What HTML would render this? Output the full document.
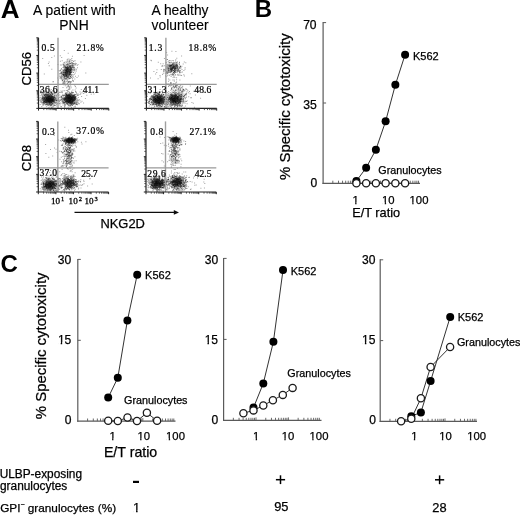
<!DOCTYPE html>
<html><head><meta charset="utf-8"><style>
html,body{margin:0;padding:0;background:#fff;}
svg{display:block;}
</style></head><body>
<svg width="520" height="515" viewBox="0 0 520 515">
<filter id="gb" x="0" y="0" width="100%" height="100%"><feGaussianBlur stdDeviation="0.35"/></filter>
<g filter="url(#gb)">
<rect width="520" height="515" fill="#fff"/>
<text x="0.70" y="17.58" font-size="26.00" font-family="Liberation Sans, sans-serif" font-weight="bold" text-anchor="start" >A</text>

<text x="254.80" y="16.58" font-size="24.00" font-family="Liberation Sans, sans-serif" font-weight="bold" text-anchor="start" >B</text>

<text x="0.46" y="271.95" font-size="24.00" font-family="Liberation Sans, sans-serif" font-weight="bold" text-anchor="start" >C</text>

<text x="33.05" y="14.58" font-size="13.91" font-family="Liberation Sans, sans-serif" font-weight="normal" text-anchor="start" stroke="#000" stroke-width="0.12">A patient with</text>

<text x="59.34" y="29.60" font-size="13.91" font-family="Liberation Sans, sans-serif" font-weight="normal" text-anchor="start" stroke="#000" stroke-width="0.12">PNH</text>

<text x="151.60" y="14.55" font-size="13.83" font-family="Liberation Sans, sans-serif" font-weight="normal" text-anchor="start" stroke="#000" stroke-width="0.12">A healthy</text>

<text x="151.62" y="29.80" font-size="13.83" font-family="Liberation Sans, sans-serif" font-weight="normal" text-anchor="start" stroke="#000" stroke-width="0.12">volunteer</text>

<text transform="translate(30.95,68.66) rotate(-90)" font-size="13.17" font-family="Liberation Sans, sans-serif" font-weight="normal" text-anchor="middle" stroke="#000" stroke-width="0.25">CD56</text>

<text transform="translate(30.95,158.18) rotate(-90)" font-size="13.17" font-family="Liberation Sans, sans-serif" font-weight="normal" text-anchor="middle" stroke="#000" stroke-width="0.25">CD8</text>

<filter id="bl" x="-10%" y="-10%" width="120%" height="120%"><feGaussianBlur stdDeviation="0.65"/></filter>
<g fill="#000" fill-opacity="0.36" filter="url(#bl)"><path d="M51.6 99.8h1v1h-1zm-1.3 -0.4h1v1h-1zm1.7 -3.5h1v1h-1zm-4.7 4.4h1v1h-1zm1 0.7h1v1h-1zm2.6 1.2h1v1h-1zm5.3 -6h1v1h-1zm-7.3 4.2h1v1h-1zm-4.7 -5.1h1v1h-1zm4.3 0.9h1v1h-1zm-1.9 4.6h1v1h-1zm1.9 -0.1h1v1h-1zm-4.3 -2.2h1v1h-1zm-2.3 1.1h1v1h-1zm9.1 2.2h1v1h-1zm5 -0.4h1v1h-1zm-13.5 -4.3h1v1h-1zm6.1 -0.2h1v1h-1zm-1.9 1.9h1v1h-1zm1.8 0.4h1v1h-1zm-5.3 -0.3h1v1h-1zm6.7 0.3h1v1h-1zm0.3 1.7h1v1h-1zm-2.3 -5.4h1v1h-1zm0.4 1.6h1v1h-1zm0.1 -0.3h1v1h-1zm2.2 2.7h1v1h-1zm1 -0.4h1v1h-1zm-1.4 5.1h1v1h-1zm-0.8 -2.5h1v1h-1zm1.2 -0.7h1v1h-1zm-4.4 -1.6h1v1h-1zm0.5 -0.7h1v1h-1zm5.6 -2.7h1v1h-1zm-2.5 2.3h1v1h-1zm-2.6 -1.1h1v1h-1zm2.9 6.4h1v1h-1zm6.2 -9.1h1v1h-1zm-10.3 5.8h1v1h-1zm2.9 -1.8h1v1h-1zm2.1 -3.7h1v1h-1zm1.7 2.7h1v1h-1zm-7.6 2.1h1v1h-1zm1.9 0.3h1v1h-1zm1.2 -1.3h1v1h-1zm-1.2 2.2h1v1h-1zm0.7 -3.4h1v1h-1zm-1.1 6.8h1v1h-1zm2.4 -3h1v1h-1zm-4 -7.2h1v1h-1zm4.1 5.4h1v1h-1zm4.1 -3.4h1v1h-1zm-2.1 7.8h1v1h-1zm-4.4 -3.5h1v1h-1zm2.7 0.6h1v1h-1zm-1.8 -0.4h1v1h-1zm2.4 -5.3h1v1h-1zm-3.5 2.3h1v1h-1zm0.9 3.3h1v1h-1zm1.3 -2.9h1v1h-1zm1.3 4.5h1v1h-1zm-1.6 -2.6h1v1h-1zm3.4 2.9h1v1h-1zm-0.9 -4.8h1v1h-1zm-3.8 3.6h1v1h-1zm4.7 -1h1v1h-1zm-3.3 -2.3h1v1h-1zm-1.7 1h1v1h-1zm3.5 -1.5h1v1h-1zm5.2 5.5h1v1h-1zm-10.5 -6.1h1v1h-1zm4.9 2.9h1v1h-1zm-3 -2h1v1h-1zm3 0.3h1v1h-1zm-4.2 -0.3h1v1h-1zm3.2 0.5h1v1h-1zm0 5.3h1v1h-1zm-2.2 -9.3h1v1h-1zm2.2 4.7h1v1h-1zm4.6 2.9h1v1h-1zm-5.9 -2.2h1v1h-1zm-0.7 -2.5h1v1h-1zm4.4 1.9h1v1h-1zm-2.1 -1.8h1v1h-1zm1.2 1.3h1v1h-1zm-1.3 -6.3h1v1h-1zm2.7 6.4h1v1h-1zm1 1.9h1v1h-1zm-3.8 -2.3h1v1h-1zm2.2 -1.3h1v1h-1zm0.3 5.3h1v1h-1zm2.8 -0.2h1v1h-1zm-6.1 -5.9h1v1h-1zm1.8 3.4h1v1h-1zm-5.5 1.4h1v1h-1zm4.7 -5.9h1v1h-1zm1.8 0.7h1v1h-1zm-1.6 -0.8h1v1h-1zm2.3 2.6h1v1h-1zm-2.1 4.4h1v1h-1zm4.1 2.9h1v1h-1zm-10.7 -5.1h1v1h-1zm2 0.1h1v1h-1zm-2.5 -1.5h1v1h-1zm11.2 -2.2h1v1h-1zm-7.1 -0.2h1v1h-1zm3.8 2.3h1v1h-1zm-2.2 -2.8h1v1h-1zm2.9 4.5h1v1h-1zm-5.9 1.7h1v1h-1zm2 -1.1h1v1h-1zm3.7 -1.9h1v1h-1zm-0.1 5.6h1v1h-1zm-1.5 -1.6h1v1h-1zm-0.3 -5.1h1v1h-1zm-2.2 3h1v1h-1zm7.4 -4.7h1v1h-1zm-7.5 5.5h1v1h-1zm-4.7 -4.5h1v1h-1zm10.5 1.6h1v1h-1zm-6.4 -0.5h1v1h-1zm-4.2 -0.3h1v1h-1zm6.3 0.5h1v1h-1zm4.1 0.9h1v1h-1zm-0.1 -6.2h1v1h-1zm3.6 7.2h1v1h-1zm-4 -0.3h1v1h-1zm-8.3 1.3h1v1h-1zm9.4 -4.5h1v1h-1zm-3.7 2.4h1v1h-1zm-1.9 -0.5h1v1h-1zm-6.9 3.1h1v1h-1zm3.6 -7.9h1v1h-1zm14.5 6h1v1h-1zm-13.7 0.2h1v1h-1zm-1.3 -2.2h1v1h-1zm5.5 1.4h1v1h-1zm9.6 3.2h1v1h-1zm-16.1 1.6h1v1h-1zm-0.7 -7.1h1v1h-1zm3.6 -2.8h1v1h-1zm7.5 2.5h1v1h-1zm-1.5 -2.5h1v1h-1zm-3.2 4h1v1h-1zm-2 -4.9h1v1h-1zm4.5 6.2h1v1h-1zm-3.1 0h1v1h-1zm2.4 -0.1h1v1h-1zm-5.1 4.5h1v1h-1zm26.3 -5.2h1v1h-1zm-2.5 0.4h1v1h-1zm-3.6 -3.2h1v1h-1zm6.7 2.5h1v1h-1zm-9.1 4.1h1v1h-1zm6.9 -6.8h1v1h-1zm3 1h1v1h-1zm-9 -1.9h1v1h-1zm2.6 7h1v1h-1zm1.2 -4h1v1h-1zm3.8 1h1v1h-1zm-0.4 -0.5h1v1h-1zm-2.2 0.9h1v1h-1zm-1.8 0h1v1h-1zm6.8 -0.8h1v1h-1zm-0.3 -0.1h1v1h-1zm-8.1 3.4h1v1h-1zm3.1 -4.3h1v1h-1zm1.4 -0.5h1v1h-1zm-1.9 4.5h1v1h-1zm5.7 -1.8h1v1h-1zm-2.8 -1h1v1h-1zm-6.3 3.1h1v1h-1zm3.6 -5h1v1h-1zm3.3 1h1v1h-1zm-2.3 -3.4h1v1h-1zm-2.8 5.2h1v1h-1zm1.6 2.1h1v1h-1zm2.6 -1.3h1v1h-1zm-3.9 -1.4h1v1h-1zm0 -1.5h1v1h-1zm1.5 -1.1h1v1h-1zm0.4 -1.6h1v1h-1zm-2.7 0.3h1v1h-1zm4.6 5.2h1v1h-1zm-0.2 -1h1v1h-1zm3.6 0.8h1v1h-1zm-5.3 -3h1v1h-1zm0.6 0.6h1v1h-1zm2.5 5.1h1v1h-1zm-2.3 0h1v1h-1zm-1.9 -4.2h1v1h-1zm3.1 -3.8h1v1h-1zm-0.8 3.4h1v1h-1zm-3.1 0.2h1v1h-1zm7.7 2.1h1v1h-1zm-4 -3.3h1v1h-1zm-0.1 -1.9h1v1h-1zm1.2 1.5h1v1h-1zm0.1 3.1h1v1h-1zm-3.1 -1.1h1v1h-1zm5.3 -5h1v1h-1zm-5.4 3.8h1v1h-1zm0.1 3.1h1v1h-1zm3.6 -3.4h1v1h-1zm-1.2 1.4h1v1h-1zm-1.6 -0.5h1v1h-1zm-1.7 2.1h1v1h-1zm4.1 -5.6h1v1h-1zm-0.4 5.6h1v1h-1zm-0.6 -3.7h1v1h-1zm-3.3 2.8h1v1h-1zm3.1 0.6h1v1h-1zm2 -0.9h1v1h-1zm1.7 3.7h1v1h-1zm-4.7 -6.7h1v1h-1zm-2.1 8h1v1h-1zm2.2 -5.7h1v1h-1zm0.4 -3.9h1v1h-1zm0.4 2.5h1v1h-1zm-5.8 3.9h1v1h-1zm3.5 -0.1h1v1h-1zm1.5 -4.3h1v1h-1zm1.8 3.3h1v1h-1zm-1.5 -4.9h1v1h-1zm-1.3 3.7h1v1h-1zm1.6 3.1h1v1h-1zm3.7 -5.4h1v1h-1zm0.1 -1.6h1v1h-1zm-1.1 2.3h1v1h-1zm-0.3 2.5h1v1h-1zm-3.1 -5.8h1v1h-1zm1 5.8h1v1h-1zm-5 -0.7h1v1h-1zm4 -4.1h1v1h-1zm0.1 4.5h1v1h-1zm-0.9 0.2h1v1h-1zm-4.3 -1.2h1v1h-1zm8.4 -0.6h1v1h-1zm-4.9 0.1h1v1h-1zm1.2 3.4h1v1h-1zm5.8 -2.7h1v1h-1zm-5.7 1.3h1v1h-1zm1.7 -0.4h1v1h-1zm0.2 0.5h1v1h-1zm-0.1 3.1h1v1h-1zm-2.2 -7.6h1v1h-1zm-7.8 11h1v1h-1zm11.2 -8.7h1v1h-1zm-4.4 4.5h1v1h-1zm-6.6 -5.5h1v1h-1zm13.8 2.8h1v1h-1zm-6.6 3.4h1v1h-1zm1.2 -3.9h1v1h-1zm-1.6 -2.2h1v1h-1zm6.5 0.5h1v1h-1zm-3.1 6.6h1v1h-1zm-0.5 -10.3h1v1h-1zm-4.2 9.3h1v1h-1zm-4.3 -8.5h1v1h-1zm6.5 8.2h1v1h-1zm-3.3 -1.3h1v1h-1zm8.9 -5.1h1v1h-1zm-5.7 1.8h1v1h-1zm0.5 -4.6h1v1h-1zm-1.8 4h1v1h-1zm3.9 4.9h1v1h-1zm-5.4 -8h1v1h-1zm0.9 3h1v1h-1zm2.8 -3.7h1v1h-1zm2.7 7.1h1v1h-1zm-2.7 -2.9h1v1h-1zm-2.6 1.2h1v1h-1zm4.4 1.6h1v1h-1zm-4.4 -1.2h1v1h-1zm5.8 -1.2h1v1h-1zm-1.9 2.4h1v1h-1zm-0.9 -4h1v1h-1zm-7.4 2.1h1v1h-1zm11.4 1.6h1v1h-1zm-7.4 -3h1v1h-1zm0.3 6h1v1h-1zm5.7 -5.7h1v1h-1zm-2.7 2.3h1v1h-1zm-1.6 4.8h1v1h-1zm-13.9 -9.2h1v1h-1zm16.7 2.4h1v1h-1zm-7.8 0.8h1v1h-1zm8 -4.1h1v1h-1zm1.4 7.8h1v1h-1zm-5.2 -7.2h1v1h-1zm1.4 3.3h1v1h-1zm12 -9.2h1v1h-1zm-14.8 8.4h1v1h-1zm2.5 -3.5h1v1h-1zm-7.4 5.1h1v1h-1zm6.1 0.9h1v1h-1zm-1.1 -25.2h1v1h-1zm-1.3 0.1h1v1h-1zm2.2 -5.8h1v1h-1zm-2.3 6h1v1h-1zm4 -1h1v1h-1zm-2.9 1.7h1v1h-1zm-1.8 -2.2h1v1h-1zm2.7 -3.2h1v1h-1zm1.7 2.8h1v1h-1zm-4.3 6.2h1v1h-1zm5.3 -10.1h1v1h-1zm2.6 -4.5h1v1h-1zm-3.1 7.6h1v1h-1zm-2.9 -1.6h1v1h-1zm-1.1 7.5h1v1h-1zm1.3 -8.2h1v1h-1zm3.8 2.9h1v1h-1zm-4.4 -2.3h1v1h-1zm-0.2 2.3h1v1h-1zm1.3 -0.4h1v1h-1zm-6.3 2.9h1v1h-1zm5.9 -8.6h1v1h-1zm1.6 7.9h1v1h-1zm-0.2 -6.5h1v1h-1zm-1.6 7.3h1v1h-1zm-2.8 -1.9h1v1h-1zm2.5 -2.3h1v1h-1zm-1.2 0.6h1v1h-1zm-6.6 7.5h1v1h-1zm13.3 -14.3h1v1h-1zm-4.4 7.6h1v1h-1zm-7.2 3.9h1v1h-1zm6.4 -9.3h1v1h-1zm1.3 2.8h1v1h-1zm1 1.4h1v1h-1zm-0.8 -8.4h1v1h-1zm2 10.3h1v1h-1zm-2.2 3.2h1v1h-1zm-1.7 -8.9h1v1h-1zm4.2 6.3h1v1h-1zm-3.1 -10.3h1v1h-1zm-5.6 9.4h1v1h-1zm5.8 -5h1v1h-1zm-0.4 4.5h1v1h-1zm1.9 -3.3h1v1h-1zm1.1 -6.4h1v1h-1zm-6.6 11.8h1v1h-1zm5.6 -4.1h1v1h-1zm-1 1.6h1v1h-1zm-0.3 -2.6h1v1h-1zm-2.1 0h1v1h-1zm-0.1 -1.4h1v1h-1zm-3.1 11.1h1v1h-1zm3 -6.7h1v1h-1zm-2.1 1h1v1h-1zm3.1 0.1h1v1h-1zm9.3 -9.7h1v1h-1zm-4.6 8.1h1v1h-1zm-0.6 3.8h1v1h-1zm-6.7 6.8h1v1h-1zm0.7 0.3h1v1h-1zm12.4 -6.2h1v1h-1zm-13.5 -7h1v1h-1zm7.7 -1.9h1v1h-1zm-5.7 3.3h1v1h-1zm-2 0.5h1v1h-1zm-1.3 -11.5h1v1h-1zm18.7 1.3h1v1h-1zm-12.6 12.2h1v1h-1zm1.5 -1.7h1v1h-1zm-1.4 -7.3h1v1h-1zm5.7 4.1h1v1h-1zm-6.8 5h1v1h-1zm3.3 -4.1h1v1h-1zm-5.2 -3.8h1v1h-1zm1.2 11.7h1v1h-1zm1.7 -8.7h1v1h-1zm-10.2 13.4h1v1h-1zm5.1 -12.8h1v1h-1zm8.9 -0.7h1v1h-1zm1.3 -8h1v1h-1zm-11.4 10.4h1v1h-1zm6.6 14.2h1v1h-1zm0.5 -4.7h1v1h-1zm-1.8 -3.5h1v1h-1zm3.6 4.6h1v1h-1zm0.9 10h1v1h-1zm-7.6 -16.6h1v1h-1zm0.5 1.2h1v1h-1zm0.9 6.1h1v1h-1zm4 1.5h1v1h-1zm3.9 -3.8h1v1h-1zm-0.7 3.7h1v1h-1zm-8.1 6.3h1v1h-1zm19.4 -35.4h1v1h-1zm-39.8 18.6h1v1h-1zm37.7 18.7h1v1h-1zm-11.1 7.2h1v1h-1z"/><path d="M51.4 99.4h1v1h-1zm-5.4 -1.7h1v1h-1zm0.6 5.1h1v1h-1zm3.5 -1.2h1v1h-1zm-3.3 -4.5h1v1h-1zm2.9 -1.7h1v1h-1zm-5.3 5.3h1v1h-1zm8.1 -1.1h1v1h-1zm-2.5 0.5h1v1h-1zm0 -1.6h1v1h-1zm-1.9 -0.4h1v1h-1zm2 0.7h1v1h-1zm-3.2 -0.2h1v1h-1zm3.5 -3.2h1v1h-1zm-1.3 4.9h1v1h-1zm-3.1 2.1h1v1h-1zm-3 -0.4h1v1h-1zm5.2 -4.6h1v1h-1zm-1.8 3.7h1v1h-1zm2.4 -2h1v1h-1zm0.6 -1.7h1v1h-1zm0.6 3.7h1v1h-1zm-6.1 -3.7h1v1h-1zm-1.6 -0.6h1v1h-1zm8.4 3.7h1v1h-1zm-0.9 3.9h1v1h-1zm0.3 -3.5h1v1h-1zm-0.8 -0.2h1v1h-1zm1 -7.9h1v1h-1zm-2 7.2h1v1h-1zm-1.9 0h1v1h-1zm6.3 0.4h1v1h-1zm-4.6 0.1h1v1h-1zm1 -1.6h1v1h-1zm-0.8 -0.1h1v1h-1zm0 -1.5h1v1h-1zm0.6 -1.7h1v1h-1zm1 2.8h1v1h-1zm-3.3 2.1h1v1h-1zm-3 2.4h1v1h-1zm4.7 -3.4h1v1h-1zm-1.2 2.9h1v1h-1zm1.5 -1.8h1v1h-1zm1.2 -3h1v1h-1zm-1.5 1.7h1v1h-1zm2.6 -0.9h1v1h-1zm-1.5 -1.1h1v1h-1zm-2 -6.4h1v1h-1zm1.1 7.3h1v1h-1zm1.9 0.3h1v1h-1zm-6.3 4h1v1h-1zm3.2 -2.1h1v1h-1zm0.5 -2.6h1v1h-1zm3 1.5h1v1h-1zm-1 0.5h1v1h-1zm-0.1 -1.4h1v1h-1zm0.2 1.9h1v1h-1zm-2.3 -1.4h1v1h-1zm1.5 2.2h1v1h-1zm-4.3 -0.8h1v1h-1zm6.2 -0.1h1v1h-1zm-3.4 -1.5h1v1h-1zm4.4 4.7h1v1h-1zm-5.2 -6.2h1v1h-1zm0.1 2.1h1v1h-1zm-0.7 -2.3h1v1h-1zm5.6 2.6h1v1h-1zm-5 0.1h1v1h-1zm6.2 0.5h1v1h-1zm-1 -1.2h1v1h-1zm-2.3 2.8h1v1h-1zm-3 -7.2h1v1h-1zm1.3 2.4h1v1h-1zm-2.4 -0.8h1v1h-1zm3.7 2.7h1v1h-1zm5 -2.9h1v1h-1zm-7.5 4.3h1v1h-1zm-0.8 1.4h1v1h-1zm0.6 -3.3h1v1h-1zm2 -2.9h1v1h-1zm2.1 5.1h1v1h-1zm-3.8 -6h1v1h-1zm1.6 6.2h1v1h-1zm-0.9 -0.7h1v1h-1zm5.4 -1.9h1v1h-1zm-6.4 -1.4h1v1h-1zm0.4 0.7h1v1h-1zm1.1 3.6h1v1h-1zm-3.4 -0.6h1v1h-1zm9.9 0.9h1v1h-1zm-8.7 -1.7h1v1h-1zm6 3h1v1h-1zm-9.4 -9.1h1v1h-1zm11.7 2.9h1v1h-1zm-5.4 5.2h1v1h-1zm-8.6 -0.4h1v1h-1zm11.4 2.3h1v1h-1zm-1.9 -2.9h1v1h-1zm0.6 -9.8h1v1h-1zm-4.5 4h1v1h-1zm9.8 4.6h1v1h-1zm-2.9 -6.1h1v1h-1zm0.9 1.1h1v1h-1zm4.6 6.3h1v1h-1zm-6 -1.7h1v1h-1zm2.1 2.4h1v1h-1zm-4.9 1.2h1v1h-1zm-5.1 0.9h1v1h-1zm1.1 -2.5h1v1h-1zm4.2 5.1h1v1h-1zm-5.6 -5.5h1v1h-1zm5.7 -10.4h1v1h-1zm5.7 7.5h1v1h-1zm-6.1 -4.1h1v1h-1zm-3.3 4h1v1h-1zm3 3.4h1v1h-1zm1.4 -2.5h1v1h-1zm-4.8 2.9h1v1h-1zm-4.5 -11h1v1h-1zm16.3 9.4h1v1h-1zm-8.8 1h1v1h-1zm7.7 -1h1v1h-1zm-9.7 -7.1h1v1h-1zm4.7 12h1v1h-1zm-8.8 0.1h1v1h-1zm-1.6 -3.3h1v1h-1zm8.2 -8.6h1v1h-1zm-4.2 -1.3h1v1h-1zm-0.9 0.2h1v1h-1zm-0.4 2.1h1v1h-1zm4.8 1.2h1v1h-1zm-7.6 -4.3h1v1h-1zm5.6 11.3h1v1h-1zm5.6 -1.6h1v1h-1zm-9.6 -6h1v1h-1zm13.5 11h1v1h-1zm-3.7 -15.3h1v1h-1zm-11 3.6h1v1h-1zm7.9 5.1h1v1h-1zm-7.6 -1.3h1v1h-1zm27.5 1.4h1v1h-1zm1.8 -1.7h1v1h-1zm-5.8 -0.5h1v1h-1zm7.2 2.2h1v1h-1zm-6.9 -3.2h1v1h-1zm2 4.5h1v1h-1zm2.8 -2.8h1v1h-1zm2.5 0.6h1v1h-1zm0.4 1.1h1v1h-1zm-5.2 -1.1h1v1h-1zm3.7 2.5h1v1h-1zm-0.2 -3.5h1v1h-1zm-1.1 5.5h1v1h-1zm-2.4 -2.7h1v1h-1zm2.7 -1.8h1v1h-1zm4.2 0.5h1v1h-1zm-5.8 -0.8h1v1h-1zm0.6 -1.9h1v1h-1zm3.4 1.2h1v1h-1zm-6.6 1.9h1v1h-1zm-0.7 1.3h1v1h-1zm0.4 2.6h1v1h-1zm-0.8 -5.3h1v1h-1zm-1.5 0h1v1h-1zm8.1 4.2h1v1h-1zm0.4 -5.3h1v1h-1zm-3.8 2.7h1v1h-1zm-0.6 0.5h1v1h-1zm3.1 -3.1h1v1h-1zm-2.3 3.9h1v1h-1zm1.6 -1.3h1v1h-1zm1.5 0.6h1v1h-1zm-8.7 -3.5h1v1h-1zm8.6 3.2h1v1h-1zm-0.5 -1.9h1v1h-1zm-3.3 1.2h1v1h-1zm0.4 1.1h1v1h-1zm2.6 -1.6h1v1h-1zm0.6 1.4h1v1h-1zm-5.6 0h1v1h-1zm4.5 -3.8h1v1h-1zm-0.9 3.6h1v1h-1zm-2.3 -1.5h1v1h-1zm2.8 6.9h1v1h-1zm0.2 -5.2h1v1h-1zm3.7 -4.6h1v1h-1zm-3.6 5.4h1v1h-1zm-1 -1.9h1v1h-1zm1.4 1h1v1h-1zm-4 -1.6h1v1h-1zm2.5 3.6h1v1h-1zm2 -2.6h1v1h-1zm-4.1 -0.9h1v1h-1zm4.9 0.4h1v1h-1zm-3.9 -0.8h1v1h-1zm-0.7 -2.7h1v1h-1zm5.3 2.9h1v1h-1zm-0.5 -0.5h1v1h-1zm-3.1 -2.1h1v1h-1zm2.6 1h1v1h-1zm-0.2 0.8h1v1h-1zm-0.1 6.1h1v1h-1zm-5.2 -3.1h1v1h-1zm0.5 2.9h1v1h-1zm1.9 -8.5h1v1h-1zm0.5 2.2h1v1h-1zm-1.1 3.4h1v1h-1zm-3.2 -1.4h1v1h-1zm-2.4 -3.8h1v1h-1zm4 2.9h1v1h-1zm5.3 0.3h1v1h-1zm-3.8 3.1h1v1h-1zm-1.4 -7.5h1v1h-1zm-3.8 1.5h1v1h-1zm1.7 -0.5h1v1h-1zm1.2 5.9h1v1h-1zm4.4 -4.7h1v1h-1zm1.9 5.7h1v1h-1zm-8.3 -0.3h1v1h-1zm5 -1.2h1v1h-1zm0.7 -1.5h1v1h-1zm-0.9 -4.3h1v1h-1zm0.2 2.5h1v1h-1zm3.1 1.9h1v1h-1zm-5.1 -2.4h1v1h-1zm5.7 6.5h1v1h-1zm-2.5 -2.1h1v1h-1zm-4.7 -3.8h1v1h-1zm1.3 1.6h1v1h-1zm1.1 -4.1h1v1h-1zm1.8 3.9h1v1h-1zm-2.8 -1h1v1h-1zm5.7 2.8h1v1h-1zm-6.9 -4.4h1v1h-1zm0 -3.3h1v1h-1zm5.6 7h1v1h-1zm0.1 0.1h1v1h-1zm-3.6 -1.7h1v1h-1zm1.1 2.5h1v1h-1zm-1.2 -4.1h1v1h-1zm1.9 2.2h1v1h-1zm0.1 0.9h1v1h-1zm-2.2 0.6h1v1h-1zm1.4 -2.8h1v1h-1zm1.4 -2.1h1v1h-1zm-1.4 5.3h1v1h-1zm-1.6 0.6h1v1h-1zm4.4 -1h1v1h-1zm-3.8 0h1v1h-1zm4.7 -0.4h1v1h-1zm-0.3 -0.1h1v1h-1zm-7.1 0.1h1v1h-1zm4.6 0.5h1v1h-1zm-7.5 -7.8h1v1h-1zm-3.3 7.9h1v1h-1zm15.9 -5.6h1v1h-1zm-6.3 2.1h1v1h-1zm6 4.6h1v1h-1zm-1.3 -9.1h1v1h-1zm4.8 1.3h1v1h-1zm-2.9 3.8h1v1h-1zm-11.3 0.9h1v1h-1zm5.4 5.2h1v1h-1zm0.2 -11.1h1v1h-1zm11.4 9.4h1v1h-1zm-14.6 0.2h1v1h-1zm7.5 -7.2h1v1h-1zm-1.6 3.2h1v1h-1zm-6.4 -2.8h1v1h-1zm3 7h1v1h-1zm9.2 1h1v1h-1zm-11.5 -2.6h1v1h-1zm10.8 -2.1h1v1h-1zm-5.5 -6.6h1v1h-1zm7.7 11.4h1v1h-1zm-20.4 -0.5h1v1h-1zm18 1.2h1v1h-1zm-7.9 1.2h1v1h-1zm-7.9 -9.7h1v1h-1zm8.5 -1.2h1v1h-1zm4.3 9.2h1v1h-1zm0.9 -3.8h1v1h-1zm-15.6 -7.9h1v1h-1zm0.5 5.3h1v1h-1zm6.2 -4.4h1v1h-1zm9.1 -3.2h1v1h-1zm-9.6 9.3h1v1h-1zm-4.6 7.4h1v1h-1zm6.6 -11h1v1h-1zm3.7 3.3h1v1h-1zm12.1 -5.3h1v1h-1zm-13.5 4.9h1v1h-1zm2 0.4h1v1h-1zm-6.9 -1h1v1h-1zm0.1 7h1v1h-1zm6.3 -5.1h1v1h-1zm-6.8 7.1h1v1h-1zm3.7 -12.5h1v1h-1zm-5.5 7.1h1v1h-1zm15.8 2.3h1v1h-1zm-8.2 -0.7h1v1h-1zm4.4 0.4h1v1h-1zm0 -5h1v1h-1zm-16.5 -5h1v1h-1zm13.6 10.1h1v1h-1zm-4 -1h1v1h-1zm1.8 -10h1v1h-1zm12.3 8.6h1v1h-1zm-19.9 -3h1v1h-1zm4.7 3.2h1v1h-1zm10.4 -7.1h1v1h-1zm-11.3 -26.6h1v1h-1zm3.8 2.2h1v1h-1zm-0.9 -1.8h1v1h-1zm-1.5 -3.5h1v1h-1zm5.2 2.7h1v1h-1zm-4.4 4.4h1v1h-1zm-2 3.2h1v1h-1zm3.2 -14.1h1v1h-1zm-7.3 13.1h1v1h-1zm4.7 -1.1h1v1h-1zm3.3 1.5h1v1h-1zm-1.6 -6.4h1v1h-1zm2.4 -0.9h1v1h-1zm3.8 -3.2h1v1h-1zm-6.7 5.3h1v1h-1zm4.5 -3h1v1h-1zm-3.5 4.9h1v1h-1zm-4 -1.7h1v1h-1zm-1.5 -4.3h1v1h-1zm0.6 13.2h1v1h-1zm2 -4.1h1v1h-1zm1.3 2.8h1v1h-1zm0.1 -12.1h1v1h-1zm4.2 4.5h1v1h-1zm-5.4 1.1h1v1h-1zm1.5 -2.5h1v1h-1zm3.4 8.2h1v1h-1zm-3.3 -6.1h1v1h-1zm-2.2 3.3h1v1h-1zm-4.5 -0.4h1v1h-1zm7 -0.9h1v1h-1zm2.3 -5.4h1v1h-1zm-1.5 3.8h1v1h-1zm-3.4 4.3h1v1h-1zm5.4 -7.3h1v1h-1zm0.6 -0.4h1v1h-1zm-4.2 7.8h1v1h-1zm1.1 -6.9h1v1h-1zm-7.2 9.3h1v1h-1zm9.6 -10.4h1v1h-1zm2.5 1.3h1v1h-1zm-2.6 -4.6h1v1h-1zm-2.4 0.8h1v1h-1zm-4.6 7.1h1v1h-1zm5.5 -1.2h1v1h-1zm-2.6 8.6h1v1h-1zm-4.8 -2.2h1v1h-1zm5.1 -6.8h1v1h-1zm-3.6 12.9h1v1h-1zm2.3 -8.2h1v1h-1zm-2.3 4.9h1v1h-1zm3.4 -5.1h1v1h-1zm2.7 -2.6h1v1h-1zm-4.2 3.2h1v1h-1zm6.2 -2.7h1v1h-1zm-3.2 -0.6h1v1h-1zm-1.4 3.8h1v1h-1zm-2.4 -3.8h1v1h-1zm2 -0.2h1v1h-1zm-0.7 -3.8h1v1h-1zm0 3h1v1h-1zm3.5 -2h1v1h-1zm-2.8 8h1v1h-1zm4.1 -3.8h1v1h-1zm-10.2 -2.3h1v1h-1zm3.2 2.3h1v1h-1zm6.3 -3.8h1v1h-1zm-4.7 7.6h1v1h-1zm2.6 -1.2h1v1h-1zm-6.8 -1.4h1v1h-1zm2.9 -1.9h1v1h-1zm0.7 -5.1h1v1h-1zm6.9 2.6h1v1h-1zm-2.9 0.2h1v1h-1zm1.9 -2.1h1v1h-1zm-3.3 9.7h1v1h-1zm-7.1 0.8h1v1h-1zm12.3 -14.3h1v1h-1zm-2.4 5.2h1v1h-1zm1.5 -6.6h1v1h-1zm-8.4 25h1v1h-1zm1.8 -6.2h1v1h-1zm4.9 8.1h1v1h-1zm-3.9 -9.6h1v1h-1zm1.9 7.2h1v1h-1zm1.3 -5.4h1v1h-1zm5.8 4.1h1v1h-1zm-3.7 7.1h1v1h-1zm0.1 -17.8h1v1h-1zm1.7 15.1h1v1h-1zm-2.7 -7.3h1v1h-1zm-2 -29.5h1v1h-1zm2.8 6.6h1v1h-1zm2 10.8h1v1h-1zm-8.7 -20.1h1v1h-1zm-2.6 6.9h1v1h-1zm11.1 5.9h1v1h-1zm-12.4 -2.1h1v1h-1zm11.2 10.6h1v1h-1zm0.2 -13.5h1v1h-1zm-0.6 2.6h1v1h-1zm-5 3.5h1v1h-1zm-13.1 17.6h1v1h-1zm-1.3 -24.6h1v1h-1zm22.5 40.9h1v1h-1zm2.6 -3.6h1v1h-1zm17 -0.8h1v1h-1z"/><path d="M47.8 100h1v1h-1zm-1.9 -1.7h1v1h-1zm3.7 0.9h1v1h-1zm-0.8 -3.4h1v1h-1zm-3.4 5.2h1v1h-1zm5.5 -6.4h1v1h-1zm-1.5 5.7h1v1h-1zm-3.4 0.7h1v1h-1zm2.9 -0.9h1v1h-1zm-0.9 -0.7h1v1h-1zm6.1 0.1h1v1h-1zm-6.8 -1.6h1v1h-1zm8 1.7h1v1h-1zm-7.4 -0.9h1v1h-1zm3.7 -6.1h1v1h-1zm-0.9 6.5h1v1h-1zm-5.1 -3.7h1v1h-1zm6.4 5.1h1v1h-1zm-0.3 1.7h1v1h-1zm1.8 -3.3h1v1h-1zm-6.8 -4.6h1v1h-1zm6.5 5.5h1v1h-1zm-3.9 -0.6h1v1h-1zm-4.1 -3.5h1v1h-1zm4.6 4h1v1h-1zm-0.1 -1.3h1v1h-1zm-2 2.9h1v1h-1zm1.1 3.5h1v1h-1zm-1.3 -4h1v1h-1zm0.3 -0.4h1v1h-1zm0.7 -5h1v1h-1zm-1.9 4.7h1v1h-1zm5 -3.3h1v1h-1zm-3.6 -2.2h1v1h-1zm2.7 6.4h1v1h-1zm-4 -5.4h1v1h-1zm3.6 4.8h1v1h-1zm-4.8 -4.1h1v1h-1zm5 3.3h1v1h-1zm-2.5 -7.1h1v1h-1zm-3.7 6.8h1v1h-1zm2.1 0.1h1v1h-1zm0.6 -0.2h1v1h-1zm1.5 -2.8h1v1h-1zm2.1 3.1h1v1h-1zm-6 -0.8h1v1h-1zm9.1 -1.2h1v1h-1zm-5.1 1.5h1v1h-1zm0.5 -0.5h1v1h-1zm4.1 0.4h1v1h-1zm-3.1 -0.7h1v1h-1zm-2.4 -1.8h1v1h-1zm1.1 4.8h1v1h-1zm-2.5 -3.4h1v1h-1zm-4.8 5.4h1v1h-1zm9 -6.3h1v1h-1zm-1 -0.9h1v1h-1zm1.2 5.8h1v1h-1zm-4.1 -2h1v1h-1zm-0.6 4.3h1v1h-1zm-2.3 -2.7h1v1h-1zm7.3 -8.3h1v1h-1zm-3.4 0.9h1v1h-1zm1.6 3.8h1v1h-1zm-3.6 -0.7h1v1h-1zm1.2 0.3h1v1h-1zm0.4 1.6h1v1h-1zm-1.4 -0.3h1v1h-1zm5.1 1h1v1h-1zm0.1 -3h1v1h-1zm-2.5 1.4h1v1h-1zm2.1 2h1v1h-1zm1.3 -4.2h1v1h-1zm-5.8 2.1h1v1h-1zm1.5 2.6h1v1h-1zm6.5 -0.4h1v1h-1zm-5.7 -4h1v1h-1zm-0.3 5.9h1v1h-1zm0.3 -1.6h1v1h-1zm-3.9 -7.2h1v1h-1zm-0.2 6.9h1v1h-1zm2 -2.2h1v1h-1zm3.7 1.8h1v1h-1zm1.4 -4.4h1v1h-1zm0.3 2.8h1v1h-1zm-7.6 2.1h1v1h-1zm5.7 1h1v1h-1zm-5.5 0.8h1v1h-1zm4.5 -0.8h1v1h-1zm0.6 -1.4h1v1h-1zm1.3 0.3h1v1h-1zm2.8 -1.8h1v1h-1zm-6.1 -2.1h1v1h-1zm-0.4 5.5h1v1h-1zm-1.4 -7.7h1v1h-1zm-1.4 3.8h1v1h-1zm0.3 0.6h1v1h-1zm5.6 -2.2h1v1h-1zm-5.3 4.9h1v1h-1zm8.1 -4.2h1v1h-1zm-7.4 4.5h1v1h-1zm2.8 -0.8h1v1h-1zm3 -2.2h1v1h-1zm-6.2 2h1v1h-1zm7 -6h1v1h-1zm-1.9 7.6h1v1h-1zm-6.7 -7.2h1v1h-1zm-2.4 5.7h1v1h-1zm2.8 -2.9h1v1h-1zm9 1.8h1v1h-1zm-3.4 -0.4h1v1h-1zm-6.2 5.1h1v1h-1zm2.1 -7.5h1v1h-1zm7.2 4.6h1v1h-1zm1.6 3.8h1v1h-1zm1.8 -1.3h1v1h-1zm-16.3 -6.7h1v1h-1zm4.3 3.2h1v1h-1zm6.3 0.6h1v1h-1zm-1.8 -3.9h1v1h-1zm2.8 10h1v1h-1zm-2.4 -8.2h1v1h-1zm2.7 0.5h1v1h-1zm-0.5 0.8h1v1h-1zm-3 -1h1v1h-1zm3.5 -2.9h1v1h-1zm-1.6 -2.3h1v1h-1zm-0.4 8.9h1v1h-1zm-6.5 -12.5h1v1h-1zm12.1 8.4h1v1h-1zm-9.3 0h1v1h-1zm1.8 -6.7h1v1h-1zm-6.1 8h1v1h-1zm9.8 -2.2h1v1h-1zm4.8 2h1v1h-1zm-16.5 4.1h1v1h-1zm8.1 -19.3h1v1h-1zm-3.9 13.6h1v1h-1zm6 2.7h1v1h-1zm0.9 1.1h1v1h-1zm2.7 1.4h1v1h-1zm0.2 0.1h1v1h-1zm-8 -3.2h1v1h-1zm6.2 -3.6h1v1h-1zm-0.5 1.6h1v1h-1zm2.8 -0.1h1v1h-1zm-14.4 1.1h1v1h-1zm6.5 1.8h1v1h-1zm7.3 -2.3h1v1h-1zm-12.3 3h1v1h-1zm14 -3.1h1v1h-1zm-10.3 0.5h1v1h-1zm6.5 -1.1h1v1h-1zm6 0.9h1v1h-1zm-15.1 0.8h1v1h-1zm12.6 5.1h1v1h-1zm-4.4 -8.4h1v1h-1zm21.2 0.3h1v1h-1zm-4.1 1.8h1v1h-1zm1.9 0.5h1v1h-1zm2 3.8h1v1h-1zm-0.2 -4h1v1h-1zm-4.4 -2.8h1v1h-1zm1.7 4.3h1v1h-1zm2.6 0.9h1v1h-1zm-0.9 1.3h1v1h-1zm-6.6 -2.3h1v1h-1zm5.6 -2.2h1v1h-1zm-0.8 1.5h1v1h-1zm0.6 -0.2h1v1h-1zm1.1 -1.5h1v1h-1zm4.1 4.6h1v1h-1zm0 -4.8h1v1h-1zm-6.8 3.1h1v1h-1zm1.1 0.3h1v1h-1zm4.6 -1.7h1v1h-1zm-6.5 1.8h1v1h-1zm7.4 -4.1h1v1h-1zm-7 -1h1v1h-1zm-1.2 -0.4h1v1h-1zm4.5 2.9h1v1h-1zm-0.3 -5.3h1v1h-1zm-0.8 10h1v1h-1zm3.3 -6.1h1v1h-1zm-1.6 -1.2h1v1h-1zm-7.1 3.9h1v1h-1zm8.7 -0.3h1v1h-1zm-4.9 -2.7h1v1h-1zm6.2 0.4h1v1h-1zm-3.1 7.5h1v1h-1zm-4.1 -7.8h1v1h-1zm6 5.3h1v1h-1zm-1.6 -7h1v1h-1zm-6.7 4.6h1v1h-1zm3.1 0.8h1v1h-1zm-0.5 -4.5h1v1h-1zm6.8 2.9h1v1h-1zm-4.1 -0.3h1v1h-1zm1.4 -0.8h1v1h-1zm-3.2 -0.8h1v1h-1zm1.5 0.6h1v1h-1zm-1.2 1.7h1v1h-1zm1.8 3.1h1v1h-1zm-0.9 -4.6h1v1h-1zm0.2 -0.7h1v1h-1zm1.4 6.5h1v1h-1zm-1.6 -5.1h1v1h-1zm-3.6 1.7h1v1h-1zm3.1 -1.1h1v1h-1zm-4.5 0.2h1v1h-1zm-0.1 3.1h1v1h-1zm4.1 -2.1h1v1h-1zm1.9 -2.7h1v1h-1zm5.5 1.1h1v1h-1zm-8.7 -2.4h1v1h-1zm2.5 -0.1h1v1h-1zm2.1 0.5h1v1h-1zm-3.9 2.5h1v1h-1zm1 -0.7h1v1h-1zm-0.9 3h1v1h-1zm4.4 -1.2h1v1h-1zm-3.9 -5.8h1v1h-1zm3.5 0.3h1v1h-1zm-5.2 3.6h1v1h-1zm0.2 -4.2h1v1h-1zm4.3 2.5h1v1h-1zm-4.3 4.1h1v1h-1zm5.7 -3h1v1h-1zm-3.7 2.9h1v1h-1zm-0.9 -3.8h1v1h-1zm2.5 2.4h1v1h-1zm-1.6 -4.2h1v1h-1zm2 1.5h1v1h-1zm-5.4 -2.9h1v1h-1zm1.8 7.3h1v1h-1zm6 -4.7h1v1h-1zm-9.5 5.4h1v1h-1zm10.1 -4.3h1v1h-1zm-8.5 0.4h1v1h-1zm-0.2 1.6h1v1h-1zm4.6 1.3h1v1h-1zm-0.1 -2.1h1v1h-1zm-1.7 0.8h1v1h-1zm4.7 4h1v1h-1zm-6 -5.5h1v1h-1zm8.1 -2.3h1v1h-1zm-2.3 0.3h1v1h-1zm-1.1 1.9h1v1h-1zm0.5 -2h1v1h-1zm-2.8 1.3h1v1h-1zm1.1 1.7h1v1h-1zm-1.9 0.2h1v1h-1zm0.5 -3.5h1v1h-1zm-3.8 1.5h1v1h-1zm-1.5 3h1v1h-1zm5.5 -3.9h1v1h-1zm2.3 5.4h1v1h-1zm-1.5 -3.3h1v1h-1zm-0.6 0.5h1v1h-1zm-2.8 -0.2h1v1h-1zm2.5 2.5h1v1h-1zm-8.9 -9.2h1v1h-1zm8.9 6h1v1h-1zm3.9 2.7h1v1h-1zm5.2 -0.9h1v1h-1zm-7.6 2.5h1v1h-1zm-7 0.6h1v1h-1zm0.2 -5.7h1v1h-1zm10 5.8h1v1h-1zm-7.5 -6.3h1v1h-1zm-1.2 7.3h1v1h-1zm3.3 -8.5h1v1h-1zm-4.9 6.1h1v1h-1zm4.9 -0.8h1v1h-1zm-1 -5.5h1v1h-1zm-2.8 3.4h1v1h-1zm6.1 -2.2h1v1h-1zm-3.3 -6.5h1v1h-1zm3.9 7.8h1v1h-1zm1 7h1v1h-1zm-1.2 -4h1v1h-1zm-7.5 -6h1v1h-1zm8.5 6.8h1v1h-1zm-10.1 -4.1h1v1h-1zm-2.1 6.9h1v1h-1zm16.5 -12.7h1v1h-1zm-7.5 6.9h1v1h-1zm-0.2 -4.1h1v1h-1zm-0.6 12.7h1v1h-1zm7.9 -19.6h1v1h-1zm-3 7.4h1v1h-1zm1.9 0.7h1v1h-1zm-6.3 6.7h1v1h-1zm6.1 -3.9h1v1h-1zm-13.2 -1.6h1v1h-1zm0.1 2.9h1v1h-1zm10.4 -2.3h1v1h-1zm-3.1 2h1v1h-1zm1.2 1.1h1v1h-1zm5.6 -1.7h1v1h-1zm-4.7 4.3h1v1h-1zm5.4 0.5h1v1h-1zm-13.4 -1.6h1v1h-1zm-0.1 -11.9h1v1h-1zm7.8 14.3h1v1h-1zm2.2 -5.8h1v1h-1zm3 3.1h1v1h-1zm-8.5 -7.1h1v1h-1zm3.1 5.2h1v1h-1zm0.4 -1.5h1v1h-1zm1.8 2.5h1v1h-1zm2.9 -0.5h1v1h-1zm-0.7 -6.4h1v1h-1zm-3.3 -3.2h1v1h-1zm-9.7 0.2h1v1h-1zm8.5 10.4h1v1h-1zm0.6 -8.5h1v1h-1zm-1 9.3h1v1h-1zm2.5 -4h1v1h-1zm-7.9 7.2h1v1h-1zm8.4 -38.3h1v1h-1zm-0.5 -2.7h1v1h-1zm-7.6 7h1v1h-1zm2 0.2h1v1h-1zm-3.7 -7.7h1v1h-1zm1.6 3.2h1v1h-1zm0.8 11.1h1v1h-1zm-0.2 -5.9h1v1h-1zm-3.6 4.1h1v1h-1zm1.6 -4.1h1v1h-1zm2.9 1.4h1v1h-1zm1 -4.7h1v1h-1zm-0.4 0.9h1v1h-1zm-1.8 4.2h1v1h-1zm2 0h1v1h-1zm-3 4.2h1v1h-1zm6.3 -8h1v1h-1zm-5.8 3.1h1v1h-1zm4.1 -6.5h1v1h-1zm-1.2 5.1h1v1h-1zm-0.2 -1.1h1v1h-1zm-0.5 2.2h1v1h-1zm4.7 -1h1v1h-1zm-5.2 3.3h1v1h-1zm-3.5 -1.1h1v1h-1zm6.7 -1.6h1v1h-1zm-1 -0.7h1v1h-1zm-3 -2.2h1v1h-1zm1.2 -3.2h1v1h-1zm9.5 3.9h1v1h-1zm-9.8 0.2h1v1h-1zm0.5 3.4h1v1h-1zm5.3 -14.1h1v1h-1zm-1.2 11.8h1v1h-1zm-3.1 -4.8h1v1h-1zm1 1.6h1v1h-1zm-3.1 -1h1v1h-1zm3.1 9h1v1h-1zm-1.4 -4.8h1v1h-1zm-0.1 -0.8h1v1h-1zm-1.9 1.1h1v1h-1zm-8.1 5.5h1v1h-1zm14.1 -14.9h1v1h-1zm-10.4 15.1h1v1h-1zm6.9 -8.3h1v1h-1zm1 6.2h1v1h-1zm-4.7 -10.1h1v1h-1zm4.3 2.2h1v1h-1zm-7.5 9.9h1v1h-1zm9.3 -10.2h1v1h-1zm-4.8 0.2h1v1h-1zm2.3 4.8h1v1h-1zm-2.1 -5.6h1v1h-1zm4.1 6.5h1v1h-1zm-5.6 -1.5h1v1h-1zm4.7 0.5h1v1h-1zm5.4 -5.6h1v1h-1zm-2.3 -1h1v1h-1zm-7 4.7h1v1h-1zm-0.3 -1.5h1v1h-1zm-0.5 9.2h1v1h-1zm4.1 -6.3h1v1h-1zm-0.6 -9.1h1v1h-1zm1.7 0.1h1v1h-1zm-1.4 12.8h1v1h-1zm-2.9 0.4h1v1h-1zm9.1 -2.4h1v1h-1zm0.3 -9.2h1v1h-1zm-5.9 -6h1v1h-1zm-3.1 13.3h1v1h-1zm-1.2 9h1v1h-1zm10.3 -10.2h1v1h-1zm-5.1 -4.7h1v1h-1zm-3.3 12.5h1v1h-1zm-1.8 -10.1h1v1h-1zm-2.5 9.5h1v1h-1zm2.8 -0.4h1v1h-1zm5.5 -6.1h1v1h-1zm-0.8 6.2h1v1h-1zm-5.5 -3h1v1h-1zm-5.1 -4.6h1v1h-1zm9.1 2.3h1v1h-1zm0 -5.8h1v1h-1zm-7.4 6.6h1v1h-1zm9.2 0.3h1v1h-1zm3.5 -8.4h1v1h-1zm-2.4 1.7h1v1h-1zm-5.3 4.1h1v1h-1zm-5.7 0h1v1h-1zm0.5 -1.2h1v1h-1zm8.3 3.6h1v1h-1zm-0.8 -7.1h1v1h-1zm1 -4.1h1v1h-1zm-0.4 19.1h1v1h-1zm5 -14.7h1v1h-1zm-4.8 5.5h1v1h-1zm-4.2 2.9h1v1h-1zm2.7 4.8h1v1h-1zm-6.3 11.1h1v1h-1zm1.7 -7.5h1v1h-1zm5.6 -1.2h1v1h-1zm-1.4 -13.3h1v1h-1zm1.8 13.3h1v1h-1zm-4 -3.5h1v1h-1zm4.5 -2.7h1v1h-1zm1.5 2h1v1h-1zm-1.4 9h1v1h-1zm-11.3 -22.6h1v1h-1zm8.5 0.7h1v1h-1zm-2.8 1.9h1v1h-1zm12.6 31.2h1v1h-1z"/><path d="M49.9 99.9h1v1h-1zm0.1 -2.6h1v1h-1zm-0.6 2.4h1v1h-1zm-0.8 2.1h1v1h-1zm-5.4 -8.8h1v1h-1zm6.3 4.1h1v1h-1zm-6.5 0.2h1v1h-1zm3.6 0.5h1v1h-1zm6 0h1v1h-1zm-0.2 -1.4h1v1h-1zm-3.9 4.5h1v1h-1zm-0.9 -1.2h1v1h-1zm6 -6.8h1v1h-1zm-2.3 3.2h1v1h-1zm1.4 0.4h1v1h-1zm-0.2 1.7h1v1h-1zm-4.6 -2.3h1v1h-1zm3.2 1.6h1v1h-1zm-0.6 0.7h1v1h-1zm-0.1 1.4h1v1h-1zm1.8 0.7h1v1h-1zm-4.5 -2.6h1v1h-1zm6.2 -2.9h1v1h-1zm-0.1 3.7h1v1h-1zm-7.8 0.1h1v1h-1zm2.3 1.4h1v1h-1zm3.9 3h1v1h-1zm2.2 -1.8h1v1h-1zm-1.1 -0.1h1v1h-1zm0.3 -0.4h1v1h-1zm-8.1 -7.9h1v1h-1zm0.1 9.6h1v1h-1zm7.5 -1.4h1v1h-1zm-1.9 -2.2h1v1h-1zm-5.7 -1.4h1v1h-1zm1.8 -3.2h1v1h-1zm3 0.5h1v1h-1zm-6.9 1.7h1v1h-1zm1.6 2.3h1v1h-1zm1.5 -3h1v1h-1zm0.6 3.3h1v1h-1zm4.5 -5.7h1v1h-1zm0.2 3.2h1v1h-1zm0.7 0.7h1v1h-1zm-4.2 0.9h1v1h-1zm-2.4 -0.1h1v1h-1zm2.3 2.5h1v1h-1zm4.6 -1h1v1h-1zm-2.2 -1h1v1h-1zm-3.6 -1.3h1v1h-1zm2.3 2.2h1v1h-1zm-4.5 -1.1h1v1h-1zm7.6 -0.3h1v1h-1zm-8.1 0.8h1v1h-1zm1 -4.5h1v1h-1zm1.3 4.5h1v1h-1zm0.1 0h1v1h-1zm0.4 -1.9h1v1h-1zm-1.8 5.2h1v1h-1zm9.9 -4.8h1v1h-1zm-8.3 2.6h1v1h-1zm4.3 0.4h1v1h-1zm-2.8 -3h1v1h-1zm1.4 1.4h1v1h-1zm-6.4 0.8h1v1h-1zm6.3 0.5h1v1h-1zm-1.3 1.9h1v1h-1zm-1 -4.4h1v1h-1zm0.4 2.7h1v1h-1zm7.8 -3.6h1v1h-1zm-4.6 1.2h1v1h-1zm0.7 -0.8h1v1h-1zm-2.8 0.2h1v1h-1zm1.1 2.8h1v1h-1zm-4.7 0.3h1v1h-1zm4.7 -6.7h1v1h-1zm-0.9 6.9h1v1h-1zm1.1 -1.4h1v1h-1zm-1.1 -2h1v1h-1zm3.1 1.5h1v1h-1zm-2.1 0.5h1v1h-1zm-3.8 -1.9h1v1h-1zm6.6 5.6h1v1h-1zm-6.2 -6h1v1h-1zm1.6 -0.5h1v1h-1zm1 -0.2h1v1h-1zm-0.9 0.7h1v1h-1zm-3.3 5.2h1v1h-1zm-0.1 -6.4h1v1h-1zm4.5 3.8h1v1h-1zm-0.2 -1.4h1v1h-1zm-1.2 2.4h1v1h-1zm-0.6 -4.2h1v1h-1zm1.9 2h1v1h-1zm-0.4 -2.4h1v1h-1zm1 1.9h1v1h-1zm-2.5 -3.6h1v1h-1zm-6.6 5.1h1v1h-1zm10.5 1.4h1v1h-1zm-8.7 1.2h1v1h-1zm11.6 1.6h1v1h-1zm-6.4 -4h1v1h-1zm3.5 -0.4h1v1h-1zm1.5 -3h1v1h-1zm-4.1 4.8h1v1h-1zm6.1 -1.2h1v1h-1zm-9 6.1h1v1h-1zm-1 -7.3h1v1h-1zm2.6 -6.3h1v1h-1zm-7.8 3.1h1v1h-1zm14.1 -4.1h1v1h-1zm-6.1 12.1h1v1h-1zm5.5 -7.7h1v1h-1zm-5.8 2.6h1v1h-1zm-0.9 -2.7h1v1h-1zm-6.1 -2.8h1v1h-1zm10.5 6.7h1v1h-1zm4.6 -7.6h1v1h-1zm2.7 0.8h1v1h-1zm-13.6 3.4h1v1h-1zm3.2 3.1h1v1h-1zm-0.6 3.3h1v1h-1zm-0.3 -8.4h1v1h-1zm8.9 -1.3h1v1h-1zm-5.1 11.3h1v1h-1zm-1.3 -1.2h1v1h-1zm2.6 -2.9h1v1h-1zm-8.5 0.2h1v1h-1zm4.9 7.1h1v1h-1zm0.4 -4.5h1v1h-1zm-2 0.5h1v1h-1zm4.5 3.3h1v1h-1zm5.4 -3.4h1v1h-1zm-7.6 -7.1h1v1h-1zm-7.5 -2.9h1v1h-1zm0.3 2.7h1v1h-1zm16.1 2.1h1v1h-1zm-11.1 6h1v1h-1zm4.5 -2h1v1h-1zm3 -4.2h1v1h-1zm0.1 -2.5h1v1h-1zm0.4 7.5h1v1h-1zm-9.3 -8.4h1v1h-1zm5.8 7.9h1v1h-1zm-7.9 1h1v1h-1zm25.7 -7.9h1v1h-1zm-0.5 3.1h1v1h-1zm0.6 -0.7h1v1h-1zm5 -0.8h1v1h-1zm-3.4 2h1v1h-1zm-0.7 -2.7h1v1h-1zm-3.4 4.8h1v1h-1zm5.8 -3.6h1v1h-1zm-3.8 4.6h1v1h-1zm0.3 -1.1h1v1h-1zm-1.5 0h1v1h-1zm5.8 -3.9h1v1h-1zm-3.3 -2.9h1v1h-1zm-2.5 2.5h1v1h-1zm-2.5 0.4h1v1h-1zm4.7 1.2h1v1h-1zm3.1 2.1h1v1h-1zm0.8 -0.3h1v1h-1zm-4.5 1.5h1v1h-1zm1.7 -6h1v1h-1zm-0.4 -1.5h1v1h-1zm0.7 4.4h1v1h-1zm-0.9 2.3h1v1h-1zm-2.5 0h1v1h-1zm-0.1 -1.6h1v1h-1zm-1.9 -0.8h1v1h-1zm6.1 -0.1h1v1h-1zm-4.6 -0.7h1v1h-1zm-0.6 2.7h1v1h-1zm1.4 -3.9h1v1h-1zm2.9 2.5h1v1h-1zm-0.9 2.8h1v1h-1zm-0.3 -0.8h1v1h-1zm-0.9 -6.7h1v1h-1zm-0.4 5.8h1v1h-1zm4.2 -2.6h1v1h-1zm-7.9 2.4h1v1h-1zm5.2 -1h1v1h-1zm-0.1 -1h1v1h-1zm-1 -0.4h1v1h-1zm2 1.9h1v1h-1zm-6.6 0.3h1v1h-1zm4.2 -3.4h1v1h-1zm-0.8 2.1h1v1h-1zm2.4 2.3h1v1h-1zm-2.6 -2.6h1v1h-1zm-1.5 3.1h1v1h-1zm-0.1 -0.2h1v1h-1zm3.5 -4.3h1v1h-1zm1.7 4.6h1v1h-1zm0.1 -3.8h1v1h-1zm-0.9 3.3h1v1h-1zm-1.2 1.2h1v1h-1zm-3.7 -9.3h1v1h-1zm7.4 7.5h1v1h-1zm-5.4 -1.4h1v1h-1zm3.1 -0.9h1v1h-1zm3.4 4.6h1v1h-1zm-9.1 -4.3h1v1h-1zm2.4 -0.1h1v1h-1zm-2 0.6h1v1h-1zm0.6 -1.5h1v1h-1zm6.6 2.3h1v1h-1zm-6.6 0h1v1h-1zm5.6 3.3h1v1h-1zm-1.2 -3.3h1v1h-1zm-4.7 1.3h1v1h-1zm-3.2 0.7h1v1h-1zm8.1 1.2h1v1h-1zm2.2 -1.4h1v1h-1zm-2.8 -0.6h1v1h-1zm-2.2 -1.3h1v1h-1zm0.3 -1.2h1v1h-1zm-3.1 -0.9h1v1h-1zm5.8 0.7h1v1h-1zm1.4 1.6h1v1h-1zm-2.2 -1.3h1v1h-1zm3.2 1.2h1v1h-1zm-2.7 2h1v1h-1zm-0.3 -4h1v1h-1zm-1.9 3.3h1v1h-1zm0.2 -3h1v1h-1zm0.1 1.9h1v1h-1zm-1.4 -3.1h1v1h-1zm6.5 -1.5h1v1h-1zm-5.3 5.3h1v1h-1zm-2.7 -5.5h1v1h-1zm3.9 -0.7h1v1h-1zm2.9 2.7h1v1h-1zm-6.2 -1.3h1v1h-1zm1.1 5.1h1v1h-1zm-0.4 0.4h1v1h-1zm5.2 -3.5h1v1h-1zm2.8 -0.8h1v1h-1zm-4.1 -1.9h1v1h-1zm-1.7 1.1h1v1h-1zm-6.9 -0.4h1v1h-1zm4.9 3.9h1v1h-1zm2.4 1.1h1v1h-1zm-5.7 -1.2h1v1h-1zm11 -1.3h1v1h-1zm1.3 3.6h1v1h-1zm-2 -3.6h1v1h-1zm-9.3 3.3h1v1h-1zm0.1 -8.1h1v1h-1zm4.6 4.7h1v1h-1zm3.3 -1.4h1v1h-1zm-3.1 3.6h1v1h-1zm0.4 -3.4h1v1h-1zm-1.7 8.6h1v1h-1zm8.5 -5.6h1v1h-1zm-6.4 1.3h1v1h-1zm-1.3 -4.5h1v1h-1zm7.3 5.9h1v1h-1zm-5.8 2.1h1v1h-1zm8.9 -10.3h1v1h-1zm-4.4 9.1h1v1h-1zm0.2 -11.3h1v1h-1zm-3.4 5.8h1v1h-1zm-7.4 1h1v1h-1zm-4.2 1.1h1v1h-1zm-0.9 -3.2h1v1h-1zm10.7 0.5h1v1h-1zm14.8 1.1h1v1h-1zm-21.1 -3.6h1v1h-1zm3.8 0h1v1h-1zm-3.1 3.9h1v1h-1zm6.7 0.2h1v1h-1zm-8.8 -0.4h1v1h-1zm5.2 7.2h1v1h-1zm6.7 -9h1v1h-1zm-8.2 4.5h1v1h-1zm2.5 -5h1v1h-1zm7.3 7.2h1v1h-1zm-3.3 -7.7h1v1h-1zm-1.4 5.9h1v1h-1zm0.9 3.7h1v1h-1zm-7.9 -35.9h1v1h-1zm3 1.3h1v1h-1zm2.4 4.1h1v1h-1zm-3.1 -7.1h1v1h-1zm-1.2 4.6h1v1h-1zm0.1 2.9h1v1h-1zm-1.8 -1.1h1v1h-1zm7.2 -6.6h1v1h-1zm-5.3 1.6h1v1h-1zm0.5 3.9h1v1h-1zm2.9 1.1h1v1h-1zm1.1 -4.1h1v1h-1zm-0.1 6.5h1v1h-1zm-3.1 -6.1h1v1h-1zm-2.5 4.5h1v1h-1zm5.3 -15.6h1v1h-1zm-1 8.2h1v1h-1zm-4.4 8.7h1v1h-1zm1.9 -0.8h1v1h-1zm-0.5 -2.6h1v1h-1zm1.6 -1.7h1v1h-1zm1.7 -0.1h1v1h-1zm-5.9 -1h1v1h-1zm3.9 -1h1v1h-1zm2.5 -4.2h1v1h-1zm5.3 3.9h1v1h-1zm-6.3 4.6h1v1h-1zm-3.3 0.5h1v1h-1zm3.3 -4.9h1v1h-1zm1.4 -2h1v1h-1zm-0.2 5.6h1v1h-1zm3.6 -8.7h1v1h-1zm-6.6 5h1v1h-1zm0.1 5h1v1h-1zm0.9 -4.1h1v1h-1zm1.5 2.8h1v1h-1zm-2.2 -3.9h1v1h-1zm1.5 -1.5h1v1h-1zm-1.9 2.8h1v1h-1zm-0.4 0.9h1v1h-1zm-0.1 -0.3h1v1h-1zm3 -4.3h1v1h-1zm0.6 -4.4h1v1h-1zm-7.9 18.8h1v1h-1zm2.1 1.7h1v1h-1zm8.8 -18.7h1v1h-1zm-6.9 3.2h1v1h-1zm-1.9 8.5h1v1h-1zm2.7 -2.4h1v1h-1zm-2.2 1.1h1v1h-1zm5.7 -4.4h1v1h-1zm-3.5 1.9h1v1h-1zm1.5 -0.8h1v1h-1zm1.2 0.8h1v1h-1zm-8.3 -2.6h1v1h-1zm-1.7 4.4h1v1h-1zm2 -0.9h1v1h-1zm4.6 4.4h1v1h-1zm2 -4.2h1v1h-1zm-5.3 1.8h1v1h-1zm7.8 -3.7h1v1h-1zm6.7 -3.1h1v1h-1zm-10.8 7.6h1v1h-1zm4.2 -5.9h1v1h-1zm-9.9 8.3h1v1h-1zm10 3.6h1v1h-1zm-4 -21.3h1v1h-1zm9.5 9.2h1v1h-1zm-13.1 1.7h1v1h-1zm10 -0.9h1v1h-1zm1.4 8.9h1v1h-1zm-11 -12.5h1v1h-1zm-0.8 4.8h1v1h-1zm6 3.2h1v1h-1zm1.3 10.5h1v1h-1zm-3.2 -1.1h1v1h-1zm4 3.8h1v1h-1zm-2.3 6.3h1v1h-1zm1 -5.8h1v1h-1zm3.6 -13.1h1v1h-1zm-0.9 5.5h1v1h-1zm-7.2 5.1h1v1h-1zm2.6 -8.9h1v1h-1zm-0.6 18.8h1v1h-1zm0.9 -6.4h1v1h-1zm-3 -27.1h1v1h-1zm-10.8 -6h1v1h-1zm13.9 11.8h1v1h-1zm-19.2 -5.9h1v1h-1zm0.1 3.8h1v1h-1zm-0.8 -2.4h1v1h-1zm16.3 1.3h1v1h-1zm-11.5 16.8h1v1h-1zm22.3 5.1h1v1h-1z"/><path d="M47.9 98.1h1v1h-1zm-4.1 -3.3h1v1h-1zm4.4 2.1h1v1h-1zm1 2.9h1v1h-1zm-3.8 -0.4h1v1h-1zm2.1 0.8h1v1h-1zm1.5 1.3h1v1h-1zm2.4 -3.4h1v1h-1zm1.2 -1.5h1v1h-1zm-2 5.9h1v1h-1zm-7.3 -1.8h1v1h-1zm5.2 0h1v1h-1zm-0.2 0.5h1v1h-1zm-5.3 0.1h1v1h-1zm8.3 -0.7h1v1h-1zm-6.1 -1h1v1h-1zm4.6 -5.6h1v1h-1zm-1.4 4.4h1v1h-1zm-2.7 -0.4h1v1h-1zm3.7 -0.8h1v1h-1zm-1.2 2h1v1h-1zm-2.3 1.3h1v1h-1zm3.6 0.9h1v1h-1zm1.2 -2.5h1v1h-1zm-0.6 -0.2h1v1h-1zm-1.5 0.7h1v1h-1zm-3.8 -1.8h1v1h-1zm3 0.5h1v1h-1zm-2.4 0.4h1v1h-1zm4.6 -0.6h1v1h-1zm5 0.2h1v1h-1zm-5.8 5.6h1v1h-1zm-2.9 -0.9h1v1h-1zm6.9 -4h1v1h-1zm-3.9 -1h1v1h-1zm1.1 -0.1h1v1h-1zm-3.4 6.4h1v1h-1zm-1.4 -3.9h1v1h-1zm5.4 -3h1v1h-1zm-7.5 4.9h1v1h-1zm6.3 -2.5h1v1h-1zm-5.5 -1.3h1v1h-1zm5.7 1.8h1v1h-1zm0.9 -3h1v1h-1zm-2.2 3.4h1v1h-1zm-0.1 -1.1h1v1h-1zm1.3 -0.9h1v1h-1zm-0.8 0.1h1v1h-1zm5.6 -4.4h1v1h-1zm-6.3 0.1h1v1h-1zm0.1 6.2h1v1h-1zm-2 -1.8h1v1h-1zm1.2 -0.7h1v1h-1zm-1 2.7h1v1h-1zm-2.8 0.1h1v1h-1zm8.1 -1.7h1v1h-1zm-9.8 -1h1v1h-1zm6.8 1.8h1v1h-1zm-5 1.4h1v1h-1zm1.7 -1.7h1v1h-1zm2.3 -4.8h1v1h-1zm3.2 10.1h1v1h-1zm-2.6 -7.5h1v1h-1zm0.5 0.2h1v1h-1zm-6.9 1.1h1v1h-1zm1.2 -2.2h1v1h-1zm6 0.7h1v1h-1zm-6.8 1.2h1v1h-1zm5.6 0h1v1h-1zm0.4 1.7h1v1h-1zm3.2 0.6h1v1h-1zm0.7 -1.7h1v1h-1zm0.2 -1.6h1v1h-1zm-4.1 6.4h1v1h-1zm0.8 -8.6h1v1h-1zm4.5 3.8h1v1h-1zm-5.3 0.4h1v1h-1zm-5.4 0.2h1v1h-1zm6.2 2.3h1v1h-1zm4.5 -0.7h1v1h-1zm-2 -1.2h1v1h-1zm-0.9 -5.6h1v1h-1zm2.7 6.3h1v1h-1zm-6.4 0.3h1v1h-1zm0.3 1.4h1v1h-1zm-4.1 -3.4h1v1h-1zm3.2 -1.8h1v1h-1zm-2.8 0.8h1v1h-1zm6.1 3h1v1h-1zm-0.2 0.9h1v1h-1zm1.1 -0.7h1v1h-1zm-0.7 0.7h1v1h-1zm-1.2 -5.3h1v1h-1zm1.7 -7.7h1v1h-1zm-0.2 10.1h1v1h-1zm2.3 -0.8h1v1h-1zm-4.6 -1.9h1v1h-1zm-3 4h1v1h-1zm4.6 -3.2h1v1h-1zm2.6 0.6h1v1h-1zm1.1 -6.3h1v1h-1zm-8.4 2.5h1v1h-1zm4.9 8.1h1v1h-1zm-9.2 -10.6h1v1h-1zm12 9.6h1v1h-1zm-4.1 -4.3h1v1h-1zm-0.8 -2.2h1v1h-1zm9.5 5.5h1v1h-1zm-6.4 1h1v1h-1zm-6.9 -0.9h1v1h-1zm4.9 1.5h1v1h-1zm-2.8 -7.9h1v1h-1zm-2.9 8.1h1v1h-1zm18.6 -4.3h1v1h-1zm-1.7 5h1v1h-1zm-6.8 -5.5h1v1h-1zm-10 -6.6h1v1h-1zm7.2 10.5h1v1h-1zm-3.6 -6.1h1v1h-1zm0.2 9.5h1v1h-1zm-1.5 -2.5h1v1h-1zm-1.4 -3.8h1v1h-1zm-2.3 -2.4h1v1h-1zm-2.6 2.1h1v1h-1zm7.6 1.8h1v1h-1zm-1.3 -0.9h1v1h-1zm3.1 3.4h1v1h-1zm-1 -3.8h1v1h-1zm-3.7 -1.5h1v1h-1zm-1.9 5.9h1v1h-1zm10 -6.5h1v1h-1zm-8.4 1.4h1v1h-1zm0.2 2.1h1v1h-1zm0 -4.6h1v1h-1zm4.5 -2.2h1v1h-1zm4 13.8h1v1h-1zm-7.9 -15.7h1v1h-1zm7.3 9.8h1v1h-1zm-4.3 3.5h1v1h-1zm2.3 0.5h1v1h-1zm-7.1 -2.8h1v1h-1zm11.7 -5h1v1h-1zm-1.7 2.7h1v1h-1zm-10 -0.4h1v1h-1zm4 -1.9h1v1h-1zm7.1 2.8h1v1h-1zm-8 3.8h1v1h-1zm4.6 -7.7h1v1h-1zm-1.6 4.8h1v1h-1zm-3.7 -5.3h1v1h-1zm0.5 2.9h1v1h-1zm0.2 -8h1v1h-1zm1.8 4.3h1v1h-1zm25.9 5.7h1v1h-1zm-6 -3.7h1v1h-1zm-1 4.7h1v1h-1zm-0.2 0h1v1h-1zm-1.7 0.7h1v1h-1zm8.7 -3.2h1v1h-1zm-5.4 4.4h1v1h-1zm-6.9 -4.8h1v1h-1zm7.9 2h1v1h-1zm-1.4 -1.6h1v1h-1zm1.9 -1.8h1v1h-1zm-0.8 1h1v1h-1zm3.7 -0.2h1v1h-1zm-4.5 -6.8h1v1h-1zm-0.8 5.1h1v1h-1zm0 4.7h1v1h-1zm6.4 -0.6h1v1h-1zm-7.8 -6.6h1v1h-1zm-6.5 0.7h1v1h-1zm14.1 5.6h1v1h-1zm-5.2 -2.9h1v1h-1zm-2.7 -3h1v1h-1zm5.1 6.9h1v1h-1zm0.4 -3.5h1v1h-1zm1.2 3.9h1v1h-1zm-3.1 -0.7h1v1h-1zm1.1 1.1h1v1h-1zm-3.4 -6.7h1v1h-1zm4.2 3.7h1v1h-1zm-3.6 0.2h1v1h-1zm0.5 -4.3h1v1h-1zm0.2 7.1h1v1h-1zm1.1 -5h1v1h-1zm1.7 1.6h1v1h-1zm-2.7 0.9h1v1h-1zm3.4 -4.7h1v1h-1zm-1 5.8h1v1h-1zm-6.7 -2.4h1v1h-1zm8.7 1.8h1v1h-1zm-4.2 -2.7h1v1h-1zm-1.5 -1.5h1v1h-1zm6.7 4.5h1v1h-1zm-9 4.7h1v1h-1zm5.5 -9.6h1v1h-1zm-3.5 -0.1h1v1h-1zm-0.4 4.8h1v1h-1zm1.2 -0.1h1v1h-1zm-0.7 -3.1h1v1h-1zm5.4 0.8h1v1h-1zm2.9 3.9h1v1h-1zm-5.5 -3.8h1v1h-1zm-5.4 6h1v1h-1zm5.9 -3.9h1v1h-1zm2 -4.1h1v1h-1zm-1.3 4.2h1v1h-1zm0.9 -2.4h1v1h-1zm-0.5 -0.2h1v1h-1zm-9.7 1.1h1v1h-1zm11.3 -0.4h1v1h-1zm-5.9 -1.9h1v1h-1zm2.4 1.4h1v1h-1zm-3.6 0.3h1v1h-1zm7.9 1.4h1v1h-1zm-3.1 -3.4h1v1h-1zm-0.4 2h1v1h-1zm-4.1 -3.2h1v1h-1zm7.6 3.7h1v1h-1zm-11.3 1h1v1h-1zm2.6 -1.7h1v1h-1zm2.3 -2.8h1v1h-1zm6.2 5.1h1v1h-1zm-3.8 -1.9h1v1h-1zm-1.5 -1h1v1h-1zm-0.2 2h1v1h-1zm2.3 -0.1h1v1h-1zm-4.8 -3.7h1v1h-1zm8.1 -0.5h1v1h-1zm-7.5 4.3h1v1h-1zm3.5 -1.7h1v1h-1zm-3.9 -1.9h1v1h-1zm-3.7 7.3h1v1h-1zm11.9 -7.9h1v1h-1zm-1.7 -0.5h1v1h-1zm-8.1 4.6h1v1h-1zm4.9 -7.6h1v1h-1zm5.6 7h1v1h-1zm-5.7 -2.4h1v1h-1zm-1 0.7h1v1h-1zm5.9 9.9h1v1h-1zm-1.3 -10.8h1v1h-1zm2.8 -4.9h1v1h-1zm-12.9 9.1h1v1h-1zm7.3 -4.4h1v1h-1zm-5 7.9h1v1h-1zm2.4 -3.5h1v1h-1zm1.6 -5.1h1v1h-1zm-1.3 8.6h1v1h-1zm2.1 -3.5h1v1h-1zm4.6 -3.3h1v1h-1zm-3.4 1.7h1v1h-1zm1 0.9h1v1h-1zm2.9 -1.3h1v1h-1zm0 1.5h1v1h-1zm-3.6 -6h1v1h-1zm-11.6 7.6h1v1h-1zm6.2 -4.7h1v1h-1zm3.5 1.8h1v1h-1zm6.4 -2h1v1h-1zm-14.2 2.6h1v1h-1zm13.9 7.7h1v1h-1zm-5 -13.5h1v1h-1zm2.8 9h1v1h-1zm-3.2 -8.7h1v1h-1zm-11.8 0.1h1v1h-1zm9.8 10.7h1v1h-1zm-9.7 -9.3h1v1h-1zm7.9 1.7h1v1h-1zm-0.1 -3.6h1v1h-1zm5 5.7h1v1h-1zm3.6 0.2h1v1h-1zm3.4 2.9h1v1h-1zm-4.3 2.4h1v1h-1zm-9.1 -7h1v1h-1zm4 1.3h1v1h-1zm1.5 6.9h1v1h-1zm-0.6 -4.9h1v1h-1zm-3.2 -5.2h1v1h-1zm5.5 6.2h1v1h-1zm4.2 1.2h1v1h-1zm-2.1 -4.1h1v1h-1zm-1.9 5.7h1v1h-1zm-4.1 -13.5h1v1h-1zm5.2 10.5h1v1h-1zm-6.2 0.7h1v1h-1zm3.2 -0.1h1v1h-1zm-6.6 -3.3h1v1h-1zm2.1 -0.2h1v1h-1zm8.2 1.7h1v1h-1zm4.2 -5.1h1v1h-1zm-4.5 1h1v1h-1zm0.3 0.2h1v1h-1zm-6.9 -27.3h1v1h-1zm2.8 4h1v1h-1zm-4.2 1.2h1v1h-1zm0.9 0.8h1v1h-1zm3.4 -5.5h1v1h-1zm-4 -2.4h1v1h-1zm2.6 3.4h1v1h-1zm0.7 -4h1v1h-1zm2.2 -1.2h1v1h-1zm0.9 2.5h1v1h-1zm-6.6 2.1h1v1h-1zm3 -0.1h1v1h-1zm6.5 -5.2h1v1h-1zm-8.5 3.1h1v1h-1zm5.2 7.6h1v1h-1zm-9.5 -2.5h1v1h-1zm4.2 -1.1h1v1h-1zm0.4 -1.2h1v1h-1zm0.2 5.3h1v1h-1zm-4.9 -6.2h1v1h-1zm7.3 -0.5h1v1h-1zm-1.9 -1.4h1v1h-1zm-3.1 2.9h1v1h-1zm1.7 -2.2h1v1h-1zm-1.8 8.7h1v1h-1zm6.8 -8.5h1v1h-1zm-2.6 9h1v1h-1zm1 -11.3h1v1h-1zm-2.4 5.9h1v1h-1zm-3.3 -3.2h1v1h-1zm0.8 4.1h1v1h-1zm5.9 -8.2h1v1h-1zm-5.6 7.5h1v1h-1zm4.1 1.7h1v1h-1zm-0.5 1.7h1v1h-1zm2.1 -3.8h1v1h-1zm-6.7 5.6h1v1h-1zm4.8 -7.6h1v1h-1zm1.7 2.1h1v1h-1zm-3.3 1.3h1v1h-1zm2.6 -2.7h1v1h-1zm-1.1 2.7h1v1h-1zm-3 -4.4h1v1h-1zm10.4 -5.7h1v1h-1zm-7.6 7.1h1v1h-1zm-2.8 4.9h1v1h-1zm3.5 -2.9h1v1h-1zm-4.4 4.3h1v1h-1zm3.1 -0.6h1v1h-1zm-4.7 -2.2h1v1h-1zm11.5 -4.2h1v1h-1zm-7.3 2.7h1v1h-1zm5.5 -0.5h1v1h-1zm-7.2 6.1h1v1h-1zm1.4 -1.2h1v1h-1zm6.9 -9h1v1h-1zm-1.6 -5.1h1v1h-1zm-9.8 9.1h1v1h-1zm12.8 4.2h1v1h-1zm-6.9 -11.4h1v1h-1zm2.4 5.2h1v1h-1zm-9.3 -5.1h1v1h-1zm6.9 13.9h1v1h-1zm-1.1 -7.3h1v1h-1zm7.8 1.4h1v1h-1zm-5 1.1h1v1h-1zm-0.1 -5.3h1v1h-1zm1.5 5.5h1v1h-1zm0.9 -11.8h1v1h-1zm-8.7 21.5h1v1h-1zm1.7 -9.6h1v1h-1zm5.5 -3.4h1v1h-1zm4.3 -7.8h1v1h-1zm-9 6.5h1v1h-1zm3 5.9h1v1h-1zm-6.3 -11.6h1v1h-1zm3.9 -1h1v1h-1zm-3.2 12.1h1v1h-1zm9.9 2.2h1v1h-1zm4.3 -12.9h1v1h-1zm-7.7 5.4h1v1h-1zm-5.6 -4.3h1v1h-1zm-2.2 15.1h1v1h-1zm3.8 -13.3h1v1h-1zm3.3 -6.3h1v1h-1zm-0.2 6.5h1v1h-1zm-2.9 20.3h1v1h-1zm1 -4.4h1v1h-1zm0.7 2.5h1v1h-1zm1.4 -7.2h1v1h-1zm0.1 3.4h1v1h-1zm-1.1 -4.3h1v1h-1zm-1.1 2.3h1v1h-1zm2.5 1.5h1v1h-1zm0.3 -3.4h1v1h-1zm-6.5 6.6h1v1h-1zm0.4 -12.4h1v1h-1zm3.2 4.2h1v1h-1zm-1.1 -8h1v1h-1zm2 14.1h1v1h-1zm-4.5 0.6h1v1h-1zm22 -10.2h1v1h-1zm-18.2 -12.1h1v1h-1zm-7.3 -5.3h1v1h-1zm8.1 43.8h1v1h-1zm9.9 -4.6h1v1h-1zm-7.5 1.5h1v1h-1zm5.8 -2.6h1v1h-1zm7.9 -1.1h1v1h-1zm2.3 2.5h1v1h-1zm-6.8 5.5h1v1h-1z"/><path d="M43.8 100.8h1v1h-1zm2.4 -1.4h1v1h-1zm-3.3 -1.3h1v1h-1zm7 0.6h1v1h-1zm0.3 -1.3h1v1h-1zm-3 -1.5h1v1h-1zm5.8 4.3h1v1h-1zm-4.2 1.2h1v1h-1zm2.6 -2.5h1v1h-1zm-6.8 -0.4h1v1h-1zm7.1 2.3h1v1h-1zm-1.1 -0.7h1v1h-1zm-1 -0.8h1v1h-1zm-0.3 -1.7h1v1h-1zm-1 4.7h1v1h-1zm2.8 -4.1h1v1h-1zm-0.9 -1.6h1v1h-1zm-1.5 5.3h1v1h-1zm-5.5 -5.6h1v1h-1zm4.8 2.4h1v1h-1zm-1.1 2.6h1v1h-1zm2.1 -5.2h1v1h-1zm-3 0.9h1v1h-1zm-0.1 3.4h1v1h-1zm0.2 -3.5h1v1h-1zm-3 4.3h1v1h-1zm1.5 -3.9h1v1h-1zm1.5 2.1h1v1h-1zm0.4 -0.9h1v1h-1zm3.8 0.8h1v1h-1zm-2.7 1.3h1v1h-1zm0.5 -4.7h1v1h-1zm1.6 5.3h1v1h-1zm-1.3 -1h1v1h-1zm3 -3.9h1v1h-1zm0.6 2h1v1h-1zm-2.1 -3.1h1v1h-1zm-4.1 3.7h1v1h-1zm4 1.3h1v1h-1zm-2.3 -3.1h1v1h-1zm4.3 1.8h1v1h-1zm0.4 -0.1h1v1h-1zm-5.6 1.9h1v1h-1zm1.8 -1.2h1v1h-1zm4.4 1.9h1v1h-1zm-4.3 -0.8h1v1h-1zm-4.2 -5.5h1v1h-1zm7.5 2.6h1v1h-1zm-3.6 -1.4h1v1h-1zm-2.2 2.9h1v1h-1zm0.5 -0.4h1v1h-1zm0.2 1.5h1v1h-1zm1.8 -1.5h1v1h-1zm-2.8 -2.7h1v1h-1zm1.8 5.1h1v1h-1zm5.2 -3.3h1v1h-1zm-2.9 -2.7h1v1h-1zm-0.5 7.4h1v1h-1zm0.9 -2h1v1h-1zm0 4.3h1v1h-1zm-2.2 -4h1v1h-1zm1.8 -4.3h1v1h-1zm1.7 3h1v1h-1zm-2.9 -1.5h1v1h-1zm0.9 0.9h1v1h-1zm0.9 -1.1h1v1h-1zm1.8 0.1h1v1h-1zm-0.3 -0.8h1v1h-1zm-3.1 4.2h1v1h-1zm-3.3 -1.5h1v1h-1zm5.1 -4.7h1v1h-1zm-2.1 4.4h1v1h-1zm3.5 -0.2h1v1h-1zm-6.6 -3h1v1h-1zm4.6 -0.7h1v1h-1zm1.8 -1.2h1v1h-1zm-3.6 8.3h1v1h-1zm-2.9 -5.8h1v1h-1zm9.4 -4h1v1h-1zm-7.4 7h1v1h-1zm-2.7 -5.1h1v1h-1zm4.6 2.7h1v1h-1zm2.8 2h1v1h-1zm-10.5 -0.5h1v1h-1zm9.6 1.6h1v1h-1zm-4.5 -3.6h1v1h-1zm-1.1 4.7h1v1h-1zm3.7 -4.3h1v1h-1zm-1 -4.2h1v1h-1zm-0.1 11h1v1h-1zm-1.9 -4.2h1v1h-1zm2.9 0.4h1v1h-1zm-2 0h1v1h-1zm-1 -4.9h1v1h-1zm0.8 3h1v1h-1zm-2.2 2.3h1v1h-1zm6.3 -3.4h1v1h-1zm-6.7 -0.4h1v1h-1zm1.5 2.9h1v1h-1zm0.6 -2.8h1v1h-1zm4.7 5h1v1h-1zm1.3 -11.7h1v1h-1zm3.7 4.6h1v1h-1zm-13.4 8.5h1v1h-1zm6.2 -15.4h1v1h-1zm-3.8 7.3h1v1h-1zm2.5 4.2h1v1h-1zm5 6.1h1v1h-1zm3.6 -6.6h1v1h-1zm-10 2.3h1v1h-1zm-4.9 4.6h1v1h-1zm13.1 -4.4h1v1h-1zm-2.2 -7.8h1v1h-1zm-7.3 5.6h1v1h-1zm5.6 0.6h1v1h-1zm-3.5 -0.9h1v1h-1zm3.6 0.8h1v1h-1zm-3.3 5.3h1v1h-1zm4.5 -8.6h1v1h-1zm-0.7 1h1v1h-1zm1.6 0.1h1v1h-1zm-10.6 4h1v1h-1zm7.6 -4.5h1v1h-1zm-1.6 -10.6h1v1h-1zm-2.5 10.2h1v1h-1zm6.7 3.5h1v1h-1zm-0.5 3.6h1v1h-1zm-5.5 -6h1v1h-1zm9.9 -6.7h1v1h-1zm-4.7 8.5h1v1h-1zm-5.6 -2.3h1v1h-1zm-6.1 2.8h1v1h-1zm11.6 -7.8h1v1h-1zm0.6 8h1v1h-1zm-1.4 -5.4h1v1h-1zm2.5 9.1h1v1h-1zm2.9 -6.4h1v1h-1zm-6.7 -2.6h1v1h-1zm0.2 -1h1v1h-1zm4.9 7.7h1v1h-1zm-6.9 -5.1h1v1h-1zm-0.3 -0.1h1v1h-1zm-0.2 2.2h1v1h-1zm4.8 2.1h1v1h-1zm1.7 -1.6h1v1h-1zm-1.7 0.3h1v1h-1zm-5.2 -2.5h1v1h-1zm11.6 0.6h1v1h-1zm-16.5 -0.2h1v1h-1zm5.2 0.2h1v1h-1zm22.1 1.6h1v1h-1zm-2.4 3.5h1v1h-1zm3.2 -5.5h1v1h-1zm-6.1 0.4h1v1h-1zm4.8 -4.4h1v1h-1zm4.3 1.8h1v1h-1zm-3 0.8h1v1h-1zm1.2 2.6h1v1h-1zm-0.9 -0.3h1v1h-1zm0.9 0h1v1h-1zm-3.2 -2.1h1v1h-1zm-0.3 0.1h1v1h-1zm-1.3 1h1v1h-1zm0 -2.5h1v1h-1zm3 1.9h1v1h-1zm-2.1 3.5h1v1h-1zm0.6 1.7h1v1h-1zm-2.8 -3.1h1v1h-1zm4 -0.2h1v1h-1zm-0.1 3.2h1v1h-1zm-0.1 -0.6h1v1h-1zm2.5 -3.1h1v1h-1zm0.5 2.9h1v1h-1zm-3.6 -2.8h1v1h-1zm2.5 5h1v1h-1zm-2.9 -2.5h1v1h-1zm4.6 -1.8h1v1h-1zm-2.2 -1.7h1v1h-1zm1.2 -0.9h1v1h-1zm-5.6 1.6h1v1h-1zm2.9 -0.6h1v1h-1zm0.1 -0.3h1v1h-1zm1.1 5.4h1v1h-1zm-2.4 -4.1h1v1h-1zm2.4 -3.4h1v1h-1zm3.5 -0.3h1v1h-1zm-5.1 5.7h1v1h-1zm4.7 -2.9h1v1h-1zm-4.7 2.4h1v1h-1zm3.7 0h1v1h-1zm-5 -2.2h1v1h-1zm2.1 -0.2h1v1h-1zm-0.7 3h1v1h-1zm-7.1 -4.2h1v1h-1zm11.9 4.4h1v1h-1zm-1.6 -1.3h1v1h-1zm-2.8 3h1v1h-1zm4.2 -2.6h1v1h-1zm-3.3 2.5h1v1h-1zm-2.5 -5.3h1v1h-1zm2.7 0.8h1v1h-1zm3.9 -0.8h1v1h-1zm-4.9 3.2h1v1h-1zm-1.3 -2.8h1v1h-1zm3.5 0.1h1v1h-1zm-0.4 -1.2h1v1h-1zm1.7 3.3h1v1h-1zm-4.1 -2.7h1v1h-1zm0.2 4.7h1v1h-1zm-2.3 -6.9h1v1h-1zm2 4.5h1v1h-1zm-2.6 1.9h1v1h-1zm7.8 -5.6h1v1h-1zm-6.9 -1.8h1v1h-1zm9.8 6.3h1v1h-1zm-3.7 -3.6h1v1h-1zm-3 -0.9h1v1h-1zm0.1 5.8h1v1h-1zm0.4 -4.4h1v1h-1zm-6.4 5.6h1v1h-1zm3 -1.7h1v1h-1zm3.8 1h1v1h-1zm-1.3 -3.6h1v1h-1zm-1.2 -1.8h1v1h-1zm3.5 0.5h1v1h-1zm-4.5 1.5h1v1h-1zm5.6 2.8h1v1h-1zm-0.6 -8.5h1v1h-1zm1.3 8.2h1v1h-1zm-3.9 -2.4h1v1h-1zm-3.7 1.4h1v1h-1zm6.5 -1.2h1v1h-1zm-4.6 2.6h1v1h-1zm4.1 -3.2h1v1h-1zm-3.8 -3.2h1v1h-1zm0.3 3.1h1v1h-1zm6.8 -4h1v1h-1zm-2.2 5.8h1v1h-1zm-7.1 -3.9h1v1h-1zm3.4 0.7h1v1h-1zm-2.5 1.5h1v1h-1zm2.8 -1.2h1v1h-1zm1.7 -0.2h1v1h-1zm-0.5 3h1v1h-1zm1.6 -0.2h1v1h-1zm-4 -1.2h1v1h-1zm3.3 3.9h1v1h-1zm0.3 -1.6h1v1h-1zm-9 -1.4h1v1h-1zm3.9 -0.6h1v1h-1zm-4.2 1.2h1v1h-1zm8 -4.3h1v1h-1zm3.9 4.4h1v1h-1zm-10.5 0.3h1v1h-1zm12.7 1.2h1v1h-1zm-3.4 -3.7h1v1h-1zm1.1 4.3h1v1h-1zm-4.1 -3.8h1v1h-1zm20.6 -4.3h1v1h-1zm-18.6 9.7h1v1h-1zm5 -1.9h1v1h-1zm-11.3 -3.1h1v1h-1zm5.1 2h1v1h-1zm6.1 3.8h1v1h-1zm-10.5 -2.3h1v1h-1zm8.5 -5.1h1v1h-1zm-2.9 -1.4h1v1h-1zm-0.3 -3.6h1v1h-1zm9.3 4.2h1v1h-1zm-14.1 6.1h1v1h-1zm0.3 -6.8h1v1h-1zm-5.8 5.5h1v1h-1zm6.2 -3.8h1v1h-1zm6.7 0.1h1v1h-1zm-8.1 3.5h1v1h-1zm2.1 -5.7h1v1h-1zm6.6 9.2h1v1h-1zm1.8 -9.3h1v1h-1zm-7.2 8.1h1v1h-1zm-3.1 -3h1v1h-1zm-1.8 2.4h1v1h-1zm7 -4.1h1v1h-1zm4 -1.5h1v1h-1zm-9 -1.5h1v1h-1zm-1.4 -2h1v1h-1zm4.6 7.7h1v1h-1zm2.7 -3.7h1v1h-1zm0.3 5.6h1v1h-1zm-3.4 3.1h1v1h-1zm-5.4 -6.8h1v1h-1zm3.7 -1.6h1v1h-1zm-1.5 2.6h1v1h-1zm-6.4 -1.4h1v1h-1zm7 -5.2h1v1h-1zm0.2 -2h1v1h-1zm1.1 3.4h1v1h-1zm-3.8 11.6h1v1h-1zm-1.1 -8.5h1v1h-1zm3.2 -6.2h1v1h-1zm-0.7 1.6h1v1h-1zm12 3.6h1v1h-1zm-12.6 4h1v1h-1zm4.3 -30.7h1v1h-1zm-4.3 1.7h1v1h-1zm1.3 -3.6h1v1h-1zm-3.5 5h1v1h-1zm5.5 -3.4h1v1h-1zm1.6 1h1v1h-1zm-7.4 1.3h1v1h-1zm8.3 -3.7h1v1h-1zm-1.5 -0.9h1v1h-1zm-4.1 6.2h1v1h-1zm4.1 -5.3h1v1h-1zm-0.1 -3.2h1v1h-1zm0.8 2.1h1v1h-1zm-4.4 2.1h1v1h-1zm5.2 -1.8h1v1h-1zm-2.8 6.2h1v1h-1zm-1.3 -6.8h1v1h-1zm-1 1.8h1v1h-1zm0.1 -0.1h1v1h-1zm4.8 -0.2h1v1h-1zm-2.2 0.2h1v1h-1zm4.3 -1.7h1v1h-1zm-2.8 2.5h1v1h-1zm0.1 0.2h1v1h-1zm-3.7 -5.8h1v1h-1zm2.9 6.2h1v1h-1zm-0.5 1.4h1v1h-1zm-4.8 -1.9h1v1h-1zm2.1 10.8h1v1h-1zm1.4 -12.4h1v1h-1zm-3.5 1.7h1v1h-1zm6 2h1v1h-1zm-9 3h1v1h-1zm8.6 -12.1h1v1h-1zm-5.5 12.8h1v1h-1zm-1.2 -0.1h1v1h-1zm9.5 -10.8h1v1h-1zm-2.9 6.8h1v1h-1zm-3.4 -9.8h1v1h-1zm1 4.3h1v1h-1zm-1.4 5.9h1v1h-1zm0.1 -1.4h1v1h-1zm1.8 0.7h1v1h-1zm0 -4.7h1v1h-1zm1 4.6h1v1h-1zm-1.6 0.8h1v1h-1zm-4.7 0.8h1v1h-1zm6.8 -8.3h1v1h-1zm-2.5 3.1h1v1h-1zm2.3 -6.3h1v1h-1zm-6.6 20.2h1v1h-1zm4.3 -10.3h1v1h-1zm2.1 -6.7h1v1h-1zm2 12.2h1v1h-1zm-11.4 -0.8h1v1h-1zm12.1 -5.6h1v1h-1zm-7 -7.1h1v1h-1zm3.9 5.3h1v1h-1zm-1.3 -9.7h1v1h-1zm-0.6 2.2h1v1h-1zm4 20.3h1v1h-1zm-1.9 -6.1h1v1h-1zm1.5 -2.6h1v1h-1zm-7.1 -7.8h1v1h-1zm2.2 0.5h1v1h-1zm2.1 3h1v1h-1zm-4 8h1v1h-1zm8.5 1.3h1v1h-1zm-4.9 -4h1v1h-1zm9.8 -8.6h1v1h-1zm-9.3 10.4h1v1h-1zm-4.4 5.3h1v1h-1zm11.6 -20.4h1v1h-1zm-5.5 17.6h1v1h-1zm0.9 -1.9h1v1h-1zm-0.3 7.5h1v1h-1zm-3 -14.4h1v1h-1zm1.4 16.5h1v1h-1zm4 -7.1h1v1h-1zm-2.1 -6.5h1v1h-1zm-6.3 8.2h1v1h-1zm5.4 6h1v1h-1zm-3.6 -2.2h1v1h-1zm7.2 -3.1h1v1h-1zm-7 -4.4h1v1h-1zm0.9 8.9h1v1h-1zm0.1 -10.2h1v1h-1zm5.3 26.3h1v1h-1zm-6.1 -11.4h1v1h-1zm3.8 -7.1h1v1h-1zm1.9 -16.1h1v1h-1zm-4.7 -0.6h1v1h-1zm-3.6 -3.7h1v1h-1zm14.6 12.8h1v1h-1zm-13.4 -9.9h1v1h-1zm-22.3 -7.5h1v1h-1zm-2.1 32.3h1v1h-1zm35.6 5.6h1v1h-1zm3.9 -4.4h1v1h-1zm0.6 1.7h1v1h-1z"/><path d="M49.4 98.7h1v1h-1zm-1.9 -0.1h1v1h-1zm-0.3 -2h1v1h-1zm-0.2 5h1v1h-1zm3.4 -0.6h1v1h-1zm-4.6 -3.4h1v1h-1zm6.3 -3.5h1v1h-1zm-7.7 5.3h1v1h-1zm8.1 0.7h1v1h-1zm-0.9 -0.9h1v1h-1zm-7.5 2.5h1v1h-1zm7.1 -1.7h1v1h-1zm-3.2 1.1h1v1h-1zm-3.2 1.4h1v1h-1zm1.5 -2.2h1v1h-1zm3.2 -1.2h1v1h-1zm-8.6 -1.4h1v1h-1zm2.8 0.3h1v1h-1zm7.8 -2.5h1v1h-1zm-3.4 3.7h1v1h-1zm3.2 -0.8h1v1h-1zm-1.7 1.3h1v1h-1zm3 -1.3h1v1h-1zm-10.5 -0.5h1v1h-1zm10.6 4.6h1v1h-1zm-7.6 -3.7h1v1h-1zm1.7 0.5h1v1h-1zm-2.7 -2h1v1h-1zm5.2 0.4h1v1h-1zm1.7 1.3h1v1h-1zm-0.8 0.9h1v1h-1zm-2.8 -3.3h1v1h-1zm2.4 0h1v1h-1zm-2.4 -0.9h1v1h-1zm0.5 9h1v1h-1zm-2.7 -5.5h1v1h-1zm5.7 0.8h1v1h-1zm2.7 0h1v1h-1zm-10.4 -1.3h1v1h-1zm9.5 2.8h1v1h-1zm-4.8 -3.4h1v1h-1zm0.2 0.5h1v1h-1zm1.8 -2.3h1v1h-1zm-2 2.5h1v1h-1zm2.2 1.6h1v1h-1zm-1.5 -4.9h1v1h-1zm2 3h1v1h-1zm-1.3 1.5h1v1h-1zm-0.4 -0.3h1v1h-1zm-1.1 -0.1h1v1h-1zm-4.6 -2.8h1v1h-1zm6.7 1.8h1v1h-1zm-4.3 -2.9h1v1h-1zm7.6 4.1h1v1h-1zm-4 4.1h1v1h-1zm-2.6 -4.2h1v1h-1zm4.5 -0.1h1v1h-1zm-0.3 -1.7h1v1h-1zm-6.6 3.1h1v1h-1zm4.2 -7.1h1v1h-1zm-0.2 8.5h1v1h-1zm-3.3 2.1h1v1h-1zm4.9 -7.3h1v1h-1zm-3.8 0.7h1v1h-1zm6.2 0.4h1v1h-1zm-3.2 2.7h1v1h-1zm2 -2.1h1v1h-1zm-3.3 -1.4h1v1h-1zm2 1.7h1v1h-1zm-4 1.4h1v1h-1zm2.5 -3.3h1v1h-1zm6.3 1.7h1v1h-1zm-7.6 0.1h1v1h-1zm-0.7 1.7h1v1h-1zm4.8 -0.3h1v1h-1zm-1.7 -3h1v1h-1zm-3.5 1h1v1h-1zm6.5 0.8h1v1h-1zm-5.8 -0.4h1v1h-1zm2.4 -4.1h1v1h-1zm1.7 5.8h1v1h-1zm-2.9 -1.8h1v1h-1zm0 -0.7h1v1h-1zm2.2 0.3h1v1h-1zm4.4 -5.6h1v1h-1zm-6.4 1.8h1v1h-1zm2.1 3.5h1v1h-1zm-4 0.6h1v1h-1zm0 -4.3h1v1h-1zm4.9 7.9h1v1h-1zm-7.6 -8.6h1v1h-1zm5.1 5.2h1v1h-1zm2.7 -0.1h1v1h-1zm-2 3h1v1h-1zm-2.4 -2h1v1h-1zm-2.2 -1.1h1v1h-1zm4.2 1.2h1v1h-1zm-2.6 2.2h1v1h-1zm4.3 -3.6h1v1h-1zm-0.1 -1.1h1v1h-1zm-3.2 -1.7h1v1h-1zm-0.1 -0.5h1v1h-1zm2.1 4h1v1h-1zm-0.5 -2h1v1h-1zm2 1.8h1v1h-1zm0.2 -2.8h1v1h-1zm-5.3 6.2h1v1h-1zm6.1 -1.5h1v1h-1zm-4.7 -5.9h1v1h-1zm2.5 5.6h1v1h-1zm-1.5 -1.4h1v1h-1zm-1.5 -2.3h1v1h-1zm0.3 2.7h1v1h-1zm4.2 0.6h1v1h-1zm1 -0.7h1v1h-1zm-7.4 1.9h1v1h-1zm9 3.8h1v1h-1zm2.6 -5h1v1h-1zm-9.9 0.9h1v1h-1zm1.7 -0.5h1v1h-1zm2.7 1.2h1v1h-1zm9.2 -1.9h1v1h-1zm-18.6 -4.6h1v1h-1zm8.9 3.3h1v1h-1zm2.8 -0.1h1v1h-1zm5.1 -3.8h1v1h-1zm-9.7 0.8h1v1h-1zm-9 4.3h1v1h-1zm11.6 3.7h1v1h-1zm2.5 -5.5h1v1h-1zm-2.4 -1.1h1v1h-1zm-7.3 -2.2h1v1h-1zm3.3 1h1v1h-1zm4.9 1h1v1h-1zm-8.5 4h1v1h-1zm-1.7 -9.3h1v1h-1zm3.7 10.3h1v1h-1zm8.6 -4.8h1v1h-1zm-11.9 -0.5h1v1h-1zm5.1 -3.6h1v1h-1zm5 9.8h1v1h-1zm7.1 0.7h1v1h-1zm-16.4 -4.2h1v1h-1zm12.5 0.9h1v1h-1zm-6.8 -2.4h1v1h-1zm9.9 1.5h1v1h-1zm-13.3 -5.7h1v1h-1zm5.4 10.1h1v1h-1zm-1.3 -0.1h1v1h-1zm1.4 -5.4h1v1h-1zm6.1 -4h1v1h-1zm-10.9 2.9h1v1h-1zm7.7 0.6h1v1h-1zm-8.3 5.3h1v1h-1zm-1 -7.4h1v1h-1zm2.7 1h1v1h-1zm2.2 -0.5h1v1h-1zm-0.8 2.5h1v1h-1zm-3.1 -1.2h1v1h-1zm-2.9 3.4h1v1h-1zm5.8 -4.9h1v1h-1zm7.6 6.2h1v1h-1zm-12.5 0.9h1v1h-1zm-0.1 -4.4h1v1h-1zm8.2 -5.6h1v1h-1zm-7.7 4.3h1v1h-1zm28.2 2.3h1v1h-1zm-6.7 1.1h1v1h-1zm4.3 1.4h1v1h-1zm-1.5 -6.3h1v1h-1zm3.8 -3.1h1v1h-1zm-1.4 11.3h1v1h-1zm2.7 -4.6h1v1h-1zm1 -0.2h1v1h-1zm-8 2.1h1v1h-1zm1.8 0.2h1v1h-1zm3.6 -0.3h1v1h-1zm-2.6 -3.1h1v1h-1zm-8.4 -1.4h1v1h-1zm10.6 1.5h1v1h-1zm-4.8 0h1v1h-1zm6.4 -2.3h1v1h-1zm-0.4 4.6h1v1h-1zm-6.3 0h1v1h-1zm6 -5.7h1v1h-1zm-6.7 6h1v1h-1zm1.3 -4h1v1h-1zm1.8 -0.3h1v1h-1zm6 1.6h1v1h-1zm-5.1 -0.4h1v1h-1zm1.5 3h1v1h-1zm-1.3 -0.5h1v1h-1zm4 -1.1h1v1h-1zm-7.6 -0.6h1v1h-1zm4.2 1.4h1v1h-1zm2.4 -4.1h1v1h-1zm-4.1 1.5h1v1h-1zm3.1 2h1v1h-1zm-3.6 -1.9h1v1h-1zm1.8 3.3h1v1h-1zm-0.1 -7.1h1v1h-1zm-1.7 4.7h1v1h-1zm1.7 -0.3h1v1h-1zm-3.2 3.5h1v1h-1zm6.4 -4.8h1v1h-1zm-6.5 7.2h1v1h-1zm3.8 -7.7h1v1h-1zm-0.6 -0.2h1v1h-1zm1 -1h1v1h-1zm-4.6 2.2h1v1h-1zm8.5 -0.5h1v1h-1zm-10.9 -1.5h1v1h-1zm3.5 4.7h1v1h-1zm2.1 0.6h1v1h-1zm-0.9 -0.5h1v1h-1zm3.1 -5.7h1v1h-1zm0 4h1v1h-1zm-2.6 0.7h1v1h-1zm-0.8 -3.7h1v1h-1zm6.8 4.1h1v1h-1zm-8.1 -2.6h1v1h-1zm3.1 1.5h1v1h-1zm-4.7 3.2h1v1h-1zm4.8 -3.7h1v1h-1zm-2.3 -4.4h1v1h-1zm2.7 4h1v1h-1zm-2.1 4.8h1v1h-1zm1.8 -4h1v1h-1zm-0.5 3.6h1v1h-1zm1.7 -3.5h1v1h-1zm-1.4 0h1v1h-1zm2.1 -1.8h1v1h-1zm-3 -1.8h1v1h-1zm-2.7 1h1v1h-1zm0.4 7.8h1v1h-1zm7.9 -5.4h1v1h-1zm-7.4 2.1h1v1h-1zm-2.7 -0.4h1v1h-1zm5.8 -2.1h1v1h-1zm-6.8 2h1v1h-1zm6.4 3h1v1h-1zm-2 -5.3h1v1h-1zm-0.7 -1.4h1v1h-1zm0.2 2.2h1v1h-1zm-2.4 0.2h1v1h-1zm3.3 1.7h1v1h-1zm1.6 -1h1v1h-1zm5.6 -0.9h1v1h-1zm-2 -1.7h1v1h-1zm-1 5.5h1v1h-1zm-3.1 -3.6h1v1h-1zm1.6 -1.6h1v1h-1zm0.4 3.8h1v1h-1zm-4.9 -4.3h1v1h-1zm3.6 6.4h1v1h-1zm0.3 -4.2h1v1h-1zm-4.2 -2.1h1v1h-1zm-0.7 5.1h1v1h-1zm2.2 -1h1v1h-1zm2.6 -1.2h1v1h-1zm-1.9 1.2h1v1h-1zm1.3 -2.4h1v1h-1zm5.5 -1.7h1v1h-1zm-4.8 4.5h1v1h-1zm-0.9 3h1v1h-1zm2.2 -6.5h1v1h-1zm-2.3 3.6h1v1h-1zm-2.1 -2h1v1h-1zm4.3 -1.2h1v1h-1zm0.8 2h1v1h-1zm-0.6 0.6h1v1h-1zm-2.3 -2.5h1v1h-1zm-1.2 -1.7h1v1h-1zm0.7 5.5h1v1h-1zm-0.6 -4h1v1h-1zm2.7 -0.3h1v1h-1zm-4.2 -1.5h1v1h-1zm2.1 2.5h1v1h-1zm-1.8 3h1v1h-1zm-2.5 -4.9h1v1h-1zm3.4 -1.8h1v1h-1zm3.1 12.2h1v1h-1zm-10.3 -10.8h1v1h-1zm11.1 1.2h1v1h-1zm1.7 1.4h1v1h-1zm-3.6 2.4h1v1h-1zm0.6 1h1v1h-1zm8.2 -3h1v1h-1zm-17.4 -6.9h1v1h-1zm1.2 12.4h1v1h-1zm12.4 -7.5h1v1h-1zm-8.5 3.2h1v1h-1zm-8.7 -3.3h1v1h-1zm15.9 1.1h1v1h-1zm-4.7 -0.7h1v1h-1zm-2.5 0.6h1v1h-1zm4.1 -3.1h1v1h-1zm-1.3 0.8h1v1h-1zm3.1 0h1v1h-1zm10.8 7h1v1h-1zm-9.3 0.3h1v1h-1zm-2.8 4.4h1v1h-1zm-4.6 -13.3h1v1h-1zm8.1 11.8h1v1h-1zm-10.2 -3.8h1v1h-1zm-7.1 1.4h1v1h-1zm9.3 0.1h1v1h-1zm8 -7.9h1v1h-1zm-1.1 -0.2h1v1h-1zm-4.5 0.1h1v1h-1zm2.9 6.3h1v1h-1zm0.3 -4.9h1v1h-1zm-0.3 -2h1v1h-1zm-14.1 3.6h1v1h-1zm10.2 1.7h1v1h-1zm8.1 3.9h1v1h-1zm-8.7 -7.3h1v1h-1zm5.4 7.1h1v1h-1zm-4.6 -8.3h1v1h-1zm-1 1.3h1v1h-1zm6.4 2.8h1v1h-1zm-10.9 1.9h1v1h-1zm0 0.7h1v1h-1zm8.8 -7.8h1v1h-1zm-6.9 5.3h1v1h-1zm3.1 -4.1h1v1h-1zm-2.4 4.6h1v1h-1zm-1.6 1.6h1v1h-1zm5.4 -2.4h1v1h-1zm4.8 -0.5h1v1h-1zm-6.1 -32h1v1h-1zm6.1 0.7h1v1h-1zm-8.6 2.1h1v1h-1zm1.6 -3.2h1v1h-1zm-6.3 5.4h1v1h-1zm7.1 -5.1h1v1h-1zm-0.4 2.9h1v1h-1zm4.1 1.2h1v1h-1zm-5 -1.1h1v1h-1zm3.3 -1.6h1v1h-1zm-0.7 3h1v1h-1zm0.7 -4.3h1v1h-1zm-5.1 5.5h1v1h-1zm3.1 -3.1h1v1h-1zm5.4 2.7h1v1h-1zm-10.5 2.3h1v1h-1zm7.4 -5.9h1v1h-1zm0.5 1.6h1v1h-1zm-3 -1.9h1v1h-1zm2.3 4.1h1v1h-1zm4.2 -2.6h1v1h-1zm-3.8 -3.3h1v1h-1zm3.4 -5.7h1v1h-1zm-11.8 13.1h1v1h-1zm4 -6.6h1v1h-1zm1.5 -2.4h1v1h-1zm2.3 5.5h1v1h-1zm-2.7 -4.6h1v1h-1zm4.4 -1.9h1v1h-1zm-6.2 7.2h1v1h-1zm4.1 3.1h1v1h-1zm-6.5 1.3h1v1h-1zm1.7 -5.2h1v1h-1zm2.4 -1.4h1v1h-1zm-4.5 6.8h1v1h-1zm4.9 -8.4h1v1h-1zm1.8 2.5h1v1h-1zm-3.1 2h1v1h-1zm6.7 -5.5h1v1h-1zm-7.6 0.9h1v1h-1zm2 4.2h1v1h-1zm4 -3.7h1v1h-1zm-1.4 3.2h1v1h-1zm-3.7 4.6h1v1h-1zm-1.4 -3.5h1v1h-1zm5 -6.9h1v1h-1zm0.7 0.3h1v1h-1zm-5.5 0.9h1v1h-1zm7.7 3.2h1v1h-1zm-11.3 -1.1h1v1h-1zm1.7 8.8h1v1h-1zm10.4 -13.8h1v1h-1zm-5.2 7.9h1v1h-1zm2.2 3.3h1v1h-1zm-1.9 -13.7h1v1h-1zm-2.8 9.3h1v1h-1zm-2 3.9h1v1h-1zm1.7 -1.8h1v1h-1zm-0.4 1.1h1v1h-1zm6.9 0.7h1v1h-1zm0.6 2.1h1v1h-1zm-1.3 -6h1v1h-1zm-1.4 -3.2h1v1h-1zm-2.6 1.7h1v1h-1zm0.1 8.9h1v1h-1zm-3.9 -2.5h1v1h-1zm3.3 -5.7h1v1h-1zm-2.8 -1.7h1v1h-1zm1.9 5.3h1v1h-1zm-3 -5.9h1v1h-1zm5.8 7.9h1v1h-1zm-6.8 4h1v1h-1zm4 -11.1h1v1h-1zm4.8 1h1v1h-1zm-8.2 7.1h1v1h-1zm-1.2 -4.4h1v1h-1zm4.8 -2.4h1v1h-1zm-5 9.5h1v1h-1zm10 -1.6h1v1h-1zm-3.9 -8.8h1v1h-1zm-0.3 4.9h1v1h-1zm-3.8 2h1v1h-1zm9.5 -6.3h1v1h-1zm-4.1 2.4h1v1h-1zm-1.2 10.2h1v1h-1zm1.3 8h1v1h-1zm2.5 9.5h1v1h-1zm-2.8 -21.6h1v1h-1zm2.5 8.5h1v1h-1zm-3.8 -4.4h1v1h-1zm-2.1 -0.1h1v1h-1zm4.2 6.5h1v1h-1zm-7.6 -15.2h1v1h-1zm-1.2 -7.9h1v1h-1zm12 -8.8h1v1h-1zm-20.6 13h1v1h-1zm7.8 5.6h1v1h-1zm4.7 -12.3h1v1h-1zm13.6 38.2h1v1h-1zm-4.6 -8.3h1v1h-1z"/></g>
<line x1="58.00" y1="37.80" x2="58.00" y2="108.40" stroke="#a0a0a0" stroke-width="1.4"/>
<line x1="38.50" y1="84.30" x2="108.80" y2="84.30" stroke="#999" stroke-width="1.3"/>
<line x1="38.50" y1="37.80" x2="38.50" y2="108.40" stroke="#222" stroke-width="1.2"/>
<line x1="38.50" y1="108.40" x2="108.80" y2="108.40" stroke="#222" stroke-width="1.2"/>
<line x1="36.30" y1="37.80" x2="38.50" y2="37.80" stroke="#222" stroke-width="1"/>
<line x1="38.50" y1="108.40" x2="38.50" y2="110.60" stroke="#222" stroke-width="1"/>
<line x1="36.80" y1="103.09" x2="38.50" y2="103.09" stroke="#333" stroke-width="0.8"/>
<line x1="43.79" y1="108.40" x2="43.79" y2="110.10" stroke="#333" stroke-width="0.8"/>
<line x1="36.80" y1="99.98" x2="38.50" y2="99.98" stroke="#333" stroke-width="0.8"/>
<line x1="46.89" y1="108.40" x2="46.89" y2="110.10" stroke="#333" stroke-width="0.8"/>
<line x1="36.80" y1="97.77" x2="38.50" y2="97.77" stroke="#333" stroke-width="0.8"/>
<line x1="49.08" y1="108.40" x2="49.08" y2="110.10" stroke="#333" stroke-width="0.8"/>
<line x1="36.80" y1="96.06" x2="38.50" y2="96.06" stroke="#333" stroke-width="0.8"/>
<line x1="50.78" y1="108.40" x2="50.78" y2="110.10" stroke="#333" stroke-width="0.8"/>
<line x1="36.80" y1="94.67" x2="38.50" y2="94.67" stroke="#333" stroke-width="0.8"/>
<line x1="52.18" y1="108.40" x2="52.18" y2="110.10" stroke="#333" stroke-width="0.8"/>
<line x1="36.80" y1="93.48" x2="38.50" y2="93.48" stroke="#333" stroke-width="0.8"/>
<line x1="53.35" y1="108.40" x2="53.35" y2="110.10" stroke="#333" stroke-width="0.8"/>
<line x1="36.80" y1="92.46" x2="38.50" y2="92.46" stroke="#333" stroke-width="0.8"/>
<line x1="54.37" y1="108.40" x2="54.37" y2="110.10" stroke="#333" stroke-width="0.8"/>
<line x1="36.80" y1="91.56" x2="38.50" y2="91.56" stroke="#333" stroke-width="0.8"/>
<line x1="55.27" y1="108.40" x2="55.27" y2="110.10" stroke="#333" stroke-width="0.8"/>
<line x1="36.30" y1="55.45" x2="38.50" y2="55.45" stroke="#222" stroke-width="1"/>
<line x1="56.08" y1="108.40" x2="56.08" y2="110.60" stroke="#222" stroke-width="1"/>
<line x1="36.80" y1="85.44" x2="38.50" y2="85.44" stroke="#333" stroke-width="0.8"/>
<line x1="61.37" y1="108.40" x2="61.37" y2="110.10" stroke="#333" stroke-width="0.8"/>
<line x1="36.80" y1="82.33" x2="38.50" y2="82.33" stroke="#333" stroke-width="0.8"/>
<line x1="64.46" y1="108.40" x2="64.46" y2="110.10" stroke="#333" stroke-width="0.8"/>
<line x1="36.80" y1="80.12" x2="38.50" y2="80.12" stroke="#333" stroke-width="0.8"/>
<line x1="66.66" y1="108.40" x2="66.66" y2="110.10" stroke="#333" stroke-width="0.8"/>
<line x1="36.80" y1="78.41" x2="38.50" y2="78.41" stroke="#333" stroke-width="0.8"/>
<line x1="68.36" y1="108.40" x2="68.36" y2="110.10" stroke="#333" stroke-width="0.8"/>
<line x1="36.80" y1="77.02" x2="38.50" y2="77.02" stroke="#333" stroke-width="0.8"/>
<line x1="69.75" y1="108.40" x2="69.75" y2="110.10" stroke="#333" stroke-width="0.8"/>
<line x1="36.80" y1="75.83" x2="38.50" y2="75.83" stroke="#333" stroke-width="0.8"/>
<line x1="70.93" y1="108.40" x2="70.93" y2="110.10" stroke="#333" stroke-width="0.8"/>
<line x1="36.80" y1="74.81" x2="38.50" y2="74.81" stroke="#333" stroke-width="0.8"/>
<line x1="71.95" y1="108.40" x2="71.95" y2="110.10" stroke="#333" stroke-width="0.8"/>
<line x1="36.80" y1="73.91" x2="38.50" y2="73.91" stroke="#333" stroke-width="0.8"/>
<line x1="72.85" y1="108.40" x2="72.85" y2="110.10" stroke="#333" stroke-width="0.8"/>
<line x1="36.30" y1="73.10" x2="38.50" y2="73.10" stroke="#222" stroke-width="1"/>
<line x1="73.65" y1="108.40" x2="73.65" y2="110.60" stroke="#222" stroke-width="1"/>
<line x1="36.80" y1="67.79" x2="38.50" y2="67.79" stroke="#333" stroke-width="0.8"/>
<line x1="78.94" y1="108.40" x2="78.94" y2="110.10" stroke="#333" stroke-width="0.8"/>
<line x1="36.80" y1="64.68" x2="38.50" y2="64.68" stroke="#333" stroke-width="0.8"/>
<line x1="82.04" y1="108.40" x2="82.04" y2="110.10" stroke="#333" stroke-width="0.8"/>
<line x1="36.80" y1="62.47" x2="38.50" y2="62.47" stroke="#333" stroke-width="0.8"/>
<line x1="84.23" y1="108.40" x2="84.23" y2="110.10" stroke="#333" stroke-width="0.8"/>
<line x1="36.80" y1="60.76" x2="38.50" y2="60.76" stroke="#333" stroke-width="0.8"/>
<line x1="85.93" y1="108.40" x2="85.93" y2="110.10" stroke="#333" stroke-width="0.8"/>
<line x1="36.80" y1="59.37" x2="38.50" y2="59.37" stroke="#333" stroke-width="0.8"/>
<line x1="87.33" y1="108.40" x2="87.33" y2="110.10" stroke="#333" stroke-width="0.8"/>
<line x1="36.80" y1="58.18" x2="38.50" y2="58.18" stroke="#333" stroke-width="0.8"/>
<line x1="88.50" y1="108.40" x2="88.50" y2="110.10" stroke="#333" stroke-width="0.8"/>
<line x1="36.80" y1="57.16" x2="38.50" y2="57.16" stroke="#333" stroke-width="0.8"/>
<line x1="89.52" y1="108.40" x2="89.52" y2="110.10" stroke="#333" stroke-width="0.8"/>
<line x1="36.80" y1="56.26" x2="38.50" y2="56.26" stroke="#333" stroke-width="0.8"/>
<line x1="90.42" y1="108.40" x2="90.42" y2="110.10" stroke="#333" stroke-width="0.8"/>
<line x1="36.30" y1="90.75" x2="38.50" y2="90.75" stroke="#222" stroke-width="1"/>
<line x1="91.22" y1="108.40" x2="91.22" y2="110.60" stroke="#222" stroke-width="1"/>
<line x1="36.80" y1="50.14" x2="38.50" y2="50.14" stroke="#333" stroke-width="0.8"/>
<line x1="96.52" y1="108.40" x2="96.52" y2="110.10" stroke="#333" stroke-width="0.8"/>
<line x1="36.80" y1="47.03" x2="38.50" y2="47.03" stroke="#333" stroke-width="0.8"/>
<line x1="99.61" y1="108.40" x2="99.61" y2="110.10" stroke="#333" stroke-width="0.8"/>
<line x1="36.80" y1="44.82" x2="38.50" y2="44.82" stroke="#333" stroke-width="0.8"/>
<line x1="101.81" y1="108.40" x2="101.81" y2="110.10" stroke="#333" stroke-width="0.8"/>
<line x1="36.80" y1="43.11" x2="38.50" y2="43.11" stroke="#333" stroke-width="0.8"/>
<line x1="103.51" y1="108.40" x2="103.51" y2="110.10" stroke="#333" stroke-width="0.8"/>
<line x1="36.80" y1="41.72" x2="38.50" y2="41.72" stroke="#333" stroke-width="0.8"/>
<line x1="104.90" y1="108.40" x2="104.90" y2="110.10" stroke="#333" stroke-width="0.8"/>
<line x1="36.80" y1="40.53" x2="38.50" y2="40.53" stroke="#333" stroke-width="0.8"/>
<line x1="106.08" y1="108.40" x2="106.08" y2="110.10" stroke="#333" stroke-width="0.8"/>
<line x1="36.80" y1="39.51" x2="38.50" y2="39.51" stroke="#333" stroke-width="0.8"/>
<line x1="107.10" y1="108.40" x2="107.10" y2="110.10" stroke="#333" stroke-width="0.8"/>
<line x1="36.80" y1="38.61" x2="38.50" y2="38.61" stroke="#333" stroke-width="0.8"/>
<line x1="108.00" y1="108.40" x2="108.00" y2="110.10" stroke="#333" stroke-width="0.8"/>
<line x1="36.30" y1="108.40" x2="38.50" y2="108.40" stroke="#222" stroke-width="1"/>
<line x1="108.80" y1="108.40" x2="108.80" y2="110.60" stroke="#222" stroke-width="1"/>
<text x="41.51" y="50.94" font-size="9.60" font-family="Liberation Serif, serif" font-weight="normal" text-anchor="start" textLength="13.30" lengthAdjust="spacing" stroke="#000" stroke-width="0.22">0.5</text>

<text x="76.52" y="50.56" font-size="9.60" font-family="Liberation Serif, serif" font-weight="normal" text-anchor="start" textLength="27.28" lengthAdjust="spacing" stroke="#000" stroke-width="0.22">21.8%</text>

<text x="39.82" y="92.99" font-size="9.60" font-family="Liberation Serif, serif" font-weight="normal" text-anchor="start" textLength="17.75" lengthAdjust="spacing" stroke="#000" stroke-width="0.22">36.6</text>

<text x="82.71" y="92.95" font-size="9.60" font-family="Liberation Serif, serif" font-weight="normal" text-anchor="start" textLength="16.41" lengthAdjust="spacing" stroke="#000" stroke-width="0.22">41.1</text>

<g fill="#000" fill-opacity="0.36" filter="url(#bl)"><path d="M150.7 97.6h1v1h-1zm6.2 0h1v1h-1zm1 2.5h1v1h-1zm2.8 -0.8h1v1h-1zm-3 3.2h1v1h-1zm-1.5 1.9h1v1h-1zm4 -4.6h1v1h-1zm-2.5 0.7h1v1h-1zm-2.2 -0.1h1v1h-1zm3.8 -1.2h1v1h-1zm-0.5 2.3h1v1h-1zm-1.9 -1.2h1v1h-1zm-0.6 2.2h1v1h-1zm-0.2 -2.1h1v1h-1zm0.2 1.9h1v1h-1zm4.2 -2.9h1v1h-1zm-3.4 -0.7h1v1h-1zm2.3 0.6h1v1h-1zm4.9 -0.1h1v1h-1zm-4 -0.1h1v1h-1zm-0.3 2.3h1v1h-1zm-1.2 -1.6h1v1h-1zm-2.1 -1.1h1v1h-1zm5.2 -0.6h1v1h-1zm-7.5 2.2h1v1h-1zm0.3 -2.4h1v1h-1zm3.7 3.2h1v1h-1zm4.8 -6.3h1v1h-1zm-10.2 5.3h1v1h-1zm3.1 -1.6h1v1h-1zm7.8 -1.3h1v1h-1zm-4.5 -0.2h1v1h-1zm-6.4 1.2h1v1h-1zm3 1.4h1v1h-1zm1.1 2h1v1h-1zm-2 -0.5h1v1h-1zm2.9 -0.7h1v1h-1zm-3.3 -2.1h1v1h-1zm4.5 -3.6h1v1h-1zm0.6 4.3h1v1h-1zm-0.9 -0.1h1v1h-1zm-5.4 0.6h1v1h-1zm6.6 0.9h1v1h-1zm-3.6 -5.1h1v1h-1zm-1.7 6.2h1v1h-1zm3.4 -1.1h1v1h-1zm-2.5 -0.9h1v1h-1zm-3.8 0.5h1v1h-1zm6.4 -2.6h1v1h-1zm3.5 3.4h1v1h-1zm-1.9 -2.1h1v1h-1zm-0.7 -6.9h1v1h-1zm-2.6 4.9h1v1h-1zm0.6 6.3h1v1h-1zm-2.6 -4.7h1v1h-1zm-2.6 4.3h1v1h-1zm6.3 -2.5h1v1h-1zm-0.6 -3h1v1h-1zm0.1 0.9h1v1h-1zm-3.3 4.3h1v1h-1zm3.5 0.5h1v1h-1zm3.8 -3.8h1v1h-1zm-1.9 2.5h1v1h-1zm-4.9 2.4h1v1h-1zm3.1 -2.7h1v1h-1zm0.6 -3.4h1v1h-1zm0.8 0.4h1v1h-1zm-5.9 -1h1v1h-1zm4.7 1.8h1v1h-1zm4.2 2.6h1v1h-1zm-2.2 -2.4h1v1h-1zm-8.1 -2.7h1v1h-1zm2 1.9h1v1h-1zm2.3 -3.2h1v1h-1zm0.5 3.8h1v1h-1zm0.3 0.4h1v1h-1zm-1.2 -1.9h1v1h-1zm3.2 6.1h1v1h-1zm-7.6 -1.1h1v1h-1zm9.6 0.4h1v1h-1zm0.7 -5.2h1v1h-1zm-3.3 -0.1h1v1h-1zm-0.7 3.6h1v1h-1zm-4.4 -4.2h1v1h-1zm0.9 0.2h1v1h-1zm3.7 0h1v1h-1zm0.8 4.8h1v1h-1zm1 -5.3h1v1h-1zm-1 3.2h1v1h-1zm0.6 1.3h1v1h-1zm0.9 -10.1h1v1h-1zm3 7.5h1v1h-1zm-3.6 1.7h1v1h-1zm-7.3 -4.1h1v1h-1zm8.4 5.4h1v1h-1zm-3 -4.4h1v1h-1zm-3.7 4h1v1h-1zm5.2 2.8h1v1h-1zm0.5 -7.5h1v1h-1zm-1.8 -2.9h1v1h-1zm1 8.9h1v1h-1zm-6.5 -3h1v1h-1zm0.3 1.6h1v1h-1zm-0.2 -4h1v1h-1zm-3.8 5.8h1v1h-1zm14.3 -1.2h1v1h-1zm-4.5 -1.4h1v1h-1zm-4.1 -0.6h1v1h-1zm5.5 5.8h1v1h-1zm-5.8 -10.2h1v1h-1zm2.8 -0.6h1v1h-1zm-2.1 0.7h1v1h-1zm0.4 8.7h1v1h-1zm6.6 -3.3h1v1h-1zm-3.7 3.9h1v1h-1zm-3.1 -3.6h1v1h-1zm-1.1 -5h1v1h-1zm6.1 3.1h1v1h-1zm-2.2 4.2h1v1h-1zm1.9 -0.5h1v1h-1zm-11.5 -1.9h1v1h-1zm16.4 2.8h1v1h-1zm-2.1 -0.7h1v1h-1zm-1.8 -5.2h1v1h-1zm-4.3 -0.5h1v1h-1zm9.4 3.8h1v1h-1zm-14.9 5.5h1v1h-1zm12.1 -7.7h1v1h-1zm-5.3 1h1v1h-1zm22.7 -1.5h1v1h-1zm-7.1 -0.7h1v1h-1zm5.5 2.2h1v1h-1zm-5.2 1.5h1v1h-1zm0.9 -3.1h1v1h-1zm-2.7 0.8h1v1h-1zm3.8 -3.8h1v1h-1zm-4.8 3.7h1v1h-1zm2.2 1.6h1v1h-1zm5 -2.5h1v1h-1zm-6.3 0.4h1v1h-1zm1.6 2.1h1v1h-1zm0.9 0.2h1v1h-1zm0.4 -5.2h1v1h-1zm-0.4 6.5h1v1h-1zm4.1 -7.9h1v1h-1zm-3.9 7h1v1h-1zm-0.3 -5.7h1v1h-1zm-0.7 6.5h1v1h-1zm0.4 -2h1v1h-1zm-8.7 -2h1v1h-1zm12.6 2.3h1v1h-1zm-4.6 -2.2h1v1h-1zm-0.4 2.2h1v1h-1zm0.5 1h1v1h-1zm1.2 -5.2h1v1h-1zm-1 4.4h1v1h-1zm4.3 -2.8h1v1h-1zm1.5 -1h1v1h-1zm-5.3 4.8h1v1h-1zm-5.8 0.1h1v1h-1zm8.3 -3.4h1v1h-1zm-0.7 -2.9h1v1h-1zm5.4 -0.9h1v1h-1zm-10.9 2h1v1h-1zm1.9 2.5h1v1h-1zm2 1.9h1v1h-1zm-1 -1.2h1v1h-1zm2 4.7h1v1h-1zm-0.5 -2.5h1v1h-1zm0.2 -2.8h1v1h-1zm5.8 -5.1h1v1h-1zm-5.5 3.6h1v1h-1zm4 2.7h1v1h-1zm-3.2 0.7h1v1h-1zm-4.3 0.4h1v1h-1zm4.5 -3.8h1v1h-1zm-7 0.8h1v1h-1zm4.6 -0.2h1v1h-1zm5.6 3.9h1v1h-1zm-7.6 -0.9h1v1h-1zm7.9 -2.3h1v1h-1zm-2.5 3.1h1v1h-1zm-1.3 -4h1v1h-1zm-3.6 -1.9h1v1h-1zm-2.3 3.8h1v1h-1zm6.7 -2.9h1v1h-1zm-0.8 0.1h1v1h-1zm4.9 0.9h1v1h-1zm-2.9 4.9h1v1h-1zm-3.3 -3.8h1v1h-1zm-1.1 2.8h1v1h-1zm2.2 0.8h1v1h-1zm-1.8 -3.4h1v1h-1zm-2.2 -1.1h1v1h-1zm-2.1 -2.4h1v1h-1zm9.1 1.3h1v1h-1zm-5.4 3.8h1v1h-1zm2.3 0.9h1v1h-1zm-0.6 0.8h1v1h-1zm-2.5 -5.2h1v1h-1zm-1.2 0.2h1v1h-1zm7.7 1.1h1v1h-1zm-5.4 0h1v1h-1zm0.9 -2.6h1v1h-1zm1 2.1h1v1h-1zm-1.3 3h1v1h-1zm-3.4 -2.9h1v1h-1zm2.3 -0.2h1v1h-1zm9 -5.4h1v1h-1zm-10.8 11.5h1v1h-1zm0.5 -9h1v1h-1zm8.3 6.7h1v1h-1zm-8.3 -3.9h1v1h-1zm5 3.5h1v1h-1zm0.8 -2.3h1v1h-1zm-1.6 4.1h1v1h-1zm-1.3 -3.6h1v1h-1zm10.5 -2.6h1v1h-1zm-7.9 6.9h1v1h-1zm-5.3 -3.6h1v1h-1zm-2.3 -1.4h1v1h-1zm1.1 -0.9h1v1h-1zm5.5 6h1v1h-1zm-5.1 -9.9h1v1h-1zm6.6 6.4h1v1h-1zm-7.8 -2.6h1v1h-1zm7.9 1.1h1v1h-1zm-3 -5.2h1v1h-1zm4.9 7h1v1h-1zm-1.5 1h1v1h-1zm-7.6 -6.7h1v1h-1zm3.1 3.9h1v1h-1zm0.1 5.9h1v1h-1zm-4.5 -8.8h1v1h-1zm3.2 1.8h1v1h-1zm4.1 -1.2h1v1h-1zm-6.4 -3.1h1v1h-1zm2.7 8.6h1v1h-1zm-2 -5.1h1v1h-1zm8.3 8.6h1v1h-1zm-2.1 -4.6h1v1h-1zm2.5 -1h1v1h-1zm-3.2 3.2h1v1h-1zm1.1 -5.3h1v1h-1zm-1.8 4.8h1v1h-1zm-5 -14.6h1v1h-1zm7.4 12.7h1v1h-1zm2 1.4h1v1h-1zm-12.5 -4.9h1v1h-1zm8.7 3.4h1v1h-1zm-12.5 -12.2h1v1h-1zm18.6 9.7h1v1h-1zm-3.9 3.8h1v1h-1zm-7.8 -7.5h1v1h-1zm6.1 1.5h1v1h-1zm0.2 9.2h1v1h-1zm-2.3 -8.5h1v1h-1zm2.2 6.7h1v1h-1zm-0.9 -5.3h1v1h-1zm-2.1 -30.7h1v1h-1zm-4 -0.1h1v1h-1zm1.3 -3.4h1v1h-1zm1.2 3.2h1v1h-1zm1.6 4.9h1v1h-1zm-2.9 -3.8h1v1h-1zm3 -1.7h1v1h-1zm-1.3 -0.6h1v1h-1zm1.3 -1.7h1v1h-1zm-6.9 6.4h1v1h-1zm3.3 -1.9h1v1h-1zm4.5 -2.5h1v1h-1zm-3.8 -1.4h1v1h-1zm-1.4 -0.2h1v1h-1zm3 1.2h1v1h-1zm-2.4 0.4h1v1h-1zm3.2 1.6h1v1h-1zm-5.9 0.6h1v1h-1zm-5 1h1v1h-1zm4.8 -1.6h1v1h-1zm8.5 -2.3h1v1h-1zm-3.2 0.7h1v1h-1zm-2.9 -1.7h1v1h-1zm0.2 5.3h1v1h-1zm2.8 -4h1v1h-1zm1 0.9h1v1h-1zm0.3 -0.5h1v1h-1zm-0.4 4.6h1v1h-1zm-4.9 -5.3h1v1h-1zm5.9 2.4h1v1h-1zm-3.5 -0.8h1v1h-1zm3.7 4.7h1v1h-1zm-2.9 -9.4h1v1h-1zm5.1 6.5h1v1h-1zm-6.7 -4.2h1v1h-1zm-0.2 6.5h1v1h-1zm3.3 -3.3h1v1h-1zm-5.1 3.6h1v1h-1zm1.8 -1.9h1v1h-1zm6.7 0.3h1v1h-1zm-5.8 -1.7h1v1h-1zm-0.5 0.5h1v1h-1zm-1 -3.3h1v1h-1zm3.9 3.1h1v1h-1zm3.6 5.1h1v1h-1zm-4.3 -3.9h1v1h-1zm-5.8 -0.4h1v1h-1zm-5.3 4.6h1v1h-1zm4.5 -0.7h1v1h-1zm4.7 -7.6h1v1h-1zm0.8 2.3h1v1h-1zm-2.4 3.8h1v1h-1zm-4.1 4.2h1v1h-1zm-3 -12.9h1v1h-1zm12.6 6.7h1v1h-1zm-2.3 -6.3h1v1h-1zm-6.8 -11.7h1v1h-1zm13.6 14.1h1v1h-1zm-0.7 1.2h1v1h-1zm-4.3 7.5h1v1h-1zm4.3 -3.4h1v1h-1zm-12.9 -2.9h1v1h-1zm9.7 1.2h1v1h-1zm-9.4 -10.5h1v1h-1zm5.2 0.9h1v1h-1zm-4.3 12.6h1v1h-1zm3.3 3.3h1v1h-1zm1.9 11.5h1v1h-1zm3 -1.6h1v1h-1zm2.7 2.5h1v1h-1zm-4.4 -7.6h1v1h-1zm8.7 10.6h1v1h-1zm-14.1 -8.1h1v1h-1zm9.2 0.8h1v1h-1zm-7.2 0.5h1v1h-1zm10.5 6.7h1v1h-1zm4.3 -2.8h1v1h-1zm-15.9 -9h1v1h-1zm2 4.8h1v1h-1zm11.8 5.1h1v1h-1zm-2.3 4.6h1v1h-1zm-2.2 -4.6h1v1h-1zm-7.2 -4.7h1v1h-1zm-6 -22.2h1v1h-1zm-4.6 6.7h1v1h-1zm17.4 0h1v1h-1zm-10.6 -7.9h1v1h-1zm6.1 18.3h1v1h-1zm5.8 14.8h1v1h-1z"/><path d="M161.6 99.2h1v1h-1zm-8 0.1h1v1h-1zm3.8 1h1v1h-1zm-1.2 3.2h1v1h-1zm4 -2.4h1v1h-1zm-2.4 0.8h1v1h-1zm0.9 0.7h1v1h-1zm-0.5 -6.9h1v1h-1zm1.8 4.7h1v1h-1zm-3.3 -1h1v1h-1zm-2 1.9h1v1h-1zm4.2 -1.5h1v1h-1zm-4.6 -0.4h1v1h-1zm2.5 -2.5h1v1h-1zm1.9 2.5h1v1h-1zm-3.7 -0.8h1v1h-1zm2.7 2h1v1h-1zm0.5 -3.8h1v1h-1zm0.7 1.1h1v1h-1zm3.2 -0.9h1v1h-1zm-9.4 10.2h1v1h-1zm6.5 -7.4h1v1h-1zm-5.1 2.4h1v1h-1zm4.9 0.9h1v1h-1zm-11.5 -3.9h1v1h-1zm11 -0.6h1v1h-1zm2.1 0.5h1v1h-1zm-5.5 -2.8h1v1h-1zm4.6 2.9h1v1h-1zm-3.2 -0.2h1v1h-1zm-4.3 2.9h1v1h-1zm8.8 -1.7h1v1h-1zm-4.8 -4.6h1v1h-1zm4.2 4.6h1v1h-1zm-8.1 0.9h1v1h-1zm4.8 -0.7h1v1h-1zm-2 -1.4h1v1h-1zm7.1 1h1v1h-1zm-6 -5.3h1v1h-1zm2.1 1.2h1v1h-1zm-3.3 5h1v1h-1zm5.4 -0.5h1v1h-1zm0.1 -0.6h1v1h-1zm-1.1 5.6h1v1h-1zm2.2 -5.5h1v1h-1zm-3.7 -1.2h1v1h-1zm-3.3 3.4h1v1h-1zm5.5 -1.4h1v1h-1zm1.4 -1.5h1v1h-1zm-3.2 -2.8h1v1h-1zm-1.7 3.3h1v1h-1zm-4.2 0.1h1v1h-1zm8.6 -2.1h1v1h-1zm-8.1 5.5h1v1h-1zm8.5 -5.1h1v1h-1zm0 5.3h1v1h-1zm3 -7.1h1v1h-1zm-5.2 5.4h1v1h-1zm-2.9 -6.7h1v1h-1zm0.7 5.3h1v1h-1zm2.8 -3.6h1v1h-1zm0.9 5.2h1v1h-1zm-5.2 -2.6h1v1h-1zm4.2 -0.4h1v1h-1zm-0.9 4.4h1v1h-1zm-4 -3.5h1v1h-1zm1.4 3.6h1v1h-1zm0.5 -7.5h1v1h-1zm1.5 3h1v1h-1zm1 1h1v1h-1zm1.9 2h1v1h-1zm-5.4 -6.5h1v1h-1zm4 6.2h1v1h-1zm-4 -2.4h1v1h-1zm7.2 2.9h1v1h-1zm-10.9 -6h1v1h-1zm8.4 -1.4h1v1h-1zm0.9 11.1h1v1h-1zm0.2 -5.8h1v1h-1zm-8.2 3.8h1v1h-1zm6.3 -4.3h1v1h-1zm-5 -0.7h1v1h-1zm3.5 3.4h1v1h-1zm-5.1 -2.6h1v1h-1zm7 -2.4h1v1h-1zm-0.3 2.4h1v1h-1zm0.2 4h1v1h-1zm-3.3 -4.7h1v1h-1zm2.4 0.2h1v1h-1zm-1 -1.6h1v1h-1zm-5.4 -2.3h1v1h-1zm-3.6 4.4h1v1h-1zm14.2 2.9h1v1h-1zm1.2 -6.3h1v1h-1zm-2.4 2.5h1v1h-1zm-7 0.6h1v1h-1zm5.5 -1h1v1h-1zm4.2 8h1v1h-1zm-8 -9.1h1v1h-1zm-0.8 4.9h1v1h-1zm11.7 3.4h1v1h-1zm-10.3 -5.2h1v1h-1zm-6.6 -9h1v1h-1zm4.3 1h1v1h-1zm-1 4.1h1v1h-1zm7.5 -0.6h1v1h-1zm-0.2 1.6h1v1h-1zm-3.2 2.3h1v1h-1zm9.9 -1.6h1v1h-1zm-18.1 -1.6h1v1h-1zm2.4 7.8h1v1h-1zm4.7 -4.1h1v1h-1zm-7.3 3.9h1v1h-1zm20.3 -11.8h1v1h-1zm-10.8 0.7h1v1h-1zm-6.3 8.9h1v1h-1zm5.5 -4.8h1v1h-1zm5.4 2.1h1v1h-1zm-3.8 4.4h1v1h-1zm5.8 1.8h1v1h-1zm2 -7h1v1h-1zm-10.4 4.4h1v1h-1zm2.5 -1.7h1v1h-1zm0.5 1.1h1v1h-1zm-13.2 -2.2h1v1h-1zm12 2.7h1v1h-1zm-6.4 -3.2h1v1h-1zm12.5 4.1h1v1h-1zm0.5 -0.8h1v1h-1zm-10.8 -4.9h1v1h-1zm2.1 7.6h1v1h-1zm1.9 -4h1v1h-1zm1.2 -1.8h1v1h-1zm-1 -3.8h1v1h-1zm-4 0.2h1v1h-1zm0.8 5.2h1v1h-1zm-4.7 -2.3h1v1h-1zm11 -2.9h1v1h-1zm-9.6 4.7h1v1h-1zm9.1 -7.5h1v1h-1zm1.1 6.2h1v1h-1zm-2.7 -4.9h1v1h-1zm-2.7 2.8h1v1h-1zm3.9 -1.4h1v1h-1zm-8.6 5.1h1v1h-1zm11 1.2h1v1h-1zm-7.4 -6.8h1v1h-1zm-0.1 7.4h1v1h-1zm-4 -2.2h1v1h-1zm5.2 -4.9h1v1h-1zm5.8 1.6h1v1h-1zm-1.6 -2.1h1v1h-1zm2 7.9h1v1h-1zm-1.9 2.3h1v1h-1zm-1.9 -8.2h1v1h-1zm17.4 0.1h1v1h-1zm-9.8 -2.2h1v1h-1zm3.2 2h1v1h-1zm0.6 1.3h1v1h-1zm-0.2 -2.4h1v1h-1zm4.5 4.5h1v1h-1zm-3.8 -0.6h1v1h-1zm3.8 -5.3h1v1h-1zm-4.1 7.5h1v1h-1zm-0.4 -3.4h1v1h-1zm6.6 0.3h1v1h-1zm-4.2 -3.9h1v1h-1zm-0.6 4.7h1v1h-1zm4.2 -3.4h1v1h-1zm-3.7 0.2h1v1h-1zm1.2 -0.2h1v1h-1zm3.7 4.4h1v1h-1zm-5.5 -1.5h1v1h-1zm1.5 -0.4h1v1h-1zm4.6 4.4h1v1h-1zm-6.1 -4.1h1v1h-1zm5.1 -0.5h1v1h-1zm-5.7 -3.3h1v1h-1zm1.1 2.8h1v1h-1zm5.1 -2.6h1v1h-1zm-2 4.8h1v1h-1zm0.4 -3.3h1v1h-1zm-4 -0.9h1v1h-1zm-2.7 5.5h1v1h-1zm4.3 -2.7h1v1h-1zm-1 -0.8h1v1h-1zm3.2 -1.3h1v1h-1zm-1.3 7.5h1v1h-1zm4.5 -6h1v1h-1zm-1.9 0.8h1v1h-1zm-5.6 -2h1v1h-1zm2.6 3.8h1v1h-1zm0.5 -0.9h1v1h-1zm-2.1 -4.9h1v1h-1zm1.1 7.1h1v1h-1zm0.5 -3.9h1v1h-1zm-3 -2.2h1v1h-1zm5 4.3h1v1h-1zm-4.4 0.1h1v1h-1zm3.1 -3.1h1v1h-1zm0.9 -0.8h1v1h-1zm-6.1 -2h1v1h-1zm2.4 1.5h1v1h-1zm4.6 4.3h1v1h-1zm-5.2 -2h1v1h-1zm0.3 -2.7h1v1h-1zm-0.7 4.2h1v1h-1zm4.8 -1.9h1v1h-1zm1 2h1v1h-1zm-5.5 -3.5h1v1h-1zm-2 1.9h1v1h-1zm3.5 1.5h1v1h-1zm2.9 -3.3h1v1h-1zm-3.4 1.2h1v1h-1zm1.1 -0.4h1v1h-1zm4.1 2.1h1v1h-1zm-1.5 0.2h1v1h-1zm-0.3 1.5h1v1h-1zm-5 -5.2h1v1h-1zm1.5 3.6h1v1h-1zm-3.3 -1.9h1v1h-1zm3.9 -3.5h1v1h-1zm1.1 4.5h1v1h-1zm2.6 -2h1v1h-1zm-3.9 4.4h1v1h-1zm2.2 0h1v1h-1zm-5 -6.1h1v1h-1zm4 3.8h1v1h-1zm0.3 -9.3h1v1h-1zm0.3 11.6h1v1h-1zm-1.7 -0.6h1v1h-1zm4.8 -0.2h1v1h-1zm-1.8 -3.3h1v1h-1zm1.4 0.6h1v1h-1zm1.8 1.8h1v1h-1zm-1.5 0.8h1v1h-1zm-2.7 -2.8h1v1h-1zm1.5 2.8h1v1h-1zm-2.8 -3.5h1v1h-1zm1.5 0.4h1v1h-1zm-3.9 1.3h1v1h-1zm4 -4.1h1v1h-1zm1.4 2.3h1v1h-1zm-6.4 4.1h1v1h-1zm-1.2 -3.7h1v1h-1zm6.8 1.4h1v1h-1zm-0.3 -0.3h1v1h-1zm-5.3 -1.1h1v1h-1zm-2.5 -0.6h1v1h-1zm3.6 1.3h1v1h-1zm5.7 -2.2h1v1h-1zm-6.4 1h1v1h-1zm0.3 -0.3h1v1h-1zm6.4 2.4h1v1h-1zm-5.4 -2.6h1v1h-1zm0.5 4.8h1v1h-1zm-1 -5.6h1v1h-1zm6.1 9.6h1v1h-1zm-1.8 -6.9h1v1h-1zm-3.5 0.3h1v1h-1zm6.9 -0.5h1v1h-1zm0.3 1.5h1v1h-1zm-2.5 3.3h1v1h-1zm-3 -3.6h1v1h-1zm2.8 4.5h1v1h-1zm0 -6.3h1v1h-1zm1.4 1.4h1v1h-1zm-9.4 -1.6h1v1h-1zm6.9 -3.5h1v1h-1zm-2.2 7.7h1v1h-1zm8 -5.9h1v1h-1zm-6.6 5.6h1v1h-1zm-3.8 -4.5h1v1h-1zm3.6 4.1h1v1h-1zm-3.9 1h1v1h-1zm5.6 -11.1h1v1h-1zm-0.9 4.2h1v1h-1zm4 5.8h1v1h-1zm-3 -3.3h1v1h-1zm-2.2 -0.9h1v1h-1zm7 -1.5h1v1h-1zm-8.9 6.1h1v1h-1zm-2.3 -3.9h1v1h-1zm1.4 -2.2h1v1h-1zm5.7 -1.7h1v1h-1zm-5.6 11.1h1v1h-1zm9.3 0.6h1v1h-1zm4.4 -11.3h1v1h-1zm-9.8 6.5h1v1h-1zm8.5 2.7h1v1h-1zm-19 -15.1h1v1h-1zm9.3 14.4h1v1h-1zm-3.8 -3.9h1v1h-1zm7.5 1.6h1v1h-1zm-9.2 -4.7h1v1h-1zm7.6 8.4h1v1h-1zm-6.9 -8h1v1h-1zm-1.3 0.4h1v1h-1zm2.3 5.3h1v1h-1zm-2 -2.2h1v1h-1zm5.1 -4.1h1v1h-1zm2.1 2.7h1v1h-1zm1.6 -1.3h1v1h-1zm-0.5 -3.5h1v1h-1zm-0.8 8.1h1v1h-1zm-2 4.9h1v1h-1zm6 -4.6h1v1h-1zm1.9 1.8h1v1h-1zm-7.9 -5.4h1v1h-1zm3.2 2.4h1v1h-1zm-11.7 -1.3h1v1h-1zm9.3 -3.3h1v1h-1zm1.3 1.5h1v1h-1zm-6.6 2.1h1v1h-1zm3.4 -4.4h1v1h-1zm2 3.8h1v1h-1zm5.3 7.8h1v1h-1zm0.3 -7.7h1v1h-1zm-6.6 -6.2h1v1h-1zm4.7 13h1v1h-1zm-3.8 -12.7h1v1h-1zm-4.6 4.4h1v1h-1zm-4.8 -4.6h1v1h-1zm7.7 5.8h1v1h-1zm-7.2 3.9h1v1h-1zm7.4 1.7h1v1h-1zm0.6 -3h1v1h-1zm-6.2 -1.6h1v1h-1zm6.1 -2.3h1v1h-1zm-1.3 6.1h1v1h-1zm-4.8 -5.1h1v1h-1zm4.6 0.2h1v1h-1zm8.6 -0.5h1v1h-1zm-2.1 5.7h1v1h-1zm-5.1 -37.3h1v1h-1zm-2.7 -0.4h1v1h-1zm-3.8 4.2h1v1h-1zm8 -5h1v1h-1zm-2.4 2.6h1v1h-1zm-4.7 -3.6h1v1h-1zm-1.4 4.9h1v1h-1zm5.9 -1.1h1v1h-1zm3 -2.9h1v1h-1zm0.5 6.4h1v1h-1zm-8 -11h1v1h-1zm5.8 5.1h1v1h-1zm-2.6 4.9h1v1h-1zm2.4 -5.2h1v1h-1zm-4.6 -4.7h1v1h-1zm8.5 14.7h1v1h-1zm1.4 -8.5h1v1h-1zm-14 3.6h1v1h-1zm14.7 -3.8h1v1h-1zm-7.1 0.6h1v1h-1zm-8.1 8.6h1v1h-1zm3.9 -9.1h1v1h-1zm6.9 1.5h1v1h-1zm-11.2 1.4h1v1h-1zm1.7 2.4h1v1h-1zm6.1 -4.3h1v1h-1zm0.5 -1h1v1h-1zm1.8 2.4h1v1h-1zm2.3 -2.2h1v1h-1zm-4 -1.2h1v1h-1zm1.6 3h1v1h-1zm-5.7 -2.6h1v1h-1zm1.6 -0.5h1v1h-1zm6.1 0.9h1v1h-1zm-5.4 2h1v1h-1zm3 -3.9h1v1h-1zm5.2 3.9h1v1h-1zm-2.8 4h1v1h-1zm-8.8 -5.3h1v1h-1zm7 7.3h1v1h-1zm0.5 -11.5h1v1h-1zm-5.6 3.7h1v1h-1zm-8.2 -0.1h1v1h-1zm12.3 0h1v1h-1zm-9 6.9h1v1h-1zm-0.9 -3.6h1v1h-1zm5.8 -3.5h1v1h-1zm6 1.9h1v1h-1zm4.5 -1h1v1h-1zm-7.9 -1.2h1v1h-1zm-2.6 3.8h1v1h-1zm8 -1.1h1v1h-1zm3.7 -2.6h1v1h-1zm-25.2 6.4h1v1h-1zm13.7 -7.6h1v1h-1zm-9.7 -1.2h1v1h-1zm17 1.1h1v1h-1zm-4.3 5.7h1v1h-1zm-4.4 1.4h1v1h-1zm5.8 5.6h1v1h-1zm6.6 17.3h1v1h-1zm-9.7 -9.8h1v1h-1zm3.4 2.1h1v1h-1zm7.2 5.1h1v1h-1zm-7.8 -5.4h1v1h-1zm1.8 5.8h1v1h-1zm-2.7 -9.1h1v1h-1zm4.3 0.9h1v1h-1zm2.6 5.4h1v1h-1zm4.8 4.4h1v1h-1zm-8.7 -6.5h1v1h-1zm1.9 2.3h1v1h-1zm-1.1 -4.4h1v1h-1zm6.2 13.1h1v1h-1zm-7.1 -8.6h1v1h-1zm3.8 -4.4h1v1h-1zm8.3 6.9h1v1h-1zm-15.1 -6.6h1v1h-1zm9 5.3h1v1h-1zm-11.6 -7.9h1v1h-1zm3.3 0.3h1v1h-1zm6.6 9h1v1h-1zm0.4 -5.4h1v1h-1zm-1.6 -15.4h1v1h-1zm-3.8 -12.3h1v1h-1zm3.2 4.1h1v1h-1zm3.4 26.2h1v1h-1zm-2.9 -27.2h1v1h-1zm-19.3 14.2h1v1h-1zm-6.3 -5.4h1v1h-1zm4.4 -9.3h1v1h-1zm37.1 32.7h1v1h-1zm-1 12.3h1v1h-1z"/><path d="M158.1 101.8h1v1h-1zm1.8 0.8h1v1h-1zm-8.1 -2.5h1v1h-1zm9.5 -1.1h1v1h-1zm-3 4.6h1v1h-1zm0.9 -4.8h1v1h-1zm-0.4 -4.2h1v1h-1zm1 4.3h1v1h-1zm-0.9 -0.7h1v1h-1zm-2.2 2.9h1v1h-1zm-0.9 1.1h1v1h-1zm-3 -2.4h1v1h-1zm5.6 -1.5h1v1h-1zm-1.6 0.7h1v1h-1zm2.7 2.9h1v1h-1zm-1.2 3.8h1v1h-1zm4.1 -5.3h1v1h-1zm-2.6 -3.8h1v1h-1zm-1.2 1h1v1h-1zm-4.2 6.9h1v1h-1zm2.3 -4.4h1v1h-1zm0.9 1h1v1h-1zm0.8 1h1v1h-1zm-5.1 -2.3h1v1h-1zm7 0.4h1v1h-1zm-0.4 -5h1v1h-1zm0.7 4.2h1v1h-1zm-3.8 0h1v1h-1zm0 2.6h1v1h-1zm1.2 2.9h1v1h-1zm-2.8 -3.5h1v1h-1zm-1.1 -2.4h1v1h-1zm4.6 -2.6h1v1h-1zm-2 2.6h1v1h-1zm3.9 -1.7h1v1h-1zm0 -0.9h1v1h-1zm-0.7 0.6h1v1h-1zm-2.8 0.2h1v1h-1zm2.3 1.3h1v1h-1zm-3.9 1.6h1v1h-1zm-2.5 -4h1v1h-1zm-0.9 7.4h1v1h-1zm3.6 -4.2h1v1h-1zm-2.5 -2h1v1h-1zm6.5 -1.1h1v1h-1zm-1.9 2.2h1v1h-1zm0.1 -2.5h1v1h-1zm-8.6 2.9h1v1h-1zm5.6 -0.3h1v1h-1zm8.4 -4.7h1v1h-1zm-8.5 4.1h1v1h-1zm-1.1 1.3h1v1h-1zm4.5 -5.2h1v1h-1zm-2.7 7.2h1v1h-1zm2.4 0.4h1v1h-1zm2.8 -2.2h1v1h-1zm-0.7 -1.9h1v1h-1zm-2.3 -2.3h1v1h-1zm1.2 3.6h1v1h-1zm1.6 3.1h1v1h-1zm-3.8 -4h1v1h-1zm-2.6 2.3h1v1h-1zm8.5 0.7h1v1h-1zm-5.3 1.8h1v1h-1zm3.5 -2.3h1v1h-1zm-4 -2.4h1v1h-1zm1.8 5.4h1v1h-1zm0 -5.9h1v1h-1zm-0.6 1.8h1v1h-1zm1.5 2.1h1v1h-1zm6 -2.1h1v1h-1zm-5.4 -3.2h1v1h-1zm3 3.7h1v1h-1zm-7 -0.2h1v1h-1zm6.4 1.6h1v1h-1zm-4.7 -5h1v1h-1zm1.4 1.5h1v1h-1zm0.2 -1.7h1v1h-1zm-2.9 0.3h1v1h-1zm4.4 2.3h1v1h-1zm-3.1 2.6h1v1h-1zm-1.5 -2.2h1v1h-1zm-0.4 -2.1h1v1h-1zm4.2 2.4h1v1h-1zm1.7 1.3h1v1h-1zm-1.6 -1.4h1v1h-1zm1.3 -2.5h1v1h-1zm-0.1 3.2h1v1h-1zm-12.8 1.2h1v1h-1zm8.1 -4.5h1v1h-1zm0.7 3.3h1v1h-1zm0.1 -1.6h1v1h-1zm0.8 -0.5h1v1h-1zm-5.5 6.5h1v1h-1zm5.8 -4.7h1v1h-1zm0.5 -0.6h1v1h-1zm1.8 -4.2h1v1h-1zm3.2 4.6h1v1h-1zm-9.5 -0.6h1v1h-1zm1.4 0.2h1v1h-1zm3.2 -1.6h1v1h-1zm4.3 4.6h1v1h-1zm-4.1 -4.5h1v1h-1zm-4.1 5.3h1v1h-1zm-2.8 -4.8h1v1h-1zm4.5 -0.2h1v1h-1zm3.6 0.4h1v1h-1zm-0.5 4.6h1v1h-1zm-4.6 -4.8h1v1h-1zm2.4 0.7h1v1h-1zm6.5 -1.7h1v1h-1zm-6.3 4.1h1v1h-1zm-11.1 -5.3h1v1h-1zm18 0.7h1v1h-1zm-9 9.1h1v1h-1zm1.7 1.7h1v1h-1zm-3.2 -4.1h1v1h-1zm20.7 -8.4h1v1h-1zm-16.6 2.5h1v1h-1zm0.9 7.6h1v1h-1zm-1.5 -4h1v1h-1zm2.6 -5h1v1h-1zm-5.4 5.2h1v1h-1zm8.2 -4.2h1v1h-1zm3.3 7h1v1h-1zm-6.2 1.7h1v1h-1zm-10.4 -1.3h1v1h-1zm7.3 -1.4h1v1h-1zm9.6 1.3h1v1h-1zm-2.9 -8.3h1v1h-1zm-2.7 7.9h1v1h-1zm2.4 2.1h1v1h-1zm-10.6 -13.7h1v1h-1zm0.4 -0.4h1v1h-1zm9.4 6.4h1v1h-1zm-11.6 2.2h1v1h-1zm2.5 -6.9h1v1h-1zm9.1 7.7h1v1h-1zm-9.9 0.7h1v1h-1zm4.4 -10.5h1v1h-1zm-3.8 9.9h1v1h-1zm6.9 2h1v1h-1zm5.7 -4.4h1v1h-1zm-11.6 0.2h1v1h-1zm8.1 0.5h1v1h-1zm-8.1 -5.3h1v1h-1zm10.1 2.1h1v1h-1zm-1.5 4.5h1v1h-1zm-8.6 -1.2h1v1h-1zm4.7 -1.4h1v1h-1zm-3.4 6.4h1v1h-1zm1.2 -9.3h1v1h-1zm3 6.2h1v1h-1zm-5.9 3.1h1v1h-1zm0.5 -3.1h1v1h-1zm1.6 -2.5h1v1h-1zm-1.5 2.9h1v1h-1zm22.2 -4.2h1v1h-1zm-2.2 0.6h1v1h-1zm-5.2 -0.5h1v1h-1zm6.8 -1.5h1v1h-1zm1.8 0.2h1v1h-1zm-8.9 3.1h1v1h-1zm2.7 -0.2h1v1h-1zm6.3 -0.5h1v1h-1zm2.1 -2.7h1v1h-1zm-5.7 0.6h1v1h-1zm-3.2 1.2h1v1h-1zm-1.8 2.8h1v1h-1zm2.2 -0.1h1v1h-1zm3.3 -1.9h1v1h-1zm2.6 0.9h1v1h-1zm-2.9 -4.1h1v1h-1zm-1 1.6h1v1h-1zm-3.6 0.7h1v1h-1zm0.6 -1.3h1v1h-1zm7.2 5.1h1v1h-1zm-2 -2.7h1v1h-1zm-0.2 -1h1v1h-1zm-0.9 1.4h1v1h-1zm-0.4 -2.1h1v1h-1zm0.7 3.6h1v1h-1zm1.9 -4.2h1v1h-1zm-3.5 3.2h1v1h-1zm-2.9 0.1h1v1h-1zm2.5 1.4h1v1h-1zm2.6 -4h1v1h-1zm-1.5 -1.1h1v1h-1zm-0.7 4.1h1v1h-1zm-7.5 0.7h1v1h-1zm10.3 -0.1h1v1h-1zm-1.6 -2.7h1v1h-1zm1.7 1.4h1v1h-1zm-1.9 -3.8h1v1h-1zm2.6 -0.1h1v1h-1zm-2.1 6.4h1v1h-1zm-2.9 -3.3h1v1h-1zm5.1 -0.2h1v1h-1zm-5.8 -0.8h1v1h-1zm2.3 2.8h1v1h-1zm-4.5 1.8h1v1h-1zm2.2 -4.8h1v1h-1zm4.9 2h1v1h-1zm-1.1 -4.5h1v1h-1zm-2.6 5.1h1v1h-1zm-3.5 -4.5h1v1h-1zm3.7 7.2h1v1h-1zm1.6 -3.2h1v1h-1zm1.2 -3.7h1v1h-1zm-7.6 2h1v1h-1zm3.2 0.1h1v1h-1zm8 -3.7h1v1h-1zm-6.9 7.6h1v1h-1zm2.1 -4.4h1v1h-1zm5.5 3.6h1v1h-1zm-8.5 -5.6h1v1h-1zm4.2 -1.2h1v1h-1zm3.1 5.3h1v1h-1zm-0.7 -3.4h1v1h-1zm-8.1 2h1v1h-1zm1.5 -1.7h1v1h-1zm4.7 1.3h1v1h-1zm-1.5 2h1v1h-1zm-3.7 -5.1h1v1h-1zm-0.4 3h1v1h-1zm6.3 0.9h1v1h-1zm-1.8 -0.6h1v1h-1zm2.3 -1.8h1v1h-1zm-2.9 -0.8h1v1h-1zm0.6 3.4h1v1h-1zm3.6 1h1v1h-1zm-6.1 -2h1v1h-1zm1.7 2.8h1v1h-1zm-0.5 -4.5h1v1h-1zm7.5 4.1h1v1h-1zm-9.9 -0.3h1v1h-1zm-2.2 -2.8h1v1h-1zm8.8 4.1h1v1h-1zm-12 -6.1h1v1h-1zm7.1 8.5h1v1h-1zm4.2 -7h1v1h-1zm-6.1 2.4h1v1h-1zm2.2 -3.1h1v1h-1zm2 0.5h1v1h-1zm4.5 1.9h1v1h-1zm-7.2 1.6h1v1h-1zm7.6 -4.1h1v1h-1zm-9.7 8.8h1v1h-1zm5.7 -5.3h1v1h-1zm-2.1 3.4h1v1h-1zm-1.8 -1.1h1v1h-1zm1.9 1.9h1v1h-1zm-1.7 -8.4h1v1h-1zm-1.6 3.9h1v1h-1zm3 2h1v1h-1zm-3.6 -6h1v1h-1zm0.1 4h1v1h-1zm15.9 1h1v1h-1zm-20 3.9h1v1h-1zm8.2 -6.1h1v1h-1zm-2.6 1.2h1v1h-1zm-0.7 -4.3h1v1h-1zm1.2 9h1v1h-1zm-1.8 -9.4h1v1h-1zm-0.4 7.7h1v1h-1zm6.6 -5.6h1v1h-1zm-8.6 1.8h1v1h-1zm7.9 0.9h1v1h-1zm-8.2 2.9h1v1h-1zm7.2 -3.8h1v1h-1zm-1.6 -1.9h1v1h-1zm6.1 4.4h1v1h-1zm1.2 -6.1h1v1h-1zm-15.8 6.4h1v1h-1zm-4.1 -7.8h1v1h-1zm25.1 -1.9h1v1h-1zm-10 6.9h1v1h-1zm0.4 4.7h1v1h-1zm1 -5.9h1v1h-1zm4.8 1.2h1v1h-1zm-8.5 -1.7h1v1h-1zm2.6 2.6h1v1h-1zm-5.7 0.3h1v1h-1zm6.9 -7.5h1v1h-1zm-7.5 6.9h1v1h-1zm0.7 5.2h1v1h-1zm3 -6.3h1v1h-1zm-2.9 -1.8h1v1h-1zm6.5 -3h1v1h-1zm-6.1 5.4h1v1h-1zm6 -4.8h1v1h-1zm-11.7 0.6h1v1h-1zm13.5 6.9h1v1h-1zm-7.3 -33.1h1v1h-1zm4.9 1.7h1v1h-1zm-0.2 -2.8h1v1h-1zm1 -0.7h1v1h-1zm-11.9 5.5h1v1h-1zm7.3 -4.9h1v1h-1zm-4.2 3.5h1v1h-1zm1.1 -5h1v1h-1zm5.6 3.1h1v1h-1zm-10.1 -0.4h1v1h-1zm11.3 -2.9h1v1h-1zm-4 -1.2h1v1h-1zm-7 -2h1v1h-1zm11.8 7.9h1v1h-1zm-7.5 -4.9h1v1h-1zm-2.6 -1.3h1v1h-1zm8 4.8h1v1h-1zm-1.8 -1.3h1v1h-1zm-1.3 0.8h1v1h-1zm-2.5 0.8h1v1h-1zm-2.7 -5.1h1v1h-1zm9.5 7h1v1h-1zm-2.6 -6.3h1v1h-1zm-7 3.1h1v1h-1zm8.8 -1.2h1v1h-1zm-2.5 1.9h1v1h-1zm-4.2 -2.6h1v1h-1zm-1.7 1h1v1h-1zm2.3 1.6h1v1h-1zm-1.9 -2.7h1v1h-1zm4.8 6.7h1v1h-1zm-1.6 -3.9h1v1h-1zm1.7 -1.3h1v1h-1zm2.2 1.1h1v1h-1zm-2.5 -0.8h1v1h-1zm-2.1 -1.3h1v1h-1zm1.5 7.3h1v1h-1zm-3.3 -8.6h1v1h-1zm-0.3 5.8h1v1h-1zm3.1 -5.4h1v1h-1zm-3.5 2.4h1v1h-1zm6.5 3.8h1v1h-1zm-5.3 -6.6h1v1h-1zm4.8 2.2h1v1h-1zm-3.4 3.7h1v1h-1zm-0.1 -3.4h1v1h-1zm-0.5 3.5h1v1h-1zm2.8 -6.2h1v1h-1zm1.5 -2.1h1v1h-1zm-10.3 2.7h1v1h-1zm12.5 -1.5h1v1h-1zm2.6 -1.9h1v1h-1zm-4.9 5.7h1v1h-1zm-2.3 -3.1h1v1h-1zm7.7 5.3h1v1h-1zm-6.5 -9.5h1v1h-1zm-6.6 12.6h1v1h-1zm4.9 1.2h1v1h-1zm6.5 -3.8h1v1h-1zm-12.6 -0.6h1v1h-1zm1.8 -10.6h1v1h-1zm4 11.9h1v1h-1zm12.3 3.4h1v1h-1zm-6 -4.8h1v1h-1zm-1.8 -7.1h1v1h-1zm-8.2 7h1v1h-1zm1.6 -7.5h1v1h-1zm1.8 8h1v1h-1zm1.4 -6.5h1v1h-1zm1.4 -1.4h1v1h-1zm3.7 7.3h1v1h-1zm-7.1 4.9h1v1h-1zm1.7 -10.7h1v1h-1zm7.4 8.2h1v1h-1zm-3 -5h1v1h-1zm3 7.7h1v1h-1zm-3.4 -9.2h1v1h-1zm1.4 19.3h1v1h-1zm5.9 11.5h1v1h-1zm-10.7 -16.5h1v1h-1zm6.9 6.7h1v1h-1zm1.4 5.6h1v1h-1zm-9 -5h1v1h-1zm-3.3 -1.6h1v1h-1zm10.4 6.4h1v1h-1zm-5.6 -1.9h1v1h-1zm10.5 -0.1h1v1h-1zm-7.3 -2.9h1v1h-1zm0.4 2.1h1v1h-1zm-4.2 -4.4h1v1h-1zm2.7 1.2h1v1h-1zm5.9 7.7h1v1h-1zm2.2 -2.8h1v1h-1zm-7 -3.1h1v1h-1zm-0.9 -1.4h1v1h-1zm7.7 4.4h1v1h-1zm-12 -2.8h1v1h-1zm15.2 1.5h1v1h-1zm-1 5.3h1v1h-1zm-10.2 -5.1h1v1h-1zm0.9 -10h1v1h-1zm-0.7 -15.1h1v1h-1zm-4 -13.5h1v1h-1zm-1.4 14.3h1v1h-1zm3.4 0.9h1v1h-1zm-13.9 9.1h1v1h-1zm-5.9 10.9h1v1h-1zm-3.2 -26.1h1v1h-1zm41 42.3h1v1h-1zm-5.6 -5.6h1v1h-1zm13.7 -8.9h1v1h-1zm-9.9 5.6h1v1h-1z"/><path d="M155.2 101.1h1v1h-1zm4.6 -1.8h1v1h-1zm-1.5 -2.2h1v1h-1zm1.1 3.2h1v1h-1zm0 -0.1h1v1h-1zm-0.6 -6.9h1v1h-1zm-2.9 1.9h1v1h-1zm2.2 7.1h1v1h-1zm0.5 -4.4h1v1h-1zm-2.4 -1h1v1h-1zm0.6 2.7h1v1h-1zm2.5 -1.7h1v1h-1zm1.2 2.7h1v1h-1zm-8.7 -1.9h1v1h-1zm4.9 1.2h1v1h-1zm-1.7 1.2h1v1h-1zm0.2 1h1v1h-1zm10.4 -4.4h1v1h-1zm-9.9 3h1v1h-1zm4.2 -2.5h1v1h-1zm0.8 -1.3h1v1h-1zm-1.8 1h1v1h-1zm-0.6 1.5h1v1h-1zm-3.9 -2.7h1v1h-1zm7 -1.1h1v1h-1zm-4.5 0.5h1v1h-1zm3.4 2.9h1v1h-1zm1.3 0.5h1v1h-1zm0.2 3.1h1v1h-1zm-3 -0.9h1v1h-1zm-1.8 -2.1h1v1h-1zm1.5 2.4h1v1h-1zm-1.8 -1.4h1v1h-1zm-1.8 -1.2h1v1h-1zm2.8 -1.2h1v1h-1zm2 -1.1h1v1h-1zm4 4h1v1h-1zm-5.4 -1.9h1v1h-1zm1 -1.1h1v1h-1zm-0.6 3.2h1v1h-1zm0.1 -1.9h1v1h-1zm2.8 4.3h1v1h-1zm0.7 -4.9h1v1h-1zm2.2 1.9h1v1h-1zm-2.6 -0.4h1v1h-1zm-0.4 1.7h1v1h-1zm-0.6 -2.1h1v1h-1zm-6.2 -1.9h1v1h-1zm0.9 0.6h1v1h-1zm-3.9 -2.1h1v1h-1zm6.2 5.8h1v1h-1zm-4.6 -5.5h1v1h-1zm3.6 2.3h1v1h-1zm-5.6 -0.2h1v1h-1zm10 0.7h1v1h-1zm-4.3 -3.6h1v1h-1zm2.5 3.7h1v1h-1zm-1.2 1.4h1v1h-1zm6.2 -2.4h1v1h-1zm-10.4 -2.1h1v1h-1zm3.6 3.2h1v1h-1zm-1.8 -0.6h1v1h-1zm-0.8 0.8h1v1h-1zm4.9 -0.1h1v1h-1zm-3.5 2.3h1v1h-1zm-2 -3.2h1v1h-1zm2.7 -2.1h1v1h-1zm4.4 0.2h1v1h-1zm-2.8 -0.2h1v1h-1zm-1.4 -2.2h1v1h-1zm-3.8 4.3h1v1h-1zm7.5 -1.7h1v1h-1zm-6 1.5h1v1h-1zm1.8 3h1v1h-1zm-2 -1.1h1v1h-1zm4.9 0h1v1h-1zm-2.1 -3.4h1v1h-1zm2.9 1.4h1v1h-1zm1.5 0.3h1v1h-1zm-3.6 -1.1h1v1h-1zm-2.1 -2.2h1v1h-1zm1.5 1.1h1v1h-1zm-3.4 -0.7h1v1h-1zm3.9 7.1h1v1h-1zm1.1 -4.1h1v1h-1zm-1.8 1h1v1h-1zm2.8 -3.9h1v1h-1zm-4.7 7.2h1v1h-1zm4.8 -4.6h1v1h-1zm-1.9 3.8h1v1h-1zm-0.4 -0.7h1v1h-1zm0 -3.9h1v1h-1zm0.1 2.6h1v1h-1zm-5.3 -0.7h1v1h-1zm2.4 -1.6h1v1h-1zm2.3 2.6h1v1h-1zm4.4 1.5h1v1h-1zm-3.4 -3.4h1v1h-1zm1.7 0h1v1h-1zm-1.4 -5h1v1h-1zm-5.2 3.4h1v1h-1zm-1.5 6.6h1v1h-1zm7.3 -7.9h1v1h-1zm-0.4 -0.6h1v1h-1zm-3.3 4.4h1v1h-1zm7.2 -2.2h1v1h-1zm-3.4 2.1h1v1h-1zm5.3 -6.9h1v1h-1zm-8.5 0.6h1v1h-1zm1.6 11.4h1v1h-1zm2.7 -9.5h1v1h-1zm0.6 2.7h1v1h-1zm-12.2 -0.1h1v1h-1zm-2.1 -4.6h1v1h-1zm13.2 13.4h1v1h-1zm5.9 -3.3h1v1h-1zm-4.1 -3h1v1h-1zm-0.4 5.1h1v1h-1zm2.3 1.1h1v1h-1zm-0.7 -3.5h1v1h-1zm-9.7 -9.5h1v1h-1zm-0.9 5h1v1h-1zm-0.3 -2.1h1v1h-1zm-4.1 6.5h1v1h-1zm5.8 -1.8h1v1h-1zm3.7 -7.6h1v1h-1zm-0.5 6.1h1v1h-1zm-2.1 2.5h1v1h-1zm3.5 -6.1h1v1h-1zm5.7 0h1v1h-1zm-11.3 6.9h1v1h-1zm3.7 -10.7h1v1h-1zm7.8 10.2h1v1h-1zm-3.9 -3.5h1v1h-1zm-4.6 1.6h1v1h-1zm3.4 -11.8h1v1h-1zm-5 9h1v1h-1zm10.1 -2.8h1v1h-1zm-2.6 -5.3h1v1h-1zm-1.3 16.3h1v1h-1zm-4.8 -3.1h1v1h-1zm-5.1 -1.1h1v1h-1zm7.8 -3h1v1h-1zm-4.6 2.2h1v1h-1zm7.3 -4.1h1v1h-1zm1.8 6.8h1v1h-1zm-3.7 1.2h1v1h-1zm-6 -0.8h1v1h-1zm0.9 -3.8h1v1h-1zm0.4 -3.6h1v1h-1zm-0.4 3.5h1v1h-1zm3.6 -7h1v1h-1zm1.3 6.9h1v1h-1zm-0.5 -1.8h1v1h-1zm-2.4 0.8h1v1h-1zm2 -1.9h1v1h-1zm-3.6 -4.5h1v1h-1zm10.8 5.6h1v1h-1zm-9.9 5.6h1v1h-1zm3.4 -0.8h1v1h-1zm3.2 -5.8h1v1h-1zm4.2 9.4h1v1h-1zm-9.7 -11.5h1v1h-1zm-0.6 -0.4h1v1h-1zm16.8 6.5h1v1h-1zm1.6 1.4h1v1h-1zm-2.5 -6.8h1v1h-1zm-1.1 1h1v1h-1zm-0.7 5.9h1v1h-1zm6.3 -2.8h1v1h-1zm-5.6 -0.5h1v1h-1zm2.2 0.7h1v1h-1zm1 -0.2h1v1h-1zm3.2 -2.2h1v1h-1zm-0.6 -1.8h1v1h-1zm6.5 4.5h1v1h-1zm-4.9 -0.1h1v1h-1zm-1.7 -2.7h1v1h-1zm-1.5 1.1h1v1h-1zm-2.1 3h1v1h-1zm1.8 -1.1h1v1h-1zm0.7 -1h1v1h-1zm-0.1 -3.6h1v1h-1zm-0.7 3.5h1v1h-1zm1.4 -1.8h1v1h-1zm-4.1 3.3h1v1h-1zm1.5 -4.8h1v1h-1zm0.6 2.3h1v1h-1zm0.6 -3.2h1v1h-1zm-3.6 2h1v1h-1zm5.3 -1.4h1v1h-1zm-0.9 6.7h1v1h-1zm2.8 -2.7h1v1h-1zm0.2 2.3h1v1h-1zm-4.4 -2.2h1v1h-1zm2.1 -2.6h1v1h-1zm1.2 1.6h1v1h-1zm-0.9 0.5h1v1h-1zm-1 -5.3h1v1h-1zm4.2 0.8h1v1h-1zm-5.6 3.9h1v1h-1zm0.7 0.7h1v1h-1zm0.9 -0.5h1v1h-1zm-2.2 -2.4h1v1h-1zm-1.1 4.7h1v1h-1zm-0.3 -0.1h1v1h-1zm-1.3 -8.4h1v1h-1zm-0.5 4.7h1v1h-1zm2.8 -0.1h1v1h-1zm5.7 0.7h1v1h-1zm-5.3 0.5h1v1h-1zm-3.1 1.9h1v1h-1zm7.7 -4.6h1v1h-1zm-1.3 4h1v1h-1zm-1 -0.9h1v1h-1zm-1.1 1.9h1v1h-1zm0.1 1h1v1h-1zm-1.1 -5.4h1v1h-1zm-3.6 3.3h1v1h-1zm2.4 -2.3h1v1h-1zm4.8 0.9h1v1h-1zm-1.6 0.4h1v1h-1zm-0.4 0h1v1h-1zm2.1 -2.8h1v1h-1zm-4.7 0.6h1v1h-1zm0.7 0.4h1v1h-1zm-1.9 1.4h1v1h-1zm2.8 -0.8h1v1h-1zm-2.9 1.3h1v1h-1zm-0.2 0.6h1v1h-1zm7.8 -0.2h1v1h-1zm-0.1 0.8h1v1h-1zm-1.1 1.5h1v1h-1zm0.4 -5.3h1v1h-1zm-5.4 4.3h1v1h-1zm3.3 -6.4h1v1h-1zm-0.7 5.1h1v1h-1zm6.9 2.2h1v1h-1zm-3.7 -8h1v1h-1zm-7.8 3.7h1v1h-1zm5.4 -2.1h1v1h-1zm-4.3 2h1v1h-1zm2.6 -2.3h1v1h-1zm0.6 3.9h1v1h-1zm-0.5 5.6h1v1h-1zm-3.7 -6.9h1v1h-1zm5.9 1.5h1v1h-1zm-1.8 0.4h1v1h-1zm-3.6 3.7h1v1h-1zm8.7 -4.3h1v1h-1zm-3.8 5.2h1v1h-1zm1.3 -1h1v1h-1zm-0.2 -6.4h1v1h-1zm-3.4 0.5h1v1h-1zm0.8 -3.5h1v1h-1zm1 6.3h1v1h-1zm1.7 -2.7h1v1h-1zm-0.8 3.6h1v1h-1zm-4.5 -6.5h1v1h-1zm8.2 2h1v1h-1zm-5.8 -0.1h1v1h-1zm-5.8 0.5h1v1h-1zm4.4 0.6h1v1h-1zm-3.8 -2h1v1h-1zm5.6 6.7h1v1h-1zm6.6 2.5h1v1h-1zm-6.7 -9.8h1v1h-1zm-4.5 -0.7h1v1h-1zm2.4 1.2h1v1h-1zm6.6 6.4h1v1h-1zm-3.1 5.2h1v1h-1zm-3.4 -2.5h1v1h-1zm6.6 -9h1v1h-1zm-3.7 3.8h1v1h-1zm1 6.8h1v1h-1zm-8.9 -6.5h1v1h-1zm-5.1 -5.2h1v1h-1zm10.8 4.3h1v1h-1zm-4.3 -1h1v1h-1zm14.7 -2.5h1v1h-1zm-10.9 -0.3h1v1h-1zm-6.4 1.5h1v1h-1zm2.5 7.9h1v1h-1zm11.4 -3.6h1v1h-1zm-5.6 0.9h1v1h-1zm3.7 -6.7h1v1h-1zm-4 3.3h1v1h-1zm1.9 6.8h1v1h-1zm-8.8 -2.3h1v1h-1zm9.6 -6.7h1v1h-1zm-3.6 -8.4h1v1h-1zm-2.7 11.6h1v1h-1zm7.5 1.5h1v1h-1zm-4.3 -3.1h1v1h-1zm6.8 -0.3h1v1h-1zm-9.5 5.2h1v1h-1zm-2.2 -5.1h1v1h-1zm3.9 -7.6h1v1h-1zm-3.8 15.9h1v1h-1zm-0.5 -7.6h1v1h-1zm14 -1.6h1v1h-1zm-3.5 7.6h1v1h-1zm-0.5 -1.7h1v1h-1zm-6.4 -3.8h1v1h-1zm-3.1 -1h1v1h-1zm10.5 5.3h1v1h-1zm4.5 -3.5h1v1h-1zm-1.4 2.2h1v1h-1zm-8.6 4.8h1v1h-1zm1.3 -10.6h1v1h-1zm9 2.2h1v1h-1zm-10.6 -2.9h1v1h-1zm-6.2 8.3h1v1h-1zm11.8 -2.4h1v1h-1zm-8.3 -1.9h1v1h-1zm-4.7 2.3h1v1h-1zm8.3 -8.1h1v1h-1zm8.1 3.1h1v1h-1zm-6.4 2.4h1v1h-1zm2.1 6h1v1h-1zm-6.1 -12.8h1v1h-1zm0.3 5h1v1h-1zm-4.8 -25.7h1v1h-1zm2 -2.5h1v1h-1zm-1.6 -6.6h1v1h-1zm6.3 2.8h1v1h-1zm-10.1 5h1v1h-1zm2 5.3h1v1h-1zm8 -9.7h1v1h-1zm-1.7 6.4h1v1h-1zm2 -6.3h1v1h-1zm-11.6 5.6h1v1h-1zm6.2 -6.8h1v1h-1zm-1.3 10h1v1h-1zm5.9 -6.2h1v1h-1zm-3.4 -0.9h1v1h-1zm4 4.2h1v1h-1zm-3.1 -7.8h1v1h-1zm-0.3 3.3h1v1h-1zm1 -4.3h1v1h-1zm4 4.1h1v1h-1zm-7.2 0.2h1v1h-1zm2.5 -0.7h1v1h-1zm-1.7 1.7h1v1h-1zm-0.3 0.5h1v1h-1zm-1.8 3.3h1v1h-1zm3.9 -5.4h1v1h-1zm2.1 -0.1h1v1h-1zm0.8 0.4h1v1h-1zm-4.8 5.5h1v1h-1zm4.8 -1.2h1v1h-1zm0.6 -7.6h1v1h-1zm-4.4 1.3h1v1h-1zm-1.3 3.8h1v1h-1zm-2.5 3.6h1v1h-1zm5.6 -0.4h1v1h-1zm-6.9 -5.2h1v1h-1zm3.9 3h1v1h-1zm3.3 0.1h1v1h-1zm-1.2 4.9h1v1h-1zm-0.2 -8.1h1v1h-1zm-3.8 1.2h1v1h-1zm4.4 6.3h1v1h-1zm-1.3 -4.6h1v1h-1zm-8.4 3.3h1v1h-1zm11.1 -9.9h1v1h-1zm1.7 2.9h1v1h-1zm4.3 0.2h1v1h-1zm-5.5 0.8h1v1h-1zm-2.8 8h1v1h-1zm8.7 0h1v1h-1zm-5.3 -8.7h1v1h-1zm-6.5 -4.6h1v1h-1zm10.5 8.8h1v1h-1zm-8.7 0.6h1v1h-1zm3.8 -0.2h1v1h-1zm-5.3 4.4h1v1h-1zm8.1 -7h1v1h-1zm7.6 0.7h1v1h-1zm-13.1 -1.2h1v1h-1zm-7.8 2.1h1v1h-1zm11.9 -4.3h1v1h-1zm-9.1 0.8h1v1h-1zm11.1 4.6h1v1h-1zm-6.6 0h1v1h-1zm4.7 14h1v1h-1zm4.4 9.1h1v1h-1zm1.7 -7.4h1v1h-1zm1.2 2.7h1v1h-1zm-11.9 -1.3h1v1h-1zm4.1 -3.6h1v1h-1zm-2 1.5h1v1h-1zm11.3 4.6h1v1h-1zm0.2 -23.1h1v1h-1zm-3.1 1.8h1v1h-1zm-14.4 -14.4h1v1h-1zm9.6 9.7h1v1h-1zm-26.7 13.1h1v1h-1zm5.1 -4h1v1h-1zm27.2 28h1v1h-1zm17.8 -3.7h1v1h-1zm-2.5 -7.7h1v1h-1zm-4.8 12.7h1v1h-1zm-3 -17.2h1v1h-1zm0.3 11.7h1v1h-1z"/><path d="M159.8 98h1v1h-1zm-5.1 2.5h1v1h-1zm7.6 0.4h1v1h-1zm-0.6 1.4h1v1h-1zm-4.6 -4.6h1v1h-1zm-0.2 -2.1h1v1h-1zm4.5 1.9h1v1h-1zm-5.8 2.1h1v1h-1zm0.7 0.6h1v1h-1zm4 2.2h1v1h-1zm1.8 -7h1v1h-1zm-3.9 4.2h1v1h-1zm1.5 -2.1h1v1h-1zm4.1 2.5h1v1h-1zm-3.3 -1.6h1v1h-1zm-2.3 1h1v1h-1zm-2.8 1.2h1v1h-1zm6.7 0.7h1v1h-1zm-8.2 -0.3h1v1h-1zm5.4 1h1v1h-1zm3.7 -4.5h1v1h-1zm0.9 8.2h1v1h-1zm-6.6 -5.4h1v1h-1zm-1.1 -0.8h1v1h-1zm-0.7 -0.2h1v1h-1zm0.8 0.3h1v1h-1zm5.5 0.9h1v1h-1zm-4 2.2h1v1h-1zm-4.6 -4.8h1v1h-1zm6.4 2.9h1v1h-1zm-6.8 -1.2h1v1h-1zm8.7 -0.8h1v1h-1zm-1.9 -3.9h1v1h-1zm-3.5 6h1v1h-1zm-0.8 -2.8h1v1h-1zm5.8 -1.8h1v1h-1zm-6.9 9.6h1v1h-1zm4.4 -7.9h1v1h-1zm-0.6 1.9h1v1h-1zm-3 -1.3h1v1h-1zm3.2 -4.7h1v1h-1zm-3.5 5.2h1v1h-1zm4.4 -0.1h1v1h-1zm-2.9 0h1v1h-1zm0.1 -2.7h1v1h-1zm3.8 4.1h1v1h-1zm-0.1 -2.2h1v1h-1zm2.8 0.5h1v1h-1zm-5.7 2.6h1v1h-1zm1.4 -3.2h1v1h-1zm-8.6 0.1h1v1h-1zm11.6 2.5h1v1h-1zm-5.1 -0.9h1v1h-1zm-2.7 -1.8h1v1h-1zm0.8 -2.6h1v1h-1zm9.4 3h1v1h-1zm-12.7 -2.3h1v1h-1zm3.2 5.8h1v1h-1zm-3.5 -5.2h1v1h-1zm8 1.2h1v1h-1zm-8 1h1v1h-1zm5.7 -0.4h1v1h-1zm4.9 3.7h1v1h-1zm2.2 -1.1h1v1h-1zm-2.8 -2.6h1v1h-1zm-0.1 1.4h1v1h-1zm-6.5 -1.3h1v1h-1zm0.7 2.3h1v1h-1zm1.6 -5.5h1v1h-1zm3.9 7.3h1v1h-1zm-8.5 -5.4h1v1h-1zm10.6 1.4h1v1h-1zm-3.5 -1.1h1v1h-1zm-4.9 0.1h1v1h-1zm5.5 0.4h1v1h-1zm-5.3 -1.8h1v1h-1zm4.5 4.9h1v1h-1zm-0.1 -5h1v1h-1zm-2.8 4.1h1v1h-1zm1.7 -0.6h1v1h-1zm0.7 -1.6h1v1h-1zm3.8 2.4h1v1h-1zm-11.5 -3.7h1v1h-1zm4.5 7.3h1v1h-1zm-2 -7.6h1v1h-1zm7.5 2.9h1v1h-1zm-2.6 1.2h1v1h-1zm4.6 -2.6h1v1h-1zm-7.9 2.7h1v1h-1zm5.4 -3h1v1h-1zm-2.2 2.2h1v1h-1zm5.9 -0.6h1v1h-1zm-2.9 1.9h1v1h-1zm8.2 -2.5h1v1h-1zm-1.9 4.9h1v1h-1zm-0.3 -6.5h1v1h-1zm-12.6 -0.9h1v1h-1zm15.3 1.2h1v1h-1zm-10.6 0.7h1v1h-1zm6.6 -0.7h1v1h-1zm-11 -1.8h1v1h-1zm5.2 1.3h1v1h-1zm1.2 9.1h1v1h-1zm-1.6 -0.6h1v1h-1zm-9.9 -12.5h1v1h-1zm10.7 5.7h1v1h-1zm-0.4 1.2h1v1h-1zm-2.4 4.2h1v1h-1zm-1.6 1.8h1v1h-1zm-1.1 -9h1v1h-1zm15.6 5.4h1v1h-1zm-13.8 1.8h1v1h-1zm8.4 -11.7h1v1h-1zm-2.1 7.7h1v1h-1zm-12.8 3.7h1v1h-1zm5.3 -4h1v1h-1zm3.7 0.7h1v1h-1zm-5.3 -7.8h1v1h-1zm10.2 4.2h1v1h-1zm-6.1 -0.8h1v1h-1zm-4.9 -1.4h1v1h-1zm5.3 5h1v1h-1zm-3.8 -5.3h1v1h-1zm3.7 7.7h1v1h-1zm2.3 -3h1v1h-1zm-3.2 3.1h1v1h-1zm14.7 2.9h1v1h-1zm-23.2 -3.6h1v1h-1zm17.1 -2h1v1h-1zm-8 -6.7h1v1h-1zm1.1 10.1h1v1h-1zm2.5 -0.2h1v1h-1zm1.5 -4.1h1v1h-1zm-7.6 -2.9h1v1h-1zm6.3 5.2h1v1h-1zm-2.1 -3.7h1v1h-1zm-2.6 -0.7h1v1h-1zm-0.1 9.7h1v1h-1zm4 -5.7h1v1h-1zm-12.1 5h1v1h-1zm3.9 -7.9h1v1h-1zm-4.7 5.1h1v1h-1zm6.7 -5.8h1v1h-1zm-3.9 4.6h1v1h-1zm3.8 -4.1h1v1h-1zm6.4 5.8h1v1h-1zm-11.7 -4.6h1v1h-1zm8.4 -1.4h1v1h-1zm-2.2 6.1h1v1h-1zm16.3 -1.5h1v1h-1zm5.5 -0.5h1v1h-1zm-5.6 -0.2h1v1h-1zm3.4 -3.2h1v1h-1zm-4.5 0h1v1h-1zm3.2 -1.4h1v1h-1zm2.1 1.2h1v1h-1zm-3.1 1.4h1v1h-1zm-2.3 5.4h1v1h-1zm2.9 -6.5h1v1h-1zm0.3 -1.1h1v1h-1zm-2 2.1h1v1h-1zm8.7 -0.4h1v1h-1zm-5.3 -1.7h1v1h-1zm-0.1 -2.4h1v1h-1zm-0.3 6.1h1v1h-1zm-0.7 -1.3h1v1h-1zm2 1.5h1v1h-1zm-4.9 -6h1v1h-1zm1.2 7h1v1h-1zm5.7 -0.3h1v1h-1zm-4.5 0.1h1v1h-1zm0.2 -1.5h1v1h-1zm-3 -5.1h1v1h-1zm11.2 6.3h1v1h-1zm-11.6 -4.3h1v1h-1zm2.7 1.4h1v1h-1zm-1.5 -0.2h1v1h-1zm3 0.7h1v1h-1zm3.5 -5h1v1h-1zm-9.8 -2.7h1v1h-1zm3 9.5h1v1h-1zm0.7 -3.4h1v1h-1zm-0.3 2.4h1v1h-1zm1.1 -3.6h1v1h-1zm-2.1 -0.3h1v1h-1zm3.5 3h1v1h-1zm0.4 -0.4h1v1h-1zm0.8 6.5h1v1h-1zm-4.3 -8.5h1v1h-1zm-0.8 1.5h1v1h-1zm4.5 5.8h1v1h-1zm6.6 -4.8h1v1h-1zm-4.9 0.7h1v1h-1zm-3.5 -0.2h1v1h-1zm-5.5 0.5h1v1h-1zm2.8 -2.5h1v1h-1zm3.8 2.5h1v1h-1zm-1.6 -0.4h1v1h-1zm4.8 -3.2h1v1h-1zm-7.4 -2.5h1v1h-1zm1.7 5.1h1v1h-1zm3.1 2.5h1v1h-1zm-2.8 -2.4h1v1h-1zm-0.6 2.3h1v1h-1zm2.2 -0.2h1v1h-1zm-1.7 1h1v1h-1zm-2.1 -3.3h1v1h-1zm6.3 3.4h1v1h-1zm-3 -2.1h1v1h-1zm-1.5 -0.4h1v1h-1zm0.3 0.1h1v1h-1zm2.5 -3.1h1v1h-1zm0.6 1.7h1v1h-1zm-3.1 2.4h1v1h-1zm7.8 -4.5h1v1h-1zm-4.8 0.1h1v1h-1zm0.1 4.9h1v1h-1zm0.1 0.6h1v1h-1zm4.4 -3.5h1v1h-1zm-4 -0.6h1v1h-1zm3.3 -1.4h1v1h-1zm-4.2 2.5h1v1h-1zm-1.7 2.8h1v1h-1zm0.9 1.5h1v1h-1zm1.7 -4.2h1v1h-1zm1 0.5h1v1h-1zm-2.6 -1.9h1v1h-1zm-2.5 -0.3h1v1h-1zm1.4 4.5h1v1h-1zm2.6 -3.3h1v1h-1zm6.3 6h1v1h-1zm-1.8 -2.9h1v1h-1zm-5.7 -6.2h1v1h-1zm-1.3 4.4h1v1h-1zm1.2 0h1v1h-1zm-6.9 -5.5h1v1h-1zm8.1 2.4h1v1h-1zm-2 1.1h1v1h-1zm2.4 -3.9h1v1h-1zm1.7 5.2h1v1h-1zm-7.9 -1.2h1v1h-1zm7 7.1h1v1h-1zm-3.1 -9.2h1v1h-1zm5.2 7.7h1v1h-1zm-1.5 -5.3h1v1h-1zm-6.9 6.1h1v1h-1zm8.5 -9.8h1v1h-1zm-2.5 7.5h1v1h-1zm4.3 -1.8h1v1h-1zm2.6 -1.4h1v1h-1zm-1.1 -2.3h1v1h-1zm-1 -0.3h1v1h-1zm-6.8 7.6h1v1h-1zm0 2.4h1v1h-1zm1.3 -8h1v1h-1zm2.7 4.5h1v1h-1zm8.6 0.6h1v1h-1zm-12.6 -5.6h1v1h-1zm-6.3 8.7h1v1h-1zm7.9 -11.1h1v1h-1zm-5.5 -0.9h1v1h-1zm5 6.8h1v1h-1zm0 -15.6h1v1h-1zm-7.8 18.5h1v1h-1zm10.7 -16.5h1v1h-1zm-8.9 11.7h1v1h-1zm9.8 0h1v1h-1zm-8.9 0.8h1v1h-1zm-3.3 -8h1v1h-1zm14.9 12.7h1v1h-1zm3.5 0.8h1v1h-1zm-13.1 -4.5h1v1h-1zm1.7 -0.8h1v1h-1zm2.3 0.7h1v1h-1zm-3.3 1h1v1h-1zm-5.4 -3.7h1v1h-1zm16.1 -2.3h1v1h-1zm-14.8 5h1v1h-1zm7.9 -3.9h1v1h-1zm0.8 5.5h1v1h-1zm1.4 -7h1v1h-1zm2.7 10.4h1v1h-1zm-5.2 -0.6h1v1h-1zm3.8 -0.4h1v1h-1zm-2.4 -4.7h1v1h-1zm-3.1 -8.9h1v1h-1zm-3.2 8.6h1v1h-1zm5.9 5.1h1v1h-1zm-2.8 -0.6h1v1h-1zm-5.5 -7.9h1v1h-1zm-6.1 0h1v1h-1zm16.9 1.2h1v1h-1zm4 -2.5h1v1h-1zm-10.8 3.5h1v1h-1zm-2.3 2.2h1v1h-1zm-2.9 -7.8h1v1h-1zm18.3 8h1v1h-1zm-7.8 -6.4h1v1h-1zm-1.5 6.7h1v1h-1zm-2.2 -5h1v1h-1zm-1.9 -30h1v1h-1zm-1.4 -1h1v1h-1zm0.9 3.7h1v1h-1zm5.7 -0.7h1v1h-1zm-5.3 -5.8h1v1h-1zm-6.7 3.8h1v1h-1zm10.6 -1.1h1v1h-1zm-3.3 10h1v1h-1zm-2.1 -5.5h1v1h-1zm6.5 -4.1h1v1h-1zm-7 2h1v1h-1zm3.4 1.1h1v1h-1zm0.3 -2.9h1v1h-1zm-0.4 3.8h1v1h-1zm6 0.4h1v1h-1zm-9.5 -1.3h1v1h-1zm-2 -3.7h1v1h-1zm2.3 6.4h1v1h-1zm3.5 0.1h1v1h-1zm-0.6 -2.2h1v1h-1zm1.1 -0.3h1v1h-1zm-5.5 -0.6h1v1h-1zm4.9 -0.3h1v1h-1zm-2.2 -1.6h1v1h-1zm-0.7 2.1h1v1h-1zm-1.9 -3.5h1v1h-1zm-2.9 6.5h1v1h-1zm8.2 -1.5h1v1h-1zm-2.9 -0.4h1v1h-1zm2.1 -4.4h1v1h-1zm0.5 2.9h1v1h-1zm-1.1 -3.3h1v1h-1zm-4.8 5.2h1v1h-1zm4.1 -4.5h1v1h-1zm-5.8 2.1h1v1h-1zm8.2 2.1h1v1h-1zm-1.5 -2.1h1v1h-1zm-2.2 2.3h1v1h-1zm6.3 -3.7h1v1h-1zm-4.8 6.9h1v1h-1zm-1 -6.2h1v1h-1zm8 -2h1v1h-1zm-16.6 5.7h1v1h-1zm11 1h1v1h-1zm1.1 -11.3h1v1h-1zm7.6 3.1h1v1h-1zm-12.3 -1.8h1v1h-1zm0.5 2.9h1v1h-1zm-4.6 -0.8h1v1h-1zm10.6 10.7h1v1h-1zm-3.8 -2.2h1v1h-1zm12.2 -10.1h1v1h-1zm-9.6 5.5h1v1h-1zm-8.6 -3.1h1v1h-1zm10.2 3.5h1v1h-1zm-5.5 5.2h1v1h-1zm0.8 3.7h1v1h-1zm15.6 19.1h1v1h-1zm-9.6 -5.7h1v1h-1zm3.3 -0.1h1v1h-1zm3.8 -1.9h1v1h-1zm3.3 2.6h1v1h-1zm-18.1 -8.9h1v1h-1zm-4.6 1.2h1v1h-1zm15.9 2.3h1v1h-1zm-6.4 -1.8h1v1h-1zm-6.6 1h1v1h-1zm12.7 5.4h1v1h-1zm-6.8 -0.3h1v1h-1zm5.4 3.4h1v1h-1zm-6.8 -6.5h1v1h-1zm4.6 -0.8h1v1h-1zm7.8 7h1v1h-1zm-4.6 -5.7h1v1h-1zm1 1.2h1v1h-1zm0.5 0.9h1v1h-1zm-4.1 2.8h1v1h-1zm-3.3 -10.4h1v1h-1zm6.8 17.3h1v1h-1zm1.6 -2h1v1h-1zm-8.7 -13.9h1v1h-1zm-7.3 -2.6h1v1h-1zm23.3 -7.5h1v1h-1zm-9.4 -1.6h1v1h-1zm-5.8 10h1v1h-1zm7.8 -6.1h1v1h-1zm-7.6 -17.8h1v1h-1zm9.1 36.3h1v1h-1zm-0.7 -0.5h1v1h-1z"/><path d="M160.5 100.8h1v1h-1zm-0.7 -3.1h1v1h-1zm1.9 -2.6h1v1h-1zm-3.6 5.9h1v1h-1zm-5.4 -5.2h1v1h-1zm9.3 8.1h1v1h-1zm-8.5 -2.4h1v1h-1zm2.9 -2.4h1v1h-1zm-2.5 -2.9h1v1h-1zm7.1 -2.2h1v1h-1zm-2.1 5h1v1h-1zm-2 0.2h1v1h-1zm2.3 0.9h1v1h-1zm-2.7 2.7h1v1h-1zm0.4 -3.5h1v1h-1zm2.5 0h1v1h-1zm-5.1 -0.7h1v1h-1zm-0.2 -1.1h1v1h-1zm2.3 4.7h1v1h-1zm1.1 -1.1h1v1h-1zm-0.7 3.9h1v1h-1zm6.4 -8.3h1v1h-1zm-4.6 3.3h1v1h-1zm-1.7 1.3h1v1h-1zm-0.2 -2h1v1h-1zm1.6 -1.6h1v1h-1zm1.8 -2.5h1v1h-1zm-3.7 2h1v1h-1zm6 7.6h1v1h-1zm-6.1 -7.2h1v1h-1zm-3.4 0.3h1v1h-1zm2.7 0.5h1v1h-1zm5 -2.7h1v1h-1zm-3.6 2h1v1h-1zm2.5 4.9h1v1h-1zm-6.5 0.4h1v1h-1zm6.6 -3.1h1v1h-1zm-0.3 -3.3h1v1h-1zm1 4.2h1v1h-1zm-1.7 -2.9h1v1h-1zm3.7 4.7h1v1h-1zm-8.9 -3.2h1v1h-1zm4.4 -1.9h1v1h-1zm3 2.9h1v1h-1zm-2.4 -1.8h1v1h-1zm-1.2 2.4h1v1h-1zm-3.4 -3.5h1v1h-1zm5 0.3h1v1h-1zm0.3 3.5h1v1h-1zm-2.5 -2.1h1v1h-1zm2.3 0.9h1v1h-1zm-1.7 -1h1v1h-1zm-0.3 2.5h1v1h-1zm3 -5.1h1v1h-1zm-1.5 4.1h1v1h-1zm-5.7 -2.1h1v1h-1zm-1.4 -3.4h1v1h-1zm7 6.2h1v1h-1zm2.9 2.5h1v1h-1zm-3.6 -5.9h1v1h-1zm-0.3 0h1v1h-1zm-1.2 1.3h1v1h-1zm1.9 1.2h1v1h-1zm-2.1 0.5h1v1h-1zm6.6 -2.4h1v1h-1zm-3.1 3.1h1v1h-1zm0.6 -0.9h1v1h-1zm-9.5 -2.9h1v1h-1zm2.8 0.8h1v1h-1zm7.1 0.4h1v1h-1zm-1.4 0.3h1v1h-1zm-0.1 0.2h1v1h-1zm-1 4.2h1v1h-1zm0.9 -5h1v1h-1zm-2.5 0.1h1v1h-1zm-0.9 1h1v1h-1zm1.6 -0.7h1v1h-1zm5.1 -3.4h1v1h-1zm-6.5 6.2h1v1h-1zm-2 -4.9h1v1h-1zm4 -0.2h1v1h-1zm-0.4 4h1v1h-1zm-1.6 2h1v1h-1zm-2 0.2h1v1h-1zm4.8 -3.2h1v1h-1zm-0.8 -0.5h1v1h-1zm-0.3 -3.3h1v1h-1zm1.8 7.6h1v1h-1zm2.2 -1.6h1v1h-1zm-1.5 -1.1h1v1h-1zm0.2 0.6h1v1h-1zm-3.7 -2.8h1v1h-1zm3.5 -0.2h1v1h-1zm-1.2 -3.2h1v1h-1zm1.6 3.4h1v1h-1zm-1.3 -0.4h1v1h-1zm-1.7 -3.1h1v1h-1zm5.7 7.6h1v1h-1zm-7.6 -4.5h1v1h-1zm2.6 3.7h1v1h-1zm-7.1 -3.3h1v1h-1zm5.7 3.3h1v1h-1zm5.6 -0.2h1v1h-1zm-6.7 -1.5h1v1h-1zm0.5 -2h1v1h-1zm-0.5 4h1v1h-1zm5.5 -0.9h1v1h-1zm-3.6 0h1v1h-1zm-0.8 -4h1v1h-1zm-1.7 2.6h1v1h-1zm1.8 1.6h1v1h-1zm1.4 -1.9h1v1h-1zm-6 -2.4h1v1h-1zm3.7 -2.7h1v1h-1zm-0.8 3.4h1v1h-1zm7.4 -1.7h1v1h-1zm5.9 -2h1v1h-1zm-3.4 6.8h1v1h-1zm-9.1 -3.1h1v1h-1zm0.3 0.3h1v1h-1zm7 -4.3h1v1h-1zm-11.5 10.8h1v1h-1zm-0.5 -5.7h1v1h-1zm-3.7 2.9h1v1h-1zm11.8 -10.7h1v1h-1zm-5.3 12.4h1v1h-1zm0 2.8h1v1h-1zm12.3 -4.9h1v1h-1zm-3.2 -0.2h1v1h-1zm-6 -8.5h1v1h-1zm-1.7 1.8h1v1h-1zm-4.3 -3.7h1v1h-1zm0.8 6.7h1v1h-1zm-1.4 4h1v1h-1zm5.8 -9.5h1v1h-1zm-5 3.7h1v1h-1zm11.3 5.1h1v1h-1zm-1.7 -5.7h1v1h-1zm-7.2 3.1h1v1h-1zm4.1 6.2h1v1h-1zm-2.1 -2.5h1v1h-1zm-1 -6.4h1v1h-1zm4.5 2.9h1v1h-1zm-1.8 -2.3h1v1h-1zm10.6 2.8h1v1h-1zm-10.5 2.8h1v1h-1zm1.2 0.5h1v1h-1zm-1.5 -2.2h1v1h-1zm-7.3 -1.9h1v1h-1zm8.6 3.7h1v1h-1zm-2.7 -1.5h1v1h-1zm-1 -3.6h1v1h-1zm-4.7 2.7h1v1h-1zm8.8 -5.7h1v1h-1zm-2.2 5.5h1v1h-1zm-7.8 1.6h1v1h-1zm6.4 -0.8h1v1h-1zm3.7 0.5h1v1h-1zm0.2 5.9h1v1h-1zm-4.3 -6.4h1v1h-1zm1.4 -0.4h1v1h-1zm2 -7.3h1v1h-1zm3.4 5.5h1v1h-1zm1.6 -0.9h1v1h-1zm-11.5 0.4h1v1h-1zm18.2 3.4h1v1h-1zm3.3 -1.2h1v1h-1zm0.3 -1h1v1h-1zm9.8 -2.4h1v1h-1zm-9.9 2.5h1v1h-1zm-1.6 5h1v1h-1zm5 -0.5h1v1h-1zm0.6 -3.6h1v1h-1zm-4 0.7h1v1h-1zm0.3 -6.3h1v1h-1zm-3.7 2.1h1v1h-1zm2.3 1.2h1v1h-1zm1.1 4.6h1v1h-1zm2.3 -3.3h1v1h-1zm1.4 -4.9h1v1h-1zm-1.6 6.5h1v1h-1zm-2 -0.5h1v1h-1zm-4.2 -1.2h1v1h-1zm7 1.4h1v1h-1zm7.4 -4.9h1v1h-1zm-14.3 8.5h1v1h-1zm6.9 -4.3h1v1h-1zm-3.8 -0.9h1v1h-1zm-0.9 0.1h1v1h-1zm5.7 -5.3h1v1h-1zm-1.9 6.5h1v1h-1zm-0.2 -3.9h1v1h-1zm-1.8 3.4h1v1h-1zm-1.7 -2h1v1h-1zm-3.6 3.2h1v1h-1zm5 -8.1h1v1h-1zm-0.7 6.7h1v1h-1zm5.1 0.2h1v1h-1zm-1.7 3.4h1v1h-1zm-0.2 -3h1v1h-1zm-5.1 3.7h1v1h-1zm3.5 -5.3h1v1h-1zm-0.5 -0.5h1v1h-1zm2.1 1.4h1v1h-1zm-0.1 0.7h1v1h-1zm2.3 -1.2h1v1h-1zm-10.1 -2.8h1v1h-1zm8.5 4.6h1v1h-1zm1.5 -4.7h1v1h-1zm-8.8 5.6h1v1h-1zm8 -0.6h1v1h-1zm-5.8 -3.4h1v1h-1zm-0.7 5.2h1v1h-1zm6.6 -4.2h1v1h-1zm3.8 -0.1h1v1h-1zm-8.3 -1h1v1h-1zm2.1 -1.4h1v1h-1zm2.3 2.3h1v1h-1zm0.9 4.5h1v1h-1zm-3.1 -3.8h1v1h-1zm0.9 -7h1v1h-1zm5.9 5h1v1h-1zm-3.7 3.7h1v1h-1zm-2.6 1.3h1v1h-1zm-1.7 -1.3h1v1h-1zm1.8 3.7h1v1h-1zm1.6 -7.8h1v1h-1zm1.6 0.7h1v1h-1zm0.1 5.2h1v1h-1zm-5.7 -4h1v1h-1zm5.1 0.3h1v1h-1zm-4.5 -0.5h1v1h-1zm4.4 -1.1h1v1h-1zm-3.8 -1.4h1v1h-1zm-2.8 10.2h1v1h-1zm1 -7.1h1v1h-1zm8.8 2.3h1v1h-1zm-6.5 -1.8h1v1h-1zm-2.1 -7.3h1v1h-1zm1.8 5h1v1h-1zm3.1 -0.2h1v1h-1zm-2.4 2.1h1v1h-1zm-4.6 1.4h1v1h-1zm-2.3 0.8h1v1h-1zm2.2 -1.1h1v1h-1zm3.7 -1.8h1v1h-1zm0.8 -0.4h1v1h-1zm-3.6 4.4h1v1h-1zm-0.8 4.4h1v1h-1zm4.1 -13.5h1v1h-1zm5.6 6.3h1v1h-1zm-7.1 2.5h1v1h-1zm0.4 -6.9h1v1h-1zm7.5 -4h1v1h-1zm-1.4 9.9h1v1h-1zm-10.2 -1.1h1v1h-1zm-6.4 -2.5h1v1h-1zm10.3 3.2h1v1h-1zm-5.4 -0.7h1v1h-1zm2 4.3h1v1h-1zm3.3 -9.2h1v1h-1zm-4.7 0.1h1v1h-1zm11.4 0.4h1v1h-1zm1.7 3.3h1v1h-1zm-2.4 3.2h1v1h-1zm-7.2 -9.8h1v1h-1zm2.1 9.1h1v1h-1zm-4.2 -3.4h1v1h-1zm2.2 -2h1v1h-1zm1.5 11.4h1v1h-1zm1.1 -12.7h1v1h-1zm-4.8 -0.1h1v1h-1zm2.6 -0.2h1v1h-1zm11.3 12.9h1v1h-1zm-9.7 -8h1v1h-1zm6.6 -2.3h1v1h-1zm-5.8 4h1v1h-1zm-1.5 1.4h1v1h-1zm5.5 1.9h1v1h-1zm0.6 -5.9h1v1h-1zm-6.7 -1.4h1v1h-1zm5.6 5.9h1v1h-1zm-5.9 -2.1h1v1h-1zm-2 -2.8h1v1h-1zm3.3 0.1h1v1h-1zm-1.9 2.2h1v1h-1zm0 -1.4h1v1h-1zm0 -9h1v1h-1zm0.8 4.5h1v1h-1zm6.8 11.5h1v1h-1zm2.1 -4.9h1v1h-1zm-2.3 -5.4h1v1h-1zm-10.5 2h1v1h-1zm-4.1 1h1v1h-1zm15.1 1.5h1v1h-1zm-7.1 4.7h1v1h-1zm-0.3 -7.7h1v1h-1zm12.1 4.8h1v1h-1zm1.1 -7h1v1h-1zm-14.5 -0.7h1v1h-1zm3.1 -27.2h1v1h-1zm-3.1 -4.7h1v1h-1zm-0.9 3.3h1v1h-1zm4.3 3.1h1v1h-1zm-4.6 -1.4h1v1h-1zm0.7 0.1h1v1h-1zm-2.1 2.5h1v1h-1zm-0.2 -0.9h1v1h-1zm4.6 1.9h1v1h-1zm-2.3 -2.3h1v1h-1zm4.9 -1.4h1v1h-1zm-3.4 0.5h1v1h-1zm-3.7 2.9h1v1h-1zm2.7 -6.3h1v1h-1zm1.2 0.4h1v1h-1zm-1.1 4.6h1v1h-1zm2.1 -4.2h1v1h-1zm-3 1.1h1v1h-1zm5.7 -1.8h1v1h-1zm-1.8 7.1h1v1h-1zm-1.9 -3.6h1v1h-1zm-1.2 0.5h1v1h-1zm4.9 -5.8h1v1h-1zm-6.7 5.4h1v1h-1zm2.9 0.9h1v1h-1zm-2.2 -1.9h1v1h-1zm4.3 3.1h1v1h-1zm-5.4 -5.8h1v1h-1zm4 -0.4h1v1h-1zm2.8 4.7h1v1h-1zm-2.3 -2.7h1v1h-1zm-1.8 4.8h1v1h-1zm1.7 -3.3h1v1h-1zm-4.3 3.1h1v1h-1zm-0.3 -0.9h1v1h-1zm1.6 -0.4h1v1h-1zm10.5 3h1v1h-1zm2.8 -1.6h1v1h-1zm-16.4 1.5h1v1h-1zm5.2 -3.4h1v1h-1zm7.1 -0.6h1v1h-1zm-0.3 -3.7h1v1h-1zm-9.2 -1.5h1v1h-1zm-3.1 8.8h1v1h-1zm-0.2 1.7h1v1h-1zm10.8 -5.2h1v1h-1zm-1.9 -0.1h1v1h-1zm-3.7 1.3h1v1h-1zm-8.3 -0.2h1v1h-1zm2.5 2.4h1v1h-1zm2.2 7.4h1v1h-1zm2.1 11.3h1v1h-1zm10.2 -5.4h1v1h-1zm-5.7 -0.6h1v1h-1zm5.6 6h1v1h-1zm-4.5 -4.7h1v1h-1zm3.1 1.7h1v1h-1zm-7.5 -3.3h1v1h-1zm21.8 7.2h1v1h-1zm-10.7 3.1h1v1h-1zm-2.4 -5.7h1v1h-1zm-10.2 -2.7h1v1h-1zm-6 -27.3h1v1h-1zm11.5 -7.2h1v1h-1zm-16.7 -4.1h1v1h-1zm3 18.3h1v1h-1zm-13.1 20.9h1v1h-1zm34.4 13.9h1v1h-1zm12.5 -9.7h1v1h-1zm-10.6 10.9h1v1h-1z"/><path d="M158.8 101.8h1v1h-1zm-2.2 -2.5h1v1h-1zm9.6 3.7h1v1h-1zm-9.1 -2.9h1v1h-1zm-0.8 1h1v1h-1zm3.1 3.1h1v1h-1zm-3.9 -3.4h1v1h-1zm3.2 -2.1h1v1h-1zm-2.8 1.9h1v1h-1zm2.1 -2.5h1v1h-1zm1.7 5.2h1v1h-1zm1.8 -5.2h1v1h-1zm-6.2 4.5h1v1h-1zm0.8 -8.1h1v1h-1zm2.5 1.7h1v1h-1zm1.5 -0.2h1v1h-1zm-4.1 2.9h1v1h-1zm-2 3h1v1h-1zm6.7 -3.4h1v1h-1zm-3.1 3.4h1v1h-1zm-2.1 -0.1h1v1h-1zm2.6 -1.6h1v1h-1zm2 0.8h1v1h-1zm-1.1 0.6h1v1h-1zm-2.8 -6.2h1v1h-1zm-4.5 -0.3h1v1h-1zm8.9 0.6h1v1h-1zm-1.5 3h1v1h-1zm-3 0.2h1v1h-1zm-2.3 1.4h1v1h-1zm6.8 0.4h1v1h-1zm-1.2 -3.9h1v1h-1zm-1 1.4h1v1h-1zm-0.9 0.7h1v1h-1zm1.7 -0.6h1v1h-1zm-1.6 1.8h1v1h-1zm4.9 -0.6h1v1h-1zm-4.3 -1.4h1v1h-1zm-1.9 1.5h1v1h-1zm2.1 -3.1h1v1h-1zm1.3 3.4h1v1h-1zm-2.5 -2.7h1v1h-1zm1.6 2.1h1v1h-1zm-4.9 -0.4h1v1h-1zm7.1 -0.3h1v1h-1zm-3 -2.1h1v1h-1zm1.3 4h1v1h-1zm-3.5 -1.7h1v1h-1zm1.1 1.6h1v1h-1zm-1.9 -3.1h1v1h-1zm1.4 3.5h1v1h-1zm3.5 -2.6h1v1h-1zm-1 -2.7h1v1h-1zm-0.4 8.3h1v1h-1zm-2 -6.2h1v1h-1zm4.7 2.5h1v1h-1zm-6.1 -5.7h1v1h-1zm7.5 7.7h1v1h-1zm0.9 -2.4h1v1h-1zm-5.4 -4.8h1v1h-1zm-3.7 2.5h1v1h-1zm-1.4 3.7h1v1h-1zm1.7 -1.7h1v1h-1zm0.8 -0.8h1v1h-1zm-0.7 -3h1v1h-1zm3.3 3.6h1v1h-1zm2.3 -2.9h1v1h-1zm-6.7 3.4h1v1h-1zm1.4 0.3h1v1h-1zm2.8 0.1h1v1h-1zm2.6 -3.3h1v1h-1zm6.2 4.1h1v1h-1zm-5.4 0h1v1h-1zm-4 -2.8h1v1h-1zm0.3 3.7h1v1h-1zm-2 -0.7h1v1h-1zm4 -2.2h1v1h-1zm-1.6 -0.2h1v1h-1zm3.1 -2.7h1v1h-1zm-1.6 4h1v1h-1zm-8.2 0.7h1v1h-1zm8.3 -1.2h1v1h-1zm-8.2 3.2h1v1h-1zm9.8 -2h1v1h-1zm-0.7 -0.7h1v1h-1zm-3 -0.5h1v1h-1zm-2.3 3h1v1h-1zm8.4 -6.6h1v1h-1zm-1.9 2.3h1v1h-1zm-7.8 1.4h1v1h-1zm3.4 3.3h1v1h-1zm-2.1 -0.4h1v1h-1zm6.5 -0.9h1v1h-1zm-4.9 -4.4h1v1h-1zm-0.4 -3.6h1v1h-1zm-1.5 -0.4h1v1h-1zm0.3 9h1v1h-1zm-0.6 -4.7h1v1h-1zm2.1 -3.8h1v1h-1zm3.1 4.7h1v1h-1zm-8.3 5.3h1v1h-1zm14.2 0.1h1v1h-1zm1.7 -4.4h1v1h-1zm-5.8 -5.3h1v1h-1zm10 2.3h1v1h-1zm-13.1 2h1v1h-1zm-9 0.1h1v1h-1zm5.9 0h1v1h-1zm4.6 -2.2h1v1h-1zm8.7 4.1h1v1h-1zm-15.6 -3.7h1v1h-1zm12.6 10.3h1v1h-1zm-14.5 -5.2h1v1h-1zm1.4 -2.8h1v1h-1zm8.8 4.1h1v1h-1zm1.9 -9h1v1h-1zm2.1 7.1h1v1h-1zm1.3 -1.4h1v1h-1zm-13.7 -5.2h1v1h-1zm5.7 -0.4h1v1h-1zm-3 -1.6h1v1h-1zm5.3 2.9h1v1h-1zm-4.1 1.5h1v1h-1zm-4.6 4.5h1v1h-1zm-3.9 0.5h1v1h-1zm8 -2.4h1v1h-1zm2.6 1.1h1v1h-1zm-0.6 -1.7h1v1h-1zm1.1 1.3h1v1h-1zm5.7 3.4h1v1h-1zm-10.9 -9.7h1v1h-1zm11.3 9.1h1v1h-1zm-8.8 -4.9h1v1h-1zm7.1 5.8h1v1h-1zm-1.9 -3.7h1v1h-1zm-12.6 -0.2h1v1h-1zm16.5 -1h1v1h-1zm-4.5 -5.1h1v1h-1zm1.6 6.7h1v1h-1zm-12.5 -2.1h1v1h-1zm9.4 -4h1v1h-1zm-5.8 3.9h1v1h-1zm17.7 -2.4h1v1h-1zm-11.7 2.9h1v1h-1zm-2.8 -5h1v1h-1zm16 3.9h1v1h-1zm-4 7.3h1v1h-1zm6.1 -2.5h1v1h-1zm0.4 -7.8h1v1h-1zm0.7 2.8h1v1h-1zm5.3 1.8h1v1h-1zm-7.2 -4.6h1v1h-1zm-5.1 4.1h1v1h-1zm3.3 -0.9h1v1h-1zm-1.5 -3.3h1v1h-1zm2 3.4h1v1h-1zm2.5 -2.6h1v1h-1zm-5.8 2.4h1v1h-1zm3.4 2.1h1v1h-1zm-1.7 0.5h1v1h-1zm-1.6 -2.2h1v1h-1zm2.1 4.8h1v1h-1zm5.3 -5.5h1v1h-1zm-6.6 1h1v1h-1zm4.5 -1h1v1h-1zm-1.7 -4.4h1v1h-1zm-0.1 6.9h1v1h-1zm0.6 -5.4h1v1h-1zm2.3 -0.4h1v1h-1zm-5.5 5.1h1v1h-1zm6.2 -3.1h1v1h-1zm-2.2 5.6h1v1h-1zm-3.8 0.9h1v1h-1zm-0.7 -3.5h1v1h-1zm7.4 -0.9h1v1h-1zm-0.9 1h1v1h-1zm2.1 1.4h1v1h-1zm-0.9 -3.9h1v1h-1zm-6.2 -2.5h1v1h-1zm0.1 4.8h1v1h-1zm-4.9 2.9h1v1h-1zm6.9 -2.1h1v1h-1zm-1.8 -2.3h1v1h-1zm-1.2 -3.2h1v1h-1zm2.9 1.8h1v1h-1zm1.5 3.8h1v1h-1zm-1.7 -2.7h1v1h-1zm0.2 -0.9h1v1h-1zm-1.9 5.1h1v1h-1zm2.8 -1.6h1v1h-1zm-0.9 0h1v1h-1zm5.1 0.6h1v1h-1zm-12.3 -3.7h1v1h-1zm7.6 -1.2h1v1h-1zm-5.1 1.7h1v1h-1zm11 3.9h1v1h-1zm-2.9 -3.5h1v1h-1zm-2.4 1.8h1v1h-1zm4.2 -1.5h1v1h-1zm-3.4 1.5h1v1h-1zm0.8 -1.5h1v1h-1zm-5.3 -1.3h1v1h-1zm4.4 2.9h1v1h-1zm-2.9 0.7h1v1h-1zm1.6 -7.1h1v1h-1zm6.4 2.9h1v1h-1zm-7.5 7.3h1v1h-1zm7.7 -4h1v1h-1zm-6.6 0.8h1v1h-1zm-3.5 0.6h1v1h-1zm8.6 0.6h1v1h-1zm3.5 -0.4h1v1h-1zm-10.8 -1.7h1v1h-1zm4.1 2.2h1v1h-1zm2.2 -5.5h1v1h-1zm-3.4 5.3h1v1h-1zm4.8 1.5h1v1h-1zm-7 -4h1v1h-1zm3.3 -1.7h1v1h-1zm-2.8 1.9h1v1h-1zm2.3 0.6h1v1h-1zm-1.7 -3.2h1v1h-1zm-0.6 3.7h1v1h-1zm3.3 -3.8h1v1h-1zm0.2 -1h1v1h-1zm-3.7 2.6h1v1h-1zm0.9 -0.1h1v1h-1zm2.6 -1.6h1v1h-1zm3.1 0.7h1v1h-1zm-6.5 -0.7h1v1h-1zm4.9 -1.3h1v1h-1zm1 7h1v1h-1zm-9.7 -3.4h1v1h-1zm6.1 -2.9h1v1h-1zm-1.3 -0.5h1v1h-1zm-4.5 6.6h1v1h-1zm10.6 -2.3h1v1h-1zm-6.9 -4.9h1v1h-1zm5.8 -7.2h1v1h-1zm-5.9 12.9h1v1h-1zm-8.3 -3.5h1v1h-1zm11.6 1.6h1v1h-1zm-5.4 -0.3h1v1h-1zm1.2 0.1h1v1h-1zm-1 -6.8h1v1h-1zm-6.3 2.2h1v1h-1zm11.4 3.9h1v1h-1zm-2.7 1.3h1v1h-1zm3.1 -0.4h1v1h-1zm-2 2.9h1v1h-1zm5.6 -2.9h1v1h-1zm-0.7 -0.3h1v1h-1zm-2.6 7.8h1v1h-1zm-1.4 -9.8h1v1h-1zm0.9 -0.3h1v1h-1zm-5.7 11.1h1v1h-1zm11.5 -8.8h1v1h-1zm-5.4 -2.3h1v1h-1zm2.5 -0.1h1v1h-1zm-4 -3.6h1v1h-1zm1.7 8.6h1v1h-1zm2.7 -3.6h1v1h-1zm-8 -3.9h1v1h-1zm1 6.2h1v1h-1zm0.9 -7h1v1h-1zm0 7.4h1v1h-1zm-2.9 -0.8h1v1h-1zm-4.6 6.4h1v1h-1zm7.2 -14.5h1v1h-1zm-5.1 1.4h1v1h-1zm5.4 4.7h1v1h-1zm2.4 6.2h1v1h-1zm4.2 -7.3h1v1h-1zm-8.4 -1h1v1h-1zm1.9 5.8h1v1h-1zm0.3 -6h1v1h-1zm0.2 7.2h1v1h-1zm0.9 -9.7h1v1h-1zm1 10.2h1v1h-1zm-2 -2.3h1v1h-1zm-0.9 -24.4h1v1h-1zm5.2 -8.6h1v1h-1zm-8.3 3.5h1v1h-1zm-1.9 -2.8h1v1h-1zm3.6 -1.5h1v1h-1zm4.4 -3.7h1v1h-1zm-7.9 2.7h1v1h-1zm3.4 2.6h1v1h-1zm-5 -1.4h1v1h-1zm5.8 5.3h1v1h-1zm-1.1 -3.4h1v1h-1zm2.8 1.7h1v1h-1zm-2.8 0.7h1v1h-1zm3.3 -4.5h1v1h-1zm-3.6 1h1v1h-1zm-0.7 1.6h1v1h-1zm4.9 -0.2h1v1h-1zm0 1.1h1v1h-1zm0.7 -4.4h1v1h-1zm-9 0.8h1v1h-1zm6.4 4.6h1v1h-1zm-0.8 3.2h1v1h-1zm0.5 -6.7h1v1h-1zm-2.7 -1.9h1v1h-1zm1.8 4.2h1v1h-1zm8.5 5.2h1v1h-1zm-5.4 -10.2h1v1h-1zm-19.2 4.6h1v1h-1zm20.1 -7.4h1v1h-1zm-0.5 15.3h1v1h-1zm-13.7 -11.6h1v1h-1zm14.2 1h1v1h-1zm-1.6 1h1v1h-1zm-0.6 1.4h1v1h-1zm3.4 0.6h1v1h-1zm1.6 10h1v1h-1zm-2.6 -18.4h1v1h-1zm3.7 6.3h1v1h-1zm-7.7 -1.4h1v1h-1zm7 5.3h1v1h-1zm-5.2 -6h1v1h-1zm-0.6 7.5h1v1h-1zm-3.4 -7.5h1v1h-1zm4.9 -0.9h1v1h-1zm1.5 0.5h1v1h-1zm1.1 23.6h1v1h-1zm-8.1 -6.7h1v1h-1zm9.9 7.4h1v1h-1zm-0.8 3.6h1v1h-1zm-7.9 -4h1v1h-1zm8.3 1h1v1h-1zm4.6 4.9h1v1h-1zm-11.3 -8.5h1v1h-1zm2.4 0.1h1v1h-1zm5.7 7.7h1v1h-1zm-10.7 -11h1v1h-1zm4.3 2.3h1v1h-1zm-6.5 0.7h1v1h-1zm9.9 5.3h1v1h-1zm3.2 -35.8h1v1h-1zm2.7 5.9h1v1h-1zm-5.9 9.2h1v1h-1zm1.4 1.9h1v1h-1zm-21.7 5.7h1v1h-1zm8.8 -13.4h1v1h-1zm-15.5 -4.6h1v1h-1zm15.6 23.1h1v1h-1zm24.5 13.9h1v1h-1zm-3.7 -7.1h1v1h-1z"/></g>
<line x1="165.90" y1="37.80" x2="165.90" y2="108.40" stroke="#a0a0a0" stroke-width="1.4"/>
<line x1="146.40" y1="84.30" x2="216.70" y2="84.30" stroke="#999" stroke-width="1.3"/>
<line x1="146.40" y1="37.80" x2="146.40" y2="108.40" stroke="#222" stroke-width="1.2"/>
<line x1="146.40" y1="108.40" x2="216.70" y2="108.40" stroke="#222" stroke-width="1.2"/>
<line x1="144.20" y1="37.80" x2="146.40" y2="37.80" stroke="#222" stroke-width="1"/>
<line x1="146.40" y1="108.40" x2="146.40" y2="110.60" stroke="#222" stroke-width="1"/>
<line x1="144.70" y1="103.09" x2="146.40" y2="103.09" stroke="#333" stroke-width="0.8"/>
<line x1="151.69" y1="108.40" x2="151.69" y2="110.10" stroke="#333" stroke-width="0.8"/>
<line x1="144.70" y1="99.98" x2="146.40" y2="99.98" stroke="#333" stroke-width="0.8"/>
<line x1="154.79" y1="108.40" x2="154.79" y2="110.10" stroke="#333" stroke-width="0.8"/>
<line x1="144.70" y1="97.77" x2="146.40" y2="97.77" stroke="#333" stroke-width="0.8"/>
<line x1="156.98" y1="108.40" x2="156.98" y2="110.10" stroke="#333" stroke-width="0.8"/>
<line x1="144.70" y1="96.06" x2="146.40" y2="96.06" stroke="#333" stroke-width="0.8"/>
<line x1="158.68" y1="108.40" x2="158.68" y2="110.10" stroke="#333" stroke-width="0.8"/>
<line x1="144.70" y1="94.67" x2="146.40" y2="94.67" stroke="#333" stroke-width="0.8"/>
<line x1="160.08" y1="108.40" x2="160.08" y2="110.10" stroke="#333" stroke-width="0.8"/>
<line x1="144.70" y1="93.48" x2="146.40" y2="93.48" stroke="#333" stroke-width="0.8"/>
<line x1="161.25" y1="108.40" x2="161.25" y2="110.10" stroke="#333" stroke-width="0.8"/>
<line x1="144.70" y1="92.46" x2="146.40" y2="92.46" stroke="#333" stroke-width="0.8"/>
<line x1="162.27" y1="108.40" x2="162.27" y2="110.10" stroke="#333" stroke-width="0.8"/>
<line x1="144.70" y1="91.56" x2="146.40" y2="91.56" stroke="#333" stroke-width="0.8"/>
<line x1="163.17" y1="108.40" x2="163.17" y2="110.10" stroke="#333" stroke-width="0.8"/>
<line x1="144.20" y1="55.45" x2="146.40" y2="55.45" stroke="#222" stroke-width="1"/>
<line x1="163.97" y1="108.40" x2="163.97" y2="110.60" stroke="#222" stroke-width="1"/>
<line x1="144.70" y1="85.44" x2="146.40" y2="85.44" stroke="#333" stroke-width="0.8"/>
<line x1="169.27" y1="108.40" x2="169.27" y2="110.10" stroke="#333" stroke-width="0.8"/>
<line x1="144.70" y1="82.33" x2="146.40" y2="82.33" stroke="#333" stroke-width="0.8"/>
<line x1="172.36" y1="108.40" x2="172.36" y2="110.10" stroke="#333" stroke-width="0.8"/>
<line x1="144.70" y1="80.12" x2="146.40" y2="80.12" stroke="#333" stroke-width="0.8"/>
<line x1="174.56" y1="108.40" x2="174.56" y2="110.10" stroke="#333" stroke-width="0.8"/>
<line x1="144.70" y1="78.41" x2="146.40" y2="78.41" stroke="#333" stroke-width="0.8"/>
<line x1="176.26" y1="108.40" x2="176.26" y2="110.10" stroke="#333" stroke-width="0.8"/>
<line x1="144.70" y1="77.02" x2="146.40" y2="77.02" stroke="#333" stroke-width="0.8"/>
<line x1="177.65" y1="108.40" x2="177.65" y2="110.10" stroke="#333" stroke-width="0.8"/>
<line x1="144.70" y1="75.83" x2="146.40" y2="75.83" stroke="#333" stroke-width="0.8"/>
<line x1="178.83" y1="108.40" x2="178.83" y2="110.10" stroke="#333" stroke-width="0.8"/>
<line x1="144.70" y1="74.81" x2="146.40" y2="74.81" stroke="#333" stroke-width="0.8"/>
<line x1="179.85" y1="108.40" x2="179.85" y2="110.10" stroke="#333" stroke-width="0.8"/>
<line x1="144.70" y1="73.91" x2="146.40" y2="73.91" stroke="#333" stroke-width="0.8"/>
<line x1="180.75" y1="108.40" x2="180.75" y2="110.10" stroke="#333" stroke-width="0.8"/>
<line x1="144.20" y1="73.10" x2="146.40" y2="73.10" stroke="#222" stroke-width="1"/>
<line x1="181.55" y1="108.40" x2="181.55" y2="110.60" stroke="#222" stroke-width="1"/>
<line x1="144.70" y1="67.79" x2="146.40" y2="67.79" stroke="#333" stroke-width="0.8"/>
<line x1="186.84" y1="108.40" x2="186.84" y2="110.10" stroke="#333" stroke-width="0.8"/>
<line x1="144.70" y1="64.68" x2="146.40" y2="64.68" stroke="#333" stroke-width="0.8"/>
<line x1="189.94" y1="108.40" x2="189.94" y2="110.10" stroke="#333" stroke-width="0.8"/>
<line x1="144.70" y1="62.47" x2="146.40" y2="62.47" stroke="#333" stroke-width="0.8"/>
<line x1="192.13" y1="108.40" x2="192.13" y2="110.10" stroke="#333" stroke-width="0.8"/>
<line x1="144.70" y1="60.76" x2="146.40" y2="60.76" stroke="#333" stroke-width="0.8"/>
<line x1="193.83" y1="108.40" x2="193.83" y2="110.10" stroke="#333" stroke-width="0.8"/>
<line x1="144.70" y1="59.37" x2="146.40" y2="59.37" stroke="#333" stroke-width="0.8"/>
<line x1="195.23" y1="108.40" x2="195.23" y2="110.10" stroke="#333" stroke-width="0.8"/>
<line x1="144.70" y1="58.18" x2="146.40" y2="58.18" stroke="#333" stroke-width="0.8"/>
<line x1="196.40" y1="108.40" x2="196.40" y2="110.10" stroke="#333" stroke-width="0.8"/>
<line x1="144.70" y1="57.16" x2="146.40" y2="57.16" stroke="#333" stroke-width="0.8"/>
<line x1="197.42" y1="108.40" x2="197.42" y2="110.10" stroke="#333" stroke-width="0.8"/>
<line x1="144.70" y1="56.26" x2="146.40" y2="56.26" stroke="#333" stroke-width="0.8"/>
<line x1="198.32" y1="108.40" x2="198.32" y2="110.10" stroke="#333" stroke-width="0.8"/>
<line x1="144.20" y1="90.75" x2="146.40" y2="90.75" stroke="#222" stroke-width="1"/>
<line x1="199.12" y1="108.40" x2="199.12" y2="110.60" stroke="#222" stroke-width="1"/>
<line x1="144.70" y1="50.14" x2="146.40" y2="50.14" stroke="#333" stroke-width="0.8"/>
<line x1="204.42" y1="108.40" x2="204.42" y2="110.10" stroke="#333" stroke-width="0.8"/>
<line x1="144.70" y1="47.03" x2="146.40" y2="47.03" stroke="#333" stroke-width="0.8"/>
<line x1="207.51" y1="108.40" x2="207.51" y2="110.10" stroke="#333" stroke-width="0.8"/>
<line x1="144.70" y1="44.82" x2="146.40" y2="44.82" stroke="#333" stroke-width="0.8"/>
<line x1="209.71" y1="108.40" x2="209.71" y2="110.10" stroke="#333" stroke-width="0.8"/>
<line x1="144.70" y1="43.11" x2="146.40" y2="43.11" stroke="#333" stroke-width="0.8"/>
<line x1="211.41" y1="108.40" x2="211.41" y2="110.10" stroke="#333" stroke-width="0.8"/>
<line x1="144.70" y1="41.72" x2="146.40" y2="41.72" stroke="#333" stroke-width="0.8"/>
<line x1="212.80" y1="108.40" x2="212.80" y2="110.10" stroke="#333" stroke-width="0.8"/>
<line x1="144.70" y1="40.53" x2="146.40" y2="40.53" stroke="#333" stroke-width="0.8"/>
<line x1="213.98" y1="108.40" x2="213.98" y2="110.10" stroke="#333" stroke-width="0.8"/>
<line x1="144.70" y1="39.51" x2="146.40" y2="39.51" stroke="#333" stroke-width="0.8"/>
<line x1="215.00" y1="108.40" x2="215.00" y2="110.10" stroke="#333" stroke-width="0.8"/>
<line x1="144.70" y1="38.61" x2="146.40" y2="38.61" stroke="#333" stroke-width="0.8"/>
<line x1="215.90" y1="108.40" x2="215.90" y2="110.10" stroke="#333" stroke-width="0.8"/>
<line x1="144.20" y1="108.40" x2="146.40" y2="108.40" stroke="#222" stroke-width="1"/>
<line x1="216.70" y1="108.40" x2="216.70" y2="110.60" stroke="#222" stroke-width="1"/>
<text x="148.66" y="50.62" font-size="9.60" font-family="Liberation Serif, serif" font-weight="normal" text-anchor="start" textLength="13.54" lengthAdjust="spacing" stroke="#000" stroke-width="0.22">1.3</text>

<text x="188.57" y="50.61" font-size="9.60" font-family="Liberation Serif, serif" font-weight="normal" text-anchor="start" textLength="27.75" lengthAdjust="spacing" stroke="#000" stroke-width="0.22">18.8%</text>

<text x="147.49" y="92.95" font-size="9.60" font-family="Liberation Serif, serif" font-weight="normal" text-anchor="start" textLength="19.03" lengthAdjust="spacing" stroke="#000" stroke-width="0.22">31.3</text>

<text x="194.27" y="92.92" font-size="9.60" font-family="Liberation Serif, serif" font-weight="normal" text-anchor="start" textLength="17.07" lengthAdjust="spacing" stroke="#000" stroke-width="0.22">48.6</text>

<g fill="#000" fill-opacity="0.36" filter="url(#bl)"><path d="M49.6 186.9h1v1h-1zm-2.8 -4.3h1v1h-1zm-3.4 6.9h1v1h-1zm6.5 -5.6h1v1h-1zm-1.9 0.6h1v1h-1zm-1.1 -3.3h1v1h-1zm5.5 -1.6h1v1h-1zm4.8 4.5h1v1h-1zm-10.4 -0.4h1v1h-1zm3 -5.4h1v1h-1zm-2.9 3h1v1h-1zm4.2 -1.5h1v1h-1zm-4.4 0.8h1v1h-1zm9.1 4.4h1v1h-1zm-6.1 0.3h1v1h-1zm-1.2 -1.9h1v1h-1zm0.9 0.4h1v1h-1zm7.3 -1.2h1v1h-1zm-2.9 -1.2h1v1h-1zm-7.3 1.9h1v1h-1zm1.6 2.5h1v1h-1zm2.5 -2.2h1v1h-1zm-4.8 0h1v1h-1zm0.6 -2.7h1v1h-1zm5.3 0.7h1v1h-1zm-8.1 2.7h1v1h-1zm1.5 -0.3h1v1h-1zm-0.3 4.9h1v1h-1zm8.1 -6.5h1v1h-1zm-3.6 4.5h1v1h-1zm-1.6 -4.8h1v1h-1zm-0.7 1.9h1v1h-1zm1.5 -5.8h1v1h-1zm3.6 9.5h1v1h-1zm-6.6 -3.1h1v1h-1zm2.5 -3.2h1v1h-1zm3.2 5.4h1v1h-1zm-5.6 -6.3h1v1h-1zm13.5 5.5h1v1h-1zm-8.9 0.2h1v1h-1zm0.5 -3.3h1v1h-1zm-0.5 -2.1h1v1h-1zm0.4 3.2h1v1h-1zm1.4 -0.8h1v1h-1zm-5.5 -0.9h1v1h-1zm4.4 3.7h1v1h-1zm-5.2 -0.6h1v1h-1zm2.7 -3h1v1h-1zm4.4 5.6h1v1h-1zm-8.4 -1.5h1v1h-1zm2.6 3h1v1h-1zm1 -3.1h1v1h-1zm-2 -1.3h1v1h-1zm8.1 2h1v1h-1zm-8.3 -3.1h1v1h-1zm0.7 -2.7h1v1h-1zm5.8 1.8h1v1h-1zm-5.6 0.4h1v1h-1zm2.8 -0.2h1v1h-1zm-4.3 -1h1v1h-1zm5 0h1v1h-1zm-4.2 4.7h1v1h-1zm-3.6 -2.5h1v1h-1zm8 0.2h1v1h-1zm-3.6 -0.4h1v1h-1zm4.1 0.4h1v1h-1zm-3.6 -0.5h1v1h-1zm5.5 -0.5h1v1h-1zm-2.3 -2.5h1v1h-1zm0 0.8h1v1h-1zm-3.1 0.9h1v1h-1zm1.7 0.5h1v1h-1zm-1.2 -2h1v1h-1zm3.8 3.3h1v1h-1zm-2.4 0.5h1v1h-1zm-3.4 -3.3h1v1h-1zm4.6 0.7h1v1h-1zm-0.6 3.5h1v1h-1zm-6.8 -1.4h1v1h-1zm6.2 -3.6h1v1h-1zm2.4 4.6h1v1h-1zm-1.1 0.1h1v1h-1zm-0.8 -0.9h1v1h-1zm5.5 -1.8h1v1h-1zm-11.8 -4.1h1v1h-1zm6.1 1.5h1v1h-1zm-6.4 2.4h1v1h-1zm3.3 4.4h1v1h-1zm0.1 -8.1h1v1h-1zm10.6 4.3h1v1h-1zm-6.1 -0.8h1v1h-1zm-1.5 2.9h1v1h-1zm-3.8 -2.2h1v1h-1zm5.8 -1.9h1v1h-1zm-6 6.7h1v1h-1zm2.1 -2.5h1v1h-1zm7 2.9h1v1h-1zm-6.1 -11.2h1v1h-1zm3.9 0.9h1v1h-1zm0.7 0.7h1v1h-1zm-5 5.2h1v1h-1zm4.4 3.9h1v1h-1zm-4.5 -1.1h1v1h-1zm8.8 -5.9h1v1h-1zm-6.2 3.3h1v1h-1zm0.2 -10.1h1v1h-1zm1.4 16h1v1h-1zm-4.3 -8.7h1v1h-1zm3.2 4.1h1v1h-1zm-8.7 -3.4h1v1h-1zm-2.7 5.9h1v1h-1zm7.2 -5.1h1v1h-1zm-2.2 -2.7h1v1h-1zm11.9 5h1v1h-1zm-5.5 -8.3h1v1h-1zm0.3 8h1v1h-1zm-6.4 -2h1v1h-1zm-2.6 5.3h1v1h-1zm12 -7.9h1v1h-1zm2.2 3.3h1v1h-1zm-10.5 -3.3h1v1h-1zm0.5 -1.9h1v1h-1zm3.9 1.1h1v1h-1zm20.5 -0.6h1v1h-1zm1.4 2.5h1v1h-1zm-4.2 -3.4h1v1h-1zm7.4 5.1h1v1h-1zm-6.9 0.5h1v1h-1zm-4.5 -1.6h1v1h-1zm5.1 4.3h1v1h-1zm0.3 -5.9h1v1h-1zm1.8 1.7h1v1h-1zm-1.5 -2.2h1v1h-1zm-5.1 3.7h1v1h-1zm6.7 -3h1v1h-1zm-8.7 2.3h1v1h-1zm4.3 4.3h1v1h-1zm0.4 -4.7h1v1h-1zm6.6 -1.5h1v1h-1zm-6.3 0.7h1v1h-1zm2.5 0.8h1v1h-1zm2.9 -4.1h1v1h-1zm0.9 4.7h1v1h-1zm-12.1 -2h1v1h-1zm7 -0.9h1v1h-1zm2.5 1.5h1v1h-1zm-2.6 0h1v1h-1zm1.6 -0.3h1v1h-1zm-2.7 0.5h1v1h-1zm4.4 2.1h1v1h-1zm-3.3 -3.8h1v1h-1zm-3.9 -1.5h1v1h-1zm6.7 3.8h1v1h-1zm-5.8 3.4h1v1h-1zm6.1 -9.9h1v1h-1zm1.3 5h1v1h-1zm-1.6 1.1h1v1h-1zm-0.2 -1.2h1v1h-1zm-2.5 2.4h1v1h-1zm1.3 4.1h1v1h-1zm-3.9 -7.2h1v1h-1zm-1.2 -0.5h1v1h-1zm2.5 2h1v1h-1zm-1.6 3.9h1v1h-1zm3 0.2h1v1h-1zm-1.9 0.7h1v1h-1zm1.9 0.7h1v1h-1zm3.3 -5.7h1v1h-1zm-4.8 1.7h1v1h-1zm0.2 2.8h1v1h-1zm-3.5 -2.9h1v1h-1zm4.1 1.3h1v1h-1zm7.4 1.5h1v1h-1zm-2.9 -4.2h1v1h-1zm1.2 -0.9h1v1h-1zm-6.1 -1.2h1v1h-1zm-5.4 3h1v1h-1zm-0.8 -3h1v1h-1zm9.8 4.6h1v1h-1zm-12.7 0.5h1v1h-1zm12 -3.3h1v1h-1zm-4.1 1h1v1h-1zm2.3 -3.6h1v1h-1zm5 5.8h1v1h-1zm-10.2 -9.4h1v1h-1zm3.1 6.2h1v1h-1zm7.7 7.1h1v1h-1zm-15 -7.4h1v1h-1zm7.1 2.3h1v1h-1zm1.8 -4.5h1v1h-1zm7.1 0h1v1h-1zm-7.8 8.9h1v1h-1zm1.8 -3.3h1v1h-1zm-5.7 5h1v1h-1zm0.8 -9.3h1v1h-1zm-3.7 2.8h1v1h-1zm6.2 3.5h1v1h-1zm-1.1 -3.9h1v1h-1zm6.9 -6.2h1v1h-1zm-1.4 7.7h1v1h-1zm-0.5 -3.7h1v1h-1zm-14.8 2.8h1v1h-1zm12.9 4.1h1v1h-1zm-5 -10.8h1v1h-1zm10 3h1v1h-1zm-0.3 1.2h1v1h-1zm-6.2 6.6h1v1h-1zm-1.5 1.4h1v1h-1zm5 -6.1h1v1h-1zm-6.9 -1.8h1v1h-1zm5.8 6.1h1v1h-1zm10 -2.5h1v1h-1zm-15.9 -8.4h1v1h-1zm0.3 7.1h1v1h-1zm-6.6 -4.5h1v1h-1zm15.8 3.8h1v1h-1zm2.7 -1.5h1v1h-1zm-5.7 -0.5h1v1h-1zm-1.5 3.3h1v1h-1zm3.2 -2.1h1v1h-1zm-0.8 -3.7h1v1h-1zm-1 -37.1h1v1h-1zm0.2 -1.4h1v1h-1zm6.1 -1.8h1v1h-1zm-4.9 0.5h1v1h-1zm-4.7 2.9h1v1h-1zm3.4 -1.2h1v1h-1zm1.1 -0.5h1v1h-1zm-2 0.5h1v1h-1zm-2.8 0.6h1v1h-1zm5.8 -1.4h1v1h-1zm-3.8 1.1h1v1h-1zm-7.4 -1.1h1v1h-1zm11 2.5h1v1h-1zm-2.5 -0.1h1v1h-1zm-1 -0.4h1v1h-1zm-1.6 -1h1v1h-1zm5.6 -0.2h1v1h-1zm-4.6 -0.5h1v1h-1zm5.1 2.1h1v1h-1zm-6.4 -0.9h1v1h-1zm-1.1 -0.1h1v1h-1zm0.7 0h1v1h-1zm1.8 -0.7h1v1h-1zm-0.9 -2.5h1v1h-1zm3.7 3.7h1v1h-1zm-5.9 -0.1h1v1h-1zm2.8 0.8h1v1h-1zm3.3 -2.2h1v1h-1zm0.1 -2.8h1v1h-1zm-2.2 2.1h1v1h-1zm0.3 1h1v1h-1zm0.6 1.6h1v1h-1zm4 -0.4h1v1h-1zm-3.5 0.4h1v1h-1zm-2 1.3h1v1h-1zm-0.6 -1.7h1v1h-1zm0.2 -3.3h1v1h-1zm0.6 2h1v1h-1zm-2 -0.7h1v1h-1zm-3.7 0.6h1v1h-1zm8.2 1.6h1v1h-1zm-2.5 -1.3h1v1h-1zm0.8 1.4h1v1h-1zm-0.7 -2h1v1h-1zm1.3 1.6h1v1h-1zm2.1 -1.4h1v1h-1zm-2.9 0.7h1v1h-1zm-1.4 -1.4h1v1h-1zm-1 -1h1v1h-1zm2.3 2.7h1v1h-1zm1.5 -2.6h1v1h-1zm-0.9 3.4h1v1h-1zm-2 -2h1v1h-1zm-5.6 -2.2h1v1h-1zm9.5 3.6h1v1h-1zm-2.4 -1.1h1v1h-1zm1.7 0.3h1v1h-1zm-6 0.2h1v1h-1zm6 -1.2h1v1h-1zm-5.4 5.4h1v1h-1zm3.9 -3.9h1v1h-1zm3.6 -0.4h1v1h-1zm1.1 0h1v1h-1zm-3.6 -0.6h1v1h-1zm1.9 0h1v1h-1zm-1.4 -0.7h1v1h-1zm1.5 0.7h1v1h-1zm-6.1 1.4h1v1h-1zm-3 -0.4h1v1h-1zm6.6 -1.5h1v1h-1zm0.9 1h1v1h-1zm-2 -1h1v1h-1zm-0.2 0.7h1v1h-1zm-0.4 1.6h1v1h-1zm-1.5 -1.5h1v1h-1zm1.9 -0.7h1v1h-1zm-0.6 1.3h1v1h-1zm1.6 -1.7h1v1h-1zm1.2 1.8h1v1h-1zm-5.8 -2.4h1v1h-1zm5.3 -0.1h1v1h-1zm-2.6 2.5h1v1h-1zm4.4 -0.7h1v1h-1zm-4.1 -0.1h1v1h-1zm3.4 -1h1v1h-1zm-6.9 -0.4h1v1h-1zm4.4 2.6h1v1h-1zm2.1 -2h1v1h-1zm-5.3 -0.2h1v1h-1zm2.8 3.7h1v1h-1zm0 -1.3h1v1h-1zm2.6 -0.1h1v1h-1zm-0.7 -3.6h1v1h-1zm-2.2 2.1h1v1h-1zm-4.8 1.3h1v1h-1zm6.5 -0.6h1v1h-1zm-2 -1.8h1v1h-1zm2.7 0.8h1v1h-1zm-2.1 -0.7h1v1h-1zm-2 1.8h1v1h-1zm0.8 8.9h1v1h-1zm0.2 9h1v1h-1zm0.3 -1.5h1v1h-1zm3 -7.6h1v1h-1zm-2.9 -5.7h1v1h-1zm-1 -3h1v1h-1zm-0.3 20.3h1v1h-1zm1.4 -5.5h1v1h-1zm0.8 6.9h1v1h-1zm-1.3 -2h1v1h-1zm-1.5 8h1v1h-1zm5.8 -14.5h1v1h-1zm-3.6 -4.4h1v1h-1zm-0.5 13.3h1v1h-1zm1.9 -5.9h1v1h-1zm-1.5 -11.5h1v1h-1zm0.4 7.6h1v1h-1zm-3.2 9.5h1v1h-1zm0.6 -1.4h1v1h-1zm0.3 -9.8h1v1h-1zm0.3 -5.2h1v1h-1zm1.4 15.4h1v1h-1zm-3.5 -0.9h1v1h-1zm10.5 -13.9h1v1h-1zm-9.7 4.2h1v1h-1zm5.4 1.8h1v1h-1zm-1.8 -5.6h1v1h-1zm-4 7h1v1h-1zm1.1 -1.6h1v1h-1zm3.6 2.5h1v1h-1zm-4.8 6.8h1v1h-1zm10.2 -15.4h1v1h-1zm-3.9 8.6h1v1h-1zm-8.2 0.6h1v1h-1zm4.4 -25.6h1v1h-1zm-0.1 13.8h1v1h-1zm-0.2 11.5h1v1h-1zm6.6 -4.5h1v1h-1zm-10.4 -0.6h1v1h-1zm0.4 -23.2h1v1h-1zm3.7 20.4h1v1h-1zm2.4 4.1h1v1h-1zm-3 4.8h1v1h-1zm-0.8 11.4h1v1h-1zm0.6 -6.8h1v1h-1zm1.6 -4.4h1v1h-1zm3.6 1.2h1v1h-1zm-6.7 -10.4h1v1h-1zm1.9 2.6h1v1h-1zm5 -1.1h1v1h-1zm-3.6 3.6h1v1h-1zm-2.4 1.9h1v1h-1zm3.4 6.7h1v1h-1zm5.9 -13.9h1v1h-1zm-2.3 -3.8h1v1h-1zm-8.8 0.4h1v1h-1zm7.2 -6.7h1v1h-1zm3 5.8h1v1h-1zm-3.8 -1.8h1v1h-1zm-17.1 33.9h1v1h-1zm18.5 1.5h1v1h-1zm6 8.7h1v1h-1zm-5.1 -8.5h1v1h-1zm-3.3 1.7h1v1h-1z"/><path d="M47.2 185.3h1v1h-1zm4 -0.4h1v1h-1zm-4.3 -0.9h1v1h-1zm-1.2 0.2h1v1h-1zm0.5 -1.5h1v1h-1zm-0.8 0.7h1v1h-1zm10.3 -2.2h1v1h-1zm-3.7 6.5h1v1h-1zm-6 -3.3h1v1h-1zm1.4 1.2h1v1h-1zm-3 -5.2h1v1h-1zm11.5 10.5h1v1h-1zm-3.6 -7.2h1v1h-1zm-5.3 2.6h1v1h-1zm4.7 -2.6h1v1h-1zm3.2 -3.8h1v1h-1zm-3.2 1.6h1v1h-1zm-1.9 6.9h1v1h-1zm2.7 -4.1h1v1h-1zm-4.9 3.1h1v1h-1zm3.2 1h1v1h-1zm-3.6 -6.5h1v1h-1zm8.4 2.1h1v1h-1zm-0.3 4.3h1v1h-1zm-7.3 -5.5h1v1h-1zm3.7 -0.8h1v1h-1zm-2.6 4.6h1v1h-1zm-1.9 -1h1v1h-1zm-1.2 0.4h1v1h-1zm7.3 -0.3h1v1h-1zm-2.2 -1.8h1v1h-1zm-2.7 3.5h1v1h-1zm6.6 -6.1h1v1h-1zm-10.7 4.6h1v1h-1zm8.8 -0.1h1v1h-1zm-3.9 -3.6h1v1h-1zm-3.4 2.5h1v1h-1zm6.3 1.8h1v1h-1zm-1.4 -2.6h1v1h-1zm-9 3.5h1v1h-1zm11.6 -2h1v1h-1zm-5.8 3h1v1h-1zm2.8 -5.2h1v1h-1zm3 3.2h1v1h-1zm-5.4 -1.4h1v1h-1zm0.6 0.9h1v1h-1zm5.4 1.6h1v1h-1zm-2.8 -3.4h1v1h-1zm-0.4 1.7h1v1h-1zm4 -3.7h1v1h-1zm-4.3 0h1v1h-1zm-3.2 6.3h1v1h-1zm1.8 -2.6h1v1h-1zm-3.6 -2.1h1v1h-1zm7.5 1.7h1v1h-1zm-6.4 -1.1h1v1h-1zm5.7 2.1h1v1h-1zm0.3 -3.1h1v1h-1zm-4.4 -1.1h1v1h-1zm-1.2 4.1h1v1h-1zm3.5 -2.5h1v1h-1zm1.3 -1.5h1v1h-1zm1.5 2.4h1v1h-1zm-4.4 -1.2h1v1h-1zm1.3 -1.2h1v1h-1zm1.7 5.3h1v1h-1zm0.8 -4.1h1v1h-1zm-1.1 0.5h1v1h-1zm4.3 2.4h1v1h-1zm-7.5 1.6h1v1h-1zm6.3 0h1v1h-1zm-4.2 -5h1v1h-1zm-2.1 0.5h1v1h-1zm0 -4h1v1h-1zm6.6 3.6h1v1h-1zm-8.2 1.2h1v1h-1zm6.9 -3.9h1v1h-1zm-7.6 2.2h1v1h-1zm4.4 -1.7h1v1h-1zm-4.2 1.8h1v1h-1zm-0.1 0.3h1v1h-1zm1.1 4.1h1v1h-1zm-5.8 -0.6h1v1h-1zm3.9 1.2h1v1h-1zm2 -2.7h1v1h-1zm3 -2.1h1v1h-1zm-2.9 5.9h1v1h-1zm4.3 -5.6h1v1h-1zm-6.3 0.1h1v1h-1zm5.3 1.4h1v1h-1zm11.5 -3.3h1v1h-1zm-9.6 7.7h1v1h-1zm7.3 -6.8h1v1h-1zm-11.1 6.1h1v1h-1zm9.6 -0.7h1v1h-1zm-7.3 0h1v1h-1zm3.5 -7.3h1v1h-1zm-11.5 4.1h1v1h-1zm5.3 2.8h1v1h-1zm0.9 -9.6h1v1h-1zm12.8 4.8h1v1h-1zm-9.4 -1.4h1v1h-1zm-6 5.6h1v1h-1zm3.3 -3.7h1v1h-1zm-0.5 4.9h1v1h-1zm-1.7 -9.6h1v1h-1zm8.7 1.1h1v1h-1zm1.1 6.1h1v1h-1zm-9.3 -3.4h1v1h-1zm4.4 -3.5h1v1h-1zm-9.1 7.6h1v1h-1zm5.8 -4.1h1v1h-1zm6 3.4h1v1h-1zm-4.3 -4h1v1h-1zm-6.1 3.3h1v1h-1zm14.9 -1h1v1h-1zm-10.2 1.7h1v1h-1zm5.4 -0.4h1v1h-1zm1.1 -5.1h1v1h-1zm-3.2 2.8h1v1h-1zm-10.2 8.1h1v1h-1zm16.2 -6.5h1v1h-1zm-10.7 -0.2h1v1h-1zm-1.2 0.2h1v1h-1zm1.1 2.2h1v1h-1zm2.4 3.9h1v1h-1zm4.6 -10.7h1v1h-1zm-6.6 -4.2h1v1h-1zm9.3 5.2h1v1h-1zm-13.1 7.9h1v1h-1zm-1.1 -5.1h1v1h-1zm1.1 2.7h1v1h-1zm18 -10.8h1v1h-1zm-13.4 11.4h1v1h-1zm8.1 -8.9h1v1h-1zm-12.1 7.9h1v1h-1zm5.4 -2.4h1v1h-1zm13.3 0.1h1v1h-1zm3.8 2h1v1h-1zm-20 -6.7h1v1h-1zm7.7 4.4h1v1h-1zm-0.1 6.6h1v1h-1zm-8 -4.8h1v1h-1zm14.2 -4.2h1v1h-1zm-7.6 2.7h1v1h-1zm2.2 -3.4h1v1h-1zm-13.7 6h1v1h-1zm-1.9 -6.1h1v1h-1zm5.5 -0.5h1v1h-1zm23.5 7.8h1v1h-1zm2.1 -2.3h1v1h-1zm-1.7 0.1h1v1h-1zm0.8 0.3h1v1h-1zm-11.6 -4h1v1h-1zm9.7 3.5h1v1h-1zm0.1 -4.3h1v1h-1zm0.8 1h1v1h-1zm3.4 0.1h1v1h-1zm-6.8 2.4h1v1h-1zm3.3 -1.9h1v1h-1zm-0.6 -1.2h1v1h-1zm1.5 4h1v1h-1zm-5.5 -4h1v1h-1zm6.8 1.3h1v1h-1zm-4.2 1.3h1v1h-1zm-0.4 0.4h1v1h-1zm-1.9 -3h1v1h-1zm0.1 3.6h1v1h-1zm-1.3 -2.4h1v1h-1zm-4.8 -4.4h1v1h-1zm12.9 2.5h1v1h-1zm-5.6 2.1h1v1h-1zm3 1.9h1v1h-1zm-0.3 -2.7h1v1h-1zm-4.3 3.2h1v1h-1zm7.2 0.5h1v1h-1zm3.2 -1.7h1v1h-1zm-10.6 -0.4h1v1h-1zm-0.6 -3.6h1v1h-1zm6.2 6.4h1v1h-1zm-3.8 -3.6h1v1h-1zm0.7 -0.2h1v1h-1zm-0.4 0.3h1v1h-1zm0 2.1h1v1h-1zm1.1 -5.6h1v1h-1zm2.6 3.5h1v1h-1zm-7.6 -0.7h1v1h-1zm1 -1.5h1v1h-1zm2.5 1.6h1v1h-1zm-1.3 2h1v1h-1zm6.5 -2.2h1v1h-1zm-4.3 1.4h1v1h-1zm1.8 -4.2h1v1h-1zm-0.3 2.5h1v1h-1zm-1.5 -1.2h1v1h-1zm4.6 2.5h1v1h-1zm-5.4 -2.8h1v1h-1zm8.1 1.2h1v1h-1zm-5.8 3.8h1v1h-1zm-2.9 -2.4h1v1h-1zm0.4 3.1h1v1h-1zm0.4 -4.1h1v1h-1zm5.9 -1h1v1h-1zm0.1 5.2h1v1h-1zm-2.5 -4.7h1v1h-1zm-2.8 1h1v1h-1zm-1.7 7.1h1v1h-1zm5.1 -4h1v1h-1zm-1.2 -1.3h1v1h-1zm-2.2 -5.5h1v1h-1zm3 0h1v1h-1zm-3 -0.1h1v1h-1zm-3.7 5.7h1v1h-1zm0.4 -4.9h1v1h-1zm-2.2 5.4h1v1h-1zm7 -4.7h1v1h-1zm-2.3 6.9h1v1h-1zm1.8 -6.3h1v1h-1zm7.3 1.8h1v1h-1zm-1 -3.1h1v1h-1zm-10.2 5h1v1h-1zm1.7 -5.9h1v1h-1zm2.3 3.1h1v1h-1zm-2.3 -1.8h1v1h-1zm5.9 -2.6h1v1h-1zm1.4 6.3h1v1h-1zm-8.6 6.1h1v1h-1zm1.8 -5.9h1v1h-1zm-1.8 -9.3h1v1h-1zm7.1 6h1v1h-1zm2.1 0.6h1v1h-1zm-7.3 5.2h1v1h-1zm11.1 1.5h1v1h-1zm-9.5 -2.7h1v1h-1zm0.2 -4.1h1v1h-1zm-1.4 0.9h1v1h-1zm4.7 -2.7h1v1h-1zm-1.3 -2h1v1h-1zm-3.2 9.5h1v1h-1zm-2.6 0.1h1v1h-1zm-1.1 -4.5h1v1h-1zm4.2 0h1v1h-1zm-2.2 6.3h1v1h-1zm0.5 -3.8h1v1h-1zm-5.6 0.2h1v1h-1zm0.8 5.6h1v1h-1zm4.7 -6.9h1v1h-1zm6.3 0.3h1v1h-1zm-7.1 2.3h1v1h-1zm-1.4 -6.7h1v1h-1zm2.8 4.2h1v1h-1zm0.3 1.4h1v1h-1zm1.1 -0.7h1v1h-1zm-2 -45h1v1h-1zm-2.1 1.2h1v1h-1zm8.5 0.3h1v1h-1zm0.2 -1.2h1v1h-1zm-7.5 -0.3h1v1h-1zm6.9 0.3h1v1h-1zm1.1 -1h1v1h-1zm-5.4 1.9h1v1h-1zm3.5 -2.1h1v1h-1zm1 1.3h1v1h-1zm2.1 -0.8h1v1h-1zm-4.4 -0.9h1v1h-1zm5.7 2.3h1v1h-1zm-7.3 -0.3h1v1h-1zm4.8 0.9h1v1h-1zm-2 0h1v1h-1zm-2.3 -0.5h1v1h-1zm-4.2 -0.2h1v1h-1zm1.4 0.5h1v1h-1zm6 -0.1h1v1h-1zm1.9 -2.1h1v1h-1zm-2.8 4h1v1h-1zm-2.1 0h1v1h-1zm0.2 -5.1h1v1h-1zm3.2 3.7h1v1h-1zm-1.5 0.4h1v1h-1zm-3 -2.3h1v1h-1zm0 1.5h1v1h-1zm-2 0.3h1v1h-1zm10 -1.2h1v1h-1zm-6.6 0.8h1v1h-1zm1.8 -1.3h1v1h-1zm-2.2 1.2h1v1h-1zm7.2 -0.9h1v1h-1zm-6 0.6h1v1h-1zm-2 -0.2h1v1h-1zm-2.2 -0.6h1v1h-1zm4.5 0.5h1v1h-1zm-3.4 2.5h1v1h-1zm-1.6 -2.7h1v1h-1zm2.2 -1.4h1v1h-1zm-3.2 2h1v1h-1zm3.5 0h1v1h-1zm-0.4 0.2h1v1h-1zm-2.6 -1.1h1v1h-1zm0.8 0.4h1v1h-1zm8.8 0.9h1v1h-1zm-9.6 2.6h1v1h-1zm3.6 -6.5h1v1h-1zm-1 3h1v1h-1zm0.6 0.8h1v1h-1zm2.3 0.4h1v1h-1zm-1.9 0.2h1v1h-1zm-1.1 -1.4h1v1h-1zm3.5 1.5h1v1h-1zm2.7 -1.2h1v1h-1zm-7 1.5h1v1h-1zm7.2 -0.5h1v1h-1zm-5.2 -1.2h1v1h-1zm-2 0.1h1v1h-1zm5.1 -1.7h1v1h-1zm-8.5 3.3h1v1h-1zm8 0.2h1v1h-1zm-9.9 -1.8h1v1h-1zm10.3 0.7h1v1h-1zm-4.1 -1.9h1v1h-1zm6.3 1.8h1v1h-1zm-8.2 0.4h1v1h-1zm5 0.8h1v1h-1zm-3.7 -2.3h1v1h-1zm-0.4 0.8h1v1h-1zm5.8 -2.5h1v1h-1zm-5.8 1.6h1v1h-1zm5.5 3.6h1v1h-1zm-2.5 -3.1h1v1h-1zm-5.5 1.3h1v1h-1zm4.4 -1.3h1v1h-1zm-2.1 1.5h1v1h-1zm3.4 -1.5h1v1h-1zm-0.8 -0.3h1v1h-1zm-1.5 0.4h1v1h-1zm0.4 0.9h1v1h-1zm-1.9 -2h1v1h-1zm6 0.8h1v1h-1zm-3.3 13.5h1v1h-1zm-0.7 -21h1v1h-1zm0.4 23.5h1v1h-1zm3.4 13.2h1v1h-1zm-1 -8.1h1v1h-1zm-6 -6.1h1v1h-1zm5.7 2.6h1v1h-1zm-10 8.9h1v1h-1zm12.5 -16.4h1v1h-1zm-2.3 -4.2h1v1h-1zm-9.4 -0.3h1v1h-1zm6.1 -1.1h1v1h-1zm2.8 4.8h1v1h-1zm-5.8 0h1v1h-1zm3.9 1.1h1v1h-1zm3.4 14.8h1v1h-1zm0 -11.8h1v1h-1zm-3 0h1v1h-1zm-1 2h1v1h-1zm-1.5 6h1v1h-1zm3.9 -12h1v1h-1zm-8.8 20.2h1v1h-1zm3.3 -9h1v1h-1zm2.1 -1.8h1v1h-1zm1.4 -16h1v1h-1zm-0.8 -1.1h1v1h-1zm-1.5 19h1v1h-1zm-2.7 -13.4h1v1h-1zm5.8 13.5h1v1h-1zm-2.9 1.7h1v1h-1zm2.2 -4.8h1v1h-1zm-7.8 8.6h1v1h-1zm6.9 -14h1v1h-1zm0.6 10.6h1v1h-1zm-2.9 -15.2h1v1h-1zm1 15.5h1v1h-1zm4.3 -4.5h1v1h-1zm-0.9 12.5h1v1h-1zm-1.4 -16.2h1v1h-1zm4.5 -3.8h1v1h-1zm-3 -0.7h1v1h-1zm1.7 15.7h1v1h-1zm-5.3 -0.8h1v1h-1zm-1.1 -10.8h1v1h-1zm2.5 4.7h1v1h-1zm0.5 9.6h1v1h-1zm-5.3 -5.9h1v1h-1zm2.8 -20.3h1v1h-1zm-4.1 -4.2h1v1h-1zm3.8 3.6h1v1h-1zm-0.4 2.1h1v1h-1zm3.4 -4.2h1v1h-1zm-23.2 4.4h1v1h-1zm16 17.4h1v1h-1zm28.2 17.3h1v1h-1z"/><path d="M54.9 185.1h1v1h-1zm-1.8 -0.4h1v1h-1zm-4 -0.9h1v1h-1zm4.5 0.2h1v1h-1zm-9.2 0.7h1v1h-1zm5.2 0.4h1v1h-1zm2.5 -0.3h1v1h-1zm-3.1 -2.6h1v1h-1zm7.3 3.5h1v1h-1zm-4.8 -1.3h1v1h-1zm0.4 1h1v1h-1zm2.4 2.1h1v1h-1zm-2.8 -5.6h1v1h-1zm-2.7 4.3h1v1h-1zm4 -3.1h1v1h-1zm1.4 -2.6h1v1h-1zm-3.4 9.3h1v1h-1zm-3.4 -0.6h1v1h-1zm5.4 -7.7h1v1h-1zm-1.2 6h1v1h-1zm-6.7 -2.5h1v1h-1zm1 -1.6h1v1h-1zm6.9 -0.8h1v1h-1zm-8.6 0.5h1v1h-1zm6.1 2.3h1v1h-1zm-0.7 1.2h1v1h-1zm-1.2 -1.9h1v1h-1zm0 -1.2h1v1h-1zm3.2 -2.3h1v1h-1zm-1.5 5.1h1v1h-1zm3.8 -7.2h1v1h-1zm-3.6 3h1v1h-1zm-3.7 1.5h1v1h-1zm7.1 -0.2h1v1h-1zm-6.1 6.7h1v1h-1zm0.3 -5.4h1v1h-1zm-5.2 -1.3h1v1h-1zm5.1 2.8h1v1h-1zm5.5 1.8h1v1h-1zm0.1 -8.8h1v1h-1zm-3.3 2.4h1v1h-1zm2.1 4.9h1v1h-1zm-3.1 -3.7h1v1h-1zm4.6 2.1h1v1h-1zm-5.2 0h1v1h-1zm-2.8 1h1v1h-1zm7.9 -1.5h1v1h-1zm-7.9 0.4h1v1h-1zm8.1 -1.1h1v1h-1zm-1.7 2.3h1v1h-1zm-6.1 2.1h1v1h-1zm0.2 -2.6h1v1h-1zm6.7 4.2h1v1h-1zm-3.3 -4.9h1v1h-1zm0.1 -2h1v1h-1zm-2.1 -0.1h1v1h-1zm1.3 -2.4h1v1h-1zm-4.6 0.8h1v1h-1zm8.3 1.2h1v1h-1zm-7.8 3.3h1v1h-1zm4.7 -2.1h1v1h-1zm-2.5 -1.1h1v1h-1zm2 6.2h1v1h-1zm0.4 -6h1v1h-1zm1.7 2.2h1v1h-1zm-5.5 -0.4h1v1h-1zm0.6 2.3h1v1h-1zm5.8 -5.3h1v1h-1zm-0.5 4.7h1v1h-1zm0.2 0.7h1v1h-1zm-0.7 -0.9h1v1h-1zm-0.2 0.3h1v1h-1zm-1.3 -1.8h1v1h-1zm0.3 4.5h1v1h-1zm-3.2 -5h1v1h-1zm-0.5 -0.3h1v1h-1zm2.2 0.6h1v1h-1zm0.2 2.3h1v1h-1zm0.1 -7.5h1v1h-1zm2.2 6.4h1v1h-1zm-2 -2.3h1v1h-1zm-0.3 -5h1v1h-1zm-4.4 5.2h1v1h-1zm3.9 5.3h1v1h-1zm-6.9 -6.2h1v1h-1zm4.4 -1.3h1v1h-1zm12.9 4.6h1v1h-1zm-12.9 0.9h1v1h-1zm12.7 2h1v1h-1zm-16.5 0.5h1v1h-1zm18.6 -1.8h1v1h-1zm-12.5 -0.2h1v1h-1zm3 -3.9h1v1h-1zm-5.1 -5.8h1v1h-1zm3.6 7.3h1v1h-1zm8.9 2.2h1v1h-1zm-8.5 -1.4h1v1h-1zm0.7 1.9h1v1h-1zm-3.3 -2.5h1v1h-1zm-4.8 -7.2h1v1h-1zm13.1 3.6h1v1h-1zm2.2 6.5h1v1h-1zm-8.8 -1.2h1v1h-1zm10 -1.3h1v1h-1zm-7.7 3.1h1v1h-1zm1.1 -2.3h1v1h-1zm-0.1 -1.8h1v1h-1zm0.3 1.3h1v1h-1zm4.3 -3.2h1v1h-1zm-8.3 -3.7h1v1h-1zm-1.3 5.9h1v1h-1zm6.7 -1.2h1v1h-1zm-7.2 4.4h1v1h-1zm-6.1 2.7h1v1h-1zm18.2 -10.8h1v1h-1zm-14.1 5.6h1v1h-1zm12.9 0.1h1v1h-1zm-8.4 -13.3h1v1h-1zm-4.3 7.4h1v1h-1zm0.9 4.3h1v1h-1zm4.4 0h1v1h-1zm1.8 4h1v1h-1zm1.9 -2.9h1v1h-1zm6.6 1.4h1v1h-1zm-16.8 -2.8h1v1h-1zm-1.7 3.9h1v1h-1zm5 -4.2h1v1h-1zm4.4 0.1h1v1h-1zm-5.9 -1.2h1v1h-1zm10.8 1.2h1v1h-1zm7 5.6h1v1h-1zm-8.5 1.4h1v1h-1zm3.4 -7.6h1v1h-1zm-7.8 -1.6h1v1h-1zm4.2 6.1h1v1h-1zm-11.3 -4.6h1v1h-1zm10.8 1.9h1v1h-1zm-4.8 -3.6h1v1h-1zm3.7 0.1h1v1h-1zm-3.6 -0.2h1v1h-1zm2.7 5.9h1v1h-1zm-3.3 -8.1h1v1h-1zm-1.4 2h1v1h-1zm6.7 5.4h1v1h-1zm-9.8 0.1h1v1h-1zm-2.8 -2.5h1v1h-1zm6.5 -0.1h1v1h-1zm4.8 0.5h1v1h-1zm3.8 -1.3h1v1h-1zm-5.3 -1.7h1v1h-1zm-8.7 6.8h1v1h-1zm6.2 -3.6h1v1h-1zm18.3 -5.9h1v1h-1zm1.2 5.2h1v1h-1zm-2.2 -1.4h1v1h-1zm-1.1 -0.4h1v1h-1zm3.5 5.2h1v1h-1zm-0.1 -4.7h1v1h-1zm-1.8 5.9h1v1h-1zm6.6 -6.9h1v1h-1zm-4.1 4.3h1v1h-1zm0 -4h1v1h-1zm-0.6 0.5h1v1h-1zm2.3 -3.6h1v1h-1zm-6.4 12.3h1v1h-1zm5.1 -13.6h1v1h-1zm-1.9 7h1v1h-1zm3.9 -2.8h1v1h-1zm-2.7 2.2h1v1h-1zm-4.8 -4.9h1v1h-1zm1.7 3.2h1v1h-1zm12.2 -0.5h1v1h-1zm-12.8 -3.4h1v1h-1zm4.5 5h1v1h-1zm1.5 2.6h1v1h-1zm1.7 -10.1h1v1h-1zm-0.8 9.8h1v1h-1zm-2.9 4.4h1v1h-1zm1.9 -5.5h1v1h-1zm-7.1 -2.4h1v1h-1zm3.4 1.2h1v1h-1zm0.1 -3.6h1v1h-1zm-0.9 -0.4h1v1h-1zm9.5 5.7h1v1h-1zm-8.7 -1.7h1v1h-1zm0.1 1.8h1v1h-1zm5.1 -1.8h1v1h-1zm-3.8 -1.4h1v1h-1zm7.8 3.9h1v1h-1zm-6.2 -7.8h1v1h-1zm-3.6 3.6h1v1h-1zm1.2 2.1h1v1h-1zm0.5 -4.3h1v1h-1zm-1 7.7h1v1h-1zm5.6 -4.4h1v1h-1zm-5.8 -2.3h1v1h-1zm3.7 4h1v1h-1zm0.8 -4.2h1v1h-1zm-7.2 -0.3h1v1h-1zm4.4 3.9h1v1h-1zm0.3 2.4h1v1h-1zm1.4 -2.7h1v1h-1zm-2.8 1.4h1v1h-1zm8.7 -3.4h1v1h-1zm-10.2 3.5h1v1h-1zm2.9 -2.3h1v1h-1zm-3.1 -0.4h1v1h-1zm3.1 -0.5h1v1h-1zm-6.9 2.5h1v1h-1zm10.9 0.1h1v1h-1zm-7.7 -2.1h1v1h-1zm7.8 -2.4h1v1h-1zm-1.5 7.9h1v1h-1zm1.2 -8.7h1v1h-1zm-7.3 -2.3h1v1h-1zm-0.9 7.1h1v1h-1zm5.1 3.2h1v1h-1zm-8.3 0.5h1v1h-1zm8.8 -3.2h1v1h-1zm-8 -1.8h1v1h-1zm9.3 0.3h1v1h-1zm-10.4 -8.4h1v1h-1zm14.1 10.6h1v1h-1zm-20.4 3.5h1v1h-1zm23 0.4h1v1h-1zm-12.2 -11.2h1v1h-1zm7.5 5.5h1v1h-1zm-5.2 -6.6h1v1h-1zm0.1 12.8h1v1h-1zm2.4 -7.9h1v1h-1zm-2 0h1v1h-1zm6.2 1.3h1v1h-1zm-4 -2.8h1v1h-1zm3.8 2.9h1v1h-1zm-11.5 -3.3h1v1h-1zm20.5 3.9h1v1h-1zm-15.1 4.5h1v1h-1zm4.4 -8.2h1v1h-1zm1.8 4.2h1v1h-1zm-14.3 1.4h1v1h-1zm2.1 -12h1v1h-1zm4.5 7.4h1v1h-1zm1.4 5h1v1h-1zm1.8 -5.4h1v1h-1zm7.1 3.5h1v1h-1zm-8 -2.3h1v1h-1zm-1.6 -3.4h1v1h-1zm5.3 -2.2h1v1h-1zm-8 9.8h1v1h-1zm3.4 -3.7h1v1h-1zm8.5 4.5h1v1h-1zm-16.4 -6.8h1v1h-1zm11.4 0.1h1v1h-1zm-6.7 5.4h1v1h-1zm-3 -2.3h1v1h-1zm3.7 0.8h1v1h-1zm2.6 -0.7h1v1h-1zm-0.2 -0.6h1v1h-1zm-9.1 6.9h1v1h-1zm21.4 -1.5h1v1h-1zm-23.1 0.3h1v1h-1zm15.6 -7.7h1v1h-1zm-7.7 -3.1h1v1h-1zm-5 6.7h1v1h-1zm9.9 -2.6h1v1h-1zm-0.6 -39.7h1v1h-1zm-2.2 -3.6h1v1h-1zm-0.4 4.2h1v1h-1zm4.5 -2.2h1v1h-1zm0.6 -0.1h1v1h-1zm-2.3 -0.8h1v1h-1zm1.2 1.7h1v1h-1zm-3.8 0.9h1v1h-1zm2.7 -2.5h1v1h-1zm2.8 -0.3h1v1h-1zm-6.4 2.3h1v1h-1zm1.5 -1.7h1v1h-1zm-0.2 0.1h1v1h-1zm0.1 0.4h1v1h-1zm-0.5 -1.8h1v1h-1zm5.1 2.4h1v1h-1zm-4.8 -1.7h1v1h-1zm2.4 3.3h1v1h-1zm4.3 -2.6h1v1h-1zm-3.1 2.7h1v1h-1zm1.8 -1.8h1v1h-1zm-4.5 0h1v1h-1zm1.2 -0.1h1v1h-1zm-0.2 -0.6h1v1h-1zm0.8 0.1h1v1h-1zm-6.1 0.9h1v1h-1zm8 -1.6h1v1h-1zm-1.9 -0.4h1v1h-1zm3.5 -0.2h1v1h-1zm-7.4 1.8h1v1h-1zm-0.1 1.4h1v1h-1zm-2.5 -2.4h1v1h-1zm4 0.3h1v1h-1zm0.4 -1.5h1v1h-1zm5.7 -3h1v1h-1zm-4.2 5.4h1v1h-1zm4.1 0.4h1v1h-1zm-2.4 -1.6h1v1h-1zm-3.4 0.8h1v1h-1zm1.4 -0.2h1v1h-1zm-4.1 0.8h1v1h-1zm1.5 -1.2h1v1h-1zm3.6 0.8h1v1h-1zm-4.7 -0.3h1v1h-1zm6.4 -0.5h1v1h-1zm2.9 -0.6h1v1h-1zm-4.9 -0.5h1v1h-1zm-1.8 -0.1h1v1h-1zm4.7 2.1h1v1h-1zm-1.9 -1.7h1v1h-1zm2.3 1.8h1v1h-1zm-6.2 0.4h1v1h-1zm3.1 0.6h1v1h-1zm-4 -0.7h1v1h-1zm4.7 -3.6h1v1h-1zm1.5 2.3h1v1h-1zm-2 1h1v1h-1zm-1.9 -2.2h1v1h-1zm2.6 -0.1h1v1h-1zm0.2 3.1h1v1h-1zm-1.6 -1.8h1v1h-1zm-3.5 1.8h1v1h-1zm6.2 -2.4h1v1h-1zm-2 1.4h1v1h-1zm-5.7 1.4h1v1h-1zm2 -0.8h1v1h-1zm7 -0.3h1v1h-1zm-4.7 -1.7h1v1h-1zm-3.2 1h1v1h-1zm2.6 0.1h1v1h-1zm-3.2 0.8h1v1h-1zm1 0h1v1h-1zm-2.1 -0.9h1v1h-1zm5.3 0.2h1v1h-1zm-1.2 -1h1v1h-1zm-3 2h1v1h-1zm0.4 1.2h1v1h-1zm2.3 -3h1v1h-1zm-0.3 1.1h1v1h-1zm2.2 -2.6h1v1h-1zm-0.5 1.4h1v1h-1zm-0.7 -0.8h1v1h-1zm0.7 24.2h1v1h-1zm0.6 -15.5h1v1h-1zm-2.6 -5.7h1v1h-1zm-1 19.7h1v1h-1zm2.7 -13.8h1v1h-1zm0.4 7.7h1v1h-1zm2.2 16.2h1v1h-1zm-3.2 -15.5h1v1h-1zm2.3 5.7h1v1h-1zm0.3 -5h1v1h-1zm-4.8 -2.3h1v1h-1zm3.5 7.2h1v1h-1zm0.7 8.9h1v1h-1zm-3.6 -5.8h1v1h-1zm3.7 -18.9h1v1h-1zm-4.2 11.9h1v1h-1zm5 9.2h1v1h-1zm-9.5 -22.2h1v1h-1zm6.1 18.1h1v1h-1zm2 -10.9h1v1h-1zm-5.6 -5.8h1v1h-1zm4.2 11.5h1v1h-1zm-5.8 -9.5h1v1h-1zm7.6 2.9h1v1h-1zm-3 12.9h1v1h-1zm2 -9.7h1v1h-1zm2.4 6.4h1v1h-1zm-2 -4.8h1v1h-1zm-0.7 -7.4h1v1h-1zm-4.2 0.6h1v1h-1zm0.8 4.9h1v1h-1zm0.6 5.5h1v1h-1zm2.9 -9.7h1v1h-1zm-0.6 4.2h1v1h-1zm2.7 0h1v1h-1zm-2.1 10.3h1v1h-1zm4.6 -1.4h1v1h-1zm-5.6 -10.2h1v1h-1zm6.3 4h1v1h-1zm-3 4.1h1v1h-1zm-3 -8.4h1v1h-1zm-4.2 4h1v1h-1zm6.1 -4.8h1v1h-1zm-3.4 11.8h1v1h-1zm0 -14.2h1v1h-1zm-1.4 0.6h1v1h-1zm4.9 3.3h1v1h-1zm-1.7 -11h1v1h-1zm12.2 0.1h1v1h-1zm-9.1 -1.1h1v1h-1zm-2.7 1.8h1v1h-1zm0 -1.2h1v1h-1zm-8.4 -0.6h1v1h-1zm11.9 9.6h1v1h-1zm-2.8 -4.1h1v1h-1zm21.9 37.3h1v1h-1zm-17.2 -7.5h1v1h-1z"/><path d="M49 183h1v1h-1zm1.8 5.2h1v1h-1zm-3.7 -7.5h1v1h-1zm4.4 4.2h1v1h-1zm-0.9 1.1h1v1h-1zm-2.4 -3.4h1v1h-1zm-1.8 1.9h1v1h-1zm3.4 -1.9h1v1h-1zm0.3 2.7h1v1h-1zm-4.5 0.4h1v1h-1zm5.6 -1.6h1v1h-1zm-3 -1.1h1v1h-1zm0 1.3h1v1h-1zm3.9 2.4h1v1h-1zm1.7 -3.2h1v1h-1zm-2.7 2.4h1v1h-1zm-2 -1.3h1v1h-1zm0.3 5.1h1v1h-1zm-0.3 -6.3h1v1h-1zm4.6 5.1h1v1h-1zm-4.9 -3h1v1h-1zm3.5 -3.1h1v1h-1zm-2.8 5.7h1v1h-1zm-3.3 -0.6h1v1h-1zm2.6 2h1v1h-1zm4.9 -1.8h1v1h-1zm-1.6 -5.2h1v1h-1zm0.8 1.5h1v1h-1zm-3.8 3h1v1h-1zm-0.8 -0.5h1v1h-1zm-1 1.7h1v1h-1zm2.4 -4.4h1v1h-1zm2.3 -2.5h1v1h-1zm1.6 1.5h1v1h-1zm-6.8 1.8h1v1h-1zm-0.7 4.3h1v1h-1zm3.7 -3.1h1v1h-1zm3.5 -2.6h1v1h-1zm-6.5 7.1h1v1h-1zm4.3 -5.7h1v1h-1zm-3.9 2h1v1h-1zm6.1 -5h1v1h-1zm0.6 3.3h1v1h-1zm-0.3 -2h1v1h-1zm-2.3 -0.2h1v1h-1zm2.3 2.4h1v1h-1zm-6.7 2.3h1v1h-1zm4 -2.9h1v1h-1zm4.8 -1.4h1v1h-1zm-5.8 3.7h1v1h-1zm4.5 -2.6h1v1h-1zm-7.1 -0.1h1v1h-1zm7.2 0.4h1v1h-1zm-3.3 2.5h1v1h-1zm-3.4 -1.8h1v1h-1zm0.7 -0.2h1v1h-1zm1.3 -1.1h1v1h-1zm-0.9 2.2h1v1h-1zm7.9 -3.5h1v1h-1zm-7.2 4.1h1v1h-1zm-6.9 -3.8h1v1h-1zm8.2 1h1v1h-1zm-4.7 2.5h1v1h-1zm-0.1 -0.8h1v1h-1zm6.6 1.2h1v1h-1zm0.7 -1.2h1v1h-1zm-0.2 1.8h1v1h-1zm-10.1 -0.3h1v1h-1zm5.3 -5.9h1v1h-1zm-3.4 2.5h1v1h-1zm1.2 4.2h1v1h-1zm2.3 -3.9h1v1h-1zm4.6 -0.4h1v1h-1zm-2.4 -1.2h1v1h-1zm-4.6 1.9h1v1h-1zm3.4 0h1v1h-1zm0.6 3.3h1v1h-1zm-2.1 -4h1v1h-1zm6.5 0.8h1v1h-1zm-5.5 0.1h1v1h-1zm2.5 1.4h1v1h-1zm-1 -6.1h1v1h-1zm-5.9 5.5h1v1h-1zm7.9 -7.4h1v1h-1zm0.1 -1.1h1v1h-1zm-4.8 2.2h1v1h-1zm-1.4 2h1v1h-1zm2 1.9h1v1h-1zm-1.7 3.2h1v1h-1zm-1.6 0.3h1v1h-1zm2 3.9h1v1h-1zm-2.1 -13.2h1v1h-1zm11.6 10.3h1v1h-1zm-9.9 -8.8h1v1h-1zm3.1 6h1v1h-1zm5.4 -4.3h1v1h-1zm-5 2.8h1v1h-1zm-5.9 3.7h1v1h-1zm2 -9.6h1v1h-1zm4 6.5h1v1h-1zm-3.8 0.8h1v1h-1zm4.9 0h1v1h-1zm0.7 -1.1h1v1h-1zm-8 4.2h1v1h-1zm11.1 -1.9h1v1h-1zm-6.1 -1.5h1v1h-1zm1.5 2h1v1h-1zm1.4 -2h1v1h-1zm3.3 3.7h1v1h-1zm0.3 -11.1h1v1h-1zm-1.7 13.9h1v1h-1zm-1.9 -3.2h1v1h-1zm2.3 -4.3h1v1h-1zm-7.7 -5.5h1v1h-1zm-3.7 3.1h1v1h-1zm11.6 2.9h1v1h-1zm1.4 0.3h1v1h-1zm-6 -3.1h1v1h-1zm-3.2 1.3h1v1h-1zm5.5 -2.4h1v1h-1zm0.3 9.2h1v1h-1zm0.7 -1.8h1v1h-1zm-2 -5h1v1h-1zm1.9 3.9h1v1h-1zm4.4 -1.5h1v1h-1zm-0.2 -3.3h1v1h-1zm-14.9 -8.3h1v1h-1zm12.2 8.8h1v1h-1zm-0.4 -0.5h1v1h-1zm-10.8 3h1v1h-1zm21 3.2h1v1h-1zm4 -1.8h1v1h-1zm-1 -5.7h1v1h-1zm1.6 -0.7h1v1h-1zm-0.9 6.3h1v1h-1zm-0.7 -0.8h1v1h-1zm-0.7 -0.6h1v1h-1zm1.1 -2.2h1v1h-1zm1.3 -2.1h1v1h-1zm3.6 3.8h1v1h-1zm1.7 -0.1h1v1h-1zm-9.5 4.3h1v1h-1zm2 -2.6h1v1h-1zm0.3 1.9h1v1h-1zm4 -5.5h1v1h-1zm-5.3 2.8h1v1h-1zm3.5 -1.4h1v1h-1zm-4.7 2.2h1v1h-1zm4 -4h1v1h-1zm0.8 1.1h1v1h-1zm-3.1 4.6h1v1h-1zm0.8 -4.4h1v1h-1zm1.8 4.1h1v1h-1zm3.9 -5h1v1h-1zm-3.7 4.2h1v1h-1zm-2.8 -4h1v1h-1zm5.4 -0.3h1v1h-1zm3.1 2.3h1v1h-1zm-2.7 -4.2h1v1h-1zm-3.7 6.8h1v1h-1zm4.1 -1h1v1h-1zm3.6 -4.8h1v1h-1zm-2.8 3.2h1v1h-1zm-1.7 -0.5h1v1h-1zm-3 2.6h1v1h-1zm1.1 -4.2h1v1h-1zm3.3 2.5h1v1h-1zm-4.8 -0.5h1v1h-1zm-2.9 -1.7h1v1h-1zm7 0.8h1v1h-1zm-6.4 2.7h1v1h-1zm5 -2.8h1v1h-1zm-2.9 -2.1h1v1h-1zm2.6 6.5h1v1h-1zm-8.1 -5.4h1v1h-1zm5.1 -2.4h1v1h-1zm0.5 2.4h1v1h-1zm-0.4 -2.2h1v1h-1zm1.1 2.2h1v1h-1zm-0.1 5.3h1v1h-1zm0 -6.8h1v1h-1zm1.5 2.4h1v1h-1zm-0.3 -1.7h1v1h-1zm-3.8 0.9h1v1h-1zm1.1 -4.5h1v1h-1zm-2.2 9.8h1v1h-1zm1.4 1h1v1h-1zm4.1 -2.7h1v1h-1zm-3.7 -2.2h1v1h-1zm1.9 1.6h1v1h-1zm-10.6 0.1h1v1h-1zm17.9 -4.8h1v1h-1zm-12.5 4h1v1h-1zm7.6 -1.5h1v1h-1zm-3.5 -1.4h1v1h-1zm3.1 -3h1v1h-1zm1.5 4.6h1v1h-1zm-5.8 -0.6h1v1h-1zm1.3 -0.4h1v1h-1zm-5.8 -4h1v1h-1zm9.6 2h1v1h-1zm-9.4 1.1h1v1h-1zm3.5 5.4h1v1h-1zm3.6 -0.5h1v1h-1zm2.1 -4.5h1v1h-1zm0.2 3.9h1v1h-1zm-0.9 -4h1v1h-1zm1.7 7.3h1v1h-1zm-7.4 -6.3h1v1h-1zm10.3 -0.5h1v1h-1zm-12.3 -3.6h1v1h-1zm12.1 6.8h1v1h-1zm-5 -2.2h1v1h-1zm-5.7 5.5h1v1h-1zm-1.8 -4.4h1v1h-1zm7.4 -2.6h1v1h-1zm-5 0.3h1v1h-1zm16.4 3.3h1v1h-1zm-11.1 1.6h1v1h-1zm3.3 -1.3h1v1h-1zm-3.7 -2.4h1v1h-1zm4.7 -10.5h1v1h-1zm-7.7 9.6h1v1h-1zm2.6 -41.9h1v1h-1zm3.2 -0.9h1v1h-1zm-2.3 -0.7h1v1h-1zm-2.4 0.9h1v1h-1zm1.7 0.9h1v1h-1zm-2.2 0.3h1v1h-1zm7.9 1.8h1v1h-1zm-2.2 -2.7h1v1h-1zm-0.5 0h1v1h-1zm-1.1 0.6h1v1h-1zm-4.5 -0.3h1v1h-1zm4.9 1.2h1v1h-1zm-1 -1.9h1v1h-1zm-3.4 0.5h1v1h-1zm2.8 0.8h1v1h-1zm4.1 0.1h1v1h-1zm-2.8 1.2h1v1h-1zm-1.5 -3.7h1v1h-1zm0.5 -1.1h1v1h-1zm-1.6 1.7h1v1h-1zm0.5 2.7h1v1h-1zm1.2 0.1h1v1h-1zm-3.1 -0.7h1v1h-1zm6.2 -0.9h1v1h-1zm-2.1 -0.7h1v1h-1zm2.1 1.2h1v1h-1zm-5.5 -0.5h1v1h-1zm-0.1 0.2h1v1h-1zm5.4 1.5h1v1h-1zm-2.4 -2.3h1v1h-1zm2.9 2.5h1v1h-1zm-6 -1.8h1v1h-1zm-1.1 0.2h1v1h-1zm0.8 -1.8h1v1h-1zm5.1 0.6h1v1h-1zm-6.2 -0.5h1v1h-1zm4.3 2.2h1v1h-1zm3.1 -0.8h1v1h-1zm-5.2 -0.8h1v1h-1zm-5.7 -0.5h1v1h-1zm6.3 4.7h1v1h-1zm2.6 -4.1h1v1h-1zm1.1 3.1h1v1h-1zm-3.5 -1.8h1v1h-1zm-3.6 -0.6h1v1h-1zm2.1 0h1v1h-1zm0.5 -2.1h1v1h-1zm0.8 4.3h1v1h-1zm4.6 -3.8h1v1h-1zm-2.5 2.2h1v1h-1zm-0.3 -1.9h1v1h-1zm-8.3 2.4h1v1h-1zm8.9 -0.1h1v1h-1zm-6.6 -3.8h1v1h-1zm-2.8 3h1v1h-1zm8.4 0h1v1h-1zm-0.5 -0.4h1v1h-1zm-1.6 0.6h1v1h-1zm-1.9 0h1v1h-1zm1.4 0.9h1v1h-1zm2.8 -3.6h1v1h-1zm-3.4 3.3h1v1h-1zm7.1 -1.5h1v1h-1zm-3.9 1.4h1v1h-1zm2 -1h1v1h-1zm-7.5 -0.6h1v1h-1zm-0.1 -2.5h1v1h-1zm5.7 1.8h1v1h-1zm-3.5 0.9h1v1h-1zm-1.5 -0.7h1v1h-1zm-2.7 -1.3h1v1h-1zm7.5 3.5h1v1h-1zm-5 0.4h1v1h-1zm2.7 -1h1v1h-1zm-1.2 -0.7h1v1h-1zm2.2 -1.2h1v1h-1zm-0.6 2.9h1v1h-1zm-1.7 -1.2h1v1h-1zm1.4 -0.5h1v1h-1zm-3 0.9h1v1h-1zm4.6 1.3h1v1h-1zm-3 -1.3h1v1h-1zm1.3 -0.8h1v1h-1zm3.8 0.7h1v1h-1zm-10 -4h1v1h-1zm7.1 2.3h1v1h-1zm-0.9 1h1v1h-1zm-1.4 -1.7h1v1h-1zm1.6 0.4h1v1h-1zm2 17.1h1v1h-1zm-0.3 -5.4h1v1h-1zm-4.7 12.9h1v1h-1zm3 -14.5h1v1h-1zm2.3 -5.4h1v1h-1zm-3.1 11.2h1v1h-1zm2.5 1.2h1v1h-1zm-4.6 -15.4h1v1h-1zm1.4 11.3h1v1h-1zm1.4 6.3h1v1h-1zm0.5 1.1h1v1h-1zm-3.6 7.8h1v1h-1zm-2.3 -4.3h1v1h-1zm7.1 -13.9h1v1h-1zm-0.5 -1.5h1v1h-1zm-3.5 0.1h1v1h-1zm5.7 -1.2h1v1h-1zm-4.3 -5.8h1v1h-1zm0.6 6.9h1v1h-1zm-0.8 5.9h1v1h-1zm-1.1 2.1h1v1h-1zm-0.5 11.4h1v1h-1zm-0.5 -26.9h1v1h-1zm1.5 28.8h1v1h-1zm-0.7 -12h1v1h-1zm4.3 7.1h1v1h-1zm-7.9 -11.6h1v1h-1zm6.3 -7.5h1v1h-1zm-0.9 10.7h1v1h-1zm-0.3 -0.7h1v1h-1zm0.1 -12.3h1v1h-1zm0.8 12.4h1v1h-1zm0.3 -14.3h1v1h-1zm-0.3 12.1h1v1h-1zm0 -0.1h1v1h-1zm1.2 -0.7h1v1h-1zm-5.6 0h1v1h-1zm1.9 -0.8h1v1h-1zm-2.1 6.9h1v1h-1zm0.8 -11.3h1v1h-1zm-1.7 1.6h1v1h-1zm-0.4 11.3h1v1h-1zm4.3 -1h1v1h-1zm1.1 -5.1h1v1h-1zm2.7 -10.2h1v1h-1zm0.2 15.6h1v1h-1zm-3.4 -2.3h1v1h-1zm3.6 -2h1v1h-1zm-5.3 5.2h1v1h-1zm4.9 -0.6h1v1h-1zm2.5 9h1v1h-1zm-5.9 -16h1v1h-1zm6.1 9h1v1h-1zm-9.2 -9.4h1v1h-1zm-3.5 -6.5h1v1h-1zm15.2 -5.6h1v1h-1zm0.1 -0.1h1v1h-1zm-5.3 6.1h1v1h-1zm-5 -2h1v1h-1zm6 -4.7h1v1h-1zm-13.8 1.2h1v1h-1zm1.2 11.2h1v1h-1zm-3.8 -2.1h1v1h-1zm-7.2 8h1v1h-1zm12.8 -5.1h1v1h-1zm-4.4 0.4h1v1h-1zm30.4 33.4h1v1h-1zm-10.6 0.1h1v1h-1zm11.5 -10.3h1v1h-1zm-10.5 6.4h1v1h-1zm6.1 -6.6h1v1h-1z"/><path d="M52.5 181.1h1v1h-1zm-3 3.3h1v1h-1zm-5 3h1v1h-1zm11.3 -3.2h1v1h-1zm-4.4 1.4h1v1h-1zm-3.7 0.2h1v1h-1zm-0.1 -1.4h1v1h-1zm-0.3 1.9h1v1h-1zm1.7 -2.6h1v1h-1zm-0.9 0.9h1v1h-1zm1.4 3.2h1v1h-1zm0.1 -3h1v1h-1zm-3.5 -2.4h1v1h-1zm5 2.3h1v1h-1zm-2.1 -1.9h1v1h-1zm3 3.6h1v1h-1zm-3.1 -5.2h1v1h-1zm-2.2 2.8h1v1h-1zm6.6 -2.4h1v1h-1zm-0.7 -0.8h1v1h-1zm1.1 3.4h1v1h-1zm-8 -2.2h1v1h-1zm4.7 -3.2h1v1h-1zm-7.3 3.4h1v1h-1zm10.7 2.1h1v1h-1zm-12.6 -0.3h1v1h-1zm7.9 0.9h1v1h-1zm0.6 3.7h1v1h-1zm6.2 -12.3h1v1h-1zm-7.4 9.1h1v1h-1zm-1.3 -0.6h1v1h-1zm6.5 2.2h1v1h-1zm-4.7 -0.8h1v1h-1zm0.4 -2.7h1v1h-1zm-4 2.8h1v1h-1zm9 -1.9h1v1h-1zm-1.1 -2.2h1v1h-1zm-1.7 -1.6h1v1h-1zm-3.4 1.7h1v1h-1zm3.7 1.4h1v1h-1zm-1.9 4.5h1v1h-1zm-1.1 -6.2h1v1h-1zm0.8 -2.4h1v1h-1zm3.8 7.1h1v1h-1zm-2.3 -1.2h1v1h-1zm-0.3 -3.5h1v1h-1zm-3.8 1.8h1v1h-1zm6 6.2h1v1h-1zm-1.6 -3.7h1v1h-1zm-4 0.4h1v1h-1zm-2.5 -3h1v1h-1zm5.3 0h1v1h-1zm2.2 -1.4h1v1h-1zm1 6.5h1v1h-1zm-9.1 -1.2h1v1h-1zm4.2 -3.2h1v1h-1zm5 -6h1v1h-1zm-1.5 3.3h1v1h-1zm1.4 0.9h1v1h-1zm-3.3 0.3h1v1h-1zm7.7 1.6h1v1h-1zm-13.8 1.6h1v1h-1zm8.4 -4.2h1v1h-1zm-6.7 1.9h1v1h-1zm2.5 4.1h1v1h-1zm1.7 -3.8h1v1h-1zm0.6 1.7h1v1h-1zm-0.6 -0.9h1v1h-1zm-2.1 2.8h1v1h-1zm4.4 -9h1v1h-1zm-2.8 4.3h1v1h-1zm-1.3 2.2h1v1h-1zm-2.9 2.3h1v1h-1zm3.2 -6.1h1v1h-1zm-2.8 1h1v1h-1zm6 0.4h1v1h-1zm-2.3 1.1h1v1h-1zm3.1 -3h1v1h-1zm-9.5 4.7h1v1h-1zm7.1 1.3h1v1h-1zm-3.7 -3.1h1v1h-1zm2.3 0h1v1h-1zm4.3 0.4h1v1h-1zm-9.2 2.2h1v1h-1zm6.4 -2.6h1v1h-1zm0.2 -2.5h1v1h-1zm1.8 1.9h1v1h-1zm7.4 1.3h1v1h-1zm-14.5 0.7h1v1h-1zm5 0.4h1v1h-1zm-4.1 -2.6h1v1h-1zm4 6.6h1v1h-1zm-7.8 -8.2h1v1h-1zm6.5 5.8h1v1h-1zm8.7 -8.6h1v1h-1zm-5.1 3.7h1v1h-1zm-7.8 -3.5h1v1h-1zm8.8 5h1v1h-1zm3.5 2.9h1v1h-1zm-10.2 -11.4h1v1h-1zm3 10h1v1h-1zm-0.5 -2.4h1v1h-1zm-4.4 6.8h1v1h-1zm11 0.2h1v1h-1zm-8.9 -15h1v1h-1zm5.3 13.3h1v1h-1zm-5.1 -2.3h1v1h-1zm-2.7 0.2h1v1h-1zm1.4 3.8h1v1h-1zm6.1 -11.9h1v1h-1zm-8.5 7.7h1v1h-1zm5.4 -0.2h1v1h-1zm-1.1 3.8h1v1h-1zm4.1 -7h1v1h-1zm-1.3 3.9h1v1h-1zm-2 -5.1h1v1h-1zm-0.2 0.3h1v1h-1zm-2 5.1h1v1h-1zm6.4 -6.2h1v1h-1zm-9.3 2.2h1v1h-1zm3.2 -0.9h1v1h-1zm3.5 -11.7h1v1h-1zm9.2 1.4h1v1h-1zm-7.5 4.2h1v1h-1zm9.4 7.5h1v1h-1zm-12.7 0.7h1v1h-1zm-6.3 -3.1h1v1h-1zm4.3 -0.4h1v1h-1zm-4.9 6.4h1v1h-1zm3.4 -1.8h1v1h-1zm2.5 -3.5h1v1h-1zm-5.2 5.4h1v1h-1zm8.1 2.2h1v1h-1zm-6.8 0.2h1v1h-1zm-0.5 -3.9h1v1h-1zm27 -1.4h1v1h-1zm-1.8 -1.5h1v1h-1zm3.5 -2.3h1v1h-1zm-2.7 0.8h1v1h-1zm-4.1 6.8h1v1h-1zm2 -4h1v1h-1zm4.1 3.9h1v1h-1zm0 -5.7h1v1h-1zm-1.4 4.7h1v1h-1zm0.9 -9.5h1v1h-1zm4.8 4.4h1v1h-1zm-8.4 4.8h1v1h-1zm2.3 2.9h1v1h-1zm0.4 -6.3h1v1h-1zm4.9 -3.2h1v1h-1zm-4.3 3.1h1v1h-1zm-4.6 3.2h1v1h-1zm5.2 -1.7h1v1h-1zm-4.9 -2.8h1v1h-1zm10.9 1.6h1v1h-1zm-5.7 2.4h1v1h-1zm-0.8 -4.6h1v1h-1zm-5.5 -0.1h1v1h-1zm2.9 0.1h1v1h-1zm0.3 2.4h1v1h-1zm1.4 -3.5h1v1h-1zm-6.5 3.4h1v1h-1zm11 -0.2h1v1h-1zm-3.6 2.5h1v1h-1zm-6.5 -5.7h1v1h-1zm6.4 3.4h1v1h-1zm-1.2 -1.5h1v1h-1zm-1.5 1.3h1v1h-1zm0.5 3.1h1v1h-1zm2.7 -1.6h1v1h-1zm-3.6 -4.5h1v1h-1zm3.3 4.2h1v1h-1zm3.6 0.4h1v1h-1zm-2 2.2h1v1h-1zm-4.1 -2.9h1v1h-1zm2.7 1.2h1v1h-1zm-1.1 0.9h1v1h-1zm-0.9 -2.2h1v1h-1zm-0.9 1.6h1v1h-1zm1.2 -2.6h1v1h-1zm-0.6 -3.3h1v1h-1zm-2.1 2.4h1v1h-1zm4.6 0.8h1v1h-1zm-8 -2.4h1v1h-1zm2.6 1.6h1v1h-1zm0.1 -1.6h1v1h-1zm5.9 6.7h1v1h-1zm-3 -4.2h1v1h-1zm-10.4 0.2h1v1h-1zm9 3.9h1v1h-1zm2 -5.2h1v1h-1zm-2.2 -0.2h1v1h-1zm-3 1.2h1v1h-1zm7.8 0.6h1v1h-1zm-0.4 -1.2h1v1h-1zm2 -7.6h1v1h-1zm2.6 9.9h1v1h-1zm-6.7 -5.1h1v1h-1zm4.6 8.4h1v1h-1zm0.2 -0.8h1v1h-1zm-2.4 -6.9h1v1h-1zm-13.5 4.3h1v1h-1zm11.7 0.1h1v1h-1zm-12 5.4h1v1h-1zm9.5 -5.6h1v1h-1zm-3.2 -5.8h1v1h-1zm9.3 5.3h1v1h-1zm-7.5 -2.6h1v1h-1zm-0.3 -1h1v1h-1zm-1.6 9.4h1v1h-1zm-0.6 -10.2h1v1h-1zm6.9 -0.7h1v1h-1zm-9.8 7h1v1h-1zm10.6 -0.6h1v1h-1zm-4.9 -8.6h1v1h-1zm1.4 10h1v1h-1zm-6 0.3h1v1h-1zm8.5 -0.2h1v1h-1zm0.5 -3.7h1v1h-1zm-2.3 -0.5h1v1h-1zm-4.2 6.3h1v1h-1zm8.5 -13.9h1v1h-1zm0.8 9h1v1h-1zm-7.9 -5.5h1v1h-1zm3.1 4.5h1v1h-1zm7.9 0.7h1v1h-1zm-6.5 -0.5h1v1h-1zm0.1 -2.7h1v1h-1zm3.3 -0.1h1v1h-1zm-6.6 -1.8h1v1h-1zm11.6 2h1v1h-1zm-13.5 0.6h1v1h-1zm11.5 -41.5h1v1h-1zm-3.1 2.8h1v1h-1zm-4.2 -3.4h1v1h-1zm2.8 1.7h1v1h-1zm-1.5 -0.5h1v1h-1zm-0.3 0.5h1v1h-1zm-3.1 0.1h1v1h-1zm5.1 -3.9h1v1h-1zm-0.7 3.8h1v1h-1zm-0.8 0.8h1v1h-1zm1.6 -1.2h1v1h-1zm-4 1.8h1v1h-1zm3.5 -3.8h1v1h-1zm-1 2.9h1v1h-1zm1.1 -1.6h1v1h-1zm-3.6 1.9h1v1h-1zm3.8 -0.3h1v1h-1zm-5.3 -1.5h1v1h-1zm6.5 3.2h1v1h-1zm-6.3 -3.1h1v1h-1zm1.4 0.7h1v1h-1zm3.1 0.9h1v1h-1zm-2.9 0.3h1v1h-1zm-0.9 -1.3h1v1h-1zm1.8 -0.3h1v1h-1zm-1.6 0.7h1v1h-1zm3.7 -1.7h1v1h-1zm-3.6 -0.2h1v1h-1zm2.3 -0.1h1v1h-1zm-4.6 -0.5h1v1h-1zm5.8 2.1h1v1h-1zm-5.4 -0.2h1v1h-1zm1.6 -0.1h1v1h-1zm0.8 0.8h1v1h-1zm-4 -1.8h1v1h-1zm7 1.4h1v1h-1zm0.5 0.7h1v1h-1zm-1.6 -3h1v1h-1zm-1.9 3.2h1v1h-1zm6.3 0.2h1v1h-1zm-3.9 -3.3h1v1h-1zm-0.1 1.4h1v1h-1zm-5.1 -0.2h1v1h-1zm5.5 2.4h1v1h-1zm-1.8 -1.3h1v1h-1zm4.9 -0.2h1v1h-1zm-2.9 -0.3h1v1h-1zm1.1 -1.6h1v1h-1zm-5.4 3.2h1v1h-1zm0.8 1.6h1v1h-1zm2.7 -2.8h1v1h-1zm-0.2 -0.6h1v1h-1zm-2.7 3.4h1v1h-1zm3.5 -5.5h1v1h-1zm-3.3 5.3h1v1h-1zm3.3 -2.2h1v1h-1zm-0.8 0.7h1v1h-1zm1 -3.5h1v1h-1zm-1.3 2.4h1v1h-1zm-0.2 -2h1v1h-1zm3.2 3.5h1v1h-1zm-1.6 -2.3h1v1h-1zm-1.6 -0.3h1v1h-1zm1.4 2.8h1v1h-1zm-1.3 -3h1v1h-1zm-0.5 -0.2h1v1h-1zm4.4 1.8h1v1h-1zm-5 0.8h1v1h-1zm0.1 0.4h1v1h-1zm-0.1 -2h1v1h-1zm1.4 1.6h1v1h-1zm3.1 -1.8h1v1h-1zm-3.5 -0.4h1v1h-1zm-1.7 -0.2h1v1h-1zm3.3 1h1v1h-1zm-5.8 0.1h1v1h-1zm3.3 -0.2h1v1h-1zm3 0.4h1v1h-1zm-7.4 -1h1v1h-1zm10 2.5h1v1h-1zm-8.5 -1.4h1v1h-1zm5.8 -0.2h1v1h-1zm-4.7 8.6h1v1h-1zm4.8 3.9h1v1h-1zm-2.4 14.2h1v1h-1zm-1.9 -14.9h1v1h-1zm-3.5 -0.8h1v1h-1zm3.3 9.4h1v1h-1zm-3.8 -6.9h1v1h-1zm4.4 -8.8h1v1h-1zm-2.3 19.3h1v1h-1zm1.7 -10.5h1v1h-1zm0.6 -2.9h1v1h-1zm-2.5 -1.4h1v1h-1zm-5.9 9.4h1v1h-1zm11.5 -2h1v1h-1zm-6.6 8.1h1v1h-1zm1.6 1.5h1v1h-1zm3.7 -7h1v1h-1zm0.9 3.4h1v1h-1zm-2.4 -20.3h1v1h-1zm-2.9 13.6h1v1h-1zm8.2 -11.3h1v1h-1zm-10.9 -1.5h1v1h-1zm8.6 16.8h1v1h-1zm-3.9 -15h1v1h-1zm1.9 4.9h1v1h-1zm-3.3 13.8h1v1h-1zm-0.1 -13.3h1v1h-1zm-2.6 10h1v1h-1zm9.8 -2.7h1v1h-1zm-6.2 2.9h1v1h-1zm-1 4.9h1v1h-1zm0.8 -4.9h1v1h-1zm4 -2.7h1v1h-1zm-3.9 -9.9h1v1h-1zm0.9 -3.4h1v1h-1zm1.4 0.5h1v1h-1zm0.3 2.7h1v1h-1zm-4.5 0.5h1v1h-1zm-2.8 -8.2h1v1h-1zm2.1 18.1h1v1h-1zm2.8 -5.2h1v1h-1zm0.7 -7.3h1v1h-1zm4.7 3.6h1v1h-1zm3.3 11h1v1h-1zm-7.1 -9.9h1v1h-1zm-0.9 12.3h1v1h-1zm3.7 -20.2h1v1h-1zm-3.4 2.9h1v1h-1zm1.8 9.7h1v1h-1zm5.1 -16.5h1v1h-1zm2.5 2.6h1v1h-1zm-11.9 1.4h1v1h-1zm6.2 -2.7h1v1h-1zm9.9 3.5h1v1h-1zm-12.8 -2.5h1v1h-1zm16.7 0.3h1v1h-1zm-16.5 0.3h1v1h-1zm-8.1 15.2h1v1h-1zm-6.8 -9.2h1v1h-1zm-4 1.4h1v1h-1zm39.5 29.1h1v1h-1zm-22.9 5h1v1h-1z"/><path d="M45.7 186.5h1v1h-1zm2.8 -6.3h1v1h-1zm-2.8 5.6h1v1h-1zm3.5 -2.2h1v1h-1zm4.6 1.2h1v1h-1zm-1.7 -0.6h1v1h-1zm1.2 -2.2h1v1h-1zm-4.3 -1.5h1v1h-1zm3.4 2.7h1v1h-1zm-5.4 3.9h1v1h-1zm4.7 -4.7h1v1h-1zm-2.1 4.3h1v1h-1zm0.1 -2.6h1v1h-1zm0.3 0.9h1v1h-1zm1.9 -2.6h1v1h-1zm-4 2.5h1v1h-1zm0 1.2h1v1h-1zm1.7 -5.6h1v1h-1zm-2.3 6.1h1v1h-1zm-3.1 -4.8h1v1h-1zm7.8 2.1h1v1h-1zm-1.5 1.1h1v1h-1zm1.6 -2.3h1v1h-1zm-2.8 -0.6h1v1h-1zm-4.9 2.4h1v1h-1zm10.3 -0.3h1v1h-1zm-3.3 1.9h1v1h-1zm-0.9 -3.3h1v1h-1zm7.2 1.9h1v1h-1zm-6.7 -1.1h1v1h-1zm-1.6 4.1h1v1h-1zm-1.8 -8.3h1v1h-1zm1.8 2.7h1v1h-1zm7 1.6h1v1h-1zm-9 -0.6h1v1h-1zm6.2 3.1h1v1h-1zm-1.4 -2.4h1v1h-1zm-4.8 3.3h1v1h-1zm4.3 -2.1h1v1h-1zm-2.6 -1.9h1v1h-1zm0.6 3h1v1h-1zm4.4 -7.7h1v1h-1zm-3.7 4.2h1v1h-1zm2.7 4.3h1v1h-1zm-7 -2h1v1h-1zm6.8 5h1v1h-1zm2.1 -3.5h1v1h-1zm-4.5 0.9h1v1h-1zm-5.7 -2.8h1v1h-1zm5.7 1.7h1v1h-1zm-4.7 0.7h1v1h-1zm5.5 -1.5h1v1h-1zm-3.4 2.7h1v1h-1zm2.2 -2.2h1v1h-1zm-1.5 -3.7h1v1h-1zm-0.3 -3.9h1v1h-1zm1.5 5.3h1v1h-1zm-3.8 1.1h1v1h-1zm0.2 -7.1h1v1h-1zm3.6 6.2h1v1h-1zm-1.8 0.4h1v1h-1zm-3.5 0.1h1v1h-1zm4.8 5.6h1v1h-1zm4.1 -4.9h1v1h-1zm0.6 2.4h1v1h-1zm-5 -2.5h1v1h-1zm4.7 -1.4h1v1h-1zm1.1 1.3h1v1h-1zm-5.2 -4.5h1v1h-1zm-4.2 4.2h1v1h-1zm1.8 3.3h1v1h-1zm-0.4 0.4h1v1h-1zm7.4 -4.4h1v1h-1zm-4.2 1.2h1v1h-1zm4.9 0.7h1v1h-1zm-7.8 -1.1h1v1h-1zm3.2 0.5h1v1h-1zm-0.2 -0.4h1v1h-1zm-0.2 -0.6h1v1h-1zm5.9 4.8h1v1h-1zm-1.9 1.6h1v1h-1zm3.8 -12.9h1v1h-1zm-6.8 2.4h1v1h-1zm-0.8 7h1v1h-1zm-1.2 -1.2h1v1h-1zm9.7 -4.5h1v1h-1zm-11 6.2h1v1h-1zm-3.4 0.8h1v1h-1zm20 -8.7h1v1h-1zm-6.8 -0.6h1v1h-1zm-11.2 1.3h1v1h-1zm17.7 2.4h1v1h-1zm-3.7 -2.5h1v1h-1zm-14.7 -0.4h1v1h-1zm3.5 9.4h1v1h-1zm-1.6 -9.6h1v1h-1zm4.3 7.7h1v1h-1zm1.4 -0.8h1v1h-1zm2.2 1.4h1v1h-1zm-10.5 -5.2h1v1h-1zm7.8 -0.7h1v1h-1zm-4.5 -1.2h1v1h-1zm-4 9h1v1h-1zm-1 -7.3h1v1h-1zm7.8 4.1h1v1h-1zm-0.7 3.8h1v1h-1zm-9.8 -6.7h1v1h-1zm8 3.5h1v1h-1zm-4.7 -0.8h1v1h-1zm3.6 -3.4h1v1h-1zm5.1 4.9h1v1h-1zm-1.1 1.4h1v1h-1zm-5.5 -11.3h1v1h-1zm6.7 4.9h1v1h-1zm-6.2 2.3h1v1h-1zm8 1.3h1v1h-1zm2.5 -5.4h1v1h-1zm-13.7 6.2h1v1h-1zm2.4 -7.5h1v1h-1zm5.2 6.6h1v1h-1zm-7.4 -6.2h1v1h-1zm4.4 -2.6h1v1h-1zm8.9 11.9h1v1h-1zm-4 -6.9h1v1h-1zm17 -1.4h1v1h-1zm1.5 -1.4h1v1h-1zm0.2 9.4h1v1h-1zm-4.9 -10.8h1v1h-1zm3 2.3h1v1h-1zm1.1 2h1v1h-1zm-1.4 3h1v1h-1zm2.2 2.1h1v1h-1zm0.5 -3.4h1v1h-1zm-4.5 -8h1v1h-1zm6.5 10.6h1v1h-1zm-4.8 -1.8h1v1h-1zm-0.3 2.4h1v1h-1zm-2 -6.6h1v1h-1zm3.6 4.6h1v1h-1zm-3.9 -3.2h1v1h-1zm3.2 4h1v1h-1zm-1.2 -4h1v1h-1zm-5.3 -5.2h1v1h-1zm3.3 7h1v1h-1zm-2.2 2h1v1h-1zm8 0.5h1v1h-1zm0.1 -5.5h1v1h-1zm-5.4 1.7h1v1h-1zm4.3 -2.4h1v1h-1zm-1.3 0.3h1v1h-1zm-3.9 1.6h1v1h-1zm6.6 1h1v1h-1zm-2 2.1h1v1h-1zm-4.1 -1.4h1v1h-1zm4.6 -0.2h1v1h-1zm-3.6 -2.6h1v1h-1zm0.5 1.2h1v1h-1zm-1.7 2.6h1v1h-1zm1.3 0.7h1v1h-1zm0.5 2.1h1v1h-1zm-2.3 -4.7h1v1h-1zm-1.8 -2.1h1v1h-1zm0.8 2.8h1v1h-1zm5 0.1h1v1h-1zm2.7 0.8h1v1h-1zm1.6 4.9h1v1h-1zm-3.8 -5h1v1h-1zm-4.1 -10.8h1v1h-1zm4.3 11h1v1h-1zm-7.7 -1.7h1v1h-1zm4.4 2.4h1v1h-1zm-2.1 2.6h1v1h-1zm5.3 -11.9h1v1h-1zm-6.2 2.7h1v1h-1zm8.4 3.4h1v1h-1zm-8.4 -5.1h1v1h-1zm2.9 7.5h1v1h-1zm6.6 -6.5h1v1h-1zm-13.1 -3.2h1v1h-1zm7.6 5.9h1v1h-1zm2.7 2.6h1v1h-1zm2.8 0.9h1v1h-1zm-7.2 0.5h1v1h-1zm3.9 -2.2h1v1h-1zm5 -0.7h1v1h-1zm-1.9 1.4h1v1h-1zm-0.7 4.2h1v1h-1zm-9.8 1.8h1v1h-1zm7.9 -1.3h1v1h-1zm0.9 -10.9h1v1h-1zm-2.8 7.4h1v1h-1zm10.8 -3.6h1v1h-1zm-12.2 4.1h1v1h-1zm1 -1.9h1v1h-1zm-5.3 -2.8h1v1h-1zm7.9 -0.6h1v1h-1zm3.7 1h1v1h-1zm-14 6.1h1v1h-1zm11.6 -7.2h1v1h-1zm-2.5 2.3h1v1h-1zm-5.1 -6.7h1v1h-1zm1.5 9.7h1v1h-1zm2.7 -4.8h1v1h-1zm-8.2 7.2h1v1h-1zm11.9 -3.1h1v1h-1zm-2.2 -3.7h1v1h-1zm-0.5 3.9h1v1h-1zm-0.9 -4.9h1v1h-1zm-4.3 -0.1h1v1h-1zm2.8 -1.5h1v1h-1zm1.2 1.2h1v1h-1zm0.1 9.8h1v1h-1zm3.5 -49.3h1v1h-1zm-2.5 -0.6h1v1h-1zm0 0.1h1v1h-1zm-1.5 -0.2h1v1h-1zm0.2 0.5h1v1h-1zm2 -1h1v1h-1zm-3.5 0.2h1v1h-1zm5.6 1.5h1v1h-1zm-6.8 0h1v1h-1zm7.9 -1.4h1v1h-1zm-5.9 0.3h1v1h-1zm3.3 -0.2h1v1h-1zm0.7 2.3h1v1h-1zm0.9 -2.3h1v1h-1zm-2.5 1.5h1v1h-1zm2.3 1.4h1v1h-1zm-1.7 0.1h1v1h-1zm1.2 -1.3h1v1h-1zm-5.3 -0.6h1v1h-1zm1.3 -2h1v1h-1zm3.5 1.2h1v1h-1zm-0.1 -0.6h1v1h-1zm-0.4 2.2h1v1h-1zm0.2 -1.9h1v1h-1zm-7.6 0.8h1v1h-1zm0.7 -2.5h1v1h-1zm4.5 2.3h1v1h-1zm3.8 -0.3h1v1h-1zm-3.3 2.7h1v1h-1zm-1.4 -3.3h1v1h-1zm-3.5 0.7h1v1h-1zm7.1 0.2h1v1h-1zm-3.8 1.4h1v1h-1zm4.5 -1h1v1h-1zm2.4 -1.3h1v1h-1zm-6.5 2.1h1v1h-1zm2.5 0.1h1v1h-1zm-2.5 0h1v1h-1zm-1.5 1.1h1v1h-1zm-0.1 -1.1h1v1h-1zm4.5 -0.6h1v1h-1zm-3.3 -0.7h1v1h-1zm-1.3 1.3h1v1h-1zm1.8 0h1v1h-1zm3 -1.1h1v1h-1zm-0.1 -0.9h1v1h-1zm1.2 0.4h1v1h-1zm-5.1 -0.1h1v1h-1zm1.1 1.9h1v1h-1zm3.9 -0.7h1v1h-1zm-1.7 0.5h1v1h-1zm-1.5 1.1h1v1h-1zm0.3 -1.4h1v1h-1zm0.3 -1.4h1v1h-1zm0.3 1.9h1v1h-1zm2.8 -1.8h1v1h-1zm-4.2 2.1h1v1h-1zm2.4 -2.3h1v1h-1zm-2.8 2.5h1v1h-1zm0.9 -3.2h1v1h-1zm-0.6 1.6h1v1h-1zm-2.9 -0.5h1v1h-1zm2.8 1.2h1v1h-1zm-1.6 -0.9h1v1h-1zm2.1 0.5h1v1h-1zm1 2.2h1v1h-1zm-1.4 -1.2h1v1h-1zm0 -1.6h1v1h-1zm-1.7 -1.2h1v1h-1zm5.4 4.7h1v1h-1zm-4.5 -4.4h1v1h-1zm0.7 1h1v1h-1zm3.3 -0.6h1v1h-1zm-4 -2h1v1h-1zm3.7 2.6h1v1h-1zm0.4 1h1v1h-1zm-3.2 -0.2h1v1h-1zm4 -0.2h1v1h-1zm-1.3 0.7h1v1h-1zm-2.6 -1h1v1h-1zm1.8 3h1v1h-1zm-2.1 -4h1v1h-1zm3.4 2.4h1v1h-1zm-1.3 -1.1h1v1h-1zm1.7 1.5h1v1h-1zm-2.1 -3h1v1h-1zm-0.1 2.1h1v1h-1zm-3.1 -2h1v1h-1zm0.8 0.3h1v1h-1zm-2.1 0.2h1v1h-1zm6.7 -0.2h1v1h-1zm-1.6 -1.8h1v1h-1zm-7 16.1h1v1h-1zm5.7 -5.6h1v1h-1zm0.7 12.8h1v1h-1zm0.4 8.6h1v1h-1zm-5 -21h1v1h-1zm4.6 -4.2h1v1h-1zm-6.7 6.7h1v1h-1zm2.2 4.3h1v1h-1zm5.6 -21.5h1v1h-1zm-1.8 22.2h1v1h-1zm1.6 -0.9h1v1h-1zm-1.5 -16.6h1v1h-1zm0.9 11.4h1v1h-1zm-4.3 8.3h1v1h-1zm-3.8 -2.2h1v1h-1zm4.4 -2h1v1h-1zm2.9 12.3h1v1h-1zm-7.1 -1.5h1v1h-1zm11.2 -16.4h1v1h-1zm-3.1 6.3h1v1h-1zm-8.7 -2.4h1v1h-1zm4.8 -3.7h1v1h-1zm-0.6 2h1v1h-1zm-0.4 0.9h1v1h-1zm2.9 11.2h1v1h-1zm-0.4 -2.2h1v1h-1zm-0.9 -12.8h1v1h-1zm1.2 4.5h1v1h-1zm-6 -0.2h1v1h-1zm5.6 -7.4h1v1h-1zm-3.8 6.1h1v1h-1zm-2.9 14.6h1v1h-1zm8.2 2.9h1v1h-1zm-7.2 -5.1h1v1h-1zm5.4 -11.4h1v1h-1zm-1.5 -2.4h1v1h-1zm3.5 9.2h1v1h-1zm-7.1 -11.2h1v1h-1zm0.5 13.2h1v1h-1zm5.7 -8.5h1v1h-1zm2.7 -7.4h1v1h-1zm-2.8 18.2h1v1h-1zm-3 -2.2h1v1h-1zm-3.2 -11.5h1v1h-1zm5.6 -0.8h1v1h-1zm2 15.9h1v1h-1zm-1.5 -25.1h1v1h-1zm-3.9 4.4h1v1h-1zm4 -6h1v1h-1zm-0.4 5.3h1v1h-1zm6.6 2.1h1v1h-1zm-11.5 -5.1h1v1h-1zm7.5 1h1v1h-1zm1.1 3.8h1v1h-1zm-26.8 8.5h1v1h-1z"/><path d="M48.3 189.4h1v1h-1zm1 -6.8h1v1h-1zm-0.4 2.9h1v1h-1zm-1.1 -0.2h1v1h-1zm4.9 -2.2h1v1h-1zm0.4 1.5h1v1h-1zm-4.8 -1.2h1v1h-1zm7.3 2.6h1v1h-1zm-6.1 0.2h1v1h-1zm2.9 -2.3h1v1h-1zm-2.5 6h1v1h-1zm-2.4 -4h1v1h-1zm7.1 -2.7h1v1h-1zm-0.9 0.5h1v1h-1zm0.4 1.2h1v1h-1zm-11.1 0.8h1v1h-1zm8.2 -1.8h1v1h-1zm-1.6 -0.4h1v1h-1zm0.1 2.3h1v1h-1zm-0.9 0.5h1v1h-1zm-2.9 0.4h1v1h-1zm7.1 -2.2h1v1h-1zm-3.6 -3.6h1v1h-1zm-0.3 1.8h1v1h-1zm2.4 -1.6h1v1h-1zm4.3 2.5h1v1h-1zm-6.4 -2.1h1v1h-1zm6.1 4.9h1v1h-1zm-9.3 -2.6h1v1h-1zm0.8 0.4h1v1h-1zm6.2 2.3h1v1h-1zm-1.5 1.2h1v1h-1zm-5.9 -4.2h1v1h-1zm2.9 -1.5h1v1h-1zm2.6 3.5h1v1h-1zm-0.3 -3.6h1v1h-1zm-2.8 2.2h1v1h-1zm-2.1 -2.2h1v1h-1zm0.5 2.6h1v1h-1zm3.3 4.2h1v1h-1zm5.7 -3h1v1h-1zm-9.6 -1.4h1v1h-1zm-3.3 -1.5h1v1h-1zm5.1 0.1h1v1h-1zm4.9 1.2h1v1h-1zm-1.9 1.1h1v1h-1zm-1.4 -0.9h1v1h-1zm-1.8 -3.2h1v1h-1zm3.1 4.7h1v1h-1zm-5 -0.3h1v1h-1zm1.5 -0.4h1v1h-1zm2.6 -1.3h1v1h-1zm4.9 -0.4h1v1h-1zm-5.8 -0.2h1v1h-1zm-1.5 1.2h1v1h-1zm1.7 0.3h1v1h-1zm-4.6 1.2h1v1h-1zm6.9 -4.4h1v1h-1zm-0.3 3.2h1v1h-1zm-2.6 -4.3h1v1h-1zm5.1 2.2h1v1h-1zm-3.1 1.4h1v1h-1zm0.2 -2.6h1v1h-1zm4.6 -0.5h1v1h-1zm-4.4 4.3h1v1h-1zm-3 -1.7h1v1h-1zm4.2 3.4h1v1h-1zm0 -3.4h1v1h-1zm0.9 -0.1h1v1h-1zm6.5 -0.2h1v1h-1zm-9.7 2.8h1v1h-1zm-4.5 -1h1v1h-1zm8 0.7h1v1h-1zm-6 -6.1h1v1h-1zm0.7 0.5h1v1h-1zm-2.6 3.6h1v1h-1zm2.8 3.8h1v1h-1zm2 -6.8h1v1h-1zm-2.6 1.3h1v1h-1zm1.6 1.1h1v1h-1zm1.4 0h1v1h-1zm0.4 2.5h1v1h-1zm-5 2.4h1v1h-1zm-2.8 -5.6h1v1h-1zm10.1 1.5h1v1h-1zm2 0.8h1v1h-1zm-2.9 -1.7h1v1h-1zm-2 1.7h1v1h-1zm-2 -2.2h1v1h-1zm2.3 5.6h1v1h-1zm-3.9 -4.8h1v1h-1zm7.4 -0.4h1v1h-1zm-3 6.2h1v1h-1zm12.6 -6.3h1v1h-1zm-18.2 3.4h1v1h-1zm-3.9 -7.1h1v1h-1zm7.2 3.2h1v1h-1zm0.4 -3.1h1v1h-1zm8.6 8.5h1v1h-1zm-4.5 -5.4h1v1h-1zm5.7 -4.3h1v1h-1zm-3.2 3.5h1v1h-1zm-6.3 0.4h1v1h-1zm-4 0.3h1v1h-1zm6.6 4.4h1v1h-1zm6.3 -8.6h1v1h-1zm-5.1 5.6h1v1h-1zm-1.4 0.3h1v1h-1zm-7.3 -0.8h1v1h-1zm-1.7 6.4h1v1h-1zm15.2 -7.4h1v1h-1zm-1.3 -11.1h1v1h-1zm-3.1 14.2h1v1h-1zm-5 -1.3h1v1h-1zm3.4 -0.5h1v1h-1zm-9.3 -7h1v1h-1zm5.4 7.7h1v1h-1zm10.2 -4.7h1v1h-1zm-4.6 4.9h1v1h-1zm-7.5 4h1v1h-1zm-1 -6.1h1v1h-1zm10.9 -1.9h1v1h-1zm-7 3.9h1v1h-1zm-6.2 4.1h1v1h-1zm10.5 -7.3h1v1h-1zm4.1 7.9h1v1h-1zm-16.7 -12.4h1v1h-1zm20.6 4.5h1v1h-1zm-9.7 -2.9h1v1h-1zm2.5 5.5h1v1h-1zm-9.1 2.5h1v1h-1zm1.8 -2h1v1h-1zm7.2 -3.8h1v1h-1zm-11.2 3.8h1v1h-1zm3.1 -3.2h1v1h-1zm11.4 4.8h1v1h-1zm-7.3 -2.3h1v1h-1zm-0.2 -2.6h1v1h-1zm22.6 2.6h1v1h-1zm-4.8 -3.9h1v1h-1zm2.9 -4.2h1v1h-1zm-5.4 7h1v1h-1zm3.9 1.8h1v1h-1zm-2.6 -2.1h1v1h-1zm0.6 2.4h1v1h-1zm3.6 2.1h1v1h-1zm1.9 -3.6h1v1h-1zm-1.7 -3.2h1v1h-1zm-5.9 0.6h1v1h-1zm5.4 2.4h1v1h-1zm-2 -0.6h1v1h-1zm-2.8 0.8h1v1h-1zm7.7 4.9h1v1h-1zm-6.3 -8.9h1v1h-1zm-0.2 4.5h1v1h-1zm4.1 -3.6h1v1h-1zm1.7 5.4h1v1h-1zm-5.4 -1.4h1v1h-1zm7.4 0.4h1v1h-1zm-7 -9.4h1v1h-1zm7.2 6.5h1v1h-1zm-10 1.7h1v1h-1zm4.2 2.1h1v1h-1zm-4.5 -3.5h1v1h-1zm0 2.7h1v1h-1zm3.7 1.4h1v1h-1zm-2.5 -3.5h1v1h-1zm7.1 0.8h1v1h-1zm-3.7 3.4h1v1h-1zm-4.2 0.4h1v1h-1zm8.7 -4.6h1v1h-1zm-6.6 0.7h1v1h-1zm-2.6 1.5h1v1h-1zm8.3 -3.6h1v1h-1zm-5.3 3.9h1v1h-1zm-2.2 -2.9h1v1h-1zm5.4 3.8h1v1h-1zm-4.1 -1.8h1v1h-1zm0.7 -6.7h1v1h-1zm2.5 3.4h1v1h-1zm-3.9 -3.3h1v1h-1zm6.7 3.1h1v1h-1zm-1.9 -4.4h1v1h-1zm-4.8 8.6h1v1h-1zm0.7 -3.1h1v1h-1zm4.4 0h1v1h-1zm2.8 3.5h1v1h-1zm-6.6 -5.3h1v1h-1zm6.5 -0.1h1v1h-1zm-6.8 3h1v1h-1zm2.9 -0.9h1v1h-1zm-3.5 0.9h1v1h-1zm4.6 -0.4h1v1h-1zm-0.5 2.4h1v1h-1zm-9.5 2.9h1v1h-1zm4.6 -1.7h1v1h-1zm1.4 1.9h1v1h-1zm-0.3 0.5h1v1h-1zm-6.3 -4.5h1v1h-1zm16.1 -0.1h1v1h-1zm-15 1h1v1h-1zm4.6 -7h1v1h-1zm14.2 1.8h1v1h-1zm-4.5 6.5h1v1h-1zm-4.7 -6h1v1h-1zm0.1 2.4h1v1h-1zm5.3 2h1v1h-1zm-2.2 0.9h1v1h-1zm-4 -6.5h1v1h-1zm-1 -3.1h1v1h-1zm4.1 -0.7h1v1h-1zm-3 16h1v1h-1zm-2.5 -12.2h1v1h-1zm9.2 7.5h1v1h-1zm0.3 -1.7h1v1h-1zm-4.9 -2.6h1v1h-1zm-12.4 -3.1h1v1h-1zm13.1 0.3h1v1h-1zm-2.2 3.5h1v1h-1zm4.9 4h1v1h-1zm-6.4 -3.5h1v1h-1zm3.2 -0.5h1v1h-1zm-5.3 1.9h1v1h-1zm-2.5 -2.4h1v1h-1zm17.3 2.1h1v1h-1zm-7 2.2h1v1h-1zm-4 -0.6h1v1h-1zm-5 -5h1v1h-1zm3.9 -4.6h1v1h-1zm6.3 8.3h1v1h-1zm-9.2 -8.4h1v1h-1zm2.6 10.8h1v1h-1zm0.8 -4h1v1h-1zm-8.3 4.1h1v1h-1zm7.4 -0.1h1v1h-1zm-5.3 -11.8h1v1h-1zm-0.3 -1.7h1v1h-1zm3.2 -31.8h1v1h-1zm-1.5 -0.3h1v1h-1zm3.8 -1h1v1h-1zm1.2 -0.2h1v1h-1zm-4.8 -0.6h1v1h-1zm-0.8 3.8h1v1h-1zm3.3 -3.5h1v1h-1zm-0.9 0.1h1v1h-1zm2.9 0.8h1v1h-1zm1.9 -1.4h1v1h-1zm-1.3 1.8h1v1h-1zm-5.8 -1.7h1v1h-1zm5.4 0.1h1v1h-1zm-6.1 0.7h1v1h-1zm0 -1.5h1v1h-1zm8.5 1.1h1v1h-1zm-3.8 0.3h1v1h-1zm-0.7 -0.1h1v1h-1zm1.3 0.3h1v1h-1zm2 0.4h1v1h-1zm-4 -2.8h1v1h-1zm4.5 2.5h1v1h-1zm3.4 -2.3h1v1h-1zm-8.3 2.8h1v1h-1zm1.1 -3.5h1v1h-1zm2.9 0.6h1v1h-1zm2.5 3.9h1v1h-1zm-3.8 -1h1v1h-1zm-0.4 -0.5h1v1h-1zm3.2 2.5h1v1h-1zm-4.8 -2.4h1v1h-1zm0.9 -2.3h1v1h-1zm-2.5 2.3h1v1h-1zm2.4 -1.9h1v1h-1zm4.5 0.1h1v1h-1zm-5.4 0.1h1v1h-1zm3.2 3.1h1v1h-1zm-3.8 -0.5h1v1h-1zm3.7 -1.2h1v1h-1zm-5.4 1.8h1v1h-1zm4.9 -1.3h1v1h-1zm0.5 -1.8h1v1h-1zm-8.4 1.8h1v1h-1zm4.9 0.9h1v1h-1zm-2.6 0.2h1v1h-1zm5.7 -1.8h1v1h-1zm3.5 0.1h1v1h-1zm-2.9 0h1v1h-1zm-1.2 1h1v1h-1zm1.8 -0.1h1v1h-1zm2.1 -2.1h1v1h-1zm-0.8 2.3h1v1h-1zm-5.4 0.4h1v1h-1zm0.4 -2.3h1v1h-1zm2.3 1.1h1v1h-1zm0.4 0.9h1v1h-1zm-1.5 -1h1v1h-1zm-0.8 0.1h1v1h-1zm0.4 2.2h1v1h-1zm3.3 -0.1h1v1h-1zm-0.7 -0.9h1v1h-1zm3.9 -2.2h1v1h-1zm-8.7 0.8h1v1h-1zm1.8 -0.4h1v1h-1zm-4.9 1.5h1v1h-1zm3.1 -1.4h1v1h-1zm4.4 -1.6h1v1h-1zm-1.6 0.9h1v1h-1zm-1.5 3.8h1v1h-1zm0.7 -4.5h1v1h-1zm0.3 -0.8h1v1h-1zm-4.3 25.5h1v1h-1zm4.7 -8.3h1v1h-1zm-3.6 -5.1h1v1h-1zm-5.3 -11.6h1v1h-1zm0.2 13h1v1h-1zm6.4 5.9h1v1h-1zm5.3 5.2h1v1h-1zm-2.2 2.4h1v1h-1zm1.4 -7.7h1v1h-1zm-6 -3.1h1v1h-1zm4.2 -9h1v1h-1zm-7.4 21h1v1h-1zm5 -16.7h1v1h-1zm-2.8 10.7h1v1h-1zm3.1 -1.5h1v1h-1zm2 3.5h1v1h-1zm0 -9.7h1v1h-1zm-7.8 0.4h1v1h-1zm1.6 8.5h1v1h-1zm4.3 -18.4h1v1h-1zm-1.7 2.2h1v1h-1zm-4.3 20.8h1v1h-1zm10 -11.6h1v1h-1zm-5.7 -12.7h1v1h-1zm-4.2 3.1h1v1h-1zm4.9 11.6h1v1h-1zm-0.7 -5.7h1v1h-1zm0.7 -9.8h1v1h-1zm3.2 10.5h1v1h-1zm-3.3 -7.2h1v1h-1zm5.9 -3.9h1v1h-1zm-3.5 2.4h1v1h-1zm-0.6 24.4h1v1h-1zm0.5 -19.2h1v1h-1zm-0.8 -6.3h1v1h-1zm6.3 -0.5h1v1h-1zm-12.7 -2.5h1v1h-1zm5.5 0.7h1v1h-1zm4.1 3.4h1v1h-1zm-1.3 -8h1v1h-1zm2.7 6.9h1v1h-1zm-13.1 -1.1h1v1h-1zm-7.7 15.5h1v1h-1zm1.5 -20.6h1v1h-1zm13.6 46.1h1v1h-1zm2.6 2.1h1v1h-1zm13.6 -2.3h1v1h-1zm-3.4 0.7h1v1h-1zm3.1 -1.9h1v1h-1z"/></g>
<line x1="57.80" y1="121.40" x2="57.80" y2="192.00" stroke="#a0a0a0" stroke-width="1.4"/>
<line x1="38.30" y1="167.90" x2="108.60" y2="167.90" stroke="#999" stroke-width="1.3"/>
<line x1="38.30" y1="121.40" x2="38.30" y2="192.00" stroke="#222" stroke-width="1.2"/>
<line x1="38.30" y1="192.00" x2="108.60" y2="192.00" stroke="#222" stroke-width="1.2"/>
<line x1="36.10" y1="121.40" x2="38.30" y2="121.40" stroke="#222" stroke-width="1"/>
<line x1="38.30" y1="192.00" x2="38.30" y2="194.20" stroke="#222" stroke-width="1"/>
<line x1="36.60" y1="186.69" x2="38.30" y2="186.69" stroke="#333" stroke-width="0.8"/>
<line x1="43.59" y1="192.00" x2="43.59" y2="193.70" stroke="#333" stroke-width="0.8"/>
<line x1="36.60" y1="183.58" x2="38.30" y2="183.58" stroke="#333" stroke-width="0.8"/>
<line x1="46.69" y1="192.00" x2="46.69" y2="193.70" stroke="#333" stroke-width="0.8"/>
<line x1="36.60" y1="181.37" x2="38.30" y2="181.37" stroke="#333" stroke-width="0.8"/>
<line x1="48.88" y1="192.00" x2="48.88" y2="193.70" stroke="#333" stroke-width="0.8"/>
<line x1="36.60" y1="179.66" x2="38.30" y2="179.66" stroke="#333" stroke-width="0.8"/>
<line x1="50.58" y1="192.00" x2="50.58" y2="193.70" stroke="#333" stroke-width="0.8"/>
<line x1="36.60" y1="178.27" x2="38.30" y2="178.27" stroke="#333" stroke-width="0.8"/>
<line x1="51.98" y1="192.00" x2="51.98" y2="193.70" stroke="#333" stroke-width="0.8"/>
<line x1="36.60" y1="177.08" x2="38.30" y2="177.08" stroke="#333" stroke-width="0.8"/>
<line x1="53.15" y1="192.00" x2="53.15" y2="193.70" stroke="#333" stroke-width="0.8"/>
<line x1="36.60" y1="176.06" x2="38.30" y2="176.06" stroke="#333" stroke-width="0.8"/>
<line x1="54.17" y1="192.00" x2="54.17" y2="193.70" stroke="#333" stroke-width="0.8"/>
<line x1="36.60" y1="175.16" x2="38.30" y2="175.16" stroke="#333" stroke-width="0.8"/>
<line x1="55.07" y1="192.00" x2="55.07" y2="193.70" stroke="#333" stroke-width="0.8"/>
<line x1="36.10" y1="139.05" x2="38.30" y2="139.05" stroke="#222" stroke-width="1"/>
<line x1="55.88" y1="192.00" x2="55.88" y2="194.20" stroke="#222" stroke-width="1"/>
<line x1="36.60" y1="169.04" x2="38.30" y2="169.04" stroke="#333" stroke-width="0.8"/>
<line x1="61.17" y1="192.00" x2="61.17" y2="193.70" stroke="#333" stroke-width="0.8"/>
<line x1="36.60" y1="165.93" x2="38.30" y2="165.93" stroke="#333" stroke-width="0.8"/>
<line x1="64.26" y1="192.00" x2="64.26" y2="193.70" stroke="#333" stroke-width="0.8"/>
<line x1="36.60" y1="163.72" x2="38.30" y2="163.72" stroke="#333" stroke-width="0.8"/>
<line x1="66.46" y1="192.00" x2="66.46" y2="193.70" stroke="#333" stroke-width="0.8"/>
<line x1="36.60" y1="162.01" x2="38.30" y2="162.01" stroke="#333" stroke-width="0.8"/>
<line x1="68.16" y1="192.00" x2="68.16" y2="193.70" stroke="#333" stroke-width="0.8"/>
<line x1="36.60" y1="160.62" x2="38.30" y2="160.62" stroke="#333" stroke-width="0.8"/>
<line x1="69.55" y1="192.00" x2="69.55" y2="193.70" stroke="#333" stroke-width="0.8"/>
<line x1="36.60" y1="159.43" x2="38.30" y2="159.43" stroke="#333" stroke-width="0.8"/>
<line x1="70.73" y1="192.00" x2="70.73" y2="193.70" stroke="#333" stroke-width="0.8"/>
<line x1="36.60" y1="158.41" x2="38.30" y2="158.41" stroke="#333" stroke-width="0.8"/>
<line x1="71.75" y1="192.00" x2="71.75" y2="193.70" stroke="#333" stroke-width="0.8"/>
<line x1="36.60" y1="157.51" x2="38.30" y2="157.51" stroke="#333" stroke-width="0.8"/>
<line x1="72.65" y1="192.00" x2="72.65" y2="193.70" stroke="#333" stroke-width="0.8"/>
<line x1="36.10" y1="156.70" x2="38.30" y2="156.70" stroke="#222" stroke-width="1"/>
<line x1="73.45" y1="192.00" x2="73.45" y2="194.20" stroke="#222" stroke-width="1"/>
<line x1="36.60" y1="151.39" x2="38.30" y2="151.39" stroke="#333" stroke-width="0.8"/>
<line x1="78.74" y1="192.00" x2="78.74" y2="193.70" stroke="#333" stroke-width="0.8"/>
<line x1="36.60" y1="148.28" x2="38.30" y2="148.28" stroke="#333" stroke-width="0.8"/>
<line x1="81.84" y1="192.00" x2="81.84" y2="193.70" stroke="#333" stroke-width="0.8"/>
<line x1="36.60" y1="146.07" x2="38.30" y2="146.07" stroke="#333" stroke-width="0.8"/>
<line x1="84.03" y1="192.00" x2="84.03" y2="193.70" stroke="#333" stroke-width="0.8"/>
<line x1="36.60" y1="144.36" x2="38.30" y2="144.36" stroke="#333" stroke-width="0.8"/>
<line x1="85.73" y1="192.00" x2="85.73" y2="193.70" stroke="#333" stroke-width="0.8"/>
<line x1="36.60" y1="142.97" x2="38.30" y2="142.97" stroke="#333" stroke-width="0.8"/>
<line x1="87.13" y1="192.00" x2="87.13" y2="193.70" stroke="#333" stroke-width="0.8"/>
<line x1="36.60" y1="141.78" x2="38.30" y2="141.78" stroke="#333" stroke-width="0.8"/>
<line x1="88.30" y1="192.00" x2="88.30" y2="193.70" stroke="#333" stroke-width="0.8"/>
<line x1="36.60" y1="140.76" x2="38.30" y2="140.76" stroke="#333" stroke-width="0.8"/>
<line x1="89.32" y1="192.00" x2="89.32" y2="193.70" stroke="#333" stroke-width="0.8"/>
<line x1="36.60" y1="139.86" x2="38.30" y2="139.86" stroke="#333" stroke-width="0.8"/>
<line x1="90.22" y1="192.00" x2="90.22" y2="193.70" stroke="#333" stroke-width="0.8"/>
<line x1="36.10" y1="174.35" x2="38.30" y2="174.35" stroke="#222" stroke-width="1"/>
<line x1="91.02" y1="192.00" x2="91.02" y2="194.20" stroke="#222" stroke-width="1"/>
<line x1="36.60" y1="133.74" x2="38.30" y2="133.74" stroke="#333" stroke-width="0.8"/>
<line x1="96.32" y1="192.00" x2="96.32" y2="193.70" stroke="#333" stroke-width="0.8"/>
<line x1="36.60" y1="130.63" x2="38.30" y2="130.63" stroke="#333" stroke-width="0.8"/>
<line x1="99.41" y1="192.00" x2="99.41" y2="193.70" stroke="#333" stroke-width="0.8"/>
<line x1="36.60" y1="128.42" x2="38.30" y2="128.42" stroke="#333" stroke-width="0.8"/>
<line x1="101.61" y1="192.00" x2="101.61" y2="193.70" stroke="#333" stroke-width="0.8"/>
<line x1="36.60" y1="126.71" x2="38.30" y2="126.71" stroke="#333" stroke-width="0.8"/>
<line x1="103.31" y1="192.00" x2="103.31" y2="193.70" stroke="#333" stroke-width="0.8"/>
<line x1="36.60" y1="125.32" x2="38.30" y2="125.32" stroke="#333" stroke-width="0.8"/>
<line x1="104.70" y1="192.00" x2="104.70" y2="193.70" stroke="#333" stroke-width="0.8"/>
<line x1="36.60" y1="124.13" x2="38.30" y2="124.13" stroke="#333" stroke-width="0.8"/>
<line x1="105.88" y1="192.00" x2="105.88" y2="193.70" stroke="#333" stroke-width="0.8"/>
<line x1="36.60" y1="123.11" x2="38.30" y2="123.11" stroke="#333" stroke-width="0.8"/>
<line x1="106.90" y1="192.00" x2="106.90" y2="193.70" stroke="#333" stroke-width="0.8"/>
<line x1="36.60" y1="122.21" x2="38.30" y2="122.21" stroke="#333" stroke-width="0.8"/>
<line x1="107.80" y1="192.00" x2="107.80" y2="193.70" stroke="#333" stroke-width="0.8"/>
<line x1="36.10" y1="192.00" x2="38.30" y2="192.00" stroke="#222" stroke-width="1"/>
<line x1="108.60" y1="192.00" x2="108.60" y2="194.20" stroke="#222" stroke-width="1"/>
<text x="42.09" y="134.72" font-size="9.60" font-family="Liberation Serif, serif" font-weight="normal" text-anchor="start" textLength="12.61" lengthAdjust="spacing" stroke="#000" stroke-width="0.22">0.3</text>

<text x="76.30" y="133.91" font-size="9.60" font-family="Liberation Serif, serif" font-weight="normal" text-anchor="start" textLength="27.67" lengthAdjust="spacing" stroke="#000" stroke-width="0.22">37.0%</text>

<text x="39.42" y="175.80" font-size="9.60" font-family="Liberation Serif, serif" font-weight="normal" text-anchor="start" textLength="17.56" lengthAdjust="spacing" stroke="#000" stroke-width="0.22">37.0</text>

<text x="81.35" y="176.63" font-size="9.60" font-family="Liberation Serif, serif" font-weight="normal" text-anchor="start" textLength="16.32" lengthAdjust="spacing" stroke="#000" stroke-width="0.22">25.7</text>

<g fill="#000" fill-opacity="0.36" filter="url(#bl)"><path d="M164.1 178.6h1v1h-1zm-10.5 6.8h1v1h-1zm5.7 0.4h1v1h-1zm0.3 -4.1h1v1h-1zm-2.4 -3.3h1v1h-1zm5 2.3h1v1h-1zm-7.2 3.7h1v1h-1zm4.1 -0.7h1v1h-1zm1.2 3.9h1v1h-1zm-4.4 -6.2h1v1h-1zm2.8 -2.8h1v1h-1zm-6.9 2.3h1v1h-1zm8.5 2.6h1v1h-1zm-6.5 -0.8h1v1h-1zm4.7 -0.2h1v1h-1zm-8.7 4h1v1h-1zm9.8 -1.5h1v1h-1zm-2.6 3.1h1v1h-1zm2.5 -5.3h1v1h-1zm-1.2 6h1v1h-1zm-2.6 -1.3h1v1h-1zm7.7 -0.5h1v1h-1zm-3.2 -2.7h1v1h-1zm-6.7 0.5h1v1h-1zm4.3 -5.7h1v1h-1zm4.5 7.7h1v1h-1zm0.9 -4.6h1v1h-1zm-5.8 -1.1h1v1h-1zm4 1.4h1v1h-1zm-8.5 -3.1h1v1h-1zm3.2 1.7h1v1h-1zm0.7 6.3h1v1h-1zm-0.8 -3.3h1v1h-1zm1.6 -1.5h1v1h-1zm1.1 -0.2h1v1h-1zm-3.5 -0.2h1v1h-1zm-0.3 3.4h1v1h-1zm2 -1.1h1v1h-1zm4.6 -2.1h1v1h-1zm-7 -3.4h1v1h-1zm-5.1 4.6h1v1h-1zm13.3 -0.8h1v1h-1zm-0.7 1h1v1h-1zm-3.7 0.9h1v1h-1zm-1.1 -0.3h1v1h-1zm2.5 -2.7h1v1h-1zm-3.9 3.9h1v1h-1zm2.8 -4.9h1v1h-1zm1.8 0.7h1v1h-1zm-1.9 -2.2h1v1h-1zm-6.4 2.5h1v1h-1zm2.5 1.2h1v1h-1zm8 -2.6h1v1h-1zm-4 0.8h1v1h-1zm-3.1 5.3h1v1h-1zm-3.2 -4.6h1v1h-1zm7.8 2.7h1v1h-1zm-4.4 -1.5h1v1h-1zm5 0.2h1v1h-1zm-2.8 0h1v1h-1zm-4.4 -4.8h1v1h-1zm0.7 6.6h1v1h-1zm3.6 1.2h1v1h-1zm-2.3 -10.8h1v1h-1zm5.6 5.9h1v1h-1zm-5.9 6.1h1v1h-1zm-0.2 -1.3h1v1h-1zm2.8 -3.2h1v1h-1zm0 -4.4h1v1h-1zm-5.4 7h1v1h-1zm2.1 -5.8h1v1h-1zm9.2 4.7h1v1h-1zm-6.6 -0.8h1v1h-1zm5 -0.2h1v1h-1zm-7.5 3.2h1v1h-1zm3.4 -3.9h1v1h-1zm-1.8 -2.5h1v1h-1zm5.5 1h1v1h-1zm-3 3h1v1h-1zm3.4 0.7h1v1h-1zm-6.1 -1.8h1v1h-1zm2.8 2.9h1v1h-1zm-2.5 -5h1v1h-1zm-2.9 6h1v1h-1zm6.2 3.2h1v1h-1zm-0.3 -9.6h1v1h-1zm6.3 -0.2h1v1h-1zm-5.3 6.2h1v1h-1zm-6.6 -10h1v1h-1zm4.6 5.7h1v1h-1zm0.1 -5h1v1h-1zm-2.9 7.3h1v1h-1zm2.9 -0.5h1v1h-1zm-9.5 -2.5h1v1h-1zm7.4 5.3h1v1h-1zm-4.5 -6.4h1v1h-1zm-0.4 1.1h1v1h-1zm7.7 1.7h1v1h-1zm-5.1 0.6h1v1h-1zm8.1 3.1h1v1h-1zm1.1 -4.4h1v1h-1zm4.7 -5.5h1v1h-1zm-12.3 6.2h1v1h-1zm1.8 -3.5h1v1h-1zm-7.6 3.6h1v1h-1zm12.5 -4.1h1v1h-1zm-0.5 3.8h1v1h-1zm-11.5 2.6h1v1h-1zm12.4 -0.1h1v1h-1zm2.2 -2.5h1v1h-1zm-12.3 3.5h1v1h-1zm-0.5 -1.9h1v1h-1zm11.5 -4.7h1v1h-1zm-15 0.6h1v1h-1zm13.1 2.3h1v1h-1zm9 -4.8h1v1h-1zm-19.8 5.8h1v1h-1zm-3.1 2.7h1v1h-1zm18 -2.6h1v1h-1zm-13 -1.4h1v1h-1zm2.6 2.6h1v1h-1zm-3 -2.8h1v1h-1zm12.1 -0.1h1v1h-1zm-7.6 -2.9h1v1h-1zm5.1 -2.9h1v1h-1zm-5.4 9.1h1v1h-1zm-6.5 -6.1h1v1h-1zm0.4 7.7h1v1h-1zm14.7 -2.5h1v1h-1zm-10.1 -5.9h1v1h-1zm4 -2.1h1v1h-1zm12.8 4.6h1v1h-1zm6.6 1.6h1v1h-1zm-6.8 -1h1v1h-1zm4.7 -0.1h1v1h-1zm0.6 -3.7h1v1h-1zm-0.7 3.8h1v1h-1zm3.3 0.1h1v1h-1zm-2.2 0h1v1h-1zm2.4 2.9h1v1h-1zm-4.8 -2.7h1v1h-1zm3.7 5.8h1v1h-1zm0.5 -6.4h1v1h-1zm-1.7 -2.1h1v1h-1zm-1.2 4.5h1v1h-1zm4.4 -1.3h1v1h-1zm-2.5 0.2h1v1h-1zm0.4 -0.8h1v1h-1zm0.7 -6.6h1v1h-1zm-0.8 6.3h1v1h-1zm-2.2 -2.8h1v1h-1zm0.1 5.6h1v1h-1zm8.8 -4.9h1v1h-1zm-6.9 4.9h1v1h-1zm-1.1 -6h1v1h-1zm-2.6 2.7h1v1h-1zm0.1 1.3h1v1h-1zm1.5 0h1v1h-1zm0.9 -1.6h1v1h-1zm-6.5 3h1v1h-1zm9.5 -2.9h1v1h-1zm-2.9 2.8h1v1h-1zm-1 -4.6h1v1h-1zm3.1 1.2h1v1h-1zm-1.7 1.6h1v1h-1zm-3.1 -1h1v1h-1zm-0.1 0.9h1v1h-1zm3.2 1h1v1h-1zm1.4 -6.4h1v1h-1zm-4 8.2h1v1h-1zm-0.8 -3.2h1v1h-1zm7.4 4h1v1h-1zm-6.8 -5.4h1v1h-1zm-2.8 3.5h1v1h-1zm7.5 -0.2h1v1h-1zm5.7 -5.1h1v1h-1zm-8 5.7h1v1h-1zm3 -3.4h1v1h-1zm-4 3.2h1v1h-1zm4 -1.1h1v1h-1zm-4 -6.8h1v1h-1zm-1.9 5.9h1v1h-1zm-4 -1.1h1v1h-1zm2 1.1h1v1h-1zm4.6 -1.5h1v1h-1zm3.2 1.3h1v1h-1zm-5.2 -0.5h1v1h-1zm3.2 0.4h1v1h-1zm-3.6 0.5h1v1h-1zm5.9 -1.9h1v1h-1zm-2.1 2.2h1v1h-1zm-2.3 3.7h1v1h-1zm-4.9 -4.9h1v1h-1zm4.4 -3.3h1v1h-1zm3.2 4.4h1v1h-1zm-5.6 -1.6h1v1h-1zm3.2 -2.2h1v1h-1zm-0.4 2.9h1v1h-1zm0.7 3.4h1v1h-1zm-1.4 -2.1h1v1h-1zm-2.6 3.8h1v1h-1zm4.6 -3.6h1v1h-1zm-4.3 -4.2h1v1h-1zm4.1 -1.1h1v1h-1zm1.7 5h1v1h-1zm-2.8 6.7h1v1h-1zm7.1 -11.8h1v1h-1zm-4.5 2.5h1v1h-1zm-3.3 1.7h1v1h-1zm7.1 -3.1h1v1h-1zm0 1.5h1v1h-1zm-7.3 1.8h1v1h-1zm1 -5.6h1v1h-1zm0.1 0.7h1v1h-1zm3 3.4h1v1h-1zm1.3 3.7h1v1h-1zm3.5 -8.3h1v1h-1zm-14 4.4h1v1h-1zm14.8 8.4h1v1h-1zm-20.5 -6.6h1v1h-1zm11.7 8.2h1v1h-1zm3.3 -10.9h1v1h-1zm-5.7 1.3h1v1h-1zm8.2 6.2h1v1h-1zm-2.9 -0.9h1v1h-1zm6.3 -0.5h1v1h-1zm-11.2 -5.5h1v1h-1zm3.4 7.9h1v1h-1zm-2.7 -3.6h1v1h-1zm-7.9 0.8h1v1h-1zm8.1 -9h1v1h-1zm11.7 12h1v1h-1zm-3.4 -3.4h1v1h-1zm0.8 1.8h1v1h-1zm-0.3 -8.4h1v1h-1zm2 10h1v1h-1zm-9.1 0.4h1v1h-1zm-6.1 -8.4h1v1h-1zm2.8 -6.5h1v1h-1zm-6.5 12.3h1v1h-1zm6.4 -1.5h1v1h-1zm7.1 5.2h1v1h-1zm-2.3 -10.5h1v1h-1zm0.2 2.3h1v1h-1zm5.3 1.5h1v1h-1zm-12.4 3.4h1v1h-1zm3.1 -4.9h1v1h-1zm-1.5 -1.3h1v1h-1zm9.1 -6.6h1v1h-1zm-10.3 9.4h1v1h-1zm9.6 2.5h1v1h-1zm-2.5 4.1h1v1h-1zm-10.9 -12.4h1v1h-1zm11.1 13h1v1h-1zm2.1 -8.6h1v1h-1zm-3.7 2.6h1v1h-1zm-3.5 5.7h1v1h-1zm1.8 -50.2h1v1h-1zm-1.7 -0.2h1v1h-1zm-0.6 -0.2h1v1h-1zm2.4 -2h1v1h-1zm-5.3 4.4h1v1h-1zm6.2 -2.7h1v1h-1zm-1.4 2.6h1v1h-1zm4.3 -5h1v1h-1zm0.5 2.2h1v1h-1zm-3.1 1.6h1v1h-1zm-0.4 -0.1h1v1h-1zm-2.4 -0.7h1v1h-1zm1.9 -1.2h1v1h-1zm-3.5 0.9h1v1h-1zm-0.3 0.3h1v1h-1zm3.7 0.2h1v1h-1zm0.7 -0.1h1v1h-1zm-4.4 -0.6h1v1h-1zm2.1 -1.8h1v1h-1zm0.8 4.7h1v1h-1zm-2 -4.2h1v1h-1zm0.6 -0.1h1v1h-1zm2.7 2h1v1h-1zm-1.4 -0.1h1v1h-1zm-0.1 -2.2h1v1h-1zm0 2.7h1v1h-1zm-2.4 -0.1h1v1h-1zm2.3 0.5h1v1h-1zm0.5 1.8h1v1h-1zm-1.1 -2.1h1v1h-1zm2.6 2.2h1v1h-1zm-1.9 -3h1v1h-1zm3.6 1.2h1v1h-1zm-6.1 -2.6h1v1h-1zm-1.4 3.3h1v1h-1zm6.1 -0.6h1v1h-1zm-2.6 -1.3h1v1h-1zm0.1 -1.3h1v1h-1zm-0.9 1.1h1v1h-1zm2 -1.3h1v1h-1zm2.4 2.3h1v1h-1zm-3.4 -2.1h1v1h-1zm0.1 0.9h1v1h-1zm-0.4 -0.5h1v1h-1zm1.1 -0.2h1v1h-1zm-1.7 1.1h1v1h-1zm0.4 0.1h1v1h-1zm-0.4 -0.9h1v1h-1zm2.7 0.6h1v1h-1zm-0.8 2.2h1v1h-1zm2.2 -2.2h1v1h-1zm-2.8 0.3h1v1h-1zm-5.1 -2.2h1v1h-1zm3.8 3.2h1v1h-1zm1.7 -1h1v1h-1zm-4.2 0.4h1v1h-1zm2.1 0.5h1v1h-1zm2.6 -0.4h1v1h-1zm-2.6 -0.6h1v1h-1zm2.2 -2.2h1v1h-1zm0.1 1.9h1v1h-1zm-3.3 0.4h1v1h-1zm2.6 0.9h1v1h-1zm2.7 -2.4h1v1h-1zm-3.2 1.5h1v1h-1zm4.9 -0.8h1v1h-1zm-6.1 -0.2h1v1h-1zm-1.3 1.7h1v1h-1zm7.2 -0.9h1v1h-1zm-5.6 0.5h1v1h-1zm-0.9 -1.4h1v1h-1zm3.5 1.2h1v1h-1zm-4 -1h1v1h-1zm-2.9 -0.6h1v1h-1zm3.2 2.5h1v1h-1zm4.2 0.7h1v1h-1zm3.1 -3.3h1v1h-1zm-2.7 1.1h1v1h-1zm-3.9 1.4h1v1h-1zm4.2 0.7h1v1h-1zm-2.2 -1.7h1v1h-1zm2.2 9.2h1v1h-1zm-3.3 -0.1h1v1h-1zm3 -4.6h1v1h-1zm-5.5 12.5h1v1h-1zm9 2.3h1v1h-1zm-10.7 -4.1h1v1h-1zm5.3 -7.6h1v1h-1zm-3.1 12.4h1v1h-1zm6.8 1.6h1v1h-1zm-3.8 -8.6h1v1h-1zm1.2 -2.3h1v1h-1zm-0.6 -11.5h1v1h-1zm-2 8.6h1v1h-1zm-0.1 17.9h1v1h-1zm4.1 -5.3h1v1h-1zm-0.6 -18.8h1v1h-1zm-1.7 13.2h1v1h-1zm0.8 -9.4h1v1h-1zm-1 8.2h1v1h-1zm1.3 -0.3h1v1h-1zm-2.3 -12.2h1v1h-1zm1.3 22.5h1v1h-1zm0 -8.7h1v1h-1zm-3 -14.6h1v1h-1zm-1.7 20.2h1v1h-1zm2.4 -1.6h1v1h-1zm0.6 -11.5h1v1h-1zm-2.7 20.2h1v1h-1zm1.6 -19.4h1v1h-1zm-2.2 -0.5h1v1h-1zm3.6 8.8h1v1h-1zm2.8 5.1h1v1h-1zm-1 -9.9h1v1h-1zm0.1 -11.6h1v1h-1zm-0.8 23h1v1h-1zm1.4 -9h1v1h-1zm-1.9 -8.4h1v1h-1zm3.6 10.1h1v1h-1zm-7.4 -15.2h1v1h-1zm-2.7 4.1h1v1h-1zm0.8 -7.2h1v1h-1zm5.8 9.4h1v1h-1zm-2.6 -7.4h1v1h-1zm5.1 5.9h1v1h-1zm-0.9 -2.3h1v1h-1zm4 1.5h1v1h-1zm-15.2 9.2h1v1h-1zm-2 8.5h1v1h-1zm-3.5 -25.1h1v1h-1zm34.6 46h1v1h-1zm-10.8 -11h1v1h-1zm0.6 3.8h1v1h-1zm19.8 3.6h1v1h-1zm-30 1.2h1v1h-1zm23.3 -2.4h1v1h-1zm6.9 10h1v1h-1z"/><path d="M165.2 180.7h1v1h-1zm-3.2 2.8h1v1h-1zm-3.5 3.2h1v1h-1zm3.9 -6.5h1v1h-1zm-4.9 3.6h1v1h-1zm-0.5 -1.1h1v1h-1zm-3 3.3h1v1h-1zm5 -2h1v1h-1zm-0.6 0.5h1v1h-1zm3.4 0.5h1v1h-1zm-8.9 1h1v1h-1zm6.2 -2.8h1v1h-1zm3.1 -1h1v1h-1zm-7.9 -1.4h1v1h-1zm2 -1.3h1v1h-1zm0.9 4.9h1v1h-1zm-2.2 -1.8h1v1h-1zm6.9 -1.8h1v1h-1zm-5.7 -0.1h1v1h-1zm4.9 4.6h1v1h-1zm-0.7 -2.7h1v1h-1zm-6.2 0.7h1v1h-1zm4 1h1v1h-1zm-2.6 -2.9h1v1h-1zm-1.8 0.9h1v1h-1zm8.3 0h1v1h-1zm-5.3 5.2h1v1h-1zm1.1 -1.8h1v1h-1zm-1.9 -4.5h1v1h-1zm1.2 3.5h1v1h-1zm-5.1 -1.3h1v1h-1zm2.4 0.9h1v1h-1zm0.9 -1.6h1v1h-1zm1.6 2h1v1h-1zm-6.5 -2.7h1v1h-1zm6.1 1h1v1h-1zm6.2 -1.8h1v1h-1zm-9.4 7h1v1h-1zm5.9 -4.2h1v1h-1zm-1.8 3h1v1h-1zm-1.5 -3.9h1v1h-1zm-0.4 -0.6h1v1h-1zm-0.4 -1.6h1v1h-1zm10 0.3h1v1h-1zm-14 -2.5h1v1h-1zm10 4.4h1v1h-1zm-5.3 0.8h1v1h-1zm3 -0.7h1v1h-1zm-8.2 -1.7h1v1h-1zm4.8 2.6h1v1h-1zm0.2 -2h1v1h-1zm4.6 1.6h1v1h-1zm-1 -4.1h1v1h-1zm-6.3 0.9h1v1h-1zm7 5.6h1v1h-1zm-4.6 -5.6h1v1h-1zm4.8 0.8h1v1h-1zm-3.8 -2.3h1v1h-1zm1.5 6.8h1v1h-1zm1.2 -1.9h1v1h-1zm1.2 5.1h1v1h-1zm-3 -7.2h1v1h-1zm8 4.5h1v1h-1zm-3.7 -1.7h1v1h-1zm1.7 -4.6h1v1h-1zm-10.4 2.1h1v1h-1zm5 -0.5h1v1h-1zm-1.8 2.6h1v1h-1zm-4.3 -3.8h1v1h-1zm7 -2.7h1v1h-1zm5.7 9.4h1v1h-1zm-0.5 -4.9h1v1h-1zm-10.6 -1.2h1v1h-1zm1.1 0.9h1v1h-1zm4.1 1.3h1v1h-1zm-0.9 6.4h1v1h-1zm-4 -2.5h1v1h-1zm-1 -6.6h1v1h-1zm13.1 1.5h1v1h-1zm-6.1 1.7h1v1h-1zm0.8 -2.2h1v1h-1zm-4.4 -3.1h1v1h-1zm1 4.3h1v1h-1zm5.6 -0.7h1v1h-1zm-4.2 2.1h1v1h-1zm-1.4 -1.8h1v1h-1zm4.8 0.2h1v1h-1zm-8.7 4.8h1v1h-1zm7.6 -0.2h1v1h-1zm-5.8 -3.9h1v1h-1zm3.1 0.2h1v1h-1zm-5.8 0.5h1v1h-1zm4.1 -1h1v1h-1zm1.5 0.2h1v1h-1zm5 -0.6h1v1h-1zm-2.1 -2.3h1v1h-1zm-7.3 2.4h1v1h-1zm0.4 0.3h1v1h-1zm2.7 -1.2h1v1h-1zm-2.9 5h1v1h-1zm8.1 -4.2h1v1h-1zm-0.3 -1h1v1h-1zm-0.9 2.8h1v1h-1zm-4.2 0h1v1h-1zm-0.3 -4.6h1v1h-1zm10.4 3.7h1v1h-1zm-10.9 3.3h1v1h-1zm4.3 0h1v1h-1zm-9.1 -1.8h1v1h-1zm4.7 0h1v1h-1zm8 -0.1h1v1h-1zm-11 1.2h1v1h-1zm-4.7 -3.5h1v1h-1zm3.4 -0.2h1v1h-1zm0.8 2.4h1v1h-1zm2.6 -6.7h1v1h-1zm4.4 3.9h1v1h-1zm-4.9 -1.3h1v1h-1zm4.3 -5.5h1v1h-1zm-5.8 6.4h1v1h-1zm-2.7 -2.3h1v1h-1zm-2.4 -1.4h1v1h-1zm10.9 3.8h1v1h-1zm2.2 1.8h1v1h-1zm-4.4 -5h1v1h-1zm0.6 4.1h1v1h-1zm1 0.1h1v1h-1zm-5.9 -1.9h1v1h-1zm8 0.2h1v1h-1zm0.6 8.2h1v1h-1zm-9.5 -5.4h1v1h-1zm2.4 -4.5h1v1h-1zm3 3.4h1v1h-1zm0.1 2.6h1v1h-1zm7 2.7h1v1h-1zm-4.5 -9.4h1v1h-1zm2.3 4.7h1v1h-1zm2 -3.1h1v1h-1zm-13.5 2.3h1v1h-1zm4.7 -4.7h1v1h-1zm4.6 0.1h1v1h-1zm6.2 -2.4h1v1h-1zm-0.4 7.7h1v1h-1zm-10.7 -6.3h1v1h-1zm3.1 11.5h1v1h-1zm-2.1 -9h1v1h-1zm3.9 4.9h1v1h-1zm-2.9 5.3h1v1h-1zm-9.1 0.1h1v1h-1zm17 -8.5h1v1h-1zm-17.4 0h1v1h-1zm12.8 2.8h1v1h-1zm3.7 -1.2h1v1h-1zm-15.5 -3.8h1v1h-1zm5.6 9h1v1h-1zm0.7 -7.9h1v1h-1zm8.7 -5.6h1v1h-1zm-0.1 16h1v1h-1zm-4.4 -7.9h1v1h-1zm-1 7.1h1v1h-1zm3.3 -8.6h1v1h-1zm-9 5.8h1v1h-1zm5.2 -5.7h1v1h-1zm10.8 7.5h1v1h-1zm-12.3 -7.1h1v1h-1zm21.9 -2h1v1h-1zm3.9 -2.5h1v1h-1zm-7.1 4.3h1v1h-1zm0 1.2h1v1h-1zm4.2 -4.1h1v1h-1zm0.9 4.6h1v1h-1zm0.5 -2.4h1v1h-1zm-4.2 3h1v1h-1zm-2 -3.6h1v1h-1zm-1.6 -4.2h1v1h-1zm4.4 5h1v1h-1zm2.4 0.1h1v1h-1zm5.1 2.8h1v1h-1zm-8.7 -1.9h1v1h-1zm-2.3 0.6h1v1h-1zm5.2 -3.6h1v1h-1zm-4.7 5.1h1v1h-1zm2 -4h1v1h-1zm5.6 2.6h1v1h-1zm-2.2 -2.2h1v1h-1zm0.5 1.4h1v1h-1zm3 -0.9h1v1h-1zm-4.7 1.8h1v1h-1zm1.5 -2.6h1v1h-1zm3 0.5h1v1h-1zm-6.3 2.9h1v1h-1zm0.8 -2.9h1v1h-1zm5.3 5.2h1v1h-1zm-7.6 -0.8h1v1h-1zm1.8 -4.1h1v1h-1zm2.8 -0.8h1v1h-1zm0 0.2h1v1h-1zm-10.8 -1.1h1v1h-1zm7.1 4.7h1v1h-1zm4.3 -1.1h1v1h-1zm-2.2 0.9h1v1h-1zm1.1 1.2h1v1h-1zm-2.7 -3.2h1v1h-1zm-7 2.4h1v1h-1zm14.4 -3.7h1v1h-1zm-6.7 -1.6h1v1h-1zm1.1 -0.3h1v1h-1zm-3.5 8.9h1v1h-1zm7.7 1.1h1v1h-1zm-4 -6.3h1v1h-1zm-2.8 -4.7h1v1h-1zm-0.1 6.7h1v1h-1zm8.6 -3.9h1v1h-1zm-6.1 1.6h1v1h-1zm4.6 -1.2h1v1h-1zm-6.6 -4.9h1v1h-1zm1 5.5h1v1h-1zm5.1 2.1h1v1h-1zm-3.3 -0.5h1v1h-1zm1.4 -7.7h1v1h-1zm1.5 7.6h1v1h-1zm-4.9 -4.9h1v1h-1zm5.7 4.8h1v1h-1zm1.8 -0.8h1v1h-1zm-6.9 7.1h1v1h-1zm-2.1 -0.7h1v1h-1zm1.5 -9.3h1v1h-1zm1.4 4h1v1h-1zm-2.4 2.2h1v1h-1zm9.7 -5.8h1v1h-1zm-12.2 2.3h1v1h-1zm5.2 -4.4h1v1h-1zm-5.9 0.4h1v1h-1zm7.7 7.2h1v1h-1zm-4.6 -0.5h1v1h-1zm-1.6 -2.2h1v1h-1zm4.1 0.3h1v1h-1zm1.6 -0.6h1v1h-1zm-2 5.6h1v1h-1zm-0.4 -6.2h1v1h-1zm3.9 -3.3h1v1h-1zm-4.7 4.4h1v1h-1zm0.4 0h1v1h-1zm3.7 -4.5h1v1h-1zm-6.6 4h1v1h-1zm3.4 1.2h1v1h-1zm3.7 4.4h1v1h-1zm-3.1 -14.8h1v1h-1zm-11 6.9h1v1h-1zm12.9 2.7h1v1h-1zm-4.9 3.7h1v1h-1zm-0.5 -1.9h1v1h-1zm8.3 6.4h1v1h-1zm-4.9 -6h1v1h-1zm-10.1 3.4h1v1h-1zm8.5 -4.5h1v1h-1zm7.4 -3.3h1v1h-1zm0 2.2h1v1h-1zm2.6 -2.1h1v1h-1zm3.4 -3.3h1v1h-1zm-9 1.7h1v1h-1zm-11.6 4.6h1v1h-1zm5.3 1.8h1v1h-1zm0.8 -8.2h1v1h-1zm7.7 5.5h1v1h-1zm-13.2 5.6h1v1h-1zm10.2 -6.1h1v1h-1zm1.5 -1.4h1v1h-1zm-4.3 -1.6h1v1h-1zm-0.2 1.5h1v1h-1zm0.5 2.2h1v1h-1zm-4.5 -7.4h1v1h-1zm10.3 1.5h1v1h-1zm-1.3 11.5h1v1h-1zm-8.5 -0.5h1v1h-1zm6.3 -7.2h1v1h-1zm-1.7 -0.3h1v1h-1zm1.7 4.7h1v1h-1zm-4.1 -3.1h1v1h-1zm-1 -0.7h1v1h-1zm-7 0.2h1v1h-1zm24.9 0.4h1v1h-1zm-15.7 -0.4h1v1h-1zm6 7.3h1v1h-1zm-8.1 -13.5h1v1h-1zm4.8 2.5h1v1h-1zm0.4 3.9h1v1h-1zm2.8 1.9h1v1h-1zm-7.6 -7.4h1v1h-1zm5.5 11.3h1v1h-1zm0.1 -6.9h1v1h-1zm5.4 -8.8h1v1h-1zm-9.5 12.3h1v1h-1zm-8.8 3.2h1v1h-1zm4.7 -6.1h1v1h-1zm-0.3 6.6h1v1h-1zm6.5 -4.5h1v1h-1zm0.5 -40.3h1v1h-1zm-4.6 -2.3h1v1h-1zm1.4 -1.2h1v1h-1zm-1.7 -1.2h1v1h-1zm1.4 -0.1h1v1h-1zm-1.6 0.3h1v1h-1zm3.4 -0.6h1v1h-1zm0.9 1.2h1v1h-1zm-5.9 2.4h1v1h-1zm2 -2.4h1v1h-1zm-2.4 0.3h1v1h-1zm4.6 -0.1h1v1h-1zm-1.5 1.8h1v1h-1zm1.3 -4.3h1v1h-1zm0.7 2.8h1v1h-1zm1.4 -1.4h1v1h-1zm-1.9 -0.3h1v1h-1zm-2.1 2.2h1v1h-1zm2 -0.5h1v1h-1zm0 -3.6h1v1h-1zm0.8 1.4h1v1h-1zm-4.6 0.6h1v1h-1zm3.2 1.2h1v1h-1zm0.6 -0.1h1v1h-1zm2.7 2.3h1v1h-1zm-2.8 1.4h1v1h-1zm1.8 -4.2h1v1h-1zm-6.9 1.7h1v1h-1zm5.3 1.4h1v1h-1zm-2.2 -2.7h1v1h-1zm-0.3 2.3h1v1h-1zm-0.3 -1.7h1v1h-1zm-3.3 0.4h1v1h-1zm6.4 -0.1h1v1h-1zm-2.3 -0.9h1v1h-1zm3.9 0.8h1v1h-1zm-1.7 1.9h1v1h-1zm1.3 -0.7h1v1h-1zm-3.7 -0.3h1v1h-1zm5.1 -1.5h1v1h-1zm-2 -1h1v1h-1zm-0.4 3.6h1v1h-1zm-6.9 -4.3h1v1h-1zm4.1 2.7h1v1h-1zm-2.8 -1.3h1v1h-1zm4.6 -0.2h1v1h-1zm-2.7 0.8h1v1h-1zm2.8 -1.8h1v1h-1zm0.4 0.9h1v1h-1zm1.4 1.9h1v1h-1zm-4 -1h1v1h-1zm3.2 0.4h1v1h-1zm-2.1 0.2h1v1h-1zm3.1 1.4h1v1h-1zm-0.5 -1h1v1h-1zm-0.2 0.1h1v1h-1zm0.4 -1.1h1v1h-1zm-2.8 -0.4h1v1h-1zm-0.8 -0.8h1v1h-1zm2.9 0.7h1v1h-1zm-4.2 0.1h1v1h-1zm-0.6 -0.7h1v1h-1zm3.2 5.3h1v1h-1zm0.3 11h1v1h-1zm-4.7 -0.1h1v1h-1zm4.7 -10.5h1v1h-1zm-3.7 5.5h1v1h-1zm8 -0.9h1v1h-1zm-6.4 6.5h1v1h-1zm-3.8 -3.7h1v1h-1zm11.2 15.2h1v1h-1zm-7.4 -18.1h1v1h-1zm6.2 1.1h1v1h-1zm-3.8 6.1h1v1h-1zm1.1 4.7h1v1h-1zm-1.5 -16h1v1h-1zm-4.3 16.7h1v1h-1zm3.5 -12.4h1v1h-1zm0.4 -0.8h1v1h-1zm-1 21.4h1v1h-1zm-2.6 1.5h1v1h-1zm3.7 -11.9h1v1h-1zm-2.8 -12.9h1v1h-1zm6.8 14.9h1v1h-1zm-3.1 0.4h1v1h-1zm-4.6 1.2h1v1h-1zm4.8 -16.2h1v1h-1zm-1.7 7.3h1v1h-1zm0.4 8.2h1v1h-1zm3.9 -16.6h1v1h-1zm0 12h1v1h-1zm-3.4 -11.2h1v1h-1zm-3.5 -1.5h1v1h-1zm0.7 2.6h1v1h-1zm-1.5 4h1v1h-1zm7.7 5.7h1v1h-1zm-7.8 -9.6h1v1h-1zm4.1 3.3h1v1h-1zm-3.5 1.5h1v1h-1zm8.4 -2.2h1v1h-1zm-8.4 8.1h1v1h-1zm7.4 5h1v1h-1zm-3.7 2.2h1v1h-1zm-0.1 -7.3h1v1h-1zm1.5 -18h1v1h-1zm-7.6 -2.3h1v1h-1zm9.2 4.5h1v1h-1zm7.1 2.2h1v1h-1zm-10 4.4h1v1h-1zm4.3 -6.9h1v1h-1zm-5.4 0.9h1v1h-1zm-10.1 23.3h1v1h-1zm-2.6 -12.5h1v1h-1z"/><path d="M158.5 184.6h1v1h-1zm-6.3 -2.1h1v1h-1zm7.4 0.3h1v1h-1zm-1.9 -1h1v1h-1zm-1 3.7h1v1h-1zm-0.2 1.6h1v1h-1zm-7 -3.7h1v1h-1zm3 6.5h1v1h-1zm3 -6.2h1v1h-1zm0.4 -4.8h1v1h-1zm-6 3.2h1v1h-1zm3.6 1.3h1v1h-1zm4.2 -2.5h1v1h-1zm-3.4 6.6h1v1h-1zm2.2 -5h1v1h-1zm-3 -4.1h1v1h-1zm4.2 0.9h1v1h-1zm-2.6 7.2h1v1h-1zm4.1 -1.1h1v1h-1zm2.6 -0.3h1v1h-1zm-5.1 -2.3h1v1h-1zm-2.7 -3.5h1v1h-1zm1.8 3.1h1v1h-1zm6 0.9h1v1h-1zm-3.5 -4.3h1v1h-1zm-6.3 9h1v1h-1zm3.4 -3.6h1v1h-1zm-7.4 0.6h1v1h-1zm8.7 -3.6h1v1h-1zm-1.4 -1.8h1v1h-1zm-3.6 5.8h1v1h-1zm2.3 -1.5h1v1h-1zm-0.1 -2.8h1v1h-1zm-2 3.1h1v1h-1zm7.9 0.4h1v1h-1zm-3.5 -1h1v1h-1zm3.9 1.9h1v1h-1zm0.3 -3.7h1v1h-1zm-7.8 0.7h1v1h-1zm4.7 0.6h1v1h-1zm-2 0.5h1v1h-1zm-1 -4.8h1v1h-1zm4.2 4.3h1v1h-1zm-2.2 -2h1v1h-1zm9.8 0.8h1v1h-1zm-3.9 -3.1h1v1h-1zm-6.1 4.3h1v1h-1zm0.1 -2.2h1v1h-1zm-2.9 0.8h1v1h-1zm3.2 -3.8h1v1h-1zm-1.2 -0.2h1v1h-1zm-4 8.9h1v1h-1zm8.7 -5.7h1v1h-1zm4.2 2.9h1v1h-1zm-6.4 1h1v1h-1zm0.7 -5.3h1v1h-1zm2.9 3.2h1v1h-1zm-6.8 1.4h1v1h-1zm1.4 -1h1v1h-1zm5.5 -1h1v1h-1zm-1.4 1.5h1v1h-1zm-5.7 -1.3h1v1h-1zm0.7 1.3h1v1h-1zm-0.8 -1.7h1v1h-1zm5.4 1.8h1v1h-1zm2.5 -1.5h1v1h-1zm-8.2 0.7h1v1h-1zm9.6 -0.8h1v1h-1zm-9.4 2.8h1v1h-1zm5 -2.5h1v1h-1zm-2.1 -2.1h1v1h-1zm1.6 6.9h1v1h-1zm0.9 -6.9h1v1h-1zm-0.8 4.8h1v1h-1zm-2.1 -5.5h1v1h-1zm-2.1 1.4h1v1h-1zm3.2 8.1h1v1h-1zm-0.8 -10.5h1v1h-1zm0.5 1.6h1v1h-1zm-3 1.5h1v1h-1zm6.6 -2.9h1v1h-1zm-7 4.3h1v1h-1zm0.9 -1h1v1h-1zm-1.1 1.4h1v1h-1zm4.9 1.4h1v1h-1zm2.3 -3.4h1v1h-1zm-1.8 2.2h1v1h-1zm4.9 -4.3h1v1h-1zm-8.9 -2h1v1h-1zm-6.5 6.4h1v1h-1zm8 -3.7h1v1h-1zm4.1 -0.4h1v1h-1zm-8.2 8.3h1v1h-1zm2.9 -10.9h1v1h-1zm-0.3 -2.6h1v1h-1zm-2.9 6.4h1v1h-1zm7.1 4.8h1v1h-1zm-2 -6.7h1v1h-1zm-1 2.1h1v1h-1zm0.9 3.1h1v1h-1zm9.6 -4.2h1v1h-1zm-2.5 2.1h1v1h-1zm-9.8 1.9h1v1h-1zm-2.5 1h1v1h-1zm0.8 -0.2h1v1h-1zm-5.3 5.8h1v1h-1zm6.6 -15.3h1v1h-1zm0.1 6.3h1v1h-1zm-2.3 -0.9h1v1h-1zm5.9 -0.2h1v1h-1zm0.5 -1.8h1v1h-1zm-5.2 6.6h1v1h-1zm2.8 -3.3h1v1h-1zm-0.4 -3.7h1v1h-1zm1.1 11.5h1v1h-1zm-3.6 -3.6h1v1h-1zm1.5 -8h1v1h-1zm7.4 8.7h1v1h-1zm-10.8 -4.3h1v1h-1zm-1.4 1.4h1v1h-1zm4.8 -6.8h1v1h-1zm-3.7 7.6h1v1h-1zm3.2 -1.4h1v1h-1zm4.1 -4.1h1v1h-1zm-7.2 2h1v1h-1zm0.8 4.5h1v1h-1zm0.3 -3.9h1v1h-1zm11.5 2h1v1h-1zm-7.6 -0.3h1v1h-1zm4.8 -3.7h1v1h-1zm-4.7 4.9h1v1h-1zm-3.5 3.8h1v1h-1zm22.6 -4.3h1v1h-1zm-2.1 -2h1v1h-1zm6.8 2.3h1v1h-1zm-1.5 -5h1v1h-1zm-3.4 4.5h1v1h-1zm5.1 -1.1h1v1h-1zm-7.6 -2.8h1v1h-1zm12.8 3.2h1v1h-1zm-5.3 1.3h1v1h-1zm-5.4 -5.7h1v1h-1zm1.6 0.1h1v1h-1zm3.7 4.4h1v1h-1zm-3.1 1.1h1v1h-1zm4.7 -1.5h1v1h-1zm-5.2 -3h1v1h-1zm-3.8 2h1v1h-1zm6.4 -5.5h1v1h-1zm4 8.7h1v1h-1zm-3.7 -1.2h1v1h-1zm2.4 -3.8h1v1h-1zm-6.3 -0.1h1v1h-1zm-1.9 -0.6h1v1h-1zm3.8 -0.6h1v1h-1zm-0.8 -1h1v1h-1zm-3.6 3.3h1v1h-1zm0.1 3.7h1v1h-1zm6.3 -1.6h1v1h-1zm1.3 -1.2h1v1h-1zm1.6 -0.3h1v1h-1zm-2.1 3.9h1v1h-1zm-5.3 -4.1h1v1h-1zm-1.3 -0.1h1v1h-1zm1.8 -0.3h1v1h-1zm0 -0.7h1v1h-1zm2.8 1.8h1v1h-1zm-3 -0.6h1v1h-1zm4.9 -0.2h1v1h-1zm-5.8 -0.8h1v1h-1zm-1.5 -1h1v1h-1zm7.7 3.3h1v1h-1zm-6.7 3.1h1v1h-1zm9 -6.4h1v1h-1zm-3.4 6.1h1v1h-1zm-6.3 -5.7h1v1h-1zm-2.1 1h1v1h-1zm12.7 1.4h1v1h-1zm-9.9 3h1v1h-1zm3.3 -3h1v1h-1zm6.7 3.1h1v1h-1zm-10.1 -3.5h1v1h-1zm6.7 3.9h1v1h-1zm-5.3 -4.1h1v1h-1zm1 1.4h1v1h-1zm1.1 1.5h1v1h-1zm0.8 -3.3h1v1h-1zm-3.9 0.2h1v1h-1zm4.4 -1.4h1v1h-1zm4.3 0.5h1v1h-1zm-0.5 1.7h1v1h-1zm-4 4.7h1v1h-1zm-3.7 -2.1h1v1h-1zm5.9 -5.1h1v1h-1zm-8.9 1.8h1v1h-1zm2.1 -3.1h1v1h-1zm3 5.6h1v1h-1zm-3.9 -4h1v1h-1zm0.6 1.9h1v1h-1zm5 -1.6h1v1h-1zm0.6 8.5h1v1h-1zm-1.2 -12.2h1v1h-1zm2.1 -1h1v1h-1zm-3.2 7.4h1v1h-1zm4 6.9h1v1h-1zm-6.5 -4.4h1v1h-1zm4.3 -2h1v1h-1zm-7.5 -2.2h1v1h-1zm4 1.9h1v1h-1zm1.3 1.5h1v1h-1zm-3.3 3.8h1v1h-1zm-0.2 -4.3h1v1h-1zm-5.1 -7.8h1v1h-1zm12.9 11.7h1v1h-1zm4.1 -8h1v1h-1zm-4.6 -1.6h1v1h-1zm-5.9 5.6h1v1h-1zm-5.2 -1.5h1v1h-1zm-1.6 -2.3h1v1h-1zm15.5 5.4h1v1h-1zm-3.4 -2.2h1v1h-1zm-8.5 -1.1h1v1h-1zm4 2.3h1v1h-1zm5.5 -4.4h1v1h-1zm-4.7 6.8h1v1h-1zm0.1 -8h1v1h-1zm6.6 0.8h1v1h-1zm-11.4 3.8h1v1h-1zm8.1 -0.2h1v1h-1zm-11.3 -4.3h1v1h-1zm6.3 -4h1v1h-1zm-4.7 0.1h1v1h-1zm2.8 10h1v1h-1zm10.8 -1h1v1h-1zm-3.7 -7.3h1v1h-1zm1.7 3.3h1v1h-1zm1.8 -0.1h1v1h-1zm-11.4 -4h1v1h-1zm0.7 5.1h1v1h-1zm0.3 -4.3h1v1h-1zm8.1 2.4h1v1h-1zm5.1 3.8h1v1h-1zm-8.8 -8h1v1h-1zm7.4 5.8h1v1h-1zm-8.2 -3.6h1v1h-1zm-8.3 2.2h1v1h-1zm7.6 -1.9h1v1h-1zm8.8 6.9h1v1h-1zm1.7 -1h1v1h-1zm-14.2 -1.2h1v1h-1zm-7.1 -1.4h1v1h-1zm18.9 8.4h1v1h-1zm-11.3 -5h1v1h-1zm5.1 -4.5h1v1h-1zm-2.8 5.3h1v1h-1zm3.4 -5h1v1h-1zm0.7 -42.4h1v1h-1zm-3.6 0.3h1v1h-1zm-1.7 3.6h1v1h-1zm1.6 -2h1v1h-1zm2.2 -0.3h1v1h-1zm-0.8 1.9h1v1h-1zm1 -0.4h1v1h-1zm-5.7 -1.7h1v1h-1zm3.8 0.8h1v1h-1zm-2.8 -0.7h1v1h-1zm-0.3 0.9h1v1h-1zm-2.1 0.5h1v1h-1zm3.7 -1.1h1v1h-1zm-0.7 1.3h1v1h-1zm3.4 -3.2h1v1h-1zm-1.4 -0.2h1v1h-1zm-0.1 2.8h1v1h-1zm-1.6 -0.6h1v1h-1zm0.4 -1.2h1v1h-1zm1.9 -1.8h1v1h-1zm-1.6 1.8h1v1h-1zm2.3 -1.4h1v1h-1zm1.6 5.6h1v1h-1zm-3.9 -5.8h1v1h-1zm-0.7 2.7h1v1h-1zm-2 -1.3h1v1h-1zm3.5 0.6h1v1h-1zm-1.3 0.1h1v1h-1zm1.2 0.1h1v1h-1zm1.7 -0.9h1v1h-1zm-0.5 -2.4h1v1h-1zm-0.8 4.9h1v1h-1zm-1.3 -2.7h1v1h-1zm3.1 1.5h1v1h-1zm1.8 -0.4h1v1h-1zm-2.5 1.7h1v1h-1zm-0.7 -3.3h1v1h-1zm1.3 2.6h1v1h-1zm-5.9 -2.9h1v1h-1zm3.8 1.9h1v1h-1zm-2.2 1.3h1v1h-1zm0.6 -1.4h1v1h-1zm3 0.1h1v1h-1zm-4.9 -0.2h1v1h-1zm2.8 0.8h1v1h-1zm0.6 -1h1v1h-1zm2.6 -0.1h1v1h-1zm-2.1 -2.4h1v1h-1zm1.3 0.7h1v1h-1zm-2.1 1.5h1v1h-1zm0 0.2h1v1h-1zm4.3 -0.4h1v1h-1zm-3.6 0.8h1v1h-1zm-3.5 -3h1v1h-1zm1.9 4.7h1v1h-1zm2.6 -3.2h1v1h-1zm1.1 3.1h1v1h-1zm-4.4 0.3h1v1h-1zm2.8 -3.1h1v1h-1zm-1 3.3h1v1h-1zm-4.1 -2.7h1v1h-1zm7.1 0.8h1v1h-1zm-7.3 -2h1v1h-1zm5.2 2h1v1h-1zm0.3 1.5h1v1h-1zm2 -3.3h1v1h-1zm0.9 2.9h1v1h-1zm-0.8 -1.7h1v1h-1zm-3 0.7h1v1h-1zm0.8 -1.2h1v1h-1zm-2.1 1.7h1v1h-1zm4.7 10.4h1v1h-1zm-2.6 5.6h1v1h-1zm-1.9 0h1v1h-1zm0.9 12.9h1v1h-1zm2.4 -15.8h1v1h-1zm-2.4 -2.7h1v1h-1zm3.7 3.2h1v1h-1zm-0.9 -2.7h1v1h-1zm-5.2 2h1v1h-1zm2.1 9.4h1v1h-1zm-1 -17.8h1v1h-1zm3 -0.3h1v1h-1zm-7.3 3.2h1v1h-1zm2.4 7.7h1v1h-1zm9.6 5h1v1h-1zm-5.8 -2.9h1v1h-1zm0.4 2.5h1v1h-1zm-4.5 -3.5h1v1h-1zm3.8 -1.3h1v1h-1zm1 0.7h1v1h-1zm1.2 -17.5h1v1h-1zm0.8 15.7h1v1h-1zm-4.7 -13.3h1v1h-1zm-2.7 8.1h1v1h-1zm4.3 5.9h1v1h-1zm-4.6 3.7h1v1h-1zm-2.7 -4.9h1v1h-1zm4.9 2.4h1v1h-1zm-0.4 1.6h1v1h-1zm5.6 -5.7h1v1h-1zm-9.8 -15.2h1v1h-1zm3.5 5.2h1v1h-1zm-9.2 0.8h1v1h-1zm22.8 -1.7h1v1h-1zm-25.6 -10.5h1v1h-1zm0.7 12.5h1v1h-1zm5.9 2.4h1v1h-1zm34.3 42.4h1v1h-1z"/><path d="M155.3 181.6h1v1h-1zm-1.9 -1.9h1v1h-1zm4 -0.6h1v1h-1zm-2.5 0.6h1v1h-1zm2.3 4h1v1h-1zm-0.9 -0.9h1v1h-1zm2.1 0.3h1v1h-1zm-2.4 0h1v1h-1zm3.9 -2.1h1v1h-1zm-0.8 3.3h1v1h-1zm-5.1 -1.4h1v1h-1zm5.9 0.2h1v1h-1zm-1.8 -1.6h1v1h-1zm1.6 1.6h1v1h-1zm-4.7 0h1v1h-1zm-1.7 1.7h1v1h-1zm6.5 1.9h1v1h-1zm-3 -7.2h1v1h-1zm0.7 5.4h1v1h-1zm4.7 1.8h1v1h-1zm-7.6 -3.9h1v1h-1zm3.3 1.2h1v1h-1zm-4.9 -0.2h1v1h-1zm4.8 -0.5h1v1h-1zm-3 4.3h1v1h-1zm0.9 -4.6h1v1h-1zm-0.8 1.5h1v1h-1zm0.1 -1.2h1v1h-1zm-0.6 -2.2h1v1h-1zm5.2 2.6h1v1h-1zm1.4 -0.9h1v1h-1zm-6.4 4.3h1v1h-1zm0.8 -3.5h1v1h-1zm2.3 0.3h1v1h-1zm6.6 0.7h1v1h-1zm-4.4 -2.7h1v1h-1zm-3.9 -1.3h1v1h-1zm7.6 1.2h1v1h-1zm-4.2 1.7h1v1h-1zm-7.5 -1.7h1v1h-1zm3.4 -0.4h1v1h-1zm1.1 -0.4h1v1h-1zm3 1.5h1v1h-1zm-4.5 -1.7h1v1h-1zm4 -0.5h1v1h-1zm0.1 2.8h1v1h-1zm-2.1 -0.7h1v1h-1zm0.1 -0.4h1v1h-1zm-2.4 2.4h1v1h-1zm-0.8 -5.7h1v1h-1zm-0.4 2.3h1v1h-1zm8.5 -2.2h1v1h-1zm-1.5 5.1h1v1h-1zm3.8 0h1v1h-1zm-9.5 0h1v1h-1zm6.2 -1.7h1v1h-1zm-2.2 -0.7h1v1h-1zm0.1 0.4h1v1h-1zm-1.6 2.7h1v1h-1zm0.8 -1.2h1v1h-1zm-2.5 3h1v1h-1zm-2.3 -3.5h1v1h-1zm-1.4 2.1h1v1h-1zm7.8 -8.8h1v1h-1zm2.3 5.9h1v1h-1zm-7.3 -1.2h1v1h-1zm-0.1 -1h1v1h-1zm1.5 -1.3h1v1h-1zm2.7 5.7h1v1h-1zm0.4 1.2h1v1h-1zm0.3 -6.3h1v1h-1zm-1.8 2.1h1v1h-1zm3.3 5h1v1h-1zm-5.3 -4.2h1v1h-1zm2 -0.8h1v1h-1zm-1 -0.9h1v1h-1zm4.6 -0.1h1v1h-1zm-8 5.9h1v1h-1zm2.6 -1.4h1v1h-1zm-4.3 -1.2h1v1h-1zm11.4 0.3h1v1h-1zm-6.2 -1.3h1v1h-1zm10.6 1.8h1v1h-1zm-15.4 3.5h1v1h-1zm-0.1 -2.5h1v1h-1zm7.4 -4.9h1v1h-1zm2.7 -0.6h1v1h-1zm-7 0.2h1v1h-1zm-0.3 0.2h1v1h-1zm0.8 -0.6h1v1h-1zm3.9 -2.4h1v1h-1zm1.5 12.8h1v1h-1zm-7.2 -4.7h1v1h-1zm0.9 -2.2h1v1h-1zm1.7 1h1v1h-1zm0.9 -2.6h1v1h-1zm-0.9 4h1v1h-1zm4.5 0.4h1v1h-1zm7 -0.9h1v1h-1zm-12.7 -3h1v1h-1zm6.4 2.9h1v1h-1zm0.6 -6h1v1h-1zm-5.1 3h1v1h-1zm-5 1h1v1h-1zm7.9 -1.4h1v1h-1zm-2.1 4.2h1v1h-1zm7 -1.9h1v1h-1zm-10 -3.6h1v1h-1zm3.8 0.7h1v1h-1zm3.2 3.5h1v1h-1zm-3.1 0h1v1h-1zm1.4 1.8h1v1h-1zm-1.1 -7.7h1v1h-1zm-3.6 9.6h1v1h-1zm12.1 -4.3h1v1h-1zm-7.6 -0.9h1v1h-1zm-4.9 3.1h1v1h-1zm-0.1 -2.1h1v1h-1zm0.5 2.7h1v1h-1zm3.6 1.7h1v1h-1zm-10.7 -8.4h1v1h-1zm10 3.1h1v1h-1zm-4.8 -3h1v1h-1zm0.3 3.4h1v1h-1zm5.4 -3.2h1v1h-1zm3.1 2.3h1v1h-1zm-7.8 -8.4h1v1h-1zm4.3 8.6h1v1h-1zm24 -4.5h1v1h-1zm-7 4h1v1h-1zm1.7 0.6h1v1h-1zm-3 1.4h1v1h-1zm8.7 -0.5h1v1h-1zm-6.2 -0.7h1v1h-1zm-4.8 4h1v1h-1zm2.6 -5.9h1v1h-1zm2.5 3.8h1v1h-1zm-6.9 -3.3h1v1h-1zm7.4 6.4h1v1h-1zm-2.8 -5.8h1v1h-1zm0 0.4h1v1h-1zm7.4 1.5h1v1h-1zm-1.7 -2.9h1v1h-1zm3.8 3.7h1v1h-1zm-8.6 -5.1h1v1h-1zm-0.3 1.3h1v1h-1zm2.5 4.3h1v1h-1zm2.5 -3.5h1v1h-1zm-2.5 2.7h1v1h-1zm-1.4 0.8h1v1h-1zm4.7 -5.4h1v1h-1zm-8.4 0.6h1v1h-1zm6.4 3.4h1v1h-1zm-0.5 -6.3h1v1h-1zm1.5 2.6h1v1h-1zm-2.9 7.3h1v1h-1zm-5.4 -4.2h1v1h-1zm9.2 -0.3h1v1h-1zm0.5 1.5h1v1h-1zm-1.9 -3.3h1v1h-1zm-9.4 -2.3h1v1h-1zm5.3 5.3h1v1h-1zm5.1 -1h1v1h-1zm-2.6 0.3h1v1h-1zm-1.3 -2h1v1h-1zm-6.7 -4.4h1v1h-1zm4.2 9h1v1h-1zm3.8 -5.8h1v1h-1zm-4 -0.8h1v1h-1zm1.1 2.7h1v1h-1zm2.4 0.6h1v1h-1zm-0.5 -2.2h1v1h-1zm1.2 2.8h1v1h-1zm-6.1 -7h1v1h-1zm-0.3 -1.2h1v1h-1zm6.4 8.7h1v1h-1zm-7.3 -2.9h1v1h-1zm5.9 2.8h1v1h-1zm-1.8 -3.7h1v1h-1zm3.3 -1.6h1v1h-1zm1.8 2.1h1v1h-1zm-4 -0.1h1v1h-1zm2 4.6h1v1h-1zm-4.5 -6.5h1v1h-1zm5.8 -0.1h1v1h-1zm-7.4 6.3h1v1h-1zm5 -2.6h1v1h-1zm-4.3 -3h1v1h-1zm1.8 6h1v1h-1zm3.2 -0.5h1v1h-1zm0.9 -3.6h1v1h-1zm-3.4 4.3h1v1h-1zm-7.1 -4.6h1v1h-1zm10.5 2.7h1v1h-1zm-3.5 -1.8h1v1h-1zm-3.2 -2.4h1v1h-1zm5.2 7.9h1v1h-1zm-0.9 -4.9h1v1h-1zm1.8 0.4h1v1h-1zm4.2 -5.7h1v1h-1zm-4.9 4.2h1v1h-1zm-4.5 0.1h1v1h-1zm-0.8 1.6h1v1h-1zm8.3 -2.1h1v1h-1zm-6.5 3h1v1h-1zm6.3 -0.8h1v1h-1zm-8.5 -1.6h1v1h-1zm-2.2 -5.7h1v1h-1zm8.5 12.1h1v1h-1zm-1.1 0.2h1v1h-1zm3.2 -8.6h1v1h-1zm6.5 1.3h1v1h-1zm-0.9 -3.8h1v1h-1zm-4.9 5.7h1v1h-1zm-6.9 4.4h1v1h-1zm4 -8.2h1v1h-1zm-5.1 10.6h1v1h-1zm-1.7 -3.6h1v1h-1zm12.5 -2.7h1v1h-1zm-15.6 -4.5h1v1h-1zm9.2 7.1h1v1h-1zm-6.5 -4.9h1v1h-1zm2.9 -1.5h1v1h-1zm2.5 6.3h1v1h-1zm-6.8 -0.6h1v1h-1zm16.5 -3.5h1v1h-1zm-9.7 -1.4h1v1h-1zm-2.4 -4.9h1v1h-1zm-1.2 1.7h1v1h-1zm0.7 -0.3h1v1h-1zm4.1 1h1v1h-1zm-8.6 9.7h1v1h-1zm8.7 -6h1v1h-1zm-2.3 6.1h1v1h-1zm2.3 -4.8h1v1h-1zm2.1 -4.4h1v1h-1zm-0.7 0.4h1v1h-1zm0.2 0.3h1v1h-1zm-6.2 5.3h1v1h-1zm7.5 -6.7h1v1h-1zm-8.7 -2.8h1v1h-1zm1 -0.2h1v1h-1zm-1.7 12h1v1h-1zm14.2 0.5h1v1h-1zm-5.3 -0.4h1v1h-1zm-6.9 -6.9h1v1h-1zm1.2 3h1v1h-1zm6.4 4.3h1v1h-1zm-9.9 -1.3h1v1h-1zm-1.8 -4.7h1v1h-1zm13.4 8.1h1v1h-1zm-5.1 -7.7h1v1h-1zm-7.2 0.2h1v1h-1zm-0.1 1.2h1v1h-1zm4.4 -9.6h1v1h-1zm-0.9 14.3h1v1h-1zm9.5 -6h1v1h-1zm-8.2 2.3h1v1h-1zm5.8 -0.6h1v1h-1zm1.7 5.5h1v1h-1zm-2.9 -10.5h1v1h-1zm-3.9 8.2h1v1h-1zm1 -14.7h1v1h-1zm8.4 12.1h1v1h-1zm-1.4 -1.1h1v1h-1zm-6.4 0.9h1v1h-1zm-0.9 -2.2h1v1h-1zm6.8 6.1h1v1h-1zm-8.8 -50.3h1v1h-1zm-0.1 2.1h1v1h-1zm1.8 -0.8h1v1h-1zm-0.6 2.3h1v1h-1zm-0.4 -3.5h1v1h-1zm1.2 3.9h1v1h-1zm0.6 -3.2h1v1h-1zm0.3 1.8h1v1h-1zm-1.6 -2.4h1v1h-1zm-1.9 -1.2h1v1h-1zm1.5 1.9h1v1h-1zm-2.1 1.6h1v1h-1zm3.2 -0.6h1v1h-1zm-2.6 1.3h1v1h-1zm4.3 -3.3h1v1h-1zm-0.8 4h1v1h-1zm-6.4 -0.9h1v1h-1zm6.5 -0.1h1v1h-1zm3.1 -2.6h1v1h-1zm-2.3 2.6h1v1h-1zm-1.6 1.6h1v1h-1zm-3.5 -5.3h1v1h-1zm1.7 1.2h1v1h-1zm-1 0.9h1v1h-1zm1 -0.4h1v1h-1zm-1.4 -0.3h1v1h-1zm3.5 -0.8h1v1h-1zm-2.8 1.4h1v1h-1zm-2.8 0.4h1v1h-1zm8.2 -0.7h1v1h-1zm-6.5 0.6h1v1h-1zm0.2 0.1h1v1h-1zm-0.2 0h1v1h-1zm4.4 1h1v1h-1zm-3 0.8h1v1h-1zm1.7 1.3h1v1h-1zm1.3 -1h1v1h-1zm-1.7 -1h1v1h-1zm2.6 -1h1v1h-1zm-2.9 0h1v1h-1zm-0.7 0.3h1v1h-1zm-1 -0.5h1v1h-1zm1.4 -2.1h1v1h-1zm3.2 2.5h1v1h-1zm-1.8 -0.2h1v1h-1zm-2.9 2h1v1h-1zm3.2 -3.3h1v1h-1zm-1.3 1.2h1v1h-1zm-1.6 -0.1h1v1h-1zm4.3 2.8h1v1h-1zm-5 -3h1v1h-1zm2.2 0.3h1v1h-1zm0.1 0.3h1v1h-1zm-5 0.2h1v1h-1zm1.5 -1.6h1v1h-1zm5.1 2.2h1v1h-1zm-0.1 -1.9h1v1h-1zm-1.5 2.9h1v1h-1zm-1.6 0.6h1v1h-1zm-1.7 -4.3h1v1h-1zm3.9 4.1h1v1h-1zm-1.8 -3.5h1v1h-1zm6.6 1.6h1v1h-1zm-6.3 -2.5h1v1h-1zm-2.5 0.1h1v1h-1zm4.8 1.5h1v1h-1zm-1.7 2h1v1h-1zm-0.4 -0.5h1v1h-1zm-0.3 0.7h1v1h-1zm0.6 -2.1h1v1h-1zm-1.3 -1.1h1v1h-1zm2.2 -0.2h1v1h-1zm-2.2 2.4h1v1h-1zm0.7 -0.1h1v1h-1zm3.1 -1.4h1v1h-1zm-5 3.1h1v1h-1zm0 9h1v1h-1zm0 -0.8h1v1h-1zm0.8 9.1h1v1h-1zm1.4 -7h1v1h-1zm-0.7 -2.3h1v1h-1zm-1.8 4.3h1v1h-1zm4 -1.3h1v1h-1zm-7.4 7.3h1v1h-1zm12.8 -20.6h1v1h-1zm-5.2 12.5h1v1h-1zm-4.1 3.4h1v1h-1zm2.6 5.8h1v1h-1zm-0.9 -14.1h1v1h-1zm-0.7 -4.8h1v1h-1zm0.7 10.8h1v1h-1zm1.4 4.6h1v1h-1zm2.2 3.1h1v1h-1zm-3.2 -21.4h1v1h-1zm-1.5 -8h1v1h-1zm2.6 23.2h1v1h-1zm-1.2 -4.6h1v1h-1zm-0.4 4.8h1v1h-1zm-0.7 -7.5h1v1h-1zm2.4 12.2h1v1h-1zm4.2 -3.2h1v1h-1zm-1.8 -2h1v1h-1zm-0.3 0.1h1v1h-1zm-3.9 -9.1h1v1h-1zm3.8 15.1h1v1h-1zm-5.7 -3.9h1v1h-1zm2.7 15.7h1v1h-1zm0.2 -18.8h1v1h-1zm2.3 1.5h1v1h-1zm-1.2 -10.4h1v1h-1zm-1.6 9.1h1v1h-1zm3.5 -12h1v1h-1zm-1.7 18.3h1v1h-1zm-3.2 1.7h1v1h-1zm0.7 -11.8h1v1h-1zm-1 -5.5h1v1h-1zm2.8 5.9h1v1h-1zm-1.2 -11.9h1v1h-1zm-1.1 15.3h1v1h-1zm-0.7 -12.2h1v1h-1zm9.1 3.5h1v1h-1zm2.2 -4.1h1v1h-1zm-8.1 2.7h1v1h-1zm1.3 -4.3h1v1h-1zm2.8 6.1h1v1h-1zm1.1 -4.7h1v1h-1zm-19 19.9h1v1h-1z"/><path d="M155.4 183.1h1v1h-1zm4.5 -1.9h1v1h-1zm-4.5 6.2h1v1h-1zm-0.4 -5h1v1h-1zm0.1 -0.6h1v1h-1zm2.9 4h1v1h-1zm3.4 -4.2h1v1h-1zm-3.5 2h1v1h-1zm3.1 0.7h1v1h-1zm1 -5.2h1v1h-1zm-9.1 2.6h1v1h-1zm6.2 4.5h1v1h-1zm-2.1 -2.8h1v1h-1zm0 -0.6h1v1h-1zm2.4 0.1h1v1h-1zm-3 -3.1h1v1h-1zm-5 -1.6h1v1h-1zm3.3 7.2h1v1h-1zm13.3 -2.8h1v1h-1zm-14.2 0.9h1v1h-1zm7.2 4h1v1h-1zm-4.7 -4h1v1h-1zm0.2 0.3h1v1h-1zm-3.3 -2.1h1v1h-1zm3.9 1.9h1v1h-1zm8.8 -2.5h1v1h-1zm-7.3 2.3h1v1h-1zm4.3 3.1h1v1h-1zm-5.4 -6.3h1v1h-1zm1.4 3.3h1v1h-1zm1.6 0.6h1v1h-1zm-11.8 -8.3h1v1h-1zm8.5 3.9h1v1h-1zm0.9 1.5h1v1h-1zm-1.7 3.5h1v1h-1zm6.8 -1.3h1v1h-1zm-7 -1.2h1v1h-1zm1 -1.2h1v1h-1zm1.6 0.4h1v1h-1zm1.3 1h1v1h-1zm-7.1 -1.2h1v1h-1zm5.4 -0.4h1v1h-1zm-2.1 2h1v1h-1zm5 -0.7h1v1h-1zm-4.5 2.3h1v1h-1zm4.9 -1.5h1v1h-1zm-6 -2.6h1v1h-1zm2.8 2.3h1v1h-1zm-1.2 0.1h1v1h-1zm-2.5 -0.1h1v1h-1zm0.5 3.2h1v1h-1zm3.3 -5h1v1h-1zm-3.2 3.5h1v1h-1zm3.3 -5.9h1v1h-1zm-1.6 4.5h1v1h-1zm2.3 4.1h1v1h-1zm0.7 -2.3h1v1h-1zm-5.7 -6.3h1v1h-1zm-3.4 6.4h1v1h-1zm-0.7 -5.6h1v1h-1zm8.7 0.6h1v1h-1zm-2.3 3h1v1h-1zm4 -0.1h1v1h-1zm-7.9 -4.3h1v1h-1zm5.5 4.3h1v1h-1zm-0.4 -3.3h1v1h-1zm-0.7 0.9h1v1h-1zm4.9 -0.2h1v1h-1zm-12.1 5.9h1v1h-1zm3.9 -1h1v1h-1zm8 -4.6h1v1h-1zm-4.2 0.2h1v1h-1zm-1.3 5.6h1v1h-1zm0.7 -4.1h1v1h-1zm-0.6 0.8h1v1h-1zm-1.7 -1.1h1v1h-1zm7.1 2.3h1v1h-1zm-7 0.6h1v1h-1zm1.4 -0.9h1v1h-1zm0.9 0.5h1v1h-1zm-3.1 -4.6h1v1h-1zm-3.4 7.2h1v1h-1zm3.5 -0.9h1v1h-1zm-1.5 -4.3h1v1h-1zm5 1h1v1h-1zm2.5 4h1v1h-1zm-5.3 -2.3h1v1h-1zm-0.7 3.9h1v1h-1zm6.9 -5.6h1v1h-1zm-9.7 1.8h1v1h-1zm0.9 -4.5h1v1h-1zm5.3 1.9h1v1h-1zm-0.8 -5.8h1v1h-1zm3.7 3.6h1v1h-1zm-7.2 1.5h1v1h-1zm2.9 -1.1h1v1h-1zm4.3 1.7h1v1h-1zm3.6 -3.2h1v1h-1zm-13.7 6.9h1v1h-1zm6 -9.2h1v1h-1zm0 5.8h1v1h-1zm-9.7 -2.8h1v1h-1zm5.8 7.6h1v1h-1zm10.7 -1h1v1h-1zm2.9 -1.8h1v1h-1zm-12.8 3h1v1h-1zm9 0.3h1v1h-1zm-11.4 -1.8h1v1h-1zm20.2 -7.5h1v1h-1zm-21.6 8.7h1v1h-1zm12.5 -5.7h1v1h-1zm-3.1 9.2h1v1h-1zm3.6 0.3h1v1h-1zm3.5 -1.8h1v1h-1zm-5 -6.3h1v1h-1zm-7.9 -6h1v1h-1zm-1.5 8h1v1h-1zm4.6 3.7h1v1h-1zm-5.2 -4.7h1v1h-1zm17.9 -8.9h1v1h-1zm-15.1 3.2h1v1h-1zm1.5 2.6h1v1h-1zm6.8 -2h1v1h-1zm-4.5 1.3h1v1h-1zm-9.7 1.9h1v1h-1zm12.5 6.9h1v1h-1zm-7 -5.5h1v1h-1zm3.1 -2.8h1v1h-1zm3.7 4.9h1v1h-1zm4.9 -0.4h1v1h-1zm-14 2.8h1v1h-1zm-0.1 -5.7h1v1h-1zm9.4 5.3h1v1h-1zm-9.9 -10.3h1v1h-1zm7.5 5h1v1h-1zm4.2 1.7h1v1h-1zm-1.3 0h1v1h-1zm4.2 1.9h1v1h-1zm-9.5 -3.8h1v1h-1zm-6.2 -2h1v1h-1zm9.2 6.3h1v1h-1zm5.6 -1h1v1h-1zm-0.2 0.7h1v1h-1zm0.6 -5.2h1v1h-1zm-0.8 -3.5h1v1h-1zm-5.3 4.6h1v1h-1zm-6.2 0.5h1v1h-1zm10.3 -3.1h1v1h-1zm-7.4 2.3h1v1h-1zm8.3 2.4h1v1h-1zm-7.3 0h1v1h-1zm21 -4.6h1v1h-1zm1.6 1.5h1v1h-1zm-0.9 0.8h1v1h-1zm-6.2 -2.1h1v1h-1zm9.7 6.8h1v1h-1zm-3.6 -3.5h1v1h-1zm-3.3 0.3h1v1h-1zm2.7 -2.1h1v1h-1zm-2.8 -1.6h1v1h-1zm-6.8 -0.1h1v1h-1zm11.1 1.1h1v1h-1zm-3.2 3.6h1v1h-1zm3.9 -3.3h1v1h-1zm-3.1 1.6h1v1h-1zm4.2 0.1h1v1h-1zm2.5 -3.1h1v1h-1zm-11.1 2.5h1v1h-1zm3.9 -2.8h1v1h-1zm5.3 1h1v1h-1zm-4.7 2.5h1v1h-1zm-2.8 1.9h1v1h-1zm6.5 -6.5h1v1h-1zm-1.9 1h1v1h-1zm2 1.3h1v1h-1zm-0.3 3.9h1v1h-1zm-8.4 2.9h1v1h-1zm2.4 -8.3h1v1h-1zm-0.6 4.7h1v1h-1zm12.6 2.8h1v1h-1zm-12.1 -6h1v1h-1zm5.5 1.3h1v1h-1zm-1.3 -0.9h1v1h-1zm0.4 6.2h1v1h-1zm-0.6 -1.3h1v1h-1zm-0.6 -6h1v1h-1zm6.7 3.2h1v1h-1zm-7.3 2.1h1v1h-1zm-2.7 -7.2h1v1h-1zm5.7 3.6h1v1h-1zm-0.5 0.7h1v1h-1zm-1.5 3.9h1v1h-1zm-0.6 -6.9h1v1h-1zm0.5 1.7h1v1h-1zm7.3 5.3h1v1h-1zm-6.7 -1h1v1h-1zm-3.7 -4.7h1v1h-1zm-1.3 5.2h1v1h-1zm6 -3h1v1h-1zm-1.9 0.5h1v1h-1zm-0.4 1.2h1v1h-1zm-2.5 -2.6h1v1h-1zm-0.4 0.4h1v1h-1zm2.8 -3.7h1v1h-1zm-3.1 5.7h1v1h-1zm2.1 1.2h1v1h-1zm2.4 -6h1v1h-1zm-6 3.6h1v1h-1zm6.5 1.1h1v1h-1zm2.3 -1.5h1v1h-1zm0.8 -3.3h1v1h-1zm-7.8 3.9h1v1h-1zm0 -4h1v1h-1zm1.5 2.9h1v1h-1zm-0.9 1.8h1v1h-1zm1 -2.4h1v1h-1zm-4.3 1h1v1h-1zm2.2 0.7h1v1h-1zm5.9 -1.3h1v1h-1zm0.4 -4.5h1v1h-1zm0.7 9.2h1v1h-1zm-6.6 -2.2h1v1h-1zm6.5 -1.1h1v1h-1zm-11.2 1.1h1v1h-1zm12.4 4.4h1v1h-1zm-5.3 -5.3h1v1h-1zm1.4 1.9h1v1h-1zm-0.5 -4.5h1v1h-1zm0.6 1.5h1v1h-1zm-0.6 2h1v1h-1zm7.3 -1h1v1h-1zm-12.9 -3.5h1v1h-1zm5.9 -0.2h1v1h-1zm-1 6.5h1v1h-1zm4.1 -5.1h1v1h-1zm-0.7 6.1h1v1h-1zm-3.5 -6h1v1h-1zm1.2 -7.7h1v1h-1zm0.9 4.8h1v1h-1zm1.1 1h1v1h-1zm3 -2.5h1v1h-1zm-7.5 1.7h1v1h-1zm-0.1 -1.6h1v1h-1zm3.6 4.8h1v1h-1zm6 -0.4h1v1h-1zm-14.2 1.7h1v1h-1zm2.1 1.5h1v1h-1zm0.6 -3.2h1v1h-1zm6.3 0.8h1v1h-1zm-4.1 -0.6h1v1h-1zm-3.4 -3.8h1v1h-1zm13.7 4.9h1v1h-1zm-6.9 -5.4h1v1h-1zm-8.2 5.5h1v1h-1zm1.9 -0.2h1v1h-1zm4.7 -2.3h1v1h-1zm7.6 2.9h1v1h-1zm-0.5 4h1v1h-1zm-9.7 -9.6h1v1h-1zm1.3 6.8h1v1h-1zm0.4 4.8h1v1h-1zm2 -6.2h1v1h-1zm-4.3 -1.1h1v1h-1zm3.1 9.5h1v1h-1zm1.2 -14.7h1v1h-1zm2.2 0.1h1v1h-1zm-2.5 1.7h1v1h-1zm1.5 0.9h1v1h-1zm-6.8 -1.5h1v1h-1zm10.8 7.9h1v1h-1zm-4 -2.2h1v1h-1zm-4.9 -4.4h1v1h-1zm3.8 4.1h1v1h-1zm3.8 -5.5h1v1h-1zm-9.7 -1h1v1h-1zm10.9 9.9h1v1h-1zm-11.1 4.4h1v1h-1zm1.8 -4.3h1v1h-1zm-0.6 -47.4h1v1h-1zm3.2 1.3h1v1h-1zm-1.6 1.4h1v1h-1zm3.5 0.4h1v1h-1zm-4 -4h1v1h-1zm1 1.3h1v1h-1zm0.5 -0.9h1v1h-1zm0.1 0h1v1h-1zm-3.1 2.1h1v1h-1zm1.3 -1.1h1v1h-1zm1.6 -0.1h1v1h-1zm0.9 -0.8h1v1h-1zm-4.5 -0.8h1v1h-1zm5.8 2.3h1v1h-1zm0.1 -1.6h1v1h-1zm-0.2 2.2h1v1h-1zm-4.6 -0.7h1v1h-1zm5.7 -1h1v1h-1zm-8.5 1h1v1h-1zm4.7 2h1v1h-1zm-1.8 -3.7h1v1h-1zm-0.5 2.2h1v1h-1zm-0.4 1.1h1v1h-1zm2.2 -2.5h1v1h-1zm-2.6 1.4h1v1h-1zm6.7 -2.5h1v1h-1zm-2.6 1.1h1v1h-1zm-0.8 -1.1h1v1h-1zm-0.1 3h1v1h-1zm-5.7 -1.9h1v1h-1zm5.8 0.4h1v1h-1zm0.5 1.4h1v1h-1zm0.1 1.1h1v1h-1zm-3 -4.1h1v1h-1zm2 -0.7h1v1h-1zm-0.8 1.9h1v1h-1zm-0.6 -1.9h1v1h-1zm2.7 0.3h1v1h-1zm-0.7 1.2h1v1h-1zm2.7 0.4h1v1h-1zm-10 0.7h1v1h-1zm2.2 -2h1v1h-1zm4.6 2.3h1v1h-1zm-1.5 -2.5h1v1h-1zm3.8 2h1v1h-1zm0.7 0.5h1v1h-1zm-5.3 -2.6h1v1h-1zm3.1 2.5h1v1h-1zm3.6 2.8h1v1h-1zm-4.9 -3.8h1v1h-1zm1.7 2.2h1v1h-1zm-1 -0.6h1v1h-1zm-1 -1.8h1v1h-1zm-0.1 0.2h1v1h-1zm-1.1 -0.8h1v1h-1zm2.2 2.2h1v1h-1zm-2.1 -2.5h1v1h-1zm6.9 2.4h1v1h-1zm-3.1 0.1h1v1h-1zm-6 -2.2h1v1h-1zm2.1 0.6h1v1h-1zm2.9 2.1h1v1h-1zm-3.1 -0.8h1v1h-1zm2.3 2.4h1v1h-1zm1.3 -4.4h1v1h-1zm-4.7 2h1v1h-1zm2.1 4.8h1v1h-1zm-1.2 1.4h1v1h-1zm1.9 -6.2h1v1h-1zm-3.3 24.8h1v1h-1zm-0.3 -12h1v1h-1zm2.7 -1.9h1v1h-1zm-0.6 9.2h1v1h-1zm-1.9 -9h1v1h-1zm4 8.3h1v1h-1zm-1.7 -13.4h1v1h-1zm1.5 13.6h1v1h-1zm6.1 -15.3h1v1h-1zm-5.7 5.6h1v1h-1zm1.1 12.9h1v1h-1zm-5.6 -13.3h1v1h-1zm-1.6 6.9h1v1h-1zm1.6 10.2h1v1h-1zm4.1 -15.4h1v1h-1zm-3.3 8.9h1v1h-1zm-0.8 4.4h1v1h-1zm4.1 -7.4h1v1h-1zm-4.5 -11.7h1v1h-1zm4.3 8.8h1v1h-1zm-0.8 -6.6h1v1h-1zm-3 12h1v1h-1zm0.6 -9.4h1v1h-1zm7.3 -5.3h1v1h-1zm-2.8 -4.9h1v1h-1zm-2.9 9.7h1v1h-1zm0.8 -0.8h1v1h-1zm-4.4 6.5h1v1h-1zm-1.2 -4.5h1v1h-1zm8.8 -3.3h1v1h-1zm-4.4 15.1h1v1h-1zm5 -5.1h1v1h-1zm2.7 -13.3h1v1h-1zm-1.7 28.4h1v1h-1zm-6 -29.3h1v1h-1zm-6.1 -7h1v1h-1zm7.6 3.6h1v1h-1zm2.1 2.3h1v1h-1zm-4.2 3.1h1v1h-1zm-0.1 -3.6h1v1h-1zm7.9 0.6h1v1h-1zm-9.2 2.3h1v1h-1zm-7.4 29.9h1v1h-1zm17.5 5.9h1v1h-1zm14.8 4.2h1v1h-1zm-18.3 -4.9h1v1h-1zm16.4 -3.7h1v1h-1z"/><path d="M161.1 186.2h1v1h-1zm-8.5 -4.2h1v1h-1zm1.8 -1.6h1v1h-1zm8.5 4.7h1v1h-1zm-6.9 -2.8h1v1h-1zm-4.5 2.2h1v1h-1zm5.3 0h1v1h-1zm0 -2h1v1h-1zm0.9 0h1v1h-1zm-2.1 0.3h1v1h-1zm-1.3 -5.3h1v1h-1zm-2.6 4.3h1v1h-1zm3.1 -1.1h1v1h-1zm-1.7 -2.2h1v1h-1zm8.6 5.6h1v1h-1zm-2.7 3.8h1v1h-1zm-3.1 -6.1h1v1h-1zm0.6 3.2h1v1h-1zm6.6 -3h1v1h-1zm-6.6 -0.7h1v1h-1zm-2.5 3.4h1v1h-1zm3.1 -6.7h1v1h-1zm3.5 5.1h1v1h-1zm-8.2 1.6h1v1h-1zm6.5 4.3h1v1h-1zm-2.1 -4.6h1v1h-1zm-4.7 3.8h1v1h-1zm6.1 -8.2h1v1h-1zm-2.5 0.7h1v1h-1zm-1.3 -4h1v1h-1zm-1.8 9h1v1h-1zm6.8 -2.5h1v1h-1zm-4.8 4.2h1v1h-1zm2.4 -4.2h1v1h-1zm-0.5 -2.3h1v1h-1zm-4.8 4.4h1v1h-1zm2 1.3h1v1h-1zm7.9 -2.9h1v1h-1zm-2.3 1.8h1v1h-1zm-4 -1.2h1v1h-1zm0.4 -2.3h1v1h-1zm3.1 1.7h1v1h-1zm0.9 -3.5h1v1h-1zm-6.5 6.3h1v1h-1zm0.6 -9.7h1v1h-1zm-1.5 4.2h1v1h-1zm3.5 -0.2h1v1h-1zm3.3 2.3h1v1h-1zm-2.9 1.5h1v1h-1zm3.1 2h1v1h-1zm3 0.7h1v1h-1zm-7.3 -5.5h1v1h-1zm7.2 -2h1v1h-1zm-3.9 6.8h1v1h-1zm0.1 -6.4h1v1h-1zm7.5 2.7h1v1h-1zm-12.2 -1.6h1v1h-1zm2.5 -2.5h1v1h-1zm6.2 2.8h1v1h-1zm-3.3 1.5h1v1h-1zm-4.7 1.7h1v1h-1zm3.1 -5.9h1v1h-1zm-0.7 3.4h1v1h-1zm0.5 4.5h1v1h-1zm-1.2 -5.6h1v1h-1zm-2.3 -3.1h1v1h-1zm3.6 -0.5h1v1h-1zm-5.1 1.8h1v1h-1zm2.5 4h1v1h-1zm4.2 -0.6h1v1h-1zm-3.9 -0.1h1v1h-1zm4.3 2.8h1v1h-1zm-3.7 -8.2h1v1h-1zm-4.7 2.7h1v1h-1zm3.2 3h1v1h-1zm-2.6 -0.1h1v1h-1zm6.8 1.6h1v1h-1zm-0.5 -1.8h1v1h-1zm2 2.6h1v1h-1zm-0.1 -1.1h1v1h-1zm-4.7 -2.6h1v1h-1zm1 1h1v1h-1zm4.2 -2h1v1h-1zm3.9 5.2h1v1h-1zm-3.2 -6.9h1v1h-1zm0.8 4.1h1v1h-1zm-4.5 -1.4h1v1h-1zm2.3 3.8h1v1h-1zm1.4 -4.9h1v1h-1zm-6.4 5.9h1v1h-1zm-1.1 -1.5h1v1h-1zm-1.6 -2h1v1h-1zm3.7 -3.6h1v1h-1zm-8 7.9h1v1h-1zm22 -1.2h1v1h-1zm-13.1 3h1v1h-1zm-0.5 -13.6h1v1h-1zm-2.5 11.8h1v1h-1zm1.3 -5h1v1h-1zm-4.8 -1h1v1h-1zm9.4 5.2h1v1h-1zm1.7 -2.1h1v1h-1zm3.8 -3.4h1v1h-1zm-18.1 3.7h1v1h-1zm6.8 -7.1h1v1h-1zm-0.7 8.9h1v1h-1zm7.6 -4.6h1v1h-1zm-5.5 6.9h1v1h-1zm4.2 -1.6h1v1h-1zm0.7 -2.6h1v1h-1zm-5.1 -1.3h1v1h-1zm0.5 -2.2h1v1h-1zm3.8 -3.7h1v1h-1zm-1.5 2.8h1v1h-1zm-1.4 10.8h1v1h-1zm-2.6 -7.1h1v1h-1zm4.7 -1.9h1v1h-1zm0.1 0.8h1v1h-1zm2.7 -3.4h1v1h-1zm-5.3 3.3h1v1h-1zm1.1 -4.5h1v1h-1zm0.7 0.7h1v1h-1zm-1.7 10.3h1v1h-1zm-4 -7.3h1v1h-1zm4.1 5.5h1v1h-1zm-2.6 1.5h1v1h-1zm1.3 -6.7h1v1h-1zm2 4h1v1h-1zm9.6 3.1h1v1h-1zm-2.8 -8.5h1v1h-1zm-12.4 -1.4h1v1h-1zm10.5 7.3h1v1h-1zm13 -5.3h1v1h-1zm5.9 -1.7h1v1h-1zm-2.4 6.3h1v1h-1zm-0.2 -6.5h1v1h-1zm5.8 6.5h1v1h-1zm-6.8 -4.7h1v1h-1zm-0.4 -1.9h1v1h-1zm-0.4 0.7h1v1h-1zm0.6 3.6h1v1h-1zm0.8 2.1h1v1h-1zm-3 -6.3h1v1h-1zm-0.1 -0.9h1v1h-1zm-0.6 2.3h1v1h-1zm5 -2.6h1v1h-1zm-2.2 6.5h1v1h-1zm-2.1 -8h1v1h-1zm6 3h1v1h-1zm-3.8 2.7h1v1h-1zm3.9 2.8h1v1h-1zm-0.1 -3.6h1v1h-1zm-1.4 1.6h1v1h-1zm-0.3 -3.6h1v1h-1zm-6.2 -0.2h1v1h-1zm6 2h1v1h-1zm-3.7 2.2h1v1h-1zm2.5 -2.5h1v1h-1zm-3.1 -0.7h1v1h-1zm7.8 3.9h1v1h-1zm-9.1 -7.2h1v1h-1zm3.1 -0.9h1v1h-1zm-6.1 5.3h1v1h-1zm9.2 2h1v1h-1zm0.9 0.3h1v1h-1zm-1.2 -0.4h1v1h-1zm0.8 -0.5h1v1h-1zm0.4 0.2h1v1h-1zm-4.8 -7.1h1v1h-1zm0.4 6h1v1h-1zm-0.1 -1.2h1v1h-1zm-2.6 3.7h1v1h-1zm7.5 -1.8h1v1h-1zm-2 -3.6h1v1h-1zm-3.5 4h1v1h-1zm-0.5 4.8h1v1h-1zm4.3 -2.7h1v1h-1zm-5.2 -0.8h1v1h-1zm6.3 -0.9h1v1h-1zm-4 -4.1h1v1h-1zm-3.2 5.7h1v1h-1zm0.8 -3.6h1v1h-1zm1.8 -3.2h1v1h-1zm1.9 4.9h1v1h-1zm-7.9 -1.8h1v1h-1zm3.5 0.2h1v1h-1zm6.5 -2.7h1v1h-1zm1 0.6h1v1h-1zm-8.2 -0.1h1v1h-1zm2.4 3.9h1v1h-1zm5.5 2.2h1v1h-1zm-3.2 1.5h1v1h-1zm6.2 -3h1v1h-1zm-1.7 -4.7h1v1h-1zm-3.4 1.2h1v1h-1zm0.9 2h1v1h-1zm0 -1.6h1v1h-1zm-2.3 2.7h1v1h-1zm4.4 -1.7h1v1h-1zm-8.8 -0.8h1v1h-1zm4.3 -2.7h1v1h-1zm-0.1 -2.4h1v1h-1zm-8.2 7.9h1v1h-1zm2.4 -5.9h1v1h-1zm8.1 -0.7h1v1h-1zm-4.5 6.4h1v1h-1zm-11.6 4h1v1h-1zm6.6 -7.5h1v1h-1zm17 -1.2h1v1h-1zm-8.8 9.3h1v1h-1zm0.8 -9.5h1v1h-1zm0.6 4.4h1v1h-1zm4.6 -6.4h1v1h-1zm1.5 0.1h1v1h-1zm-8.3 2.6h1v1h-1zm2.5 2.2h1v1h-1zm10.7 -0.8h1v1h-1zm-14 3.5h1v1h-1zm2 -6.2h1v1h-1zm-3.9 5.2h1v1h-1zm4.1 5.6h1v1h-1zm-11.3 0.6h1v1h-1zm18.9 -12.8h1v1h-1zm-10.9 14.1h1v1h-1zm6.9 -4.2h1v1h-1zm-8.6 -5.5h1v1h-1zm-0.8 -4.2h1v1h-1zm3.9 -2.3h1v1h-1zm8.3 10h1v1h-1zm-6.7 5.6h1v1h-1zm-0.2 -4.3h1v1h-1zm-7.9 -4.3h1v1h-1zm7.6 1.9h1v1h-1zm-1.8 -3.6h1v1h-1zm-3.1 9.8h1v1h-1zm6 -9.7h1v1h-1zm-3.7 8.1h1v1h-1zm3.6 -2.3h1v1h-1zm-3.3 0h1v1h-1zm1.8 -11.4h1v1h-1zm-1.2 14.4h1v1h-1zm2.2 -10.1h1v1h-1zm2.4 3.2h1v1h-1zm3.9 6.7h1v1h-1zm-13.6 -5.7h1v1h-1zm15.9 -7.8h1v1h-1zm-13.9 5.6h1v1h-1zm-3.2 3.9h1v1h-1zm-2.2 -3.3h1v1h-1zm20.8 4.8h1v1h-1zm-12.2 -3.9h1v1h-1zm15.1 6.1h1v1h-1zm-3.6 -7.4h1v1h-1zm-11 3.5h1v1h-1zm2.5 -42.4h1v1h-1zm-3.4 -3.8h1v1h-1zm-2.9 0.8h1v1h-1zm-0.1 -0.3h1v1h-1zm2.5 0.1h1v1h-1zm-1.6 -1.2h1v1h-1zm3.5 1.2h1v1h-1zm0.9 -0.1h1v1h-1zm-2.4 -0.4h1v1h-1zm-1.6 2.9h1v1h-1zm5.6 -2.5h1v1h-1zm-5.1 -0.8h1v1h-1zm-0.4 1.6h1v1h-1zm-0.3 -1.3h1v1h-1zm0.1 0.5h1v1h-1zm3.1 1.8h1v1h-1zm0.6 -2.8h1v1h-1zm-2.1 -0.1h1v1h-1zm-2.2 0.6h1v1h-1zm3 2.4h1v1h-1zm-2.6 -1.9h1v1h-1zm1.1 -4h1v1h-1zm-2.8 4h1v1h-1zm1.4 -1h1v1h-1zm4.3 0.3h1v1h-1zm-4.1 2.4h1v1h-1zm3.5 -0.4h1v1h-1zm-3.6 -0.3h1v1h-1zm0.8 2h1v1h-1zm0 0.2h1v1h-1zm-0.5 -2.4h1v1h-1zm3.4 -0.4h1v1h-1zm1.7 0.6h1v1h-1zm-2.9 -0.9h1v1h-1zm1.5 1.4h1v1h-1zm3.1 -1h1v1h-1zm-6.1 1.7h1v1h-1zm1.2 -3.1h1v1h-1zm-1.3 1.5h1v1h-1zm0.1 -1.3h1v1h-1zm1.9 -1.3h1v1h-1zm-2.1 3.8h1v1h-1zm1.7 -1h1v1h-1zm-0.4 0.1h1v1h-1zm1.3 -2.7h1v1h-1zm1.6 2.9h1v1h-1zm-5.7 -1.3h1v1h-1zm3.2 1.6h1v1h-1zm-1.8 -0.4h1v1h-1zm2.9 -1.6h1v1h-1zm-1.4 2.5h1v1h-1zm-1 -2.9h1v1h-1zm-1.8 1.9h1v1h-1zm2.1 -1.6h1v1h-1zm-1.9 3.3h1v1h-1zm3 5.2h1v1h-1zm1.3 0.3h1v1h-1zm-2.3 15.7h1v1h-1zm0.2 -12.4h1v1h-1zm-1.6 -0.2h1v1h-1zm1.2 9.5h1v1h-1zm-0.6 -12.2h1v1h-1zm-0.4 8.1h1v1h-1zm2.2 -15.7h1v1h-1zm1 1.6h1v1h-1zm0.9 9h1v1h-1zm-4.5 -1.8h1v1h-1zm6.1 -3.7h1v1h-1zm-5.8 7.3h1v1h-1zm2 -14h1v1h-1zm-2 11.9h1v1h-1zm-2.2 3.8h1v1h-1zm0.8 -1.2h1v1h-1zm0.7 -6.6h1v1h-1zm1.2 -7.9h1v1h-1zm3.2 13.4h1v1h-1zm-2.1 -6.9h1v1h-1zm1.4 7.4h1v1h-1zm-2.6 4.4h1v1h-1zm3 -5.3h1v1h-1zm-0.5 -5.5h1v1h-1zm-7.1 4.5h1v1h-1zm3.3 -6.4h1v1h-1zm3.6 7.2h1v1h-1zm1.7 -0.5h1v1h-1zm-6.6 5.5h1v1h-1zm3.8 -2.7h1v1h-1zm2.1 14.6h1v1h-1zm-2.6 -7.9h1v1h-1zm-3.5 -17h1v1h-1zm4.3 19.1h1v1h-1zm3.5 -8.2h1v1h-1zm-4.8 -2.8h1v1h-1zm-2.1 -6.1h1v1h-1zm4.5 1.6h1v1h-1zm-12.2 -9.4h1v1h-1zm7.8 2.6h1v1h-1zm2.3 -1.1h1v1h-1zm-0.7 4.5h1v1h-1zm-5.2 -0.3h1v1h-1zm6.2 -1h1v1h-1zm3.4 1.8h1v1h-1zm7.3 -0.7h1v1h-1zm-10.4 -3.1h1v1h-1zm-7.6 21.4h1v1h-1zm27.2 23.5h1v1h-1zm10 -1.8h1v1h-1zm-17 -1.4h1v1h-1z"/><path d="M153.7 184.9h1v1h-1zm-0.6 -2.2h1v1h-1zm4.2 2.4h1v1h-1zm4.4 -4.9h1v1h-1zm-10.5 4.6h1v1h-1zm5.3 0.5h1v1h-1zm-1 -5h1v1h-1zm-0.6 4.8h1v1h-1zm2.2 -3.2h1v1h-1zm0.3 0.6h1v1h-1zm1.3 -3.1h1v1h-1zm-3.1 5.9h1v1h-1zm4.7 -7.1h1v1h-1zm-5.9 2.2h1v1h-1zm3.2 -0.6h1v1h-1zm-1.1 4.5h1v1h-1zm5.5 -2.2h1v1h-1zm-2.5 -1.9h1v1h-1zm-3.7 0.9h1v1h-1zm0.9 -2.2h1v1h-1zm1.9 6.6h1v1h-1zm-1.3 1.6h1v1h-1zm2.2 -2.6h1v1h-1zm-3.3 -5h1v1h-1zm-0.6 5h1v1h-1zm1.7 2.1h1v1h-1zm-2.7 -2.6h1v1h-1zm1.7 3.8h1v1h-1zm-1.7 -7.2h1v1h-1zm8.2 3.2h1v1h-1zm-6.5 1.3h1v1h-1zm6.1 -4.9h1v1h-1zm0 2.6h1v1h-1zm-6.8 3.8h1v1h-1zm0.9 0.6h1v1h-1zm1 -4.6h1v1h-1zm-1.8 -1.1h1v1h-1zm0.8 4.4h1v1h-1zm1.7 -6.5h1v1h-1zm3.5 3.3h1v1h-1zm-0.8 -2.6h1v1h-1zm-3.2 -0.2h1v1h-1zm1.5 1.6h1v1h-1zm-4.6 2.8h1v1h-1zm6.8 1h1v1h-1zm-0.2 -4.7h1v1h-1zm-2.4 -0.1h1v1h-1zm0.3 2.1h1v1h-1zm1.4 0.5h1v1h-1zm-4.1 2.9h1v1h-1zm-0.5 -0.7h1v1h-1zm2.7 -7.5h1v1h-1zm0.5 7.6h1v1h-1zm-2 -3.6h1v1h-1zm4.3 3.2h1v1h-1zm2.1 -1h1v1h-1zm-11.8 -2.8h1v1h-1zm6.8 4.4h1v1h-1zm1.6 -2.5h1v1h-1zm-3 3.2h1v1h-1zm-1 -5.2h1v1h-1zm3 3.3h1v1h-1zm2.9 -3h1v1h-1zm0 -0.4h1v1h-1zm-1.1 0.4h1v1h-1zm-0.5 1.2h1v1h-1zm-7.2 1.4h1v1h-1zm-0.4 0.1h1v1h-1zm1.7 2.8h1v1h-1zm4.8 0h1v1h-1zm4.3 -2.2h1v1h-1zm-0.5 -1h1v1h-1zm-8.1 -2.7h1v1h-1zm1 2h1v1h-1zm-4.6 -5.4h1v1h-1zm0.1 -0.7h1v1h-1zm1.8 6.4h1v1h-1zm1.7 3h1v1h-1zm-0.5 1.8h1v1h-1zm3.6 -3.3h1v1h-1zm-4.3 0h1v1h-1zm-1.2 -1.7h1v1h-1zm5.3 -0.6h1v1h-1zm5.1 -3.1h1v1h-1zm-14.1 3.4h1v1h-1zm3.8 -2h1v1h-1zm12.2 1h1v1h-1zm-8.8 0.8h1v1h-1zm-3 -4.1h1v1h-1zm5.9 4.8h1v1h-1zm-4.3 -0.4h1v1h-1zm-0.5 -0.6h1v1h-1zm9 4.2h1v1h-1zm3.3 -7.3h1v1h-1zm-8.1 11.3h1v1h-1zm3.8 -3.6h1v1h-1zm-5.9 3.2h1v1h-1zm6.3 -8.9h1v1h-1zm0.4 3.2h1v1h-1zm-8 -4.8h1v1h-1zm15.7 5.5h1v1h-1zm-16.8 -11.3h1v1h-1zm3.4 5.7h1v1h-1zm4.1 2.3h1v1h-1zm-9.2 -1.9h1v1h-1zm11.9 5.9h1v1h-1zm-5.6 -7.7h1v1h-1zm-5.3 7.4h1v1h-1zm5.2 -8.7h1v1h-1zm-8.6 1.2h1v1h-1zm2.9 5.6h1v1h-1zm5.4 -2.6h1v1h-1zm8.2 -0.8h1v1h-1zm-10.6 2h1v1h-1zm1.4 4.9h1v1h-1zm-5.9 -7.7h1v1h-1zm15.4 1.9h1v1h-1zm-10.1 -1.7h1v1h-1zm2.8 1.5h1v1h-1zm-1 -1.6h1v1h-1zm-1.4 11.4h1v1h-1zm1.9 -10.5h1v1h-1zm-1.3 2.7h1v1h-1zm0.4 4h1v1h-1zm1.3 -5.8h1v1h-1zm-2.2 6.9h1v1h-1zm0.1 -6.2h1v1h-1zm-0.4 1h1v1h-1zm1.7 -0.9h1v1h-1zm-4 1.9h1v1h-1zm2.2 -2.1h1v1h-1zm-5.3 -3.2h1v1h-1zm4.7 3.7h1v1h-1zm-7.2 -0.2h1v1h-1zm16.7 -0.4h1v1h-1zm-14.2 -0.2h1v1h-1zm16.8 -2.6h1v1h-1zm-0.3 -0.7h1v1h-1zm-12.1 4.7h1v1h-1zm4.1 1h1v1h-1zm-6.5 -0.3h1v1h-1zm-0.9 3.3h1v1h-1zm-1.9 0.8h1v1h-1zm9.9 -2.8h1v1h-1zm-11.1 -6.7h1v1h-1zm13.2 6.3h1v1h-1zm-5.3 -5.6h1v1h-1zm25.2 1.9h1v1h-1zm-6.8 2.5h1v1h-1zm0.9 -4.3h1v1h-1zm-4 6.6h1v1h-1zm5.2 -1.4h1v1h-1zm-0.5 -5.7h1v1h-1zm3.4 1.3h1v1h-1zm-8.8 3.9h1v1h-1zm4.3 -2.5h1v1h-1zm2.3 0.1h1v1h-1zm-6.5 -0.7h1v1h-1zm6.9 2h1v1h-1zm-6.3 -1.5h1v1h-1zm3.5 1.1h1v1h-1zm5 -3.4h1v1h-1zm-7.2 5.2h1v1h-1zm1.3 -0.4h1v1h-1zm-3 0.9h1v1h-1zm8.2 -1.4h1v1h-1zm-2.4 -0.2h1v1h-1zm-1.2 -3.2h1v1h-1zm0.2 2.2h1v1h-1zm2 -0.7h1v1h-1zm0 1.5h1v1h-1zm-3.2 3.7h1v1h-1zm2.1 -7.9h1v1h-1zm-1.7 2h1v1h-1zm0.3 -0.8h1v1h-1zm-4.5 1.4h1v1h-1zm0.7 -4.7h1v1h-1zm3.7 2.5h1v1h-1zm3 3.1h1v1h-1zm-6.1 2.7h1v1h-1zm1 -3.8h1v1h-1zm0.5 -1.3h1v1h-1zm6.3 5.4h1v1h-1zm-5.3 -1.5h1v1h-1zm-2.9 0.5h1v1h-1zm0.5 -1.3h1v1h-1zm1.5 -1.3h1v1h-1zm4.5 -0.8h1v1h-1zm0.4 -0.1h1v1h-1zm0 1h1v1h-1zm-8 -2.4h1v1h-1zm4.9 3h1v1h-1zm-0.6 -0.8h1v1h-1zm-2.6 5h1v1h-1zm3.5 -2.5h1v1h-1zm-2.4 2h1v1h-1zm-3 -6.5h1v1h-1zm1.5 2.3h1v1h-1zm5.9 -3.3h1v1h-1zm-3.7 6h1v1h-1zm-2.2 -0.6h1v1h-1zm-1.2 -1.6h1v1h-1zm7.3 0.2h1v1h-1zm2.8 1.7h1v1h-1zm-9.4 -1.8h1v1h-1zm3.7 -0.4h1v1h-1zm-2.6 0.7h1v1h-1zm-2 0.5h1v1h-1zm8.1 1.6h1v1h-1zm-2.6 -2.1h1v1h-1zm-6.2 -10.2h1v1h-1zm8.6 5.2h1v1h-1zm-5.4 9.1h1v1h-1zm11.1 -6.9h1v1h-1zm-4.4 -2.1h1v1h-1zm9.1 11.3h1v1h-1zm-19 -12.5h1v1h-1zm1.6 5.1h1v1h-1zm4.9 3.6h1v1h-1zm-0.7 -4.2h1v1h-1zm-12.8 -6.4h1v1h-1zm21.3 12.8h1v1h-1zm-4.5 -5.6h1v1h-1zm-7.2 4.9h1v1h-1zm4.3 -6.1h1v1h-1zm-12.6 4.1h1v1h-1zm14 -3.6h1v1h-1zm6 -0.2h1v1h-1zm-15.4 -0.1h1v1h-1zm6.2 3.7h1v1h-1zm-0.1 -6.7h1v1h-1zm-1 3.2h1v1h-1zm6.4 4.3h1v1h-1zm2.9 -3.3h1v1h-1zm-9.1 -3.8h1v1h-1zm-7.7 0.7h1v1h-1zm2.2 -0.1h1v1h-1zm6 0.1h1v1h-1zm-3.5 3.4h1v1h-1zm7.2 3.5h1v1h-1zm0.8 -8.1h1v1h-1zm-9.5 5.9h1v1h-1zm14.8 -2.1h1v1h-1zm-19.6 -3.8h1v1h-1zm11.1 0.1h1v1h-1zm9.3 7.1h1v1h-1zm-10.8 -3.7h1v1h-1zm-6.1 1.8h1v1h-1zm-1.3 -1.6h1v1h-1zm12.1 4.3h1v1h-1zm-6.9 -4.3h1v1h-1zm2.7 -4h1v1h-1zm-5.7 4.7h1v1h-1zm-6.7 -1.6h1v1h-1zm17.5 5.1h1v1h-1zm-8.4 -7.7h1v1h-1zm10.4 8h1v1h-1zm2.1 -5.8h1v1h-1zm-19.3 0.8h1v1h-1zm16.1 -2.3h1v1h-1zm-9.1 2.8h1v1h-1zm0.2 2.6h1v1h-1zm6.3 -5.3h1v1h-1zm-7.8 2h1v1h-1zm0.7 -3.6h1v1h-1zm8.6 -0.9h1v1h-1zm-6.5 1.7h1v1h-1zm2.2 1.2h1v1h-1zm-4.7 -38.6h1v1h-1zm-1.7 -2.3h1v1h-1zm4.7 -1.3h1v1h-1zm2.7 1.2h1v1h-1zm-0.8 0h1v1h-1zm-4.6 0.2h1v1h-1zm0.8 -0.7h1v1h-1zm-0.2 6.2h1v1h-1zm2.5 -1.9h1v1h-1zm-1.3 -1.9h1v1h-1zm2.9 0.3h1v1h-1zm-2.1 -3h1v1h-1zm-3.1 4.9h1v1h-1zm0.5 -4.4h1v1h-1zm5.9 3.2h1v1h-1zm-4.7 -1.7h1v1h-1zm2.5 -3h1v1h-1zm-0.6 4.4h1v1h-1zm2.5 -3.6h1v1h-1zm-3 3h1v1h-1zm4.8 -3h1v1h-1zm-5.6 0.4h1v1h-1zm2.8 1.9h1v1h-1zm-3.7 1.2h1v1h-1zm5.8 -0.3h1v1h-1zm-3.9 2.5h1v1h-1zm-0.8 -2.3h1v1h-1zm3.2 -1.2h1v1h-1zm-3.2 1.5h1v1h-1zm-0.2 0.2h1v1h-1zm1.5 -1.2h1v1h-1zm-1.7 -1h1v1h-1zm1.1 -2h1v1h-1zm-0.4 3.1h1v1h-1zm-1.1 -0.4h1v1h-1zm0.9 -0.6h1v1h-1zm1.7 -0.9h1v1h-1zm4.3 2.8h1v1h-1zm-2.9 -2.4h1v1h-1zm-1.4 -0.3h1v1h-1zm-0.1 0.9h1v1h-1zm1 -1h1v1h-1zm-2.8 2.5h1v1h-1zm0.4 -1.1h1v1h-1zm1.9 -2.7h1v1h-1zm-0.8 3.5h1v1h-1zm-1.9 0.4h1v1h-1zm5 -2.1h1v1h-1zm-4.9 0.2h1v1h-1zm2.5 2.1h1v1h-1zm-0.1 -0.9h1v1h-1zm1.7 -2h1v1h-1zm-2 0.2h1v1h-1zm-0.3 -0.5h1v1h-1zm2.3 4.5h1v1h-1zm-3 -3.3h1v1h-1zm1.9 0.3h1v1h-1zm-3.4 -2.6h1v1h-1zm1.9 1.7h1v1h-1zm1.1 2.3h1v1h-1zm0 -3.9h1v1h-1zm-1.3 2.2h1v1h-1zm-4 -0.7h1v1h-1zm4.6 0.8h1v1h-1zm-2.3 1.5h1v1h-1zm-1.1 -1.3h1v1h-1zm6.5 1.4h1v1h-1zm-0.8 0.4h1v1h-1zm-2.4 -2.7h1v1h-1zm0.7 0.1h1v1h-1zm-3.1 3.2h1v1h-1zm5.5 5.2h1v1h-1zm-6.1 18h1v1h-1zm0 -8.5h1v1h-1zm2.7 1.2h1v1h-1zm5.4 6.3h1v1h-1zm-8.5 -2.8h1v1h-1zm4.7 -1.5h1v1h-1zm-3.6 -3.9h1v1h-1zm1.6 -7h1v1h-1zm1 4.7h1v1h-1zm0.9 2.5h1v1h-1zm-6.5 -1.8h1v1h-1zm5.4 -15.3h1v1h-1zm-5.2 1.5h1v1h-1zm10.5 1.1h1v1h-1zm0.2 0.6h1v1h-1zm-5.2 11.3h1v1h-1zm-0.6 -9.7h1v1h-1zm-0.9 14.8h1v1h-1zm3.8 2h1v1h-1zm-2.4 -12.9h1v1h-1zm3.6 7h1v1h-1zm-3.1 8.2h1v1h-1zm1.3 -0.2h1v1h-1zm-3.1 -11.8h1v1h-1zm-1.8 4.4h1v1h-1zm-3.4 2.7h1v1h-1zm1.5 -10.2h1v1h-1zm3.4 5.8h1v1h-1zm1.3 6.5h1v1h-1zm-6.3 0.1h1v1h-1zm1.8 -3.6h1v1h-1zm-0.3 2.4h1v1h-1zm2.2 -7.7h1v1h-1zm1.7 -3h1v1h-1zm-0.3 10.3h1v1h-1zm-0.8 1h1v1h-1zm-1.2 -7.2h1v1h-1zm-2.1 11.8h1v1h-1zm3.3 -22.1h1v1h-1zm1.8 1.8h1v1h-1zm-3.1 19.3h1v1h-1zm1.6 -13.2h1v1h-1zm0.7 2.9h1v1h-1zm-2 11.5h1v1h-1zm0.7 -13h1v1h-1zm-5 -5.3h1v1h-1zm4.6 3.6h1v1h-1zm4.8 -2h1v1h-1zm-4.7 -7.3h1v1h-1zm-1.3 5.3h1v1h-1zm4.5 -12.1h1v1h-1zm-12.3 11.6h1v1h-1zm8.5 0.1h1v1h-1zm9.1 -1.2h1v1h-1zm-20.4 26h1v1h-1zm1.5 -16.3h1v1h-1zm17.8 24.4h1v1h-1zm8.1 -0.9h1v1h-1zm14.9 4.5h1v1h-1zm-19 -3.4h1v1h-1zm8.7 -0.6h1v1h-1z"/></g>
<line x1="165.50" y1="121.40" x2="165.50" y2="192.00" stroke="#a0a0a0" stroke-width="1.4"/>
<line x1="146.00" y1="167.90" x2="216.30" y2="167.90" stroke="#999" stroke-width="1.3"/>
<line x1="146.00" y1="121.40" x2="146.00" y2="192.00" stroke="#222" stroke-width="1.2"/>
<line x1="146.00" y1="192.00" x2="216.30" y2="192.00" stroke="#222" stroke-width="1.2"/>
<line x1="143.80" y1="121.40" x2="146.00" y2="121.40" stroke="#222" stroke-width="1"/>
<line x1="146.00" y1="192.00" x2="146.00" y2="194.20" stroke="#222" stroke-width="1"/>
<line x1="144.30" y1="186.69" x2="146.00" y2="186.69" stroke="#333" stroke-width="0.8"/>
<line x1="151.29" y1="192.00" x2="151.29" y2="193.70" stroke="#333" stroke-width="0.8"/>
<line x1="144.30" y1="183.58" x2="146.00" y2="183.58" stroke="#333" stroke-width="0.8"/>
<line x1="154.39" y1="192.00" x2="154.39" y2="193.70" stroke="#333" stroke-width="0.8"/>
<line x1="144.30" y1="181.37" x2="146.00" y2="181.37" stroke="#333" stroke-width="0.8"/>
<line x1="156.58" y1="192.00" x2="156.58" y2="193.70" stroke="#333" stroke-width="0.8"/>
<line x1="144.30" y1="179.66" x2="146.00" y2="179.66" stroke="#333" stroke-width="0.8"/>
<line x1="158.28" y1="192.00" x2="158.28" y2="193.70" stroke="#333" stroke-width="0.8"/>
<line x1="144.30" y1="178.27" x2="146.00" y2="178.27" stroke="#333" stroke-width="0.8"/>
<line x1="159.68" y1="192.00" x2="159.68" y2="193.70" stroke="#333" stroke-width="0.8"/>
<line x1="144.30" y1="177.08" x2="146.00" y2="177.08" stroke="#333" stroke-width="0.8"/>
<line x1="160.85" y1="192.00" x2="160.85" y2="193.70" stroke="#333" stroke-width="0.8"/>
<line x1="144.30" y1="176.06" x2="146.00" y2="176.06" stroke="#333" stroke-width="0.8"/>
<line x1="161.87" y1="192.00" x2="161.87" y2="193.70" stroke="#333" stroke-width="0.8"/>
<line x1="144.30" y1="175.16" x2="146.00" y2="175.16" stroke="#333" stroke-width="0.8"/>
<line x1="162.77" y1="192.00" x2="162.77" y2="193.70" stroke="#333" stroke-width="0.8"/>
<line x1="143.80" y1="139.05" x2="146.00" y2="139.05" stroke="#222" stroke-width="1"/>
<line x1="163.57" y1="192.00" x2="163.57" y2="194.20" stroke="#222" stroke-width="1"/>
<line x1="144.30" y1="169.04" x2="146.00" y2="169.04" stroke="#333" stroke-width="0.8"/>
<line x1="168.87" y1="192.00" x2="168.87" y2="193.70" stroke="#333" stroke-width="0.8"/>
<line x1="144.30" y1="165.93" x2="146.00" y2="165.93" stroke="#333" stroke-width="0.8"/>
<line x1="171.96" y1="192.00" x2="171.96" y2="193.70" stroke="#333" stroke-width="0.8"/>
<line x1="144.30" y1="163.72" x2="146.00" y2="163.72" stroke="#333" stroke-width="0.8"/>
<line x1="174.16" y1="192.00" x2="174.16" y2="193.70" stroke="#333" stroke-width="0.8"/>
<line x1="144.30" y1="162.01" x2="146.00" y2="162.01" stroke="#333" stroke-width="0.8"/>
<line x1="175.86" y1="192.00" x2="175.86" y2="193.70" stroke="#333" stroke-width="0.8"/>
<line x1="144.30" y1="160.62" x2="146.00" y2="160.62" stroke="#333" stroke-width="0.8"/>
<line x1="177.25" y1="192.00" x2="177.25" y2="193.70" stroke="#333" stroke-width="0.8"/>
<line x1="144.30" y1="159.43" x2="146.00" y2="159.43" stroke="#333" stroke-width="0.8"/>
<line x1="178.43" y1="192.00" x2="178.43" y2="193.70" stroke="#333" stroke-width="0.8"/>
<line x1="144.30" y1="158.41" x2="146.00" y2="158.41" stroke="#333" stroke-width="0.8"/>
<line x1="179.45" y1="192.00" x2="179.45" y2="193.70" stroke="#333" stroke-width="0.8"/>
<line x1="144.30" y1="157.51" x2="146.00" y2="157.51" stroke="#333" stroke-width="0.8"/>
<line x1="180.35" y1="192.00" x2="180.35" y2="193.70" stroke="#333" stroke-width="0.8"/>
<line x1="143.80" y1="156.70" x2="146.00" y2="156.70" stroke="#222" stroke-width="1"/>
<line x1="181.15" y1="192.00" x2="181.15" y2="194.20" stroke="#222" stroke-width="1"/>
<line x1="144.30" y1="151.39" x2="146.00" y2="151.39" stroke="#333" stroke-width="0.8"/>
<line x1="186.44" y1="192.00" x2="186.44" y2="193.70" stroke="#333" stroke-width="0.8"/>
<line x1="144.30" y1="148.28" x2="146.00" y2="148.28" stroke="#333" stroke-width="0.8"/>
<line x1="189.54" y1="192.00" x2="189.54" y2="193.70" stroke="#333" stroke-width="0.8"/>
<line x1="144.30" y1="146.07" x2="146.00" y2="146.07" stroke="#333" stroke-width="0.8"/>
<line x1="191.73" y1="192.00" x2="191.73" y2="193.70" stroke="#333" stroke-width="0.8"/>
<line x1="144.30" y1="144.36" x2="146.00" y2="144.36" stroke="#333" stroke-width="0.8"/>
<line x1="193.43" y1="192.00" x2="193.43" y2="193.70" stroke="#333" stroke-width="0.8"/>
<line x1="144.30" y1="142.97" x2="146.00" y2="142.97" stroke="#333" stroke-width="0.8"/>
<line x1="194.83" y1="192.00" x2="194.83" y2="193.70" stroke="#333" stroke-width="0.8"/>
<line x1="144.30" y1="141.78" x2="146.00" y2="141.78" stroke="#333" stroke-width="0.8"/>
<line x1="196.00" y1="192.00" x2="196.00" y2="193.70" stroke="#333" stroke-width="0.8"/>
<line x1="144.30" y1="140.76" x2="146.00" y2="140.76" stroke="#333" stroke-width="0.8"/>
<line x1="197.02" y1="192.00" x2="197.02" y2="193.70" stroke="#333" stroke-width="0.8"/>
<line x1="144.30" y1="139.86" x2="146.00" y2="139.86" stroke="#333" stroke-width="0.8"/>
<line x1="197.92" y1="192.00" x2="197.92" y2="193.70" stroke="#333" stroke-width="0.8"/>
<line x1="143.80" y1="174.35" x2="146.00" y2="174.35" stroke="#222" stroke-width="1"/>
<line x1="198.72" y1="192.00" x2="198.72" y2="194.20" stroke="#222" stroke-width="1"/>
<line x1="144.30" y1="133.74" x2="146.00" y2="133.74" stroke="#333" stroke-width="0.8"/>
<line x1="204.02" y1="192.00" x2="204.02" y2="193.70" stroke="#333" stroke-width="0.8"/>
<line x1="144.30" y1="130.63" x2="146.00" y2="130.63" stroke="#333" stroke-width="0.8"/>
<line x1="207.11" y1="192.00" x2="207.11" y2="193.70" stroke="#333" stroke-width="0.8"/>
<line x1="144.30" y1="128.42" x2="146.00" y2="128.42" stroke="#333" stroke-width="0.8"/>
<line x1="209.31" y1="192.00" x2="209.31" y2="193.70" stroke="#333" stroke-width="0.8"/>
<line x1="144.30" y1="126.71" x2="146.00" y2="126.71" stroke="#333" stroke-width="0.8"/>
<line x1="211.01" y1="192.00" x2="211.01" y2="193.70" stroke="#333" stroke-width="0.8"/>
<line x1="144.30" y1="125.32" x2="146.00" y2="125.32" stroke="#333" stroke-width="0.8"/>
<line x1="212.40" y1="192.00" x2="212.40" y2="193.70" stroke="#333" stroke-width="0.8"/>
<line x1="144.30" y1="124.13" x2="146.00" y2="124.13" stroke="#333" stroke-width="0.8"/>
<line x1="213.58" y1="192.00" x2="213.58" y2="193.70" stroke="#333" stroke-width="0.8"/>
<line x1="144.30" y1="123.11" x2="146.00" y2="123.11" stroke="#333" stroke-width="0.8"/>
<line x1="214.60" y1="192.00" x2="214.60" y2="193.70" stroke="#333" stroke-width="0.8"/>
<line x1="144.30" y1="122.21" x2="146.00" y2="122.21" stroke="#333" stroke-width="0.8"/>
<line x1="215.50" y1="192.00" x2="215.50" y2="193.70" stroke="#333" stroke-width="0.8"/>
<line x1="143.80" y1="192.00" x2="146.00" y2="192.00" stroke="#222" stroke-width="1"/>
<line x1="216.30" y1="192.00" x2="216.30" y2="194.20" stroke="#222" stroke-width="1"/>
<text x="150.13" y="134.93" font-size="9.60" font-family="Liberation Serif, serif" font-weight="normal" text-anchor="start" textLength="13.18" lengthAdjust="spacing" stroke="#000" stroke-width="0.22">0.8</text>

<text x="189.52" y="134.52" font-size="9.60" font-family="Liberation Serif, serif" font-weight="normal" text-anchor="start" textLength="26.28" lengthAdjust="spacing" stroke="#000" stroke-width="0.22">27.1%</text>

<text x="147.33" y="176.69" font-size="9.60" font-family="Liberation Serif, serif" font-weight="normal" text-anchor="start" textLength="18.43" lengthAdjust="spacing" stroke="#000" stroke-width="0.22">29.6</text>

<text x="194.78" y="176.85" font-size="9.60" font-family="Liberation Serif, serif" font-weight="normal" text-anchor="start" textLength="16.77" lengthAdjust="spacing" stroke="#000" stroke-width="0.22">42.5</text>

<text x="50.92" y="203.76" font-size="9.10" font-family="Liberation Serif, serif" font-weight="normal" text-anchor="start" stroke="#000" stroke-width="0.3">10<tspan dx="1" dy="-3.0" font-size="6.4">1</tspan></text>

<text x="68.58" y="203.60" font-size="9.10" font-family="Liberation Serif, serif" font-weight="normal" text-anchor="start" stroke="#000" stroke-width="0.3">10<tspan dx="1" dy="-3.0" font-size="6.4">2</tspan></text>

<text x="84.52" y="203.50" font-size="9.10" font-family="Liberation Serif, serif" font-weight="normal" text-anchor="start" stroke="#000" stroke-width="0.3">10<tspan dx="1" dy="-3.0" font-size="6.4">3</tspan></text>

<text x="100.44" y="227.50" font-size="12.91" font-family="Liberation Sans, sans-serif" font-weight="normal" text-anchor="start" stroke="#000" stroke-width="0.25">NKG2D</text>

<line x1="74.50" y1="212.40" x2="175.50" y2="212.40" stroke="#111" stroke-width="1.1"/>
<path d="M173.8,210 L179,212.4 L173.8,214.8 Z" fill="#111"/>
<line x1="323.10" y1="22.10" x2="323.10" y2="183.90" stroke="#5a5a5a" stroke-width="1.2"/>
<line x1="322.50" y1="183.30" x2="420.00" y2="183.30" stroke="#5a5a5a" stroke-width="1.2"/>
<line x1="323.10" y1="22.60" x2="326.10" y2="22.60" stroke="#5a5a5a" stroke-width="1"/>
<line x1="323.10" y1="103.00" x2="326.10" y2="103.00" stroke="#5a5a5a" stroke-width="1"/>
<line x1="332.82" y1="183.30" x2="332.82" y2="180.70" stroke="#5a5a5a" stroke-width="0.9"/>
<line x1="338.51" y1="183.30" x2="338.51" y2="180.70" stroke="#5a5a5a" stroke-width="0.9"/>
<line x1="342.55" y1="183.30" x2="342.55" y2="180.70" stroke="#5a5a5a" stroke-width="0.9"/>
<line x1="345.68" y1="183.30" x2="345.68" y2="180.70" stroke="#5a5a5a" stroke-width="0.9"/>
<line x1="348.23" y1="183.30" x2="348.23" y2="180.70" stroke="#5a5a5a" stroke-width="0.9"/>
<line x1="350.40" y1="183.30" x2="350.40" y2="180.70" stroke="#5a5a5a" stroke-width="0.9"/>
<line x1="352.27" y1="183.30" x2="352.27" y2="180.70" stroke="#5a5a5a" stroke-width="0.9"/>
<line x1="353.92" y1="183.30" x2="353.92" y2="180.70" stroke="#5a5a5a" stroke-width="0.9"/>
<line x1="355.40" y1="183.30" x2="355.40" y2="180.30" stroke="#5a5a5a" stroke-width="0.9"/>
<line x1="365.12" y1="183.30" x2="365.12" y2="180.70" stroke="#5a5a5a" stroke-width="0.9"/>
<line x1="370.81" y1="183.30" x2="370.81" y2="180.70" stroke="#5a5a5a" stroke-width="0.9"/>
<line x1="374.85" y1="183.30" x2="374.85" y2="180.70" stroke="#5a5a5a" stroke-width="0.9"/>
<line x1="377.98" y1="183.30" x2="377.98" y2="180.70" stroke="#5a5a5a" stroke-width="0.9"/>
<line x1="380.53" y1="183.30" x2="380.53" y2="180.70" stroke="#5a5a5a" stroke-width="0.9"/>
<line x1="382.70" y1="183.30" x2="382.70" y2="180.70" stroke="#5a5a5a" stroke-width="0.9"/>
<line x1="384.57" y1="183.30" x2="384.57" y2="180.70" stroke="#5a5a5a" stroke-width="0.9"/>
<line x1="386.22" y1="183.30" x2="386.22" y2="180.70" stroke="#5a5a5a" stroke-width="0.9"/>
<line x1="387.70" y1="183.30" x2="387.70" y2="180.30" stroke="#5a5a5a" stroke-width="0.9"/>
<line x1="397.42" y1="183.30" x2="397.42" y2="180.70" stroke="#5a5a5a" stroke-width="0.9"/>
<line x1="403.11" y1="183.30" x2="403.11" y2="180.70" stroke="#5a5a5a" stroke-width="0.9"/>
<line x1="407.15" y1="183.30" x2="407.15" y2="180.70" stroke="#5a5a5a" stroke-width="0.9"/>
<line x1="410.28" y1="183.30" x2="410.28" y2="180.70" stroke="#5a5a5a" stroke-width="0.9"/>
<line x1="412.83" y1="183.30" x2="412.83" y2="180.70" stroke="#5a5a5a" stroke-width="0.9"/>
<line x1="415.00" y1="183.30" x2="415.00" y2="180.70" stroke="#5a5a5a" stroke-width="0.9"/>
<line x1="416.87" y1="183.30" x2="416.87" y2="180.70" stroke="#5a5a5a" stroke-width="0.9"/>
<line x1="418.52" y1="183.30" x2="418.52" y2="180.70" stroke="#5a5a5a" stroke-width="0.9"/>
<polyline points="356.40,183.30 366.14,183.30 375.88,183.30 385.62,183.30 395.36,183.30 405.10,183.30" fill="none" stroke="#333" stroke-width="1"/>
<polyline points="356.40,181.00 366.14,167.80 375.88,149.70 385.62,121.30 395.36,84.80 405.10,54.70" fill="none" stroke="#333" stroke-width="1"/>
<circle cx="356.40" cy="181.00" r="4.0" fill="#000"/>
<circle cx="366.14" cy="167.80" r="4.0" fill="#000"/>
<circle cx="375.88" cy="149.70" r="4.0" fill="#000"/>
<circle cx="385.62" cy="121.30" r="4.0" fill="#000"/>
<circle cx="395.36" cy="84.80" r="4.0" fill="#000"/>
<circle cx="405.10" cy="54.70" r="4.0" fill="#000"/>
<circle cx="356.40" cy="183.30" r="3.6" fill="#fff" stroke="#1a1a1a" stroke-width="1.3"/>
<circle cx="366.14" cy="183.30" r="3.6" fill="#fff" stroke="#1a1a1a" stroke-width="1.3"/>
<circle cx="375.88" cy="183.30" r="3.6" fill="#fff" stroke="#1a1a1a" stroke-width="1.3"/>
<circle cx="385.62" cy="183.30" r="3.6" fill="#fff" stroke="#1a1a1a" stroke-width="1.3"/>
<circle cx="395.36" cy="183.30" r="3.6" fill="#fff" stroke="#1a1a1a" stroke-width="1.3"/>
<circle cx="405.10" cy="183.30" r="3.6" fill="#fff" stroke="#1a1a1a" stroke-width="1.3"/>
<text transform="translate(289.67,106.63) rotate(-90)" font-size="14.92" font-family="Liberation Sans, sans-serif" font-weight="normal" text-anchor="middle" stroke="#000" stroke-width="0.25">% Specific cytotoxicity</text>

<text x="303.18" y="28.60" font-size="12.05" font-family="Liberation Sans, sans-serif" font-weight="normal" text-anchor="start" stroke="#000" stroke-width="0.25">70</text>

<text x="303.15" y="108.50" font-size="12.20" font-family="Liberation Sans, sans-serif" font-weight="normal" text-anchor="start" stroke="#000" stroke-width="0.25">35</text>

<text x="310.49" y="186.85" font-size="12.05" font-family="Liberation Sans, sans-serif" font-weight="normal" text-anchor="start" stroke="#000" stroke-width="0.25">0</text>

<text x="413.00" y="59.68" font-size="11.03" font-family="Liberation Sans, sans-serif" font-weight="normal" text-anchor="start" stroke="#000" stroke-width="0.25">K562</text>

<text x="378.29" y="173.65" font-size="10.77" font-family="Liberation Sans, sans-serif" font-weight="normal" text-anchor="start" stroke="#000" stroke-width="0.25">Granulocytes</text>

<text x="352.50" y="203.83" font-size="11.31" font-family="Liberation Sans, sans-serif" font-weight="normal" text-anchor="start" stroke="#000" stroke-width="0.25">1</text>
<rect x="352.66" y="202.45" width="2.48" height="2.55" fill="#fff"/><rect x="356.55" y="202.45" width="2.59" height="2.55" fill="#fff"/>
<text x="382.08" y="203.73" font-size="11.31" font-family="Liberation Sans, sans-serif" font-weight="normal" text-anchor="start" stroke="#000" stroke-width="0.25">10</text>
<rect x="382.24" y="202.45" width="2.48" height="2.55" fill="#fff"/><rect x="386.12" y="202.45" width="2.59" height="2.55" fill="#fff"/>
<text x="409.58" y="203.78" font-size="11.31" font-family="Liberation Sans, sans-serif" font-weight="normal" text-anchor="start" stroke="#000" stroke-width="0.25">100</text>
<rect x="409.75" y="202.45" width="2.48" height="2.55" fill="#fff"/><rect x="413.63" y="202.45" width="2.59" height="2.55" fill="#fff"/>
<text x="352.26" y="216.92" font-size="12.74" font-family="Liberation Sans, sans-serif" font-weight="normal" text-anchor="start" stroke="#000" stroke-width="0.25">E/T ratio</text>

<line x1="77.80" y1="258.90" x2="77.80" y2="421.70" stroke="#5a5a5a" stroke-width="1.2"/>
<line x1="77.20" y1="421.10" x2="175.50" y2="421.10" stroke="#5a5a5a" stroke-width="1.2"/>
<line x1="77.80" y1="259.40" x2="80.80" y2="259.40" stroke="#5a5a5a" stroke-width="1"/>
<line x1="77.80" y1="340.30" x2="80.80" y2="340.30" stroke="#5a5a5a" stroke-width="1"/>
<line x1="87.58" y1="421.10" x2="87.58" y2="418.50" stroke="#5a5a5a" stroke-width="0.9"/>
<line x1="93.31" y1="421.10" x2="93.31" y2="418.50" stroke="#5a5a5a" stroke-width="0.9"/>
<line x1="97.37" y1="421.10" x2="97.37" y2="418.50" stroke="#5a5a5a" stroke-width="0.9"/>
<line x1="100.52" y1="421.10" x2="100.52" y2="418.50" stroke="#5a5a5a" stroke-width="0.9"/>
<line x1="103.09" y1="421.10" x2="103.09" y2="418.50" stroke="#5a5a5a" stroke-width="0.9"/>
<line x1="105.27" y1="421.10" x2="105.27" y2="418.50" stroke="#5a5a5a" stroke-width="0.9"/>
<line x1="107.15" y1="421.10" x2="107.15" y2="418.50" stroke="#5a5a5a" stroke-width="0.9"/>
<line x1="108.81" y1="421.10" x2="108.81" y2="418.50" stroke="#5a5a5a" stroke-width="0.9"/>
<line x1="110.30" y1="421.10" x2="110.30" y2="418.10" stroke="#5a5a5a" stroke-width="0.9"/>
<line x1="120.08" y1="421.10" x2="120.08" y2="418.50" stroke="#5a5a5a" stroke-width="0.9"/>
<line x1="125.81" y1="421.10" x2="125.81" y2="418.50" stroke="#5a5a5a" stroke-width="0.9"/>
<line x1="129.87" y1="421.10" x2="129.87" y2="418.50" stroke="#5a5a5a" stroke-width="0.9"/>
<line x1="133.02" y1="421.10" x2="133.02" y2="418.50" stroke="#5a5a5a" stroke-width="0.9"/>
<line x1="135.59" y1="421.10" x2="135.59" y2="418.50" stroke="#5a5a5a" stroke-width="0.9"/>
<line x1="137.77" y1="421.10" x2="137.77" y2="418.50" stroke="#5a5a5a" stroke-width="0.9"/>
<line x1="139.65" y1="421.10" x2="139.65" y2="418.50" stroke="#5a5a5a" stroke-width="0.9"/>
<line x1="141.31" y1="421.10" x2="141.31" y2="418.50" stroke="#5a5a5a" stroke-width="0.9"/>
<line x1="142.80" y1="421.10" x2="142.80" y2="418.10" stroke="#5a5a5a" stroke-width="0.9"/>
<line x1="152.58" y1="421.10" x2="152.58" y2="418.50" stroke="#5a5a5a" stroke-width="0.9"/>
<line x1="158.31" y1="421.10" x2="158.31" y2="418.50" stroke="#5a5a5a" stroke-width="0.9"/>
<line x1="162.37" y1="421.10" x2="162.37" y2="418.50" stroke="#5a5a5a" stroke-width="0.9"/>
<line x1="165.52" y1="421.10" x2="165.52" y2="418.50" stroke="#5a5a5a" stroke-width="0.9"/>
<line x1="168.09" y1="421.10" x2="168.09" y2="418.50" stroke="#5a5a5a" stroke-width="0.9"/>
<line x1="170.27" y1="421.10" x2="170.27" y2="418.50" stroke="#5a5a5a" stroke-width="0.9"/>
<line x1="172.15" y1="421.10" x2="172.15" y2="418.50" stroke="#5a5a5a" stroke-width="0.9"/>
<line x1="173.81" y1="421.10" x2="173.81" y2="418.50" stroke="#5a5a5a" stroke-width="0.9"/>
<polyline points="108.20,420.80 117.80,421.00 127.50,417.50 137.00,421.00 146.90,412.80 157.10,420.80" fill="none" stroke="#333" stroke-width="1"/>
<polyline points="108.20,397.60 117.80,377.80 127.40,320.50 137.20,274.80" fill="none" stroke="#333" stroke-width="1"/>
<circle cx="108.20" cy="397.60" r="4.0" fill="#000"/>
<circle cx="117.80" cy="377.80" r="4.0" fill="#000"/>
<circle cx="127.40" cy="320.50" r="4.0" fill="#000"/>
<circle cx="137.20" cy="274.80" r="4.0" fill="#000"/>
<circle cx="108.20" cy="420.80" r="3.6" fill="#fff" stroke="#1a1a1a" stroke-width="1.3"/>
<circle cx="117.80" cy="421.00" r="3.6" fill="#fff" stroke="#1a1a1a" stroke-width="1.3"/>
<circle cx="127.50" cy="417.50" r="3.6" fill="#fff" stroke="#1a1a1a" stroke-width="1.3"/>
<circle cx="137.00" cy="421.00" r="3.6" fill="#fff" stroke="#1a1a1a" stroke-width="1.3"/>
<circle cx="146.90" cy="412.80" r="3.6" fill="#fff" stroke="#1a1a1a" stroke-width="1.3"/>
<circle cx="157.10" cy="420.80" r="3.6" fill="#fff" stroke="#1a1a1a" stroke-width="1.3"/>
<text transform="translate(45.87,345.83) rotate(-90)" font-size="14.92" font-family="Liberation Sans, sans-serif" font-weight="normal" text-anchor="middle" stroke="#000" stroke-width="0.25">% Specific cytotoxicity</text>

<text x="57.74" y="263.69" font-size="12.05" font-family="Liberation Sans, sans-serif" font-weight="normal" text-anchor="start" stroke="#000" stroke-width="0.25">30</text>

<text x="57.88" y="343.60" font-size="12.05" font-family="Liberation Sans, sans-serif" font-weight="normal" text-anchor="start" stroke="#000" stroke-width="0.25">15</text>
<rect x="58.10" y="342.40" width="2.61" height="2.60" fill="#fff"/><rect x="62.18" y="342.40" width="2.72" height="2.60" fill="#fff"/>
<text x="64.73" y="423.65" font-size="12.05" font-family="Liberation Sans, sans-serif" font-weight="normal" text-anchor="start" stroke="#000" stroke-width="0.25">0</text>

<text x="145.11" y="278.98" font-size="11.03" font-family="Liberation Sans, sans-serif" font-weight="normal" text-anchor="start" stroke="#000" stroke-width="0.25">K562</text>

<text x="124.08" y="403.58" font-size="10.77" font-family="Liberation Sans, sans-serif" font-weight="normal" text-anchor="start" stroke="#000" stroke-width="0.25">Granulocytes</text>

<text x="109.42" y="439.96" font-size="11.31" font-family="Liberation Sans, sans-serif" font-weight="normal" text-anchor="start" stroke="#000" stroke-width="0.25">1</text>
<rect x="109.58" y="438.45" width="2.48" height="2.55" fill="#fff"/><rect x="113.47" y="438.45" width="2.59" height="2.55" fill="#fff"/>
<text x="137.50" y="439.53" font-size="11.31" font-family="Liberation Sans, sans-serif" font-weight="normal" text-anchor="start" stroke="#000" stroke-width="0.25">10</text>
<rect x="137.66" y="438.45" width="2.48" height="2.55" fill="#fff"/><rect x="141.54" y="438.45" width="2.59" height="2.55" fill="#fff"/>
<text x="166.07" y="439.96" font-size="11.31" font-family="Liberation Sans, sans-serif" font-weight="normal" text-anchor="start" stroke="#000" stroke-width="0.25">100</text>
<rect x="166.24" y="438.45" width="2.48" height="2.55" fill="#fff"/><rect x="170.12" y="438.45" width="2.59" height="2.55" fill="#fff"/>
<text x="103.92" y="456.71" font-size="14.20" font-family="Liberation Sans, sans-serif" font-weight="normal" text-anchor="start" stroke="#000" stroke-width="0.25">E/T ratio</text>

<line x1="223.60" y1="257.90" x2="223.60" y2="421.00" stroke="#5a5a5a" stroke-width="1.2"/>
<line x1="223.00" y1="420.40" x2="321.50" y2="420.40" stroke="#5a5a5a" stroke-width="1.2"/>
<line x1="223.60" y1="258.40" x2="226.60" y2="258.40" stroke="#5a5a5a" stroke-width="1"/>
<line x1="223.60" y1="339.40" x2="226.60" y2="339.40" stroke="#5a5a5a" stroke-width="1"/>
<line x1="233.35" y1="420.40" x2="233.35" y2="417.80" stroke="#5a5a5a" stroke-width="0.9"/>
<line x1="239.06" y1="420.40" x2="239.06" y2="417.80" stroke="#5a5a5a" stroke-width="0.9"/>
<line x1="243.11" y1="420.40" x2="243.11" y2="417.80" stroke="#5a5a5a" stroke-width="0.9"/>
<line x1="246.25" y1="420.40" x2="246.25" y2="417.80" stroke="#5a5a5a" stroke-width="0.9"/>
<line x1="248.81" y1="420.40" x2="248.81" y2="417.80" stroke="#5a5a5a" stroke-width="0.9"/>
<line x1="250.98" y1="420.40" x2="250.98" y2="417.80" stroke="#5a5a5a" stroke-width="0.9"/>
<line x1="252.86" y1="420.40" x2="252.86" y2="417.80" stroke="#5a5a5a" stroke-width="0.9"/>
<line x1="254.52" y1="420.40" x2="254.52" y2="417.80" stroke="#5a5a5a" stroke-width="0.9"/>
<line x1="256.00" y1="420.40" x2="256.00" y2="417.40" stroke="#5a5a5a" stroke-width="0.9"/>
<line x1="265.75" y1="420.40" x2="265.75" y2="417.80" stroke="#5a5a5a" stroke-width="0.9"/>
<line x1="271.46" y1="420.40" x2="271.46" y2="417.80" stroke="#5a5a5a" stroke-width="0.9"/>
<line x1="275.51" y1="420.40" x2="275.51" y2="417.80" stroke="#5a5a5a" stroke-width="0.9"/>
<line x1="278.65" y1="420.40" x2="278.65" y2="417.80" stroke="#5a5a5a" stroke-width="0.9"/>
<line x1="281.21" y1="420.40" x2="281.21" y2="417.80" stroke="#5a5a5a" stroke-width="0.9"/>
<line x1="283.38" y1="420.40" x2="283.38" y2="417.80" stroke="#5a5a5a" stroke-width="0.9"/>
<line x1="285.26" y1="420.40" x2="285.26" y2="417.80" stroke="#5a5a5a" stroke-width="0.9"/>
<line x1="286.92" y1="420.40" x2="286.92" y2="417.80" stroke="#5a5a5a" stroke-width="0.9"/>
<line x1="288.40" y1="420.40" x2="288.40" y2="417.40" stroke="#5a5a5a" stroke-width="0.9"/>
<line x1="298.15" y1="420.40" x2="298.15" y2="417.80" stroke="#5a5a5a" stroke-width="0.9"/>
<line x1="303.86" y1="420.40" x2="303.86" y2="417.80" stroke="#5a5a5a" stroke-width="0.9"/>
<line x1="307.91" y1="420.40" x2="307.91" y2="417.80" stroke="#5a5a5a" stroke-width="0.9"/>
<line x1="311.05" y1="420.40" x2="311.05" y2="417.80" stroke="#5a5a5a" stroke-width="0.9"/>
<line x1="313.61" y1="420.40" x2="313.61" y2="417.80" stroke="#5a5a5a" stroke-width="0.9"/>
<line x1="315.78" y1="420.40" x2="315.78" y2="417.80" stroke="#5a5a5a" stroke-width="0.9"/>
<line x1="317.66" y1="420.40" x2="317.66" y2="417.80" stroke="#5a5a5a" stroke-width="0.9"/>
<line x1="319.32" y1="420.40" x2="319.32" y2="417.80" stroke="#5a5a5a" stroke-width="0.9"/>
<polyline points="243.40,413.20 253.50,410.40 263.30,405.50 272.90,400.20 282.80,394.90 292.60,387.90" fill="none" stroke="#333" stroke-width="1"/>
<polyline points="253.50,407.60 263.30,383.40 273.40,341.80 283.00,270.10" fill="none" stroke="#333" stroke-width="1"/>
<circle cx="253.50" cy="407.60" r="4.0" fill="#000"/>
<circle cx="263.30" cy="383.40" r="4.0" fill="#000"/>
<circle cx="273.40" cy="341.80" r="4.0" fill="#000"/>
<circle cx="283.00" cy="270.10" r="4.0" fill="#000"/>
<circle cx="243.40" cy="413.20" r="3.6" fill="#fff" stroke="#1a1a1a" stroke-width="1.3"/>
<circle cx="253.50" cy="410.40" r="3.6" fill="#fff" stroke="#1a1a1a" stroke-width="1.3"/>
<circle cx="263.30" cy="405.50" r="3.6" fill="#fff" stroke="#1a1a1a" stroke-width="1.3"/>
<circle cx="272.90" cy="400.20" r="3.6" fill="#fff" stroke="#1a1a1a" stroke-width="1.3"/>
<circle cx="282.80" cy="394.90" r="3.6" fill="#fff" stroke="#1a1a1a" stroke-width="1.3"/>
<circle cx="292.60" cy="387.90" r="3.6" fill="#fff" stroke="#1a1a1a" stroke-width="1.3"/>
<text x="204.78" y="263.70" font-size="12.05" font-family="Liberation Sans, sans-serif" font-weight="normal" text-anchor="start" stroke="#000" stroke-width="0.25">30</text>

<text x="204.64" y="343.61" font-size="12.05" font-family="Liberation Sans, sans-serif" font-weight="normal" text-anchor="start" stroke="#000" stroke-width="0.25">15</text>
<rect x="204.86" y="342.40" width="2.61" height="2.60" fill="#fff"/><rect x="208.94" y="342.40" width="2.72" height="2.60" fill="#fff"/>
<text x="211.59" y="423.65" font-size="12.05" font-family="Liberation Sans, sans-serif" font-weight="normal" text-anchor="start" stroke="#000" stroke-width="0.25">0</text>

<text x="290.75" y="274.52" font-size="11.03" font-family="Liberation Sans, sans-serif" font-weight="normal" text-anchor="start" stroke="#000" stroke-width="0.25">K562</text>

<text x="287.35" y="376.75" font-size="10.77" font-family="Liberation Sans, sans-serif" font-weight="normal" text-anchor="start" stroke="#000" stroke-width="0.25">Granulocytes</text>

<text x="253.01" y="439.71" font-size="11.31" font-family="Liberation Sans, sans-serif" font-weight="normal" text-anchor="start" stroke="#000" stroke-width="0.25">1</text>
<rect x="253.17" y="438.45" width="2.48" height="2.55" fill="#fff"/><rect x="257.06" y="438.45" width="2.59" height="2.55" fill="#fff"/>
<text x="281.67" y="439.76" font-size="11.31" font-family="Liberation Sans, sans-serif" font-weight="normal" text-anchor="start" stroke="#000" stroke-width="0.25">10</text>
<rect x="281.83" y="438.45" width="2.48" height="2.55" fill="#fff"/><rect x="285.71" y="438.45" width="2.59" height="2.55" fill="#fff"/>
<text x="309.58" y="439.73" font-size="11.31" font-family="Liberation Sans, sans-serif" font-weight="normal" text-anchor="start" stroke="#000" stroke-width="0.25">100</text>
<rect x="309.75" y="438.45" width="2.48" height="2.55" fill="#fff"/><rect x="313.63" y="438.45" width="2.59" height="2.55" fill="#fff"/>
<line x1="380.20" y1="259.30" x2="380.20" y2="422.00" stroke="#5a5a5a" stroke-width="1.2"/>
<line x1="379.60" y1="421.40" x2="477.00" y2="421.40" stroke="#5a5a5a" stroke-width="1.2"/>
<line x1="380.20" y1="259.80" x2="383.20" y2="259.80" stroke="#5a5a5a" stroke-width="1"/>
<line x1="380.20" y1="340.60" x2="383.20" y2="340.60" stroke="#5a5a5a" stroke-width="1"/>
<line x1="389.95" y1="421.40" x2="389.95" y2="418.80" stroke="#5a5a5a" stroke-width="0.9"/>
<line x1="395.66" y1="421.40" x2="395.66" y2="418.80" stroke="#5a5a5a" stroke-width="0.9"/>
<line x1="399.71" y1="421.40" x2="399.71" y2="418.80" stroke="#5a5a5a" stroke-width="0.9"/>
<line x1="402.85" y1="421.40" x2="402.85" y2="418.80" stroke="#5a5a5a" stroke-width="0.9"/>
<line x1="405.41" y1="421.40" x2="405.41" y2="418.80" stroke="#5a5a5a" stroke-width="0.9"/>
<line x1="407.58" y1="421.40" x2="407.58" y2="418.80" stroke="#5a5a5a" stroke-width="0.9"/>
<line x1="409.46" y1="421.40" x2="409.46" y2="418.80" stroke="#5a5a5a" stroke-width="0.9"/>
<line x1="411.12" y1="421.40" x2="411.12" y2="418.80" stroke="#5a5a5a" stroke-width="0.9"/>
<line x1="412.60" y1="421.40" x2="412.60" y2="418.40" stroke="#5a5a5a" stroke-width="0.9"/>
<line x1="422.35" y1="421.40" x2="422.35" y2="418.80" stroke="#5a5a5a" stroke-width="0.9"/>
<line x1="428.06" y1="421.40" x2="428.06" y2="418.80" stroke="#5a5a5a" stroke-width="0.9"/>
<line x1="432.11" y1="421.40" x2="432.11" y2="418.80" stroke="#5a5a5a" stroke-width="0.9"/>
<line x1="435.25" y1="421.40" x2="435.25" y2="418.80" stroke="#5a5a5a" stroke-width="0.9"/>
<line x1="437.81" y1="421.40" x2="437.81" y2="418.80" stroke="#5a5a5a" stroke-width="0.9"/>
<line x1="439.98" y1="421.40" x2="439.98" y2="418.80" stroke="#5a5a5a" stroke-width="0.9"/>
<line x1="441.86" y1="421.40" x2="441.86" y2="418.80" stroke="#5a5a5a" stroke-width="0.9"/>
<line x1="443.52" y1="421.40" x2="443.52" y2="418.80" stroke="#5a5a5a" stroke-width="0.9"/>
<line x1="445.00" y1="421.40" x2="445.00" y2="418.40" stroke="#5a5a5a" stroke-width="0.9"/>
<line x1="454.75" y1="421.40" x2="454.75" y2="418.80" stroke="#5a5a5a" stroke-width="0.9"/>
<line x1="460.46" y1="421.40" x2="460.46" y2="418.80" stroke="#5a5a5a" stroke-width="0.9"/>
<line x1="464.51" y1="421.40" x2="464.51" y2="418.80" stroke="#5a5a5a" stroke-width="0.9"/>
<line x1="467.65" y1="421.40" x2="467.65" y2="418.80" stroke="#5a5a5a" stroke-width="0.9"/>
<line x1="470.21" y1="421.40" x2="470.21" y2="418.80" stroke="#5a5a5a" stroke-width="0.9"/>
<line x1="472.38" y1="421.40" x2="472.38" y2="418.80" stroke="#5a5a5a" stroke-width="0.9"/>
<line x1="474.26" y1="421.40" x2="474.26" y2="418.80" stroke="#5a5a5a" stroke-width="0.9"/>
<line x1="475.92" y1="421.40" x2="475.92" y2="418.80" stroke="#5a5a5a" stroke-width="0.9"/>
<polyline points="401.10,421.30 411.30,418.70 420.90,398.30 430.60,367.00 450.10,347.00" fill="none" stroke="#333" stroke-width="1"/>
<polyline points="411.30,416.20 420.90,412.40 430.60,381.10 450.20,316.90" fill="none" stroke="#333" stroke-width="1"/>
<circle cx="411.30" cy="416.20" r="4.0" fill="#000"/>
<circle cx="420.90" cy="412.40" r="4.0" fill="#000"/>
<circle cx="430.60" cy="381.10" r="4.0" fill="#000"/>
<circle cx="450.20" cy="316.90" r="4.0" fill="#000"/>
<circle cx="401.10" cy="421.30" r="3.6" fill="#fff" stroke="#1a1a1a" stroke-width="1.3"/>
<circle cx="411.30" cy="418.70" r="3.6" fill="#fff" stroke="#1a1a1a" stroke-width="1.3"/>
<circle cx="420.90" cy="398.30" r="3.6" fill="#fff" stroke="#1a1a1a" stroke-width="1.3"/>
<circle cx="430.60" cy="367.00" r="3.6" fill="#fff" stroke="#1a1a1a" stroke-width="1.3"/>
<circle cx="450.10" cy="347.00" r="3.6" fill="#fff" stroke="#1a1a1a" stroke-width="1.3"/>
<text x="362.07" y="263.70" font-size="12.05" font-family="Liberation Sans, sans-serif" font-weight="normal" text-anchor="start" stroke="#000" stroke-width="0.25">30</text>

<text x="362.06" y="343.61" font-size="12.05" font-family="Liberation Sans, sans-serif" font-weight="normal" text-anchor="start" stroke="#000" stroke-width="0.25">15</text>
<rect x="362.27" y="342.40" width="2.61" height="2.60" fill="#fff"/><rect x="366.35" y="342.40" width="2.72" height="2.60" fill="#fff"/>
<text x="369.13" y="423.65" font-size="12.05" font-family="Liberation Sans, sans-serif" font-weight="normal" text-anchor="start" stroke="#000" stroke-width="0.25">0</text>

<text x="457.76" y="320.96" font-size="11.03" font-family="Liberation Sans, sans-serif" font-weight="normal" text-anchor="start" stroke="#000" stroke-width="0.25">K562</text>

<text x="456.99" y="345.65" font-size="10.77" font-family="Liberation Sans, sans-serif" font-weight="normal" text-anchor="start" stroke="#000" stroke-width="0.25">Granulocytes</text>

<text x="411.16" y="439.71" font-size="11.31" font-family="Liberation Sans, sans-serif" font-weight="normal" text-anchor="start" stroke="#000" stroke-width="0.25">1</text>
<rect x="411.33" y="438.45" width="2.48" height="2.55" fill="#fff"/><rect x="415.21" y="438.45" width="2.59" height="2.55" fill="#fff"/>
<text x="439.25" y="439.70" font-size="11.31" font-family="Liberation Sans, sans-serif" font-weight="normal" text-anchor="start" stroke="#000" stroke-width="0.25">10</text>
<rect x="439.41" y="438.45" width="2.48" height="2.55" fill="#fff"/><rect x="443.29" y="438.45" width="2.59" height="2.55" fill="#fff"/>
<text x="467.25" y="439.75" font-size="11.31" font-family="Liberation Sans, sans-serif" font-weight="normal" text-anchor="start" stroke="#000" stroke-width="0.25">100</text>
<rect x="467.41" y="438.45" width="2.48" height="2.55" fill="#fff"/><rect x="471.30" y="438.45" width="2.59" height="2.55" fill="#fff"/>
<text x="-0.36" y="477.82" font-size="11.87" font-family="Liberation Sans, sans-serif" font-weight="normal" text-anchor="start" stroke="#000" stroke-width="0.25">ULBP-exposing</text>

<text x="-0.00" y="489.76" font-size="11.87" font-family="Liberation Sans, sans-serif" font-weight="normal" text-anchor="start" stroke="#000" stroke-width="0.25">granulocytes</text>

<text x="0.15" y="511.94" font-size="11.78" font-family="Liberation Sans, sans-serif" font-weight="normal" text-anchor="start" stroke="#000" stroke-width="0.25">GPI<tspan dy="-4.5" font-size="7">−</tspan><tspan dy="4.5"> granulocytes (%)</tspan></text>

<text x="133.04" y="511.53" font-size="12.83" font-family="Liberation Sans, sans-serif" font-weight="normal" text-anchor="start" stroke="#000" stroke-width="0.25">1</text>
<rect x="133.31" y="510.34" width="2.75" height="2.66" fill="#fff"/><rect x="137.60" y="510.34" width="2.85" height="2.66" fill="#fff"/>
<text x="274.23" y="510.71" font-size="12.83" font-family="Liberation Sans, sans-serif" font-weight="normal" text-anchor="start" stroke="#000" stroke-width="0.25">95</text>

<text x="432.25" y="511.95" font-size="12.83" font-family="Liberation Sans, sans-serif" font-weight="normal" text-anchor="start" stroke="#000" stroke-width="0.25">28</text>

<rect x="133" y="480.8" width="6" height="2.2" fill="#000"/>
<line x1="275.90" y1="479.70" x2="285.10" y2="479.70" stroke="#000" stroke-width="1.5"/>
<line x1="280.50" y1="475.30" x2="280.50" y2="484.10" stroke="#000" stroke-width="1.5"/>
<line x1="435.00" y1="479.80" x2="444.20" y2="479.80" stroke="#000" stroke-width="1.5"/>
<line x1="439.60" y1="475.40" x2="439.60" y2="484.20" stroke="#000" stroke-width="1.5"/>
</g>
</svg></body></html>
